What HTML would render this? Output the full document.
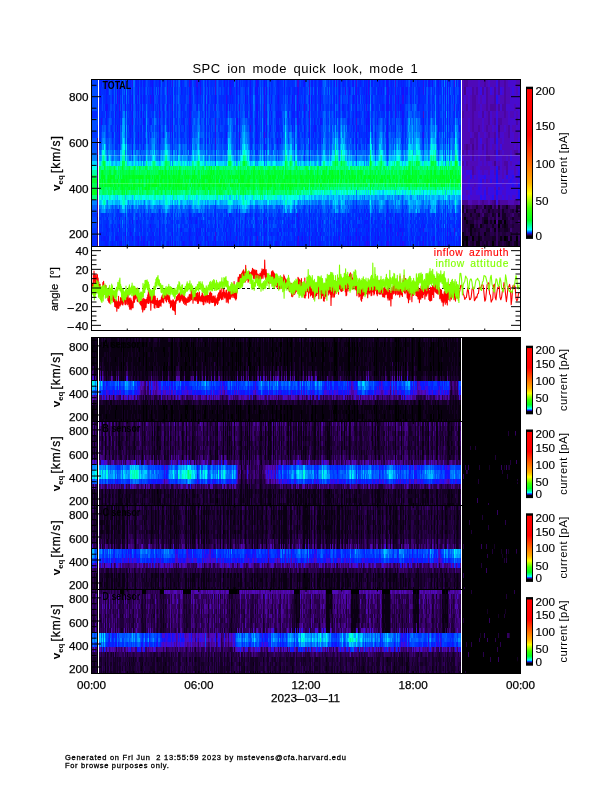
<!DOCTYPE html>
<html><head><meta charset="utf-8"><title>SPC ion mode quick look</title><style>html,body{margin:0;padding:0;background:#fff;overflow:hidden}svg{display:block}</style></head><body><svg width="612" height="792" viewBox="0 0 612 792"><defs>
<linearGradient id="cb" x1="0" y1="1" x2="0" y2="0">
<stop offset="0" stop-color="#000"/>
<stop offset="0.012" stop-color="#300070"/>
<stop offset="0.022" stop-color="#0020ff"/>
<stop offset="0.045" stop-color="#00ffff"/>
<stop offset="0.075" stop-color="#00ff90"/>
<stop offset="0.11" stop-color="#00ff20"/>
<stop offset="0.19" stop-color="#40ff00"/>
<stop offset="0.25" stop-color="#b0ff00"/>
<stop offset="0.29" stop-color="#ffff00"/>
<stop offset="0.364" stop-color="#ffb000"/>
<stop offset="0.453" stop-color="#ff8000"/>
<stop offset="0.60" stop-color="#ff3000"/>
<stop offset="0.69" stop-color="#ff0000"/>
<stop offset="1" stop-color="#ff0000"/>
</linearGradient>
</defs><rect width="612" height="792" fill="#fff"/><rect x="92" y="80" width="428" height="166" fill="#0030ff"/>
<g stroke-width="1" fill="none"><path stroke="#480ace" d="M423.5 111v7"/>
<path stroke="#3a0ce3" d="M189.5 80v7M215.5 80v15M215.5 118v14M215.5 138v6M215.5 232v4M257.5 236v5M264.5 104v7M264.5 132v6M297.5 80v7M298.5 80v7M298.5 236v5M309.5 80v15M309.5 111v7M356.5 80v7M356.5 118v7M395.5 80v7M454.5 80v7M454.5 228v4"/>
<path stroke="#280ef3" d="M101.5 118v7M117.5 95v9M119.5 104v7M125.5 236v5M132.5 80v7M132.5 118v7M141.5 236v5M150.5 95v9M159.5 111v7M167.5 87v8M172.5 80v7M172.5 104v7M172.5 125v7M189.5 95v9M189.5 118v7M190.5 111v7M196.5 80v7M197.5 80v7M200.5 87v8M215.5 104v7M215.5 132v6M215.5 144v6M215.5 236v5M226.5 95v9M230.5 87v8M236.5 236v5M239.5 104v7M239.5 132v6M250.5 125v7M256.5 80v7M264.5 87v17M264.5 111v7M266.5 118v7M297.5 95v9M297.5 118v7M297.5 213v4M297.5 241v5M298.5 87v8M298.5 241v5M304.5 104v7M309.5 104v7M309.5 118v14M309.5 236v10M336.5 80v7M339.5 95v9M339.5 236v5M345.5 87v8M356.5 87v8M356.5 125v7M356.5 228v4M356.5 236v5M366.5 104v7M366.5 241v5M368.5 80v15M368.5 241v5M387.5 87v8M387.5 220v4M387.5 241v5M388.5 241v5M395.5 87v31M397.5 232v4M402.5 95v9M402.5 232v4M403.5 95v9M403.5 241v5M423.5 80v15M423.5 132v6M423.5 228v4M423.5 241v5M447.5 232v4M454.5 104v7M454.5 232v4"/>
<path stroke="#1411fd" d="M100.5 232v4M106.5 104v14M107.5 80v7M107.5 104v7M115.5 111v7M116.5 236v5M117.5 87v8M117.5 125v7M119.5 87v17M119.5 111v7M119.5 125v19M119.5 217v3M119.5 224v8M121.5 241v5M125.5 80v7M125.5 104v7M125.5 217v3M125.5 232v4M130.5 104v7M130.5 232v4M132.5 95v23M132.5 220v4M132.5 236v5M138.5 87v8M138.5 132v6M138.5 236v10M141.5 111v7M143.5 118v7M143.5 241v5M147.5 241v5M150.5 224v4M152.5 80v15M153.5 95v16M153.5 241v5M159.5 80v15M159.5 104v7M159.5 125v7M159.5 138v6M159.5 228v8M167.5 80v7M167.5 104v7M172.5 95v9M172.5 111v14M172.5 132v6M172.5 232v4M172.5 241v5M183.5 241v5M189.5 104v14M189.5 125v19M189.5 217v3M189.5 236v5M190.5 80v31M190.5 118v7M196.5 220v4M196.5 232v4M197.5 87v8M197.5 236v5M200.5 80v7M200.5 228v4M205.5 95v23M205.5 228v13M207.5 236v5M208.5 241v5M214.5 236v5M215.5 95v9M215.5 220v4M215.5 241v5M224.5 80v7M224.5 241v5M226.5 104v14M226.5 132v6M226.5 232v9M227.5 241v5M229.5 213v4M230.5 80v7M230.5 232v4M236.5 80v15M236.5 118v7M236.5 224v8M237.5 118v7M239.5 80v7M239.5 138v6M245.5 95v9M245.5 217v3M245.5 228v4M245.5 241v5M250.5 80v15M250.5 104v7M250.5 236v10M255.5 87v8M255.5 118v7M256.5 104v7M256.5 125v7M256.5 232v4M256.5 241v5M257.5 80v15M257.5 104v14M263.5 220v4M264.5 80v7M264.5 118v14M264.5 138v12M264.5 220v4M264.5 236v10M266.5 87v8M266.5 111v7M266.5 125v13M266.5 220v4M276.5 241v5M277.5 138v6M278.5 95v9M280.5 138v6M284.5 80v7M288.5 224v4M292.5 95v9M294.5 104v7M297.5 87v8M297.5 104v14M297.5 236v5M298.5 217v3M298.5 228v4M299.5 104v7M302.5 236v5M304.5 80v7M304.5 111v7M304.5 125v7M309.5 95v9M309.5 132v18M309.5 220v12M311.5 95v9M315.5 125v7M315.5 241v5M320.5 95v16M320.5 118v7M320.5 232v4M334.5 80v7M339.5 80v15M339.5 104v7M342.5 224v8M347.5 236v5M348.5 224v8M348.5 241v5M349.5 87v8M350.5 236v5M353.5 80v7M353.5 95v9M356.5 95v23M356.5 132v18M356.5 217v3M356.5 232v4M359.5 217v3M359.5 236v10M366.5 87v17M366.5 118v14M366.5 213v4M367.5 236v10M368.5 111v14M368.5 228v4M369.5 95v9M375.5 236v5M378.5 236v5M382.5 224v4M386.5 80v7M386.5 104v7M386.5 224v4M386.5 241v5M387.5 80v7M387.5 95v16M387.5 118v26M387.5 209v4M387.5 228v4M387.5 236v5M388.5 87v24M388.5 220v4M390.5 224v8M395.5 213v7M398.5 95v9M398.5 224v4M400.5 104v7M400.5 228v4M400.5 241v5M401.5 236v5M402.5 87v8M402.5 111v14M402.5 241v5M403.5 87v8M403.5 111v7M423.5 118v7M423.5 236v5M428.5 80v7M429.5 80v7M432.5 80v7M433.5 236v5M434.5 236v5M438.5 80v7M438.5 125v7M438.5 224v4M438.5 241v5M445.5 87v17M445.5 111v7M445.5 241v5M447.5 80v15M447.5 224v8M447.5 236v10M450.5 232v4M459.5 80v7M459.5 236v5"/>
<path stroke="#0a1cff" d="M99.5 241v5M100.5 87v17M101.5 80v7M101.5 236v5M103.5 236v5M104.5 236v5M105.5 80v7M105.5 104v7M105.5 236v10M106.5 80v24M106.5 118v7M106.5 224v4M106.5 232v4M106.5 241v5M107.5 87v8M107.5 217v3M107.5 228v4M107.5 236v10M108.5 236v5M112.5 80v7M112.5 95v9M112.5 132v6M112.5 224v8M112.5 241v5M115.5 118v14M115.5 236v5M116.5 80v7M116.5 104v7M117.5 80v7M117.5 232v14M118.5 236v5M119.5 80v7M119.5 118v7M119.5 241v5M120.5 241v5M121.5 104v7M121.5 236v5M125.5 87v17M125.5 224v8M125.5 241v5M129.5 125v7M129.5 220v4M130.5 80v24M130.5 125v13M130.5 228v4M131.5 232v4M132.5 87v8M132.5 125v7M132.5 138v17M132.5 217v3M136.5 80v7M136.5 95v16M136.5 220v4M136.5 236v5M137.5 220v4M137.5 236v10M138.5 80v7M138.5 95v23M138.5 138v6M138.5 217v3M140.5 224v4M141.5 80v7M141.5 95v16M141.5 125v7M141.5 228v4M141.5 241v5M143.5 80v7M143.5 95v9M143.5 111v7M143.5 144v6M143.5 236v5M144.5 80v24M144.5 118v7M144.5 236v10M150.5 80v7M150.5 118v7M150.5 236v10M151.5 80v7M151.5 95v9M151.5 217v3M151.5 228v4M151.5 236v10M152.5 95v9M152.5 213v4M152.5 232v4M153.5 217v3M153.5 232v9M157.5 241v5M159.5 95v9M159.5 118v7M159.5 132v6M159.5 220v8M159.5 236v10M163.5 104v14M163.5 132v6M163.5 241v5M167.5 95v9M167.5 118v7M167.5 241v5M168.5 125v7M168.5 241v5M170.5 80v7M170.5 95v9M170.5 118v20M170.5 236v10M172.5 87v8M172.5 138v6M172.5 220v4M172.5 228v4M172.5 236v5M175.5 241v5M177.5 228v4M180.5 228v4M181.5 80v15M181.5 104v7M181.5 228v4M181.5 236v5M182.5 241v5M183.5 118v7M183.5 232v4M184.5 125v7M184.5 241v5M189.5 87v8M189.5 213v4M189.5 224v12M189.5 241v5M190.5 125v13M190.5 213v7M190.5 228v8M190.5 241v5M191.5 80v7M191.5 104v7M191.5 125v7M191.5 220v4M191.5 241v5M195.5 220v4M196.5 87v8M196.5 217v3M196.5 228v4M196.5 236v10M197.5 95v16M197.5 228v4M197.5 241v5M198.5 232v4M198.5 241v5M199.5 228v8M200.5 232v4M200.5 241v5M201.5 220v4M205.5 80v15M205.5 118v14M205.5 138v6M205.5 224v4M205.5 241v5M207.5 80v7M207.5 104v7M207.5 138v6M207.5 228v4M208.5 87v17M213.5 241v5M215.5 213v7M215.5 224v8M218.5 224v4M223.5 228v4M224.5 220v8M225.5 228v4M226.5 87v8M226.5 224v4M227.5 80v7M227.5 95v16M227.5 220v4M229.5 80v15M229.5 104v7M229.5 224v4M229.5 241v5M230.5 95v9M230.5 228v4M230.5 236v5M231.5 80v15M231.5 241v5M232.5 80v7M232.5 95v9M233.5 80v7M233.5 241v5M234.5 241v5M236.5 95v23M236.5 125v13M236.5 144v6M236.5 213v4M237.5 232v4M239.5 87v8M239.5 118v14M239.5 144v6M239.5 213v19M239.5 236v10M245.5 87v8M245.5 111v7M245.5 213v4M245.5 220v8M245.5 232v9M246.5 80v7M246.5 236v5M247.5 95v9M247.5 111v7M249.5 241v5M250.5 95v9M250.5 111v7M250.5 213v4M250.5 228v4M251.5 111v7M251.5 228v8M255.5 138v6M255.5 213v11M255.5 232v4M255.5 241v5M256.5 87v17M256.5 111v14M256.5 132v12M256.5 217v15M256.5 236v5M257.5 95v9M257.5 118v7M257.5 132v12M257.5 241v5M258.5 80v7M258.5 241v5M261.5 232v4M263.5 224v4M264.5 213v7M264.5 224v4M264.5 232v4M265.5 232v4M266.5 80v7M266.5 95v16M266.5 217v3M266.5 228v8M266.5 241v5M269.5 87v8M269.5 217v3M269.5 228v4M269.5 241v5M270.5 104v7M270.5 125v7M271.5 95v9M271.5 111v7M271.5 232v4M275.5 241v5M276.5 111v21M277.5 80v7M277.5 95v9M277.5 111v7M277.5 125v7M277.5 232v14M278.5 80v15M278.5 104v28M278.5 217v3M278.5 232v4M278.5 241v5M279.5 111v7M279.5 228v4M280.5 111v7M280.5 228v4M280.5 236v5M281.5 232v4M282.5 241v5M284.5 87v8M284.5 220v4M284.5 228v4M284.5 236v5M286.5 241v5M288.5 95v9M288.5 111v7M288.5 217v3M288.5 232v4M288.5 241v5M289.5 87v8M292.5 111v7M292.5 125v7M292.5 217v7M292.5 228v4M293.5 111v7M294.5 87v17M294.5 111v21M294.5 220v4M294.5 232v14M297.5 220v8M298.5 95v9M298.5 111v27M298.5 220v8M298.5 232v4M299.5 228v4M299.5 241v5M301.5 236v5M302.5 232v4M302.5 241v5M303.5 80v7M304.5 95v9M304.5 132v6M304.5 224v17M305.5 236v10M309.5 209v11M309.5 232v4M311.5 80v7M311.5 220v4M311.5 236v10M312.5 80v7M312.5 232v4M313.5 132v6M314.5 118v14M315.5 80v31M315.5 220v4M315.5 228v4M315.5 236v5M316.5 228v8M318.5 87v8M318.5 236v10M319.5 80v7M319.5 224v4M319.5 241v5M320.5 80v15M320.5 132v12M320.5 213v4M320.5 220v8M320.5 236v10M321.5 80v7M321.5 118v7M321.5 228v4M322.5 220v4M322.5 236v5M327.5 236v5M328.5 217v3M330.5 224v4M330.5 236v5M331.5 241v5M333.5 241v5M334.5 95v23M334.5 220v4M334.5 232v14M335.5 241v5M336.5 95v9M336.5 111v7M336.5 220v4M336.5 232v9M338.5 220v4M338.5 232v14M339.5 111v7M339.5 220v8M339.5 232v4M342.5 104v7M343.5 80v7M343.5 104v7M343.5 220v4M343.5 241v5M345.5 220v4M345.5 228v4M345.5 236v10M347.5 241v5M348.5 80v7M348.5 95v16M348.5 118v7M348.5 213v4M348.5 232v9M349.5 220v4M350.5 241v5M352.5 80v7M352.5 118v7M352.5 241v5M353.5 111v7M353.5 125v7M353.5 138v6M353.5 224v4M353.5 236v10M355.5 87v8M355.5 232v4M355.5 241v5M356.5 205v4M356.5 220v4M356.5 241v5M358.5 87v8M358.5 125v7M358.5 224v4M358.5 232v9M359.5 95v9M359.5 111v7M359.5 132v6M359.5 213v4M359.5 224v4M360.5 80v7M360.5 232v4M362.5 217v3M362.5 236v5M363.5 236v5M364.5 80v15M364.5 104v14M364.5 209v4M364.5 220v8M364.5 236v10M365.5 220v4M365.5 241v5M366.5 80v7M366.5 132v6M366.5 144v6M366.5 220v4M366.5 228v13M367.5 111v14M367.5 138v6M367.5 220v4M367.5 232v4M368.5 125v7M368.5 138v6M368.5 217v11M368.5 236v5M369.5 80v7M369.5 118v14M369.5 213v4M369.5 241v5M371.5 80v7M371.5 217v7M371.5 232v4M372.5 80v7M372.5 104v7M372.5 228v4M373.5 241v5M375.5 132v6M375.5 220v4M375.5 228v8M375.5 241v5M377.5 118v7M377.5 228v18M378.5 87v8M378.5 217v3M378.5 232v4M379.5 80v7M380.5 232v4M381.5 87v8M381.5 241v5M382.5 104v7M383.5 80v15M383.5 104v7M383.5 228v4M386.5 95v9M386.5 125v13M386.5 213v11M386.5 228v8M387.5 111v7M387.5 144v6M387.5 224v4M387.5 232v4M388.5 80v7M388.5 224v4M388.5 236v5M390.5 95v16M390.5 213v4M390.5 232v14M391.5 80v38M391.5 224v8M391.5 236v10M392.5 232v4M393.5 80v7M395.5 118v14M395.5 220v26M397.5 220v4M398.5 80v7M398.5 104v7M398.5 220v4M398.5 228v13M399.5 228v4M400.5 236v5M401.5 80v15M401.5 104v7M401.5 228v4M401.5 241v5M402.5 104v7M402.5 125v13M402.5 213v11M402.5 228v4M403.5 80v7M403.5 104v7M403.5 118v7M403.5 217v15M404.5 241v5M405.5 87v17M405.5 236v10M406.5 87v8M407.5 87v8M407.5 236v5M410.5 95v9M410.5 220v4M410.5 241v5M411.5 80v7M411.5 213v4M411.5 228v8M412.5 236v5M413.5 241v5M417.5 80v7M417.5 236v10M418.5 87v24M418.5 236v5M419.5 87v17M419.5 228v4M419.5 236v10M420.5 228v8M420.5 241v5M421.5 224v4M422.5 132v6M422.5 220v4M422.5 241v5M423.5 104v7M423.5 125v7M423.5 138v6M423.5 217v3M423.5 224v4M424.5 224v4M425.5 87v8M425.5 232v14M426.5 232v4M428.5 95v9M428.5 111v7M428.5 232v9M429.5 241v5M432.5 224v4M433.5 241v5M436.5 224v4M437.5 80v7M437.5 232v4M438.5 87v38M438.5 217v3M438.5 228v4M438.5 236v5M439.5 241v5M440.5 80v7M441.5 213v4M441.5 228v4M443.5 80v24M443.5 118v14M443.5 224v8M443.5 236v10M445.5 80v7M445.5 104v7M445.5 118v7M445.5 138v6M445.5 224v17M447.5 95v37M447.5 138v6M447.5 213v7M449.5 80v31M449.5 118v7M449.5 217v3M449.5 224v8M449.5 236v5M451.5 236v5M453.5 236v5M454.5 87v17M454.5 111v7M454.5 213v4M454.5 224v4M454.5 241v5M456.5 80v7M456.5 241v5M458.5 104v7M458.5 224v4M459.5 87v17M459.5 125v7M459.5 220v8M459.5 241v5M460.5 217v3"/>
<path stroke="#0329ff" d="M99.5 80v7M99.5 104v7M99.5 224v4M99.5 236v5M100.5 80v7M100.5 104v7M100.5 118v26M101.5 95v9M101.5 111v7M101.5 224v4M101.5 232v4M101.5 241v5M102.5 111v7M102.5 236v5M103.5 80v7M103.5 232v4M103.5 241v5M104.5 87v8M104.5 241v5M105.5 95v9M105.5 224v4M106.5 125v7M106.5 220v4M106.5 228v4M106.5 236v5M107.5 95v9M107.5 111v7M107.5 220v8M108.5 80v7M108.5 111v7M108.5 228v8M111.5 125v7M111.5 241v5M112.5 87v8M112.5 118v7M112.5 138v6M112.5 217v3M112.5 232v9M113.5 80v7M113.5 95v9M113.5 132v6M113.5 232v4M113.5 241v5M115.5 87v24M115.5 144v6M115.5 217v3M115.5 232v4M115.5 241v5M116.5 228v8M117.5 104v21M117.5 132v12M117.5 213v7M117.5 224v4M118.5 80v24M118.5 118v7M118.5 138v6M118.5 209v4M118.5 224v4M119.5 144v6M119.5 213v4M119.5 232v9M121.5 80v24M121.5 111v14M121.5 220v4M121.5 232v4M123.5 232v4M125.5 111v7M125.5 220v4M127.5 87v17M127.5 138v6M127.5 232v14M128.5 213v4M128.5 228v4M129.5 87v31M129.5 138v6M129.5 224v22M130.5 111v14M130.5 224v4M130.5 236v10M131.5 111v14M131.5 241v5M132.5 132v6M132.5 228v8M132.5 241v5M135.5 95v9M135.5 232v14M136.5 87v8M136.5 111v7M136.5 132v12M136.5 213v4M136.5 224v4M136.5 241v5M137.5 80v15M137.5 224v12M138.5 118v14M138.5 144v6M138.5 224v4M138.5 232v4M140.5 80v24M140.5 125v7M140.5 138v6M140.5 220v4M140.5 228v4M140.5 241v5M141.5 87v8M141.5 132v12M141.5 213v4M141.5 224v4M141.5 232v4M142.5 241v5M143.5 87v8M143.5 125v13M143.5 213v4M143.5 224v12M144.5 104v7M144.5 125v19M144.5 213v7M144.5 228v8M145.5 138v6M145.5 228v18M147.5 228v4M148.5 95v9M148.5 111v7M148.5 138v6M148.5 236v5M149.5 104v7M149.5 118v7M149.5 224v4M149.5 232v9M150.5 87v8M150.5 132v6M150.5 217v3M150.5 228v8M151.5 104v7M151.5 118v7M151.5 220v8M151.5 232v4M152.5 104v7M152.5 224v4M152.5 236v10M153.5 80v15M153.5 224v4M154.5 236v5M156.5 80v7M156.5 228v4M156.5 236v10M157.5 87v8M157.5 104v7M157.5 213v4M157.5 228v4M157.5 236v5M158.5 95v9M158.5 241v5M159.5 144v6M159.5 209v11M160.5 80v7M160.5 111v7M160.5 213v4M160.5 224v4M160.5 232v14M162.5 104v7M162.5 228v4M163.5 80v15M163.5 118v7M163.5 213v7M163.5 224v17M164.5 232v4M166.5 224v4M167.5 111v7M167.5 220v4M167.5 232v4M168.5 95v30M168.5 228v4M168.5 236v5M169.5 87v8M169.5 217v3M170.5 104v14M170.5 217v3M170.5 228v4M171.5 87v8M171.5 213v4M171.5 220v4M171.5 228v8M172.5 144v11M172.5 213v7M172.5 224v4M174.5 87v8M174.5 241v5M175.5 80v45M177.5 104v14M177.5 132v6M177.5 220v4M180.5 125v7M180.5 232v4M181.5 111v14M181.5 132v6M181.5 220v8M182.5 87v8M182.5 236v5M183.5 80v7M183.5 104v14M183.5 213v11M184.5 95v9M184.5 118v7M184.5 224v4M184.5 236v5M185.5 87v8M185.5 232v4M185.5 241v5M186.5 232v4M186.5 241v5M187.5 104v7M187.5 138v6M187.5 217v3M187.5 236v5M188.5 118v7M188.5 232v14M189.5 144v6M189.5 220v4M190.5 138v6M190.5 220v4M190.5 236v5M191.5 87v17M191.5 144v6M191.5 217v3M191.5 232v9M192.5 217v3M192.5 232v4M192.5 241v5M195.5 80v7M195.5 217v3M195.5 224v4M195.5 236v5M196.5 95v16M197.5 217v11M197.5 232v4M198.5 87v8M198.5 213v4M198.5 228v4M198.5 236v5M199.5 80v7M199.5 213v4M199.5 224v4M199.5 236v5M200.5 95v9M200.5 118v7M200.5 224v4M201.5 213v4M201.5 224v4M202.5 224v4M205.5 132v6M205.5 220v4M207.5 111v7M207.5 217v7M207.5 241v5M208.5 80v7M208.5 125v7M208.5 224v8M210.5 111v27M210.5 217v3M210.5 232v14M211.5 80v7M211.5 95v9M211.5 228v8M212.5 228v4M212.5 241v5M213.5 87v8M214.5 95v16M214.5 213v4M214.5 241v5M215.5 111v7M215.5 150v5M215.5 209v4M216.5 232v4M219.5 80v7M219.5 95v9M219.5 118v7M220.5 236v10M221.5 87v38M221.5 132v12M223.5 95v9M223.5 236v5M224.5 87v24M224.5 138v6M224.5 232v4M225.5 87v8M225.5 125v19M225.5 217v3M225.5 241v5M226.5 80v7M226.5 125v7M226.5 138v6M226.5 209v8M226.5 220v4M226.5 228v4M226.5 241v5M227.5 87v8M227.5 236v5M228.5 220v4M228.5 236v10M229.5 95v9M229.5 228v4M229.5 236v5M230.5 213v7M230.5 241v5M231.5 95v9M231.5 213v4M231.5 220v12M232.5 87v8M232.5 241v5M233.5 95v9M233.5 217v7M233.5 228v4M233.5 236v5M234.5 220v4M236.5 138v6M236.5 209v4M236.5 220v4M236.5 232v4M236.5 241v5M237.5 80v15M237.5 125v7M237.5 236v5M239.5 95v9M239.5 111v7M239.5 232v4M241.5 224v4M241.5 232v4M242.5 220v4M244.5 236v10M245.5 80v7M245.5 104v7M246.5 95v23M246.5 213v4M246.5 228v4M247.5 80v7M247.5 104v7M247.5 220v4M247.5 228v18M249.5 87v8M249.5 220v4M249.5 232v4M250.5 132v12M250.5 220v4M250.5 232v4M251.5 87v8M251.5 104v7M251.5 118v7M251.5 138v12M251.5 224v4M251.5 236v10M252.5 232v14M254.5 232v4M255.5 80v7M255.5 95v16M255.5 125v13M256.5 213v4M257.5 125v7M257.5 150v5M257.5 220v4M257.5 228v8M258.5 95v9M258.5 125v7M258.5 138v6M258.5 213v4M258.5 228v8M259.5 104v14M259.5 224v4M259.5 241v5M261.5 236v10M263.5 132v6M263.5 241v5M264.5 228v4M265.5 111v7M265.5 220v4M265.5 228v4M265.5 236v5M266.5 144v6M266.5 224v4M266.5 236v5M269.5 95v9M269.5 118v7M269.5 132v6M269.5 220v4M270.5 217v3M270.5 232v4M270.5 241v5M271.5 80v7M271.5 118v7M271.5 213v4M271.5 241v5M272.5 232v14M273.5 232v4M276.5 87v8M276.5 104v7M276.5 132v12M276.5 232v4M277.5 87v8M277.5 104v7M277.5 118v7M277.5 144v6M277.5 228v4M278.5 132v12M278.5 220v8M278.5 236v5M279.5 80v31M279.5 125v13M279.5 241v5M280.5 80v7M280.5 104v7M280.5 118v7M280.5 217v3M280.5 224v4M281.5 111v7M281.5 125v7M281.5 228v4M282.5 87v8M283.5 217v3M283.5 228v4M284.5 213v4M284.5 232v4M284.5 241v5M285.5 224v4M286.5 228v4M286.5 236v5M287.5 236v10M288.5 80v15M288.5 220v4M288.5 228v4M288.5 236v5M289.5 95v9M289.5 224v8M289.5 241v5M290.5 224v4M290.5 241v5M291.5 104v7M291.5 118v7M291.5 220v4M291.5 228v4M291.5 241v5M292.5 80v15M292.5 104v7M292.5 118v7M292.5 224v4M292.5 232v4M292.5 241v5M293.5 87v24M293.5 220v4M293.5 228v8M294.5 138v12M294.5 213v4M296.5 213v4M296.5 236v10M297.5 217v3M297.5 228v8M298.5 104v7M298.5 213v4M299.5 118v7M299.5 213v7M299.5 224v4M299.5 232v9M300.5 111v14M300.5 236v10M301.5 80v15M301.5 232v4M301.5 241v5M303.5 118v7M303.5 241v5M304.5 87v8M304.5 118v7M304.5 138v6M304.5 150v5M304.5 209v11M304.5 241v5M305.5 104v7M305.5 224v4M305.5 232v4M306.5 104v7M306.5 220v4M306.5 232v14M307.5 228v4M309.5 155v6M309.5 205v4M311.5 104v14M311.5 125v13M312.5 87v8M312.5 220v4M312.5 236v10M313.5 125v7M313.5 213v7M313.5 232v14M314.5 80v15M314.5 138v6M314.5 224v17M315.5 132v12M315.5 217v3M315.5 232v4M316.5 87v8M316.5 104v7M316.5 125v7M316.5 224v4M316.5 241v5M317.5 232v4M318.5 80v7M318.5 95v9M318.5 111v14M318.5 224v8M319.5 87v31M319.5 125v19M319.5 217v7M319.5 228v4M319.5 236v5M320.5 125v7M320.5 209v4M321.5 232v4M321.5 241v5M322.5 95v9M322.5 228v4M322.5 241v5M323.5 232v4M326.5 224v4M326.5 236v10M327.5 228v4M327.5 241v5M328.5 80v15M328.5 224v8M328.5 241v5M330.5 104v7M330.5 217v3M330.5 228v4M331.5 80v7M331.5 95v16M331.5 228v13M333.5 220v4M333.5 228v4M333.5 236v5M334.5 87v8M334.5 213v4M336.5 118v7M336.5 213v4M336.5 224v8M336.5 241v5M338.5 80v15M338.5 224v8M339.5 118v14M339.5 217v3M339.5 228v4M339.5 241v5M340.5 241v5M342.5 80v7M342.5 95v9M342.5 220v4M342.5 232v14M343.5 111v7M343.5 228v13M344.5 80v7M344.5 111v7M345.5 80v7M345.5 111v7M345.5 224v4M345.5 232v4M346.5 224v4M346.5 232v9M347.5 104v7M347.5 118v7M347.5 228v8M348.5 87v8M348.5 111v7M348.5 220v4M349.5 80v7M349.5 111v14M349.5 217v3M349.5 228v4M349.5 236v10M350.5 87v8M350.5 217v3M350.5 224v4M350.5 232v4M352.5 95v16M352.5 138v6M352.5 213v4M352.5 236v5M353.5 87v8M353.5 118v7M353.5 132v6M353.5 209v4M353.5 220v4M353.5 228v8M354.5 95v9M354.5 220v4M354.5 241v5M355.5 80v7M355.5 104v14M355.5 132v6M355.5 224v4M355.5 236v5M356.5 150v5M356.5 209v8M357.5 111v7M357.5 228v18M358.5 80v7M358.5 95v9M358.5 111v7M358.5 209v4M358.5 228v4M358.5 241v5M359.5 80v7M359.5 118v7M359.5 144v6M359.5 232v4M360.5 118v7M360.5 224v4M360.5 236v10M361.5 80v7M361.5 95v9M361.5 132v6M361.5 209v4M361.5 224v4M361.5 232v4M361.5 241v5M362.5 87v8M362.5 213v4M362.5 220v4M362.5 228v4M363.5 87v17M363.5 224v8M363.5 241v5M364.5 118v7M364.5 132v18M364.5 213v4M364.5 232v4M365.5 80v7M365.5 95v9M365.5 236v5M366.5 111v7M366.5 138v6M366.5 205v4M366.5 224v4M367.5 95v9M367.5 132v6M367.5 209v4M367.5 224v8M368.5 95v16M368.5 213v4M368.5 232v4M369.5 87v8M369.5 111v7M369.5 217v3M369.5 224v17M371.5 95v9M371.5 125v7M371.5 236v10M372.5 95v9M372.5 217v3M372.5 224v4M372.5 232v14M373.5 228v8M374.5 87v8M374.5 224v4M374.5 236v10M375.5 80v15M375.5 111v21M375.5 138v12M375.5 209v4M375.5 224v4M376.5 104v7M376.5 228v4M377.5 80v31M377.5 213v4M378.5 104v14M378.5 220v12M379.5 87v17M379.5 217v3M379.5 236v5M380.5 80v31M380.5 220v4M380.5 228v4M380.5 236v10M381.5 104v7M381.5 224v4M381.5 236v5M382.5 80v7M382.5 95v9M382.5 220v4M382.5 232v14M383.5 111v7M383.5 220v8M383.5 232v14M384.5 111v7M384.5 220v4M384.5 232v4M386.5 87v8M386.5 111v14M386.5 138v12M387.5 150v5M387.5 205v4M387.5 213v7M388.5 111v7M388.5 213v4M388.5 232v4M389.5 224v4M390.5 80v7M390.5 111v7M391.5 125v7M391.5 217v3M391.5 232v4M392.5 87v8M392.5 213v4M393.5 87v8M393.5 232v4M393.5 241v5M394.5 228v4M394.5 241v5M395.5 132v6M396.5 95v9M396.5 111v7M396.5 228v4M396.5 236v10M397.5 87v17M397.5 217v3M397.5 228v4M397.5 236v10M398.5 87v8M398.5 111v7M398.5 213v7M398.5 241v5M399.5 80v15M399.5 232v4M399.5 241v5M400.5 80v7M400.5 111v7M400.5 224v4M400.5 232v4M401.5 95v9M401.5 111v7M401.5 138v6M401.5 213v4M401.5 224v4M401.5 232v4M402.5 80v7M402.5 138v12M402.5 209v4M402.5 224v4M402.5 236v5M403.5 125v7M403.5 232v4M404.5 80v7M404.5 104v7M404.5 228v4M404.5 236v5M405.5 80v7M405.5 125v13M405.5 213v4M405.5 220v4M405.5 228v8M406.5 224v8M406.5 236v5M407.5 111v7M407.5 217v3M407.5 232v4M407.5 241v5M410.5 80v15M410.5 228v4M411.5 87v17M411.5 217v3M411.5 224v4M411.5 236v5M412.5 224v4M413.5 87v17M413.5 213v4M413.5 224v17M415.5 220v12M415.5 236v10M416.5 224v4M416.5 232v14M417.5 104v7M417.5 213v4M417.5 220v8M417.5 232v4M418.5 80v7M418.5 213v19M419.5 213v4M419.5 224v4M420.5 80v24M420.5 236v5M421.5 80v24M421.5 118v7M421.5 217v3M421.5 228v8M421.5 241v5M422.5 80v45M422.5 213v4M422.5 224v17M423.5 95v9M423.5 144v6M423.5 220v4M423.5 232v4M424.5 232v4M425.5 80v7M425.5 95v9M425.5 213v11M426.5 80v7M426.5 236v5M428.5 104v7M428.5 118v7M428.5 224v4M428.5 241v5M429.5 87v38M429.5 224v4M429.5 236v5M430.5 80v7M430.5 217v3M430.5 241v5M431.5 236v5M432.5 87v17M432.5 111v7M432.5 220v4M432.5 232v14M433.5 95v9M433.5 217v3M433.5 224v12M434.5 87v8M434.5 104v7M434.5 213v4M434.5 220v4M434.5 228v8M434.5 241v5M436.5 87v8M437.5 87v17M437.5 118v7M437.5 138v6M437.5 217v3M437.5 224v8M437.5 236v5M438.5 132v12M438.5 205v4M438.5 220v4M439.5 87v8M439.5 111v7M439.5 228v8M440.5 87v8M440.5 220v8M440.5 236v10M441.5 95v9M441.5 220v4M443.5 111v7M443.5 132v6M443.5 213v11M443.5 232v4M445.5 132v6M445.5 205v12M445.5 220v4M447.5 132v6M447.5 220v4M448.5 241v5M449.5 111v7M449.5 132v12M449.5 220v4M449.5 232v4M449.5 241v5M450.5 95v9M450.5 220v4M450.5 228v4M450.5 236v10M451.5 241v5M452.5 220v4M453.5 87v8M453.5 111v7M453.5 213v4M453.5 224v4M453.5 241v5M454.5 217v7M454.5 236v5M455.5 228v4M456.5 111v7M456.5 220v8M456.5 236v5M457.5 111v7M457.5 224v8M458.5 80v7M458.5 217v7M458.5 232v14M459.5 111v7M459.5 138v6M459.5 228v4M460.5 80v7M460.5 95v9M460.5 125v7M460.5 209v4M460.5 220v12M460.5 236v5"/>
<path stroke="#0041ff" d="M99.5 132v6M99.5 144v6M99.5 209v8M100.5 213v4M100.5 220v4M101.5 132v6M102.5 80v7M102.5 217v15M103.5 118v7M104.5 80v7M104.5 104v7M104.5 118v7M104.5 213v7M105.5 217v3M106.5 138v6M107.5 144v6M107.5 213v4M108.5 118v7M108.5 132v6M109.5 111v7M109.5 232v4M109.5 241v5M110.5 95v9M110.5 125v7M110.5 213v4M110.5 224v12M111.5 87v17M111.5 132v6M111.5 213v7M111.5 232v4M112.5 144v6M113.5 104v7M113.5 125v7M113.5 138v6M113.5 209v8M113.5 224v4M114.5 228v4M115.5 80v7M115.5 209v8M115.5 220v4M116.5 125v7M116.5 209v4M116.5 217v11M116.5 241v5M118.5 217v3M119.5 150v5M120.5 80v7M120.5 95v9M120.5 118v7M120.5 217v3M120.5 224v4M121.5 125v7M121.5 217v3M122.5 213v4M122.5 228v8M122.5 241v5M123.5 80v15M123.5 213v11M123.5 228v4M124.5 95v9M124.5 224v8M124.5 236v10M125.5 118v7M125.5 132v6M127.5 132v6M127.5 213v4M127.5 220v4M127.5 228v4M128.5 87v8M128.5 111v7M128.5 132v6M128.5 217v11M128.5 232v4M129.5 144v6M131.5 87v8M131.5 104v7M131.5 138v6M131.5 220v4M132.5 205v4M133.5 220v4M133.5 232v4M134.5 236v10M135.5 104v7M135.5 132v6M135.5 213v19M136.5 217v3M137.5 95v9M137.5 111v14M137.5 144v6M137.5 217v3M138.5 209v4M139.5 80v7M139.5 104v7M139.5 118v26M139.5 217v3M139.5 224v4M140.5 104v7M140.5 118v7M140.5 150v5M140.5 209v4M140.5 217v3M140.5 236v5M141.5 209v4M142.5 80v24M142.5 118v7M142.5 217v3M142.5 224v4M142.5 232v4M143.5 217v3M144.5 111v7M144.5 144v6M145.5 87v8M145.5 213v4M146.5 95v9M146.5 224v17M147.5 80v7M147.5 95v23M147.5 213v4M147.5 224v4M148.5 87v8M148.5 118v14M148.5 209v4M148.5 220v4M148.5 241v5M149.5 217v3M149.5 228v4M149.5 241v5M150.5 125v7M150.5 209v8M151.5 111v7M152.5 125v7M153.5 118v14M154.5 80v7M154.5 217v7M155.5 111v7M155.5 125v7M155.5 213v11M155.5 228v4M156.5 95v16M156.5 125v7M156.5 213v15M157.5 95v9M157.5 132v6M157.5 144v6M157.5 220v8M158.5 104v14M158.5 125v7M158.5 213v4M158.5 228v8M159.5 150v5M160.5 87v24M160.5 118v7M160.5 209v4M160.5 217v3M161.5 95v9M161.5 217v19M162.5 111v14M162.5 132v6M162.5 213v4M162.5 236v5M164.5 87v8M164.5 104v7M164.5 213v7M164.5 241v5M165.5 236v5M166.5 104v7M166.5 118v7M166.5 217v3M166.5 232v9M168.5 217v7M169.5 104v28M169.5 220v4M169.5 232v4M170.5 144v6M170.5 209v8M170.5 232v4M171.5 80v7M171.5 138v6M171.5 217v3M171.5 236v10M172.5 205v4M173.5 236v5M174.5 80v7M174.5 95v9M174.5 138v6M175.5 209v4M175.5 217v3M176.5 87v8M176.5 236v10M177.5 95v9M177.5 150v5M177.5 217v3M177.5 236v5M178.5 232v14M179.5 118v7M179.5 213v11M179.5 228v8M180.5 87v8M180.5 104v21M180.5 138v6M180.5 217v7M180.5 241v5M181.5 125v7M181.5 144v6M181.5 209v8M181.5 232v4M182.5 111v7M182.5 125v7M182.5 138v6M182.5 224v4M183.5 125v7M183.5 138v6M183.5 224v4M184.5 80v7M184.5 132v6M184.5 213v4M184.5 228v4M185.5 220v4M185.5 228v4M186.5 87v8M186.5 111v27M186.5 213v7M186.5 228v4M187.5 95v9M187.5 118v7M187.5 220v4M187.5 228v4M188.5 87v17M188.5 138v12M188.5 209v11M190.5 144v11M190.5 209v4M192.5 87v8M192.5 104v7M192.5 118v7M192.5 228v4M193.5 80v7M193.5 111v7M193.5 213v4M193.5 224v4M193.5 241v5M194.5 95v9M194.5 111v7M194.5 224v4M194.5 236v5M195.5 111v7M195.5 213v4M196.5 111v14M197.5 111v7M198.5 220v8M199.5 104v7M200.5 125v7M201.5 95v9M201.5 111v7M201.5 125v7M201.5 138v6M201.5 217v3M201.5 232v4M202.5 104v7M202.5 138v6M202.5 217v3M202.5 232v4M202.5 241v5M203.5 220v4M203.5 241v5M204.5 80v7M204.5 95v16M204.5 125v13M204.5 217v3M205.5 150v5M205.5 209v4M206.5 224v4M206.5 241v5M207.5 87v8M207.5 144v6M207.5 224v4M208.5 104v14M208.5 132v6M208.5 213v4M208.5 232v4M209.5 80v7M209.5 95v9M209.5 224v4M209.5 232v4M210.5 95v9M211.5 118v7M211.5 132v6M212.5 87v8M212.5 118v7M212.5 132v6M212.5 144v6M212.5 213v11M212.5 232v9M213.5 138v6M213.5 220v4M214.5 87v8M214.5 111v21M214.5 138v12M214.5 217v3M214.5 232v4M216.5 80v15M216.5 111v14M216.5 220v4M216.5 236v5M217.5 209v4M217.5 228v8M218.5 80v24M218.5 118v7M218.5 209v4M218.5 228v4M219.5 87v8M219.5 111v7M219.5 138v6M219.5 209v8M219.5 220v4M220.5 118v7M220.5 138v6M220.5 220v8M221.5 125v7M221.5 144v6M221.5 209v4M221.5 224v4M221.5 236v5M222.5 80v15M222.5 104v7M222.5 125v7M222.5 217v11M222.5 236v5M223.5 87v8M223.5 104v40M223.5 217v7M223.5 232v4M223.5 241v5M224.5 118v7M224.5 144v6M224.5 213v4M225.5 144v6M225.5 209v4M225.5 220v8M225.5 232v9M226.5 144v6M227.5 228v4M228.5 80v7M229.5 111v7M229.5 217v3M230.5 104v7M232.5 104v7M232.5 213v4M232.5 220v4M233.5 118v7M233.5 132v6M233.5 213v4M234.5 111v14M234.5 209v11M234.5 224v4M235.5 87v17M235.5 111v7M235.5 213v7M235.5 232v4M236.5 150v5M237.5 104v7M237.5 217v7M238.5 87v8M238.5 213v7M238.5 232v14M240.5 80v24M240.5 118v7M240.5 132v6M240.5 228v4M241.5 104v14M241.5 217v3M242.5 80v7M242.5 104v7M242.5 213v4M242.5 224v12M242.5 241v5M243.5 87v17M243.5 228v4M244.5 87v8M244.5 104v7M244.5 217v7M246.5 224v4M247.5 118v7M247.5 217v3M248.5 80v7M248.5 104v7M248.5 118v7M248.5 213v7M248.5 224v4M248.5 236v5M249.5 104v14M249.5 132v6M249.5 217v3M249.5 224v4M250.5 150v5M251.5 209v4M252.5 132v6M252.5 209v4M252.5 217v3M253.5 220v4M253.5 241v5M254.5 213v4M254.5 228v4M254.5 236v10M255.5 209v4M256.5 144v6M257.5 205v8M258.5 87v8M258.5 118v7M258.5 209v4M259.5 80v7M259.5 138v12M259.5 217v7M259.5 232v4M260.5 228v4M260.5 236v10M261.5 132v12M261.5 209v11M261.5 224v4M262.5 232v4M263.5 95v9M263.5 138v12M263.5 217v3M263.5 236v5M264.5 155v6M264.5 205v4M265.5 87v8M265.5 125v7M265.5 209v8M265.5 224v4M267.5 213v4M267.5 224v8M267.5 236v10M268.5 217v3M268.5 232v4M268.5 241v5M269.5 104v7M269.5 144v6M269.5 209v4M270.5 80v24M270.5 111v14M270.5 132v6M270.5 213v4M270.5 220v4M270.5 236v5M271.5 104v7M271.5 125v13M271.5 144v6M271.5 228v4M272.5 95v43M272.5 213v4M272.5 224v8M273.5 80v15M273.5 144v6M273.5 236v5M274.5 87v8M274.5 118v14M274.5 213v4M274.5 236v5M275.5 80v7M275.5 111v14M275.5 138v6M275.5 217v3M276.5 144v6M276.5 209v8M276.5 224v4M277.5 132v6M277.5 220v4M278.5 150v5M278.5 228v4M279.5 118v7M279.5 144v6M279.5 232v4M280.5 132v6M280.5 220v4M280.5 232v4M280.5 241v5M281.5 104v7M281.5 213v4M281.5 224v4M281.5 236v10M282.5 104v7M282.5 118v7M282.5 138v6M282.5 217v3M282.5 224v4M282.5 232v9M283.5 87v8M283.5 104v7M283.5 220v4M283.5 232v4M284.5 104v7M285.5 220v4M285.5 232v4M285.5 241v5M286.5 80v7M286.5 95v9M286.5 213v4M287.5 104v14M287.5 217v3M287.5 224v4M287.5 232v4M288.5 125v7M288.5 138v6M289.5 118v14M289.5 213v4M290.5 95v16M290.5 213v7M290.5 232v4M291.5 87v17M291.5 213v7M291.5 224v4M291.5 232v9M292.5 132v6M293.5 125v7M293.5 217v3M293.5 224v4M294.5 224v4M295.5 111v7M295.5 241v5M296.5 80v7M296.5 95v16M296.5 228v4M297.5 138v12M298.5 209v4M299.5 111v7M299.5 125v7M300.5 80v7M300.5 138v12M300.5 209v8M300.5 220v4M300.5 228v4M301.5 95v9M301.5 118v7M301.5 132v6M302.5 104v7M302.5 209v15M303.5 87v17M303.5 111v7M303.5 132v12M303.5 205v4M303.5 224v4M305.5 138v6M305.5 205v4M305.5 213v4M305.5 228v4M306.5 87v8M306.5 125v7M307.5 87v8M307.5 213v4M307.5 220v4M308.5 80v7M308.5 95v9M308.5 118v14M310.5 217v3M310.5 228v13M311.5 232v4M312.5 205v15M313.5 80v7M313.5 104v7M313.5 118v7M313.5 138v6M313.5 224v4M314.5 132v6M314.5 144v11M314.5 209v4M314.5 217v3M315.5 150v5M315.5 205v4M316.5 118v7M316.5 138v6M316.5 213v11M317.5 80v7M317.5 95v9M317.5 132v12M317.5 213v4M318.5 132v6M318.5 144v6M318.5 209v4M318.5 232v4M319.5 118v7M319.5 144v6M319.5 213v4M320.5 150v5M321.5 104v7M321.5 125v13M321.5 205v8M321.5 220v8M322.5 80v15M322.5 111v7M322.5 125v13M322.5 213v7M323.5 213v19M324.5 217v3M324.5 224v4M324.5 236v5M325.5 87v24M325.5 213v4M325.5 224v4M325.5 232v4M325.5 241v5M326.5 80v24M326.5 125v13M326.5 144v6M326.5 209v11M326.5 228v4M327.5 80v7M327.5 95v9M327.5 111v33M327.5 224v4M327.5 232v4M328.5 111v7M328.5 132v6M328.5 205v4M329.5 209v4M329.5 236v5M330.5 95v9M330.5 118v26M330.5 205v4M330.5 213v4M331.5 111v14M331.5 132v12M331.5 205v4M331.5 217v3M331.5 224v4M332.5 104v7M332.5 217v29M333.5 111v7M333.5 224v4M334.5 217v3M335.5 232v4M336.5 104v7M336.5 125v7M337.5 111v7M337.5 232v4M338.5 118v14M339.5 205v8M340.5 95v23M340.5 217v7M340.5 236v5M341.5 80v7M341.5 232v4M343.5 95v9M343.5 213v4M344.5 87v17M344.5 213v4M344.5 224v4M344.5 236v5M345.5 95v9M346.5 95v16M346.5 217v3M347.5 87v8M347.5 111v7M347.5 138v6M348.5 132v6M348.5 205v4M349.5 125v19M349.5 224v4M350.5 95v16M350.5 118v14M350.5 209v4M350.5 220v4M350.5 228v4M351.5 80v7M351.5 111v14M351.5 132v6M351.5 209v4M351.5 232v4M352.5 125v13M352.5 144v6M353.5 144v11M353.5 200v5M354.5 104v21M354.5 217v3M354.5 228v4M355.5 125v7M355.5 144v6M357.5 80v7M357.5 118v7M357.5 205v8M358.5 104v7M358.5 118v7M358.5 132v18M358.5 205v4M358.5 220v4M359.5 220v4M360.5 87v8M360.5 104v7M360.5 138v6M360.5 217v3M361.5 104v7M361.5 217v7M361.5 228v4M361.5 236v5M362.5 95v9M362.5 118v7M362.5 205v8M363.5 80v7M363.5 104v28M363.5 209v4M365.5 104v7M365.5 125v7M365.5 138v6M365.5 213v4M366.5 150v5M366.5 209v4M367.5 104v7M367.5 205v4M367.5 217v3M369.5 138v6M371.5 87v8M371.5 213v4M371.5 224v4M372.5 118v7M373.5 80v7M373.5 209v8M374.5 95v16M374.5 213v4M374.5 228v4M376.5 111v14M376.5 132v6M376.5 213v7M376.5 224v4M377.5 125v7M377.5 209v4M378.5 118v7M378.5 241v5M379.5 232v4M380.5 111v7M380.5 217v3M381.5 217v7M381.5 228v4M382.5 213v7M383.5 132v6M384.5 87v17M384.5 217v3M385.5 118v7M385.5 217v3M385.5 224v4M385.5 232v4M385.5 241v5M386.5 150v5M386.5 205v8M387.5 155v6M387.5 200v5M388.5 132v6M388.5 205v4M389.5 80v7M389.5 125v7M389.5 220v4M389.5 236v5M391.5 132v6M392.5 95v16M392.5 125v7M392.5 209v4M392.5 220v4M393.5 111v14M393.5 138v6M393.5 213v4M393.5 228v4M394.5 87v8M394.5 104v7M394.5 125v7M394.5 217v7M396.5 80v15M396.5 232v4M397.5 80v7M397.5 111v7M400.5 87v8M400.5 118v14M400.5 213v11M401.5 132v6M401.5 209v4M401.5 217v3M402.5 200v5M403.5 213v4M404.5 118v14M404.5 213v15M404.5 232v4M405.5 104v14M405.5 144v6M405.5 209v4M406.5 80v7M406.5 111v27M406.5 213v4M407.5 104v7M407.5 224v4M408.5 213v4M408.5 220v4M408.5 232v4M409.5 87v8M409.5 224v12M409.5 241v5M410.5 104v7M410.5 217v3M410.5 224v4M411.5 241v5M412.5 80v24M412.5 111v7M412.5 217v7M412.5 228v4M414.5 80v7M414.5 228v4M414.5 241v5M415.5 87v8M415.5 232v4M416.5 80v7M416.5 95v9M416.5 228v4M417.5 95v9M417.5 111v7M418.5 111v7M418.5 241v5M420.5 118v7M420.5 209v4M420.5 224v4M421.5 236v5M422.5 144v6M424.5 80v7M424.5 104v28M424.5 217v3M424.5 228v4M425.5 104v7M425.5 209v4M425.5 228v4M426.5 111v7M426.5 228v4M427.5 228v18M428.5 205v4M429.5 125v19M430.5 87v17M430.5 111v7M430.5 236v5M431.5 213v7M431.5 228v8M431.5 241v5M433.5 80v15M433.5 104v14M433.5 220v4M434.5 80v7M434.5 95v9M434.5 111v14M434.5 217v3M435.5 217v3M436.5 217v3M436.5 228v4M436.5 241v5M437.5 125v7M437.5 144v6M438.5 150v5M439.5 95v9M439.5 209v4M439.5 217v11M439.5 236v5M440.5 95v9M440.5 111v7M440.5 132v6M441.5 80v7M441.5 111v7M441.5 224v4M442.5 228v8M442.5 241v5M443.5 144v6M444.5 220v4M444.5 228v13M445.5 150v11M446.5 228v8M446.5 241v5M447.5 209v4M448.5 80v7M448.5 217v3M448.5 224v4M448.5 232v4M449.5 213v4M450.5 118v7M450.5 132v6M450.5 213v4M450.5 224v4M451.5 87v8M451.5 118v7M451.5 213v4M451.5 224v8M452.5 80v15M452.5 104v21M452.5 213v7M452.5 228v4M453.5 104v7M453.5 125v13M453.5 205v4M453.5 217v3M453.5 228v4M454.5 125v7M454.5 209v4M455.5 224v4M455.5 236v10M456.5 87v8M456.5 213v4M457.5 236v5M458.5 87v8M458.5 111v7M458.5 125v7M458.5 228v4M459.5 118v7M459.5 132v6M459.5 205v8M460.5 118v7M460.5 213v4M460.5 232v4"/>
<path stroke="#004eff" d="M100.5 144v6M101.5 138v6M102.5 95v16M103.5 125v7M105.5 111v7M106.5 144v6M106.5 209v4M107.5 138v6M108.5 125v7M108.5 138v6M108.5 217v3M109.5 132v6M109.5 213v15M109.5 236v5M110.5 80v15M110.5 104v14M110.5 132v6M110.5 217v3M110.5 236v5M111.5 104v7M111.5 118v7M111.5 138v6M111.5 209v4M111.5 220v4M112.5 205v8M113.5 144v6M113.5 217v3M114.5 80v7M114.5 104v7M114.5 118v14M114.5 217v7M114.5 232v9M115.5 205v4M116.5 87v17M117.5 150v5M118.5 144v6M118.5 228v4M119.5 155v6M119.5 205v8M120.5 104v7M120.5 220v4M122.5 217v3M122.5 236v5M123.5 104v7M124.5 104v7M124.5 217v7M125.5 138v6M126.5 104v7M126.5 236v10M127.5 144v6M127.5 209v4M127.5 217v3M128.5 95v9M128.5 125v7M128.5 209v4M128.5 241v5M130.5 144v6M131.5 144v6M131.5 209v4M132.5 155v6M133.5 104v7M133.5 118v7M133.5 132v12M133.5 209v8M134.5 220v8M134.5 232v4M135.5 111v7M135.5 144v11M137.5 209v4M138.5 155v6M139.5 87v17M139.5 111v7M139.5 213v4M139.5 232v4M140.5 144v6M141.5 155v6M141.5 205v4M142.5 111v7M142.5 132v18M142.5 213v4M142.5 220v4M142.5 228v4M143.5 205v8M144.5 155v6M145.5 132v6M145.5 144v6M146.5 80v7M146.5 213v11M147.5 118v7M147.5 132v6M147.5 220v4M147.5 232v4M148.5 144v6M149.5 132v18M149.5 213v4M150.5 138v12M151.5 132v6M152.5 118v7M153.5 132v6M154.5 87v24M154.5 232v4M154.5 241v5M155.5 95v9M155.5 132v6M155.5 144v6M156.5 118v7M158.5 87v8M158.5 118v7M158.5 132v18M158.5 209v4M158.5 220v8M159.5 155v6M160.5 144v6M161.5 87v8M161.5 104v21M161.5 132v6M161.5 213v4M161.5 241v5M162.5 125v7M162.5 209v4M162.5 217v7M163.5 138v6M164.5 125v13M164.5 220v4M165.5 80v7M165.5 95v9M165.5 232v4M165.5 241v5M166.5 80v15M166.5 111v7M166.5 125v7M166.5 228v4M167.5 132v6M168.5 132v12M169.5 138v6M169.5 213v4M171.5 132v6M171.5 144v6M171.5 209v4M173.5 220v4M173.5 232v4M173.5 241v5M174.5 118v7M174.5 144v6M175.5 125v7M175.5 138v6M175.5 220v4M176.5 80v7M176.5 95v23M176.5 125v19M176.5 217v3M176.5 224v8M177.5 144v6M177.5 209v4M178.5 104v7M178.5 125v19M178.5 217v3M178.5 228v4M179.5 87v17M181.5 150v5M182.5 150v5M185.5 80v7M185.5 104v7M185.5 118v26M185.5 213v7M186.5 80v7M186.5 95v16M186.5 138v6M186.5 209v4M186.5 220v4M187.5 150v5M187.5 209v8M188.5 224v4M189.5 205v4M190.5 205v4M191.5 150v5M191.5 209v4M192.5 80v7M192.5 111v7M192.5 132v6M192.5 213v4M193.5 104v7M194.5 104v7M194.5 125v13M194.5 228v4M195.5 104v7M195.5 118v14M196.5 125v7M197.5 209v4M198.5 217v3M200.5 132v6M200.5 144v6M201.5 118v7M201.5 228v4M202.5 118v14M203.5 111v7M203.5 213v4M203.5 228v4M203.5 236v5M204.5 87v8M204.5 111v7M204.5 138v12M205.5 205v4M206.5 80v15M206.5 104v7M206.5 213v11M206.5 228v4M207.5 205v4M208.5 118v7M208.5 144v11M208.5 209v4M208.5 220v4M209.5 87v8M209.5 104v14M209.5 125v7M209.5 213v4M209.5 220v4M210.5 144v6M210.5 209v4M211.5 125v7M211.5 138v6M211.5 150v5M211.5 209v4M212.5 209v4M213.5 104v7M213.5 118v14M213.5 224v4M214.5 205v4M214.5 220v4M216.5 132v6M216.5 209v11M216.5 228v4M217.5 104v7M217.5 118v7M217.5 132v12M217.5 217v7M217.5 236v5M218.5 104v14M218.5 132v6M218.5 232v4M219.5 144v6M220.5 87v8M220.5 125v7M220.5 144v6M220.5 209v4M221.5 150v5M222.5 138v6M222.5 209v4M222.5 228v4M223.5 144v6M223.5 209v4M224.5 150v5M225.5 150v5M225.5 213v4M226.5 150v5M227.5 118v7M227.5 132v6M227.5 144v6M228.5 87v8M230.5 111v7M232.5 118v7M232.5 132v12M233.5 138v6M233.5 209v4M234.5 132v18M234.5 228v4M235.5 80v7M235.5 104v7M235.5 125v7M235.5 138v6M235.5 228v4M236.5 155v6M237.5 205v8M238.5 80v7M238.5 104v7M238.5 118v7M238.5 132v12M238.5 220v8M240.5 104v14M240.5 125v7M240.5 213v4M240.5 224v4M240.5 232v4M241.5 87v17M241.5 118v14M241.5 213v4M242.5 87v17M242.5 111v7M242.5 217v3M243.5 213v15M243.5 236v5M244.5 95v9M244.5 213v4M245.5 118v7M247.5 125v7M248.5 95v9M248.5 241v5M249.5 138v6M250.5 205v4M251.5 220v4M252.5 144v11M252.5 220v4M253.5 80v7M253.5 236v5M254.5 80v15M254.5 111v14M254.5 132v6M254.5 217v3M254.5 224v4M255.5 205v4M256.5 155v6M256.5 205v4M258.5 111v7M258.5 144v6M258.5 217v3M259.5 209v4M260.5 80v7M260.5 111v21M260.5 213v7M260.5 224v4M261.5 144v6M262.5 80v7M262.5 213v7M262.5 224v8M262.5 241v5M266.5 205v4M266.5 213v4M267.5 87v8M267.5 125v7M267.5 220v4M267.5 232v4M268.5 220v4M270.5 138v6M270.5 209v4M270.5 224v4M271.5 150v5M271.5 209v4M272.5 150v5M272.5 209v4M273.5 95v16M273.5 138v6M273.5 220v4M273.5 241v5M274.5 80v7M274.5 95v16M274.5 209v4M274.5 217v11M275.5 87v8M275.5 125v7M275.5 213v4M275.5 224v4M276.5 150v11M276.5 205v4M277.5 205v4M278.5 155v6M279.5 205v4M280.5 144v6M280.5 209v4M281.5 132v12M281.5 209v4M282.5 111v7M282.5 205v4M282.5 213v4M282.5 228v4M283.5 80v7M283.5 95v9M283.5 213v4M284.5 111v7M285.5 80v15M285.5 217v3M286.5 104v7M287.5 95v9M287.5 213v4M288.5 132v6M290.5 111v14M293.5 132v6M294.5 205v4M295.5 213v4M295.5 232v4M297.5 205v8M298.5 150v5M298.5 205v4M300.5 132v6M301.5 138v6M301.5 224v4M302.5 118v14M302.5 138v12M303.5 125v7M305.5 209v4M306.5 80v7M306.5 95v9M306.5 111v14M306.5 132v12M306.5 209v4M307.5 80v7M307.5 104v21M307.5 132v12M307.5 232v4M308.5 209v11M308.5 224v4M310.5 80v7M310.5 104v7M310.5 220v8M311.5 150v5M311.5 205v4M313.5 144v6M313.5 205v8M316.5 205v4M317.5 111v7M317.5 125v7M317.5 205v4M317.5 220v8M318.5 150v5M319.5 150v5M319.5 205v8M320.5 205v4M321.5 138v6M321.5 236v5M322.5 209v4M323.5 87v17M323.5 236v5M324.5 95v16M324.5 213v4M325.5 217v7M326.5 138v6M326.5 205v4M327.5 144v6M327.5 205v4M327.5 217v3M328.5 125v7M328.5 138v12M329.5 80v7M329.5 95v16M329.5 213v4M329.5 224v12M329.5 241v5M330.5 144v6M330.5 209v4M331.5 220v4M332.5 80v15M332.5 118v7M332.5 213v4M333.5 118v14M333.5 213v4M333.5 232v4M334.5 125v13M334.5 209v4M335.5 95v9M335.5 213v4M335.5 228v4M337.5 80v24M337.5 213v7M337.5 228v4M338.5 132v6M339.5 138v12M341.5 87v8M341.5 104v7M341.5 213v15M342.5 118v7M343.5 118v7M345.5 118v14M345.5 209v4M346.5 80v15M346.5 111v14M346.5 213v4M346.5 220v4M347.5 95v9M347.5 132v6M347.5 144v6M347.5 209v4M348.5 138v6M349.5 209v4M350.5 111v7M350.5 144v6M350.5 205v4M351.5 87v17M351.5 138v6M351.5 205v4M351.5 213v4M351.5 220v8M351.5 241v5M352.5 87v8M352.5 150v5M352.5 205v4M352.5 228v4M354.5 80v7M354.5 132v6M354.5 205v4M354.5 213v4M355.5 205v4M357.5 95v16M357.5 132v6M357.5 217v7M359.5 205v8M360.5 205v8M361.5 118v7M361.5 138v6M361.5 205v4M362.5 111v7M362.5 144v6M363.5 144v6M363.5 205v4M365.5 205v4M366.5 155v6M367.5 144v6M368.5 144v11M368.5 200v9M369.5 209v4M370.5 224v8M370.5 236v5M372.5 138v12M372.5 205v4M373.5 95v9M373.5 111v7M373.5 217v7M374.5 111v14M374.5 132v6M374.5 205v4M374.5 217v3M376.5 87v8M376.5 125v7M376.5 138v12M376.5 209v4M377.5 132v12M377.5 205v4M378.5 125v13M378.5 209v4M379.5 104v7M379.5 118v7M382.5 118v14M383.5 138v6M383.5 209v4M384.5 118v14M384.5 213v4M385.5 80v7M385.5 95v16M385.5 132v6M385.5 228v4M386.5 200v5M388.5 150v5M389.5 95v9M389.5 209v4M389.5 217v3M390.5 125v7M391.5 138v6M392.5 118v7M392.5 132v6M392.5 217v3M393.5 132v6M393.5 144v6M393.5 205v8M394.5 80v7M394.5 95v9M394.5 111v14M394.5 132v6M394.5 213v4M395.5 138v12M395.5 209v4M396.5 209v4M397.5 118v7M398.5 118v14M399.5 111v14M401.5 125v7M402.5 150v5M403.5 144v6M403.5 205v4M404.5 132v12M404.5 205v4M405.5 205v4M406.5 104v7M406.5 209v4M407.5 118v7M407.5 138v6M407.5 209v4M408.5 80v24M408.5 217v3M408.5 224v8M408.5 236v5M409.5 95v9M409.5 217v7M410.5 118v7M412.5 213v4M413.5 104v21M414.5 213v7M414.5 224v4M414.5 236v5M415.5 111v7M415.5 213v4M416.5 104v14M416.5 213v4M416.5 220v4M419.5 111v7M419.5 217v3M420.5 132v6M421.5 125v13M421.5 209v4M422.5 205v8M423.5 150v5M423.5 209v4M424.5 87v8M424.5 132v6M425.5 132v6M426.5 87v24M426.5 118v14M426.5 209v8M426.5 224v4M427.5 80v7M427.5 104v7M427.5 209v8M427.5 220v4M428.5 144v6M429.5 209v4M430.5 213v4M431.5 95v16M433.5 118v7M435.5 220v4M435.5 241v5M436.5 205v8M437.5 209v4M438.5 200v5M439.5 138v12M439.5 205v4M440.5 138v6M440.5 209v11M441.5 132v6M442.5 80v7M442.5 125v7M442.5 217v11M442.5 236v5M443.5 150v5M443.5 205v4M444.5 87v8M444.5 111v7M444.5 209v4M444.5 241v5M445.5 144v6M445.5 200v5M446.5 217v3M446.5 224v4M447.5 144v6M448.5 104v7M448.5 132v6M449.5 150v5M449.5 200v5M449.5 209v4M450.5 217v3M451.5 80v7M451.5 95v23M451.5 125v7M451.5 217v3M453.5 95v9M453.5 209v4M454.5 138v6M455.5 87v17M455.5 217v3M455.5 232v4M456.5 95v9M457.5 80v15M458.5 138v6M458.5 205v8M459.5 150v11M460.5 205v4"/>
<path stroke="#005eff" d="M100.5 150v5M100.5 209v4M101.5 144v6M102.5 125v7M104.5 125v7M105.5 125v13M107.5 150v11M107.5 209v4M108.5 144v6M109.5 87v8M109.5 118v14M109.5 209v4M110.5 118v7M110.5 138v12M110.5 220v4M111.5 144v6M112.5 150v11M113.5 150v5M114.5 87v17M114.5 111v7M114.5 138v12M114.5 209v8M115.5 150v5M116.5 150v5M116.5 205v4M118.5 150v5M120.5 125v25M121.5 132v12M122.5 87v8M122.5 104v14M124.5 80v15M124.5 213v4M125.5 209v4M126.5 220v8M127.5 150v5M127.5 205v4M128.5 144v11M129.5 150v11M129.5 205v4M130.5 150v11M130.5 209v4M131.5 205v4M133.5 87v17M133.5 111v7M133.5 125v7M133.5 217v3M134.5 87v8M134.5 104v14M134.5 125v7M134.5 209v4M135.5 209v4M138.5 150v5M139.5 144v6M139.5 205v8M140.5 205v4M140.5 213v4M141.5 150v5M142.5 104v7M142.5 125v7M142.5 150v5M142.5 209v4M143.5 150v11M144.5 150v5M144.5 205v4M145.5 150v5M145.5 209v4M146.5 87v8M147.5 138v6M148.5 205v4M149.5 150v5M149.5 205v8M151.5 125v7M155.5 138v6M156.5 87v8M156.5 132v18M156.5 209v4M157.5 205v8M159.5 205v4M160.5 205v4M161.5 80v7M161.5 125v7M161.5 138v12M162.5 138v12M163.5 144v6M165.5 111v7M165.5 220v12M166.5 95v9M166.5 220v4M167.5 138v6M169.5 132v6M170.5 150v5M173.5 80v7M173.5 111v7M173.5 125v7M173.5 144v6M173.5 224v8M174.5 209v4M175.5 144v11M175.5 205v4M175.5 213v4M176.5 144v6M176.5 205v4M176.5 213v4M178.5 80v15M178.5 111v14M178.5 224v4M179.5 104v14M179.5 125v13M179.5 224v4M180.5 205v4M180.5 213v4M181.5 205v4M182.5 144v6M182.5 209v4M183.5 209v4M184.5 144v11M184.5 209v4M185.5 205v8M188.5 155v6M188.5 205v4M192.5 125v7M192.5 209v4M193.5 87v17M193.5 118v14M195.5 132v6M195.5 144v6M195.5 209v4M196.5 132v6M196.5 209v4M197.5 118v7M198.5 104v7M199.5 118v7M200.5 209v4M201.5 132v6M201.5 144v6M202.5 132v6M202.5 144v6M202.5 209v8M203.5 80v15M203.5 118v14M204.5 209v4M205.5 155v6M206.5 111v7M206.5 125v7M206.5 209v4M207.5 150v11M209.5 132v6M209.5 144v6M209.5 209v4M210.5 150v5M210.5 205v4M211.5 205v4M212.5 150v5M212.5 205v4M213.5 144v6M213.5 205v4M213.5 213v4M214.5 150v5M216.5 104v7M216.5 125v7M216.5 138v12M217.5 80v24M217.5 111v7M217.5 125v7M217.5 213v4M217.5 224v4M218.5 138v12M219.5 150v5M220.5 150v5M221.5 155v6M222.5 144v11M223.5 213v4M227.5 138v6M227.5 209v4M228.5 104v7M228.5 213v4M229.5 118v7M231.5 125v7M232.5 125v7M233.5 144v11M234.5 80v7M235.5 132v6M235.5 144v6M235.5 209v4M235.5 220v8M237.5 150v5M238.5 95v9M238.5 111v7M238.5 144v6M239.5 150v5M240.5 217v7M242.5 118v7M243.5 104v14M244.5 111v7M246.5 118v14M247.5 209v4M248.5 87v8M248.5 111v7M248.5 125v7M248.5 220v4M249.5 144v6M249.5 209v4M250.5 155v6M251.5 155v6M251.5 205v4M252.5 205v4M253.5 87v8M253.5 118v14M253.5 138v6M253.5 209v8M254.5 125v7M254.5 138v12M254.5 209v4M254.5 220v4M255.5 155v6M257.5 155v6M258.5 150v11M259.5 150v5M260.5 87v8M260.5 104v7M260.5 138v6M260.5 232v4M261.5 150v5M262.5 87v31M262.5 138v6M262.5 236v5M263.5 150v5M265.5 138v6M266.5 155v6M267.5 80v7M267.5 95v9M267.5 111v7M267.5 132v12M268.5 80v24M268.5 132v6M268.5 213v4M268.5 224v8M268.5 236v5M269.5 150v5M269.5 205v4M270.5 144v11M270.5 205v4M271.5 205v4M273.5 111v27M273.5 209v8M273.5 224v4M274.5 111v7M274.5 132v12M275.5 209v4M277.5 209v4M278.5 205v4M279.5 150v5M280.5 150v5M281.5 144v6M281.5 205v4M282.5 144v6M282.5 209v4M283.5 111v7M283.5 132v6M284.5 125v19M284.5 209v4M285.5 95v9M287.5 118v7M287.5 209v4M289.5 111v7M290.5 125v7M291.5 125v7M292.5 138v12M292.5 209v4M293.5 209v4M294.5 150v11M295.5 80v7M295.5 217v11M296.5 118v7M297.5 150v5M299.5 205v4M301.5 144v11M301.5 205v8M302.5 111v7M302.5 205v4M303.5 155v6M305.5 150v5M306.5 205v4M307.5 95v9M307.5 125v7M307.5 205v4M308.5 87v8M308.5 104v7M308.5 144v6M308.5 205v4M310.5 87v17M310.5 111v7M310.5 125v25M310.5 241v5M311.5 155v6M312.5 150v5M313.5 87v8M313.5 150v5M314.5 155v6M314.5 205v4M316.5 150v5M317.5 87v8M317.5 104v7M317.5 209v4M317.5 217v3M317.5 228v4M318.5 200v5M319.5 200v5M320.5 155v6M320.5 200v5M321.5 144v6M323.5 80v7M323.5 111v7M323.5 132v6M324.5 80v7M324.5 118v14M324.5 228v4M325.5 111v14M325.5 132v6M325.5 205v8M326.5 150v5M327.5 87v8M327.5 209v4M328.5 150v5M329.5 132v6M329.5 217v7M330.5 150v5M331.5 144v6M331.5 209v4M332.5 95v9M332.5 111v7M335.5 80v15M335.5 111v14M335.5 217v11M337.5 104v7M338.5 138v6M340.5 118v7M341.5 95v9M341.5 111v7M341.5 228v4M342.5 125v7M344.5 118v7M345.5 138v6M345.5 200v5M346.5 132v12M347.5 200v5M348.5 144v6M351.5 144v6M352.5 200v5M354.5 87v8M354.5 138v6M354.5 150v5M354.5 200v5M355.5 200v5M358.5 150v5M359.5 150v5M359.5 200v5M360.5 95v9M360.5 150v5M361.5 144v11M363.5 200v5M364.5 150v5M364.5 200v5M365.5 144v6M365.5 200v5M366.5 200v5M367.5 150v5M367.5 200v5M369.5 144v6M369.5 205v4M370.5 220v4M370.5 232v4M370.5 241v5M371.5 132v6M372.5 209v4M373.5 118v7M374.5 125v7M374.5 138v6M374.5 209v4M375.5 155v6M375.5 200v5M377.5 144v6M378.5 138v6M378.5 205v4M379.5 125v7M380.5 118v7M382.5 209v4M383.5 144v6M383.5 205v4M384.5 205v8M385.5 111v7M385.5 205v12M385.5 220v4M388.5 200v5M389.5 111v14M390.5 132v12M390.5 205v8M391.5 144v6M391.5 205v4M392.5 205v4M394.5 209v4M395.5 200v9M396.5 118v14M397.5 132v6M398.5 132v6M398.5 195v5M398.5 209v4M399.5 125v7M399.5 209v4M400.5 132v6M400.5 205v8M401.5 144v6M401.5 205v4M402.5 195v5M404.5 144v6M404.5 209v4M405.5 200v5M406.5 144v6M407.5 125v7M407.5 144v6M407.5 205v4M408.5 104v7M409.5 80v7M409.5 104v7M409.5 213v4M410.5 111v7M411.5 111v7M412.5 104v7M413.5 125v13M414.5 87v17M415.5 118v14M417.5 209v4M418.5 118v7M419.5 125v7M420.5 125v7M421.5 138v12M421.5 205v4M423.5 200v9M425.5 125v7M425.5 138v6M426.5 138v6M427.5 87v17M427.5 111v27M427.5 217v3M429.5 144v6M429.5 205v4M430.5 118v7M430.5 205v4M431.5 87v8M431.5 111v7M432.5 118v7M434.5 125v7M435.5 87v8M435.5 228v13M436.5 138v6M437.5 205v4M438.5 155v6M439.5 132v6M439.5 200v5M440.5 205v4M441.5 138v6M441.5 209v4M442.5 95v30M442.5 213v4M443.5 200v5M444.5 95v16M444.5 118v14M444.5 138v6M444.5 213v7M446.5 80v15M446.5 104v7M446.5 118v7M446.5 220v4M447.5 150v5M448.5 87v17M448.5 111v14M448.5 209v4M449.5 155v6M449.5 205v4M450.5 87v8M451.5 132v6M452.5 132v6M452.5 205v4M453.5 138v12M455.5 104v7M455.5 213v4M455.5 220v4M456.5 118v7M456.5 217v3M456.5 232v4M457.5 118v7M457.5 205v4M458.5 132v6M460.5 150v5"/>
<path stroke="#006eff" d="M99.5 205v4M102.5 132v6M103.5 132v6M105.5 138v6M107.5 205v4M108.5 209v4M109.5 138v6M110.5 209v4M111.5 205v4M113.5 155v6M113.5 205v4M114.5 132v6M117.5 155v6M117.5 205v4M118.5 155v6M120.5 209v4M122.5 80v7M122.5 95v9M122.5 224v4M125.5 150v5M125.5 205v4M126.5 80v7M126.5 95v9M126.5 217v3M126.5 228v8M131.5 150v5M133.5 80v7M133.5 144v6M133.5 205v4M134.5 80v7M134.5 95v9M134.5 118v7M134.5 132v6M134.5 213v7M134.5 228v4M136.5 205v8M138.5 205v4M139.5 150v5M142.5 205v4M144.5 200v5M145.5 155v6M145.5 205v4M146.5 104v7M146.5 209v4M148.5 150v5M151.5 138v12M151.5 209v4M152.5 132v6M153.5 209v4M154.5 111v7M154.5 125v7M154.5 205v8M155.5 118v7M155.5 150v5M155.5 205v4M157.5 150v11M158.5 150v5M158.5 205v4M160.5 150v5M161.5 205v4M163.5 209v4M164.5 138v6M164.5 209v4M165.5 87v8M165.5 104v7M165.5 118v7M165.5 213v7M166.5 213v4M168.5 209v4M169.5 209v4M170.5 205v4M171.5 150v5M171.5 205v4M172.5 155v6M173.5 87v24M173.5 118v7M173.5 132v12M173.5 209v11M176.5 209v4M177.5 155v6M177.5 205v4M178.5 95v9M178.5 144v6M178.5 209v8M179.5 80v7M179.5 138v6M179.5 209v4M180.5 144v11M180.5 209v4M182.5 205v4M183.5 144v6M185.5 144v6M186.5 144v11M187.5 205v4M189.5 155v6M190.5 155v6M191.5 205v4M193.5 132v6M194.5 118v7M194.5 138v6M195.5 138v6M196.5 144v6M197.5 125v13M198.5 111v7M199.5 111v7M199.5 138v6M201.5 205v4M203.5 95v16M203.5 132v12M206.5 95v9M206.5 118v7M206.5 132v12M206.5 205v4M208.5 205v4M209.5 138v6M209.5 150v5M210.5 155v6M212.5 155v6M213.5 209v4M214.5 155v6M215.5 161v5M215.5 200v5M216.5 205v4M217.5 144v11M217.5 205v4M220.5 155v6M220.5 205v4M221.5 205v4M222.5 205v4M224.5 205v4M225.5 205v4M226.5 155v6M226.5 205v4M227.5 205v4M228.5 111v7M228.5 125v7M229.5 125v7M231.5 118v7M231.5 132v12M231.5 209v4M232.5 144v6M232.5 209v4M233.5 205v4M234.5 150v5M235.5 118v7M237.5 155v6M238.5 125v7M239.5 205v4M240.5 138v12M241.5 132v18M243.5 118v7M244.5 118v7M245.5 125v7M246.5 209v4M247.5 132v12M248.5 132v12M251.5 150v5M253.5 104v14M253.5 132v6M253.5 217v3M253.5 224v4M254.5 95v16M258.5 205v4M259.5 205v4M260.5 95v9M260.5 132v6M260.5 209v4M262.5 132v6M262.5 220v4M263.5 205v8M264.5 161v5M265.5 205v4M267.5 104v7M267.5 118v7M267.5 144v6M267.5 209v4M267.5 217v3M268.5 104v7M268.5 125v7M268.5 209v4M269.5 155v6M272.5 205v4M274.5 150v5M275.5 144v11M275.5 205v4M277.5 150v5M279.5 155v6M280.5 205v4M281.5 150v5M282.5 220v4M283.5 118v7M283.5 138v6M285.5 104v7M286.5 118v7M287.5 125v13M288.5 209v4M289.5 138v6M289.5 209v4M293.5 138v12M293.5 205v4M295.5 95v16M295.5 118v7M295.5 209v4M296.5 138v6M296.5 205v4M298.5 155v6M298.5 200v5M299.5 150v11M300.5 150v11M300.5 205v4M303.5 144v6M304.5 200v5M305.5 155v6M306.5 144v6M306.5 155v6M307.5 144v6M307.5 209v4M309.5 200v5M310.5 118v7M310.5 205v8M312.5 155v6M312.5 200v5M315.5 155v6M315.5 200v5M316.5 155v6M316.5 200v5M319.5 155v6M320.5 161v5M321.5 150v5M322.5 144v6M322.5 205v4M323.5 118v14M323.5 205v8M324.5 87v8M324.5 111v7M324.5 209v4M324.5 220v4M325.5 80v7M325.5 125v7M325.5 138v6M325.5 200v5M326.5 200v5M327.5 150v5M327.5 200v5M328.5 200v5M329.5 87v8M329.5 111v14M329.5 138v6M329.5 205v4M330.5 200v5M331.5 150v5M331.5 200v5M332.5 132v6M332.5 205v8M333.5 209v4M334.5 138v6M335.5 104v7M336.5 132v6M337.5 125v7M338.5 205v8M340.5 125v7M340.5 138v6M340.5 205v8M342.5 132v6M343.5 125v13M345.5 132v6M346.5 144v6M346.5 205v8M347.5 205v4M348.5 150v5M348.5 209v4M349.5 144v6M349.5 205v4M350.5 138v6M350.5 150v5M350.5 200v5M351.5 104v7M354.5 144v6M355.5 155v6M356.5 161v5M356.5 195v5M357.5 144v11M357.5 200v5M358.5 200v5M361.5 200v5M362.5 150v5M362.5 200v5M363.5 150v11M364.5 155v6M364.5 195v5M365.5 150v5M367.5 155v6M369.5 150v5M370.5 80v15M370.5 111v7M370.5 217v3M371.5 138v6M373.5 125v19M374.5 144v6M374.5 200v5M376.5 205v4M377.5 150v5M377.5 200v5M378.5 144v6M379.5 132v6M380.5 125v7M380.5 209v4M381.5 118v14M381.5 209v4M382.5 132v12M384.5 132v18M385.5 87v8M385.5 125v7M385.5 138v6M385.5 200v5M386.5 155v6M388.5 155v6M389.5 132v12M389.5 205v4M391.5 150v5M391.5 200v5M392.5 138v12M392.5 200v5M394.5 138v6M396.5 132v6M397.5 125v7M397.5 209v4M398.5 138v6M398.5 205v4M399.5 132v6M400.5 144v6M401.5 150v5M401.5 200v5M402.5 155v6M403.5 155v6M405.5 150v5M406.5 138v6M406.5 200v5M407.5 132v6M408.5 111v7M408.5 205v8M409.5 111v7M410.5 125v7M411.5 209v4M413.5 138v6M413.5 205v8M414.5 104v14M414.5 209v4M415.5 104v7M415.5 205v4M417.5 118v14M418.5 125v7M419.5 118v7M420.5 138v12M420.5 205v4M422.5 200v5M423.5 155v6M424.5 138v6M424.5 209v4M425.5 205v4M426.5 132v6M426.5 144v6M428.5 150v5M429.5 200v5M430.5 125v13M432.5 125v7M435.5 80v7M435.5 213v4M435.5 224v4M436.5 125v13M437.5 200v5M440.5 144v6M441.5 144v6M441.5 205v4M442.5 87v8M442.5 138v6M442.5 205v4M443.5 155v6M444.5 144v6M444.5 205v4M446.5 95v9M446.5 132v6M446.5 205v12M448.5 125v7M450.5 138v12M450.5 205v4M451.5 209v4M452.5 138v17M452.5 200v5M454.5 205v4M455.5 80v7M455.5 111v7M457.5 132v6M457.5 209v4M458.5 144v6M459.5 200v5M460.5 200v5"/>
<path stroke="#0082ff" d="M99.5 150v5M100.5 205v4M101.5 205v8M102.5 138v6M104.5 132v6M105.5 209v4M106.5 150v5M106.5 205v4M107.5 200v5M109.5 144v6M110.5 150v5M110.5 205v4M111.5 150v11M114.5 205v4M115.5 155v6M116.5 155v6M120.5 205v4M121.5 205v8M122.5 220v4M123.5 111v7M124.5 111v7M125.5 144v6M126.5 87v8M126.5 111v14M126.5 213v4M128.5 200v9M134.5 138v12M135.5 205v4M136.5 150v5M137.5 150v11M140.5 155v6M142.5 155v6M143.5 161v5M146.5 111v7M146.5 138v6M147.5 144v6M147.5 209v4M148.5 155v6M150.5 155v6M150.5 205v4M152.5 138v6M152.5 209v4M153.5 138v6M154.5 118v7M154.5 132v6M155.5 209v4M156.5 155v6M156.5 205v4M158.5 155v6M161.5 209v4M162.5 150v5M162.5 205v4M164.5 144v6M167.5 209v4M168.5 144v6M169.5 144v6M170.5 155v6M172.5 161v5M173.5 205v4M174.5 205v4M175.5 155v6M178.5 150v5M181.5 155v6M183.5 150v5M185.5 150v5M186.5 205v4M187.5 155v6M192.5 138v6M193.5 138v12M193.5 209v4M194.5 144v6M194.5 209v4M195.5 205v4M196.5 138v6M197.5 138v6M198.5 118v14M198.5 209v4M199.5 125v13M199.5 144v6M200.5 150v5M201.5 150v5M201.5 209v4M202.5 150v5M202.5 205v4M203.5 144v11M203.5 209v4M203.5 217v3M204.5 150v5M204.5 205v4M206.5 144v6M208.5 155v6M211.5 155v6M213.5 150v11M217.5 155v6M218.5 150v11M218.5 205v4M219.5 155v6M219.5 205v4M222.5 155v6M223.5 150v5M223.5 205v4M224.5 155v6M229.5 132v6M230.5 118v7M231.5 144v6M232.5 150v5M234.5 155v6M234.5 205v4M235.5 205v4M236.5 205v4M238.5 209v4M239.5 155v6M240.5 209v4M241.5 150v5M241.5 209v4M243.5 125v7M245.5 132v12M246.5 132v6M248.5 144v6M248.5 209v4M249.5 205v4M252.5 155v6M253.5 95v9M253.5 144v11M260.5 144v6M261.5 155v6M261.5 205v4M262.5 118v14M262.5 144v6M262.5 209v4M263.5 155v6M265.5 155v6M268.5 111v14M268.5 138v6M268.5 205v4M271.5 155v6M272.5 155v6M274.5 144v6M275.5 155v6M280.5 155v6M281.5 155v6M282.5 150v11M283.5 125v7M283.5 144v6M284.5 144v6M284.5 205v4M286.5 125v7M287.5 138v6M288.5 144v6M288.5 205v4M289.5 132v6M289.5 144v6M291.5 132v6M294.5 200v5M295.5 125v7M296.5 125v13M297.5 155v6M300.5 200v5M302.5 150v5M303.5 150v5M306.5 150v5M306.5 200v5M307.5 200v5M308.5 138v6M308.5 150v11M311.5 200v5M313.5 155v6M313.5 200v5M314.5 200v5M317.5 144v6M321.5 155v6M321.5 200v5M322.5 150v5M324.5 132v12M324.5 205v4M325.5 144v11M327.5 155v6M328.5 155v6M329.5 125v7M329.5 144v6M330.5 155v6M332.5 125v7M332.5 138v6M333.5 132v6M333.5 144v6M334.5 144v6M334.5 205v4M336.5 205v4M337.5 118v7M337.5 205v4M338.5 144v6M338.5 200v5M339.5 150v11M339.5 200v5M340.5 132v6M341.5 118v7M341.5 209v4M342.5 205v4M343.5 205v8M344.5 209v4M345.5 205v4M346.5 125v7M346.5 200v5M347.5 150v11M348.5 195v10M349.5 200v5M351.5 150v5M351.5 200v5M352.5 155v6M353.5 155v6M353.5 195v5M354.5 155v6M355.5 150v5M356.5 190v5M358.5 155v6M359.5 155v6M360.5 200v5M362.5 155v6M362.5 195v5M364.5 161v5M368.5 155v6M370.5 95v9M370.5 118v7M370.5 213v4M371.5 200v5M371.5 209v4M372.5 200v5M373.5 205v4M374.5 150v5M375.5 195v5M376.5 150v5M376.5 200v5M378.5 200v5M379.5 205v4M382.5 144v6M382.5 195v5M382.5 205v4M383.5 195v5M384.5 150v5M387.5 161v5M387.5 195v5M389.5 144v6M389.5 195v10M390.5 144v6M390.5 200v5M392.5 195v5M393.5 150v5M394.5 205v4M395.5 150v5M395.5 195v5M396.5 138v6M397.5 205v4M398.5 144v6M399.5 205v4M400.5 138v6M400.5 200v5M401.5 155v6M401.5 195v5M403.5 150v5M403.5 195v10M405.5 155v6M407.5 200v5M408.5 132v6M409.5 125v7M410.5 132v12M410.5 195v5M410.5 209v4M411.5 118v26M411.5 195v5M412.5 118v7M412.5 209v4M414.5 118v14M414.5 205v4M415.5 132v6M417.5 132v6M417.5 195v5M418.5 132v6M419.5 132v6M419.5 195v5M419.5 205v4M421.5 150v5M421.5 200v5M422.5 150v11M423.5 195v5M424.5 144v6M424.5 205v4M425.5 144v6M426.5 200v9M427.5 138v6M427.5 205v4M428.5 155v6M428.5 200v5M432.5 209v4M433.5 125v13M434.5 132v6M435.5 95v16M437.5 150v11M439.5 150v5M440.5 200v5M441.5 200v5M442.5 132v6M442.5 209v4M444.5 80v7M444.5 132v6M444.5 224v4M446.5 125v7M446.5 138v6M447.5 200v5M448.5 138v6M449.5 195v5M450.5 209v4M451.5 138v6M451.5 200v9M453.5 150v5M453.5 200v5M454.5 144v11M456.5 125v7M456.5 205v8M457.5 125v7M457.5 138v6M458.5 150v5M458.5 200v5M460.5 155v6"/>
<path stroke="#0096ff" d="M100.5 155v6M101.5 150v5M102.5 209v4M103.5 138v12M103.5 209v4M104.5 138v6M105.5 205v4M108.5 150v11M108.5 205v4M109.5 150v5M118.5 205v4M121.5 144v6M122.5 118v7M122.5 209v4M124.5 118v7M124.5 132v6M125.5 155v6M126.5 132v6M127.5 155v6M128.5 155v6M130.5 205v4M131.5 155v6M132.5 200v5M133.5 150v5M134.5 150v5M135.5 155v6M136.5 155v6M139.5 155v6M141.5 161v5M146.5 118v20M146.5 144v6M147.5 150v5M147.5 205v4M149.5 155v6M149.5 200v5M150.5 150v5M151.5 150v11M151.5 205v4M152.5 144v6M153.5 144v11M153.5 205v4M154.5 138v6M156.5 150v5M159.5 200v5M160.5 155v6M162.5 155v6M163.5 150v5M163.5 205v4M164.5 205v4M165.5 125v13M166.5 138v6M167.5 144v6M169.5 205v4M171.5 155v6M172.5 200v5M174.5 150v5M176.5 150v11M177.5 200v5M178.5 205v4M180.5 155v6M181.5 200v5M183.5 155v6M184.5 155v6M184.5 205v4M185.5 155v6M187.5 200v5M188.5 150v5M189.5 200v5M191.5 155v6M194.5 150v5M194.5 205v4M195.5 150v5M199.5 209v4M200.5 205v4M203.5 205v4M204.5 155v6M205.5 200v5M206.5 155v6M207.5 200v5M209.5 205v4M220.5 200v5M223.5 155v6M225.5 155v6M228.5 118v7M228.5 132v6M228.5 205v8M230.5 125v7M231.5 205v4M232.5 205v4M235.5 150v11M236.5 161v5M241.5 205v4M242.5 125v19M242.5 209v4M246.5 138v6M248.5 205v4M249.5 150v11M250.5 200v5M253.5 155v6M253.5 205v4M254.5 150v11M254.5 205v4M255.5 161v5M255.5 200v5M256.5 200v5M257.5 161v5M257.5 200v5M259.5 155v6M260.5 205v4M262.5 205v4M265.5 150v5M266.5 161v5M266.5 200v5M267.5 205v4M268.5 144v6M268.5 155v6M270.5 155v6M273.5 155v6M273.5 205v4M274.5 205v4M276.5 200v5M277.5 155v6M280.5 200v5M283.5 205v8M284.5 150v5M286.5 111v7M286.5 132v12M288.5 150v5M289.5 205v4M290.5 132v12M291.5 138v6M292.5 150v5M292.5 205v4M293.5 150v5M295.5 132v12M299.5 200v5M301.5 155v6M302.5 155v6M302.5 200v5M304.5 161v5M305.5 200v5M307.5 150v11M309.5 161v5M310.5 150v11M315.5 161v5M317.5 150v5M317.5 200v5M318.5 155v6M319.5 161v5M323.5 138v12M323.5 200v5M324.5 144v6M326.5 155v6M327.5 195v5M328.5 195v5M332.5 200v5M333.5 138v6M333.5 195v5M333.5 205v4M336.5 138v12M336.5 209v4M337.5 132v6M339.5 195v5M340.5 200v5M342.5 195v5M342.5 209v4M343.5 138v6M344.5 125v7M344.5 205v4M345.5 144v6M350.5 155v6M357.5 155v6M360.5 155v6M360.5 195v5M361.5 155v6M365.5 155v6M366.5 161v5M368.5 161v5M368.5 195v5M369.5 195v10M370.5 104v7M370.5 125v7M371.5 195v5M371.5 205v4M372.5 150v5M373.5 144v6M373.5 200v5M376.5 195v5M377.5 155v6M378.5 150v5M379.5 138v6M379.5 195v5M379.5 209v4M380.5 132v12M380.5 195v5M380.5 205v4M381.5 132v6M381.5 195v5M381.5 205v4M383.5 150v5M383.5 200v5M384.5 200v5M385.5 144v6M388.5 195v5M389.5 150v5M390.5 150v5M392.5 150v5M393.5 200v5M394.5 195v5M396.5 195v5M396.5 205v4M397.5 138v6M397.5 195v10M399.5 138v6M399.5 195v5M404.5 200v5M406.5 150v11M408.5 118v7M408.5 138v6M410.5 205v4M411.5 205v4M413.5 144v11M413.5 200v5M414.5 132v12M415.5 138v6M415.5 200v5M415.5 209v4M416.5 118v14M417.5 205v4M418.5 205v8M419.5 138v6M419.5 209v4M421.5 195v5M425.5 200v5M426.5 195v5M427.5 144v6M429.5 150v5M429.5 195v5M430.5 138v6M430.5 209v4M431.5 118v14M432.5 132v6M433.5 209v4M434.5 205v4M435.5 111v7M436.5 144v11M436.5 200v5M438.5 195v5M439.5 195v5M442.5 144v6M443.5 195v5M444.5 200v5M445.5 161v5M446.5 111v7M446.5 144v6M448.5 195v14M450.5 150v5M450.5 200v5M451.5 144v6M452.5 155v6M453.5 155v6M454.5 195v5M455.5 118v7M458.5 155v6M459.5 195v5"/>
<path stroke="#00aaff" d="M99.5 155v6M101.5 155v6M102.5 144v6M103.5 205v4M104.5 209v4M105.5 144v11M106.5 155v6M106.5 200v5M109.5 205v4M112.5 161v5M112.5 200v5M114.5 150v11M115.5 200v5M116.5 161v5M116.5 200v5M117.5 200v5M119.5 200v5M122.5 125v7M123.5 118v20M123.5 209v4M124.5 125v7M124.5 209v4M126.5 125v7M126.5 138v6M126.5 209v4M130.5 200v5M132.5 161v5M133.5 155v6M134.5 205v4M136.5 200v5M137.5 205v4M138.5 161v5M138.5 200v5M140.5 200v5M141.5 200v5M143.5 200v5M144.5 161v5M146.5 205v4M147.5 155v6M148.5 200v5M152.5 205v4M154.5 144v6M155.5 155v6M159.5 161v5M161.5 150v5M165.5 209v4M166.5 132v6M168.5 150v5M168.5 205v4M169.5 150v5M170.5 161v5M173.5 150v5M174.5 155v6M175.5 200v5M179.5 144v11M179.5 205v4M180.5 200v5M183.5 205v4M186.5 155v6M187.5 161v5M189.5 161v5M190.5 200v5M191.5 200v5M192.5 144v6M192.5 205v4M194.5 155v6M195.5 155v6M196.5 150v5M196.5 205v4M197.5 144v6M197.5 205v4M198.5 138v6M199.5 205v4M200.5 155v6M201.5 155v6M202.5 155v6M202.5 200v5M205.5 161v5M206.5 150v5M208.5 200v5M213.5 200v5M216.5 150v11M216.5 200v5M221.5 200v5M222.5 200v5M226.5 161v5M226.5 200v5M227.5 150v11M229.5 205v8M230.5 132v12M230.5 209v4M231.5 150v5M233.5 155v6M233.5 200v5M234.5 200v5M236.5 200v5M237.5 200v5M238.5 150v11M238.5 205v4M240.5 150v5M240.5 205v4M243.5 132v6M243.5 209v4M244.5 125v7M244.5 209v4M245.5 209v4M246.5 144v6M247.5 205v4M250.5 161v5M256.5 161v5M260.5 150v5M262.5 150v5M263.5 200v5M264.5 200v5M265.5 200v5M267.5 150v11M269.5 200v5M271.5 161v5M271.5 200v5M273.5 150v5M274.5 155v6M276.5 161v5M277.5 200v5M284.5 155v6M285.5 111v14M286.5 205v4M287.5 144v6M287.5 205v4M291.5 209v4M292.5 155v6M293.5 155v6M295.5 205v4M296.5 209v4M297.5 200v5M298.5 161v5M300.5 161v5M303.5 200v5M304.5 195v5M308.5 200v5M310.5 200v5M311.5 195v5M314.5 161v5M314.5 195v5M315.5 195v5M317.5 155v6M319.5 195v5M321.5 195v5M322.5 200v5M324.5 200v5M329.5 150v5M329.5 200v5M331.5 195v5M332.5 144v6M334.5 150v5M334.5 200v5M335.5 125v13M337.5 209v4M338.5 195v5M340.5 144v6M341.5 125v7M344.5 132v12M345.5 155v6M345.5 195v5M346.5 195v5M347.5 195v5M348.5 155v6M349.5 150v5M349.5 195v5M351.5 195v5M352.5 161v5M353.5 161v5M354.5 195v5M359.5 195v5M363.5 195v5M366.5 195v5M367.5 195v5M372.5 195v5M373.5 150v5M374.5 195v5M376.5 155v6M377.5 195v5M379.5 200v5M380.5 200v5M381.5 144v6M382.5 200v5M384.5 195v5M385.5 150v11M390.5 195v5M391.5 155v6M391.5 195v5M394.5 144v6M394.5 200v5M395.5 155v6M396.5 144v6M398.5 200v5M399.5 144v6M400.5 195v5M404.5 150v5M404.5 195v5M405.5 195v5M407.5 150v11M407.5 195v5M408.5 125v7M409.5 118v7M409.5 132v6M409.5 205v8M410.5 200v5M411.5 200v5M412.5 125v13M412.5 200v9M414.5 144v6M414.5 200v5M415.5 144v6M416.5 132v6M416.5 205v4M418.5 200v5M419.5 200v5M420.5 195v10M422.5 195v5M424.5 150v5M424.5 200v5M425.5 150v11M425.5 195v5M426.5 150v5M427.5 150v5M427.5 200v5M429.5 155v6M430.5 200v5M431.5 132v6M431.5 205v8M432.5 195v5M432.5 205v4M433.5 138v6M433.5 195v5M433.5 205v4M434.5 138v6M434.5 209v4M435.5 118v7M436.5 155v6M438.5 161v5M439.5 155v6M440.5 150v5M441.5 150v5M442.5 200v5M444.5 150v11M446.5 200v5M447.5 155v6M448.5 144v6M452.5 195v5M453.5 195v5M454.5 155v6M454.5 200v5M456.5 132v6M456.5 195v5M457.5 144v6M457.5 200v5M458.5 195v5M459.5 161v5M460.5 161v5"/>
<path stroke="#00beff" d="M100.5 200v5M102.5 205v4M110.5 155v6M111.5 161v5M115.5 161v5M117.5 195v5M118.5 200v5M119.5 161v5M120.5 150v5M121.5 150v5M122.5 132v12M124.5 138v6M125.5 195v5M126.5 205v4M127.5 161v5M127.5 200v5M129.5 200v5M131.5 200v5M132.5 195v5M133.5 200v5M135.5 161v5M135.5 200v5M145.5 200v5M146.5 150v5M147.5 200v5M150.5 200v5M152.5 150v5M156.5 200v5M157.5 200v5M160.5 161v5M160.5 200v5M161.5 155v6M163.5 155v6M163.5 200v5M164.5 150v5M165.5 138v6M166.5 209v4M169.5 155v6M170.5 200v5M173.5 155v6M174.5 200v5M181.5 161v5M182.5 155v6M182.5 200v5M186.5 200v5M188.5 200v5M192.5 150v11M192.5 200v5M193.5 205v4M197.5 150v11M198.5 132v6M198.5 205v4M200.5 200v5M201.5 200v5M204.5 161v5M209.5 155v6M210.5 161v5M210.5 200v5M211.5 200v5M212.5 161v5M212.5 200v5M219.5 200v5M223.5 200v5M224.5 161v5M224.5 200v5M225.5 161v5M225.5 200v5M229.5 138v12M229.5 195v5M230.5 195v5M230.5 205v4M232.5 155v6M234.5 161v5M235.5 200v5M236.5 195v5M237.5 161v5M243.5 138v6M244.5 132v12M244.5 205v4M245.5 144v6M245.5 195v5M246.5 205v4M247.5 144v17M251.5 200v5M252.5 200v5M258.5 200v5M259.5 200v5M260.5 155v6M260.5 200v5M272.5 200v5M273.5 200v5M274.5 200v5M275.5 200v5M277.5 161v5M278.5 161v5M278.5 200v5M279.5 161v5M279.5 200v5M281.5 161v5M281.5 200v5M282.5 200v5M283.5 150v11M285.5 209v4M286.5 144v6M286.5 209v4M287.5 150v5M288.5 155v6M293.5 200v5M294.5 161v5M295.5 144v6M296.5 144v11M299.5 195v5M301.5 200v5M305.5 161v5M306.5 161v5M309.5 195v5M311.5 161v5M316.5 161v5M318.5 161v5M318.5 195v5M320.5 195v5M322.5 155v6M323.5 195v5M324.5 195v5M325.5 155v6M326.5 195v5M330.5 195v5M331.5 155v6M332.5 195v5M335.5 205v8M336.5 195v10M337.5 138v6M338.5 150v5M340.5 150v5M341.5 138v6M341.5 205v4M342.5 138v12M342.5 200v5M343.5 195v10M344.5 144v6M344.5 200v5M345.5 150v5M346.5 150v5M349.5 155v6M350.5 195v5M351.5 155v6M352.5 195v5M355.5 195v5M357.5 195v5M358.5 161v5M361.5 195v5M365.5 195v5M367.5 161v5M369.5 155v6M370.5 205v8M373.5 155v6M373.5 195v5M374.5 155v6M375.5 161v5M378.5 155v6M378.5 195v5M379.5 150v5M381.5 138v6M383.5 155v6M383.5 190v5M384.5 155v6M385.5 195v5M386.5 161v5M386.5 195v5M390.5 155v6M392.5 155v6M393.5 155v6M395.5 190v5M396.5 200v5M399.5 200v5M400.5 150v11M402.5 161v5M406.5 195v5M408.5 200v5M409.5 195v5M411.5 144v6M412.5 144v6M412.5 195v5M413.5 195v5M415.5 150v5M416.5 195v5M417.5 138v6M417.5 200v5M418.5 138v6M418.5 195v5M419.5 144v6M420.5 150v5M421.5 155v6M423.5 190v5M424.5 155v6M426.5 155v6M427.5 195v5M428.5 195v5M430.5 144v6M431.5 195v10M432.5 138v6M432.5 200v5M434.5 195v10M435.5 125v7M435.5 138v6M435.5 205v8M436.5 195v5M437.5 195v5M440.5 155v6M440.5 195v5M441.5 195v5M442.5 150v5M442.5 195v5M445.5 190v10M447.5 195v5M448.5 150v5M449.5 161v5M451.5 195v5M455.5 125v7M456.5 138v6M456.5 200v5M457.5 195v5M460.5 195v5"/>
<path stroke="#00d2ff" d="M99.5 200v5M100.5 161v5M101.5 200v5M102.5 195v5M108.5 200v5M109.5 200v5M110.5 200v5M111.5 200v5M113.5 161v5M113.5 200v5M114.5 200v5M115.5 195v5M117.5 161v5M118.5 161v5M120.5 155v6M121.5 155v6M124.5 205v4M126.5 150v5M128.5 161v5M131.5 161v5M133.5 161v5M134.5 155v6M136.5 161v5M137.5 200v5M139.5 161v5M139.5 200v5M140.5 161v5M142.5 200v5M145.5 161v5M148.5 161v5M150.5 161v5M151.5 200v5M152.5 155v6M155.5 200v5M157.5 161v5M158.5 161v5M158.5 200v5M161.5 200v5M162.5 200v5M163.5 195v5M164.5 155v6M164.5 200v5M165.5 144v6M165.5 205v4M166.5 144v6M166.5 205v4M167.5 205v4M168.5 155v6M171.5 200v5M172.5 195v5M176.5 200v5M179.5 155v6M183.5 200v5M184.5 161v5M184.5 200v5M185.5 200v5M188.5 195v5M190.5 161v5M191.5 161v5M193.5 150v5M194.5 200v5M195.5 200v5M196.5 155v6M196.5 195v10M198.5 144v6M199.5 150v5M203.5 200v5M204.5 200v5M206.5 200v5M207.5 161v5M208.5 161v5M209.5 200v5M211.5 161v5M213.5 161v5M214.5 161v5M214.5 200v5M217.5 200v5M218.5 161v5M219.5 161v5M220.5 161v5M221.5 161v5M222.5 161v5M224.5 195v5M226.5 195v5M227.5 200v5M228.5 138v6M230.5 144v6M238.5 200v5M239.5 195v10M240.5 155v6M240.5 200v5M242.5 144v6M242.5 205v4M243.5 144v6M243.5 205v4M248.5 150v5M251.5 161v5M252.5 161v5M252.5 195v5M258.5 161v5M261.5 200v5M262.5 155v6M262.5 200v5M264.5 195v5M265.5 161v5M268.5 150v5M270.5 161v5M270.5 200v5M272.5 161v5M280.5 161v5M280.5 195v5M284.5 195v10M285.5 125v7M287.5 200v5M289.5 150v5M290.5 144v6M290.5 205v8M291.5 144v6M291.5 205v4M292.5 200v5M295.5 150v5M297.5 161v5M301.5 161v5M302.5 195v5M303.5 161v5M303.5 195v5M308.5 161v5M312.5 161v5M312.5 195v5M316.5 195v5M317.5 195v5M321.5 161v5M323.5 150v11M324.5 150v5M325.5 195v5M327.5 161v5M328.5 161v5M329.5 155v6M329.5 195v5M330.5 161v5M330.5 190v5M332.5 150v5M333.5 150v5M333.5 200v5M334.5 195v5M335.5 195v5M336.5 190v5M337.5 144v6M337.5 195v10M338.5 155v6M340.5 195v5M341.5 132v6M341.5 195v5M344.5 195v5M346.5 155v6M348.5 161v5M355.5 161v5M358.5 195v5M361.5 161v5M366.5 190v5M368.5 190v5M370.5 132v6M370.5 195v5M379.5 144v6M379.5 190v5M380.5 144v6M381.5 200v5M382.5 190v5M388.5 161v5M389.5 155v6M393.5 195v5M394.5 150v11M396.5 150v5M397.5 144v6M398.5 150v5M399.5 150v5M402.5 190v5M404.5 155v6M405.5 161v5M405.5 190v5M408.5 144v6M408.5 195v5M409.5 138v6M409.5 200v5M410.5 144v6M410.5 190v5M412.5 138v6M414.5 150v5M414.5 195v5M415.5 195v5M416.5 138v6M416.5 200v5M416.5 209v4M418.5 144v6M420.5 155v6M422.5 161v5M427.5 155v6M430.5 195v5M433.5 200v5M434.5 144v6M435.5 132v6M435.5 195v10M441.5 155v6M443.5 161v5M446.5 150v11M450.5 155v6M450.5 195v5M451.5 150v5M453.5 190v5M455.5 132v6M455.5 205v8M457.5 150v5"/>
<path stroke="#00e8f8" d="M99.5 161v5M104.5 205v4M105.5 155v6M105.5 195v5M107.5 161v5M107.5 195v5M109.5 155v6M113.5 195v5M114.5 161v5M116.5 195v5M120.5 200v5M121.5 200v5M122.5 144v6M122.5 205v4M123.5 138v6M123.5 205v4M125.5 200v5M126.5 144v6M126.5 155v6M127.5 195v5M129.5 161v5M130.5 161v5M131.5 195v5M133.5 195v5M134.5 200v5M137.5 161v5M139.5 195v5M146.5 155v6M146.5 200v5M149.5 161v5M152.5 200v5M154.5 150v11M154.5 200v5M156.5 161v5M164.5 195v5M167.5 150v11M168.5 200v5M170.5 195v5M176.5 161v5M177.5 161v5M177.5 195v5M178.5 155v6M178.5 200v5M180.5 161v5M182.5 161v5M183.5 195v5M186.5 161v5M188.5 161v5M189.5 195v5M197.5 195v10M199.5 200v5M202.5 161v5M203.5 155v6M209.5 161v5M215.5 195v5M218.5 195v10M219.5 195v5M223.5 161v5M229.5 150v5M231.5 155v6M232.5 195v10M233.5 161v5M239.5 161v5M240.5 195v5M241.5 200v5M242.5 150v5M245.5 205v4M246.5 150v5M247.5 195v10M249.5 200v5M251.5 195v5M253.5 200v5M254.5 200v5M259.5 161v5M261.5 161v5M267.5 200v5M269.5 161v5M274.5 195v5M275.5 161v5M277.5 195v5M278.5 195v5M279.5 195v5M281.5 195v5M282.5 161v5M283.5 200v5M285.5 138v6M285.5 205v4M287.5 155v6M288.5 200v5M289.5 155v6M289.5 200v5M290.5 150v5M291.5 150v5M295.5 155v6M295.5 200v5M296.5 200v5M299.5 161v5M300.5 195v5M302.5 161v5M305.5 195v5M306.5 195v5M307.5 161v5M308.5 195v5M310.5 195v5M313.5 161v5M313.5 195v5M321.5 190v5M322.5 195v5M324.5 155v6M326.5 161v5M331.5 190v5M332.5 155v6M333.5 155v6M334.5 155v6M335.5 138v6M335.5 200v5M338.5 190v5M340.5 155v6M341.5 144v6M341.5 200v5M343.5 144v11M347.5 161v5M350.5 161v5M354.5 161v5M357.5 161v5M358.5 190v5M360.5 161v5M362.5 161v5M362.5 190v5M363.5 161v5M364.5 190v5M365.5 161v5M371.5 144v11M372.5 155v6M375.5 190v5M377.5 190v5M378.5 190v5M380.5 190v5M382.5 150v11M386.5 190v5M390.5 190v5M393.5 190v5M396.5 155v6M397.5 150v5M403.5 190v5M404.5 161v5M408.5 150v5M409.5 144v6M417.5 144v6M421.5 190v5M423.5 161v5M424.5 195v5M426.5 190v5M428.5 161v5M429.5 190v5M431.5 138v6M431.5 190v5M432.5 144v6M433.5 144v6M437.5 190v5M444.5 195v5M447.5 190v5M448.5 155v6M449.5 190v5M451.5 155v6M455.5 195v5M456.5 144v6M458.5 190v5"/>
<path stroke="#00fff0" d="M100.5 195v5M102.5 200v5M103.5 150v5M103.5 195v5M104.5 144v6M106.5 161v5M106.5 195v5M108.5 161v5M108.5 195v5M110.5 161v5M111.5 195v5M112.5 195v5M118.5 195v5M120.5 195v5M121.5 195v5M123.5 144v6M124.5 144v6M126.5 200v5M129.5 195v5M135.5 195v5M136.5 195v5M142.5 161v5M142.5 195v5M143.5 195v5M144.5 195v5M149.5 195v5M151.5 161v5M152.5 195v5M153.5 155v6M153.5 200v5M156.5 195v5M162.5 161v5M166.5 150v5M167.5 195v5M168.5 195v5M169.5 195v10M171.5 161v5M171.5 195v5M173.5 200v5M175.5 161v5M178.5 195v5M180.5 195v5M181.5 195v5M182.5 195v5M185.5 161v5M191.5 195v5M193.5 155v6M193.5 195v5M194.5 161v5M195.5 195v5M198.5 150v5M199.5 155v6M199.5 195v5M200.5 161v5M200.5 195v5M201.5 161v5M208.5 195v5M216.5 161v5M217.5 161v5M221.5 195v5M223.5 195v5M227.5 161v5M228.5 144v6M231.5 200v5M233.5 195v5M237.5 195v5M241.5 155v6M241.5 195v5M242.5 155v6M244.5 144v6M244.5 195v5M245.5 150v5M245.5 200v5M246.5 195v5M248.5 155v6M248.5 195v10M249.5 161v5M249.5 195v5M250.5 195v5M253.5 161v5M255.5 195v5M257.5 195v5M259.5 195v5M262.5 161v5M263.5 161v5M265.5 195v5M266.5 195v5M268.5 200v5M273.5 161v5M274.5 161v5M282.5 195v5M283.5 161v5M285.5 132v6M285.5 195v5M286.5 150v5M288.5 195v5M289.5 195v5M291.5 195v10M292.5 195v5M293.5 161v5M293.5 195v5M296.5 155v6M297.5 195v5M298.5 195v5M301.5 195v5M307.5 195v5M322.5 161v5M323.5 190v5M325.5 161v5M331.5 161v5M336.5 150v5M340.5 190v5M342.5 150v5M342.5 190v5M344.5 150v5M345.5 190v5M348.5 190v5M351.5 190v5M353.5 190v5M359.5 161v5M370.5 138v12M370.5 200v5M371.5 155v6M371.5 190v5M372.5 190v5M376.5 161v5M379.5 155v6M381.5 150v5M381.5 190v5M384.5 190v5M387.5 190v5M391.5 161v5M392.5 190v5M395.5 161v5M397.5 155v6M398.5 155v6M398.5 190v5M400.5 161v5M401.5 190v5M403.5 161v5M407.5 161v5M411.5 150v5M413.5 155v6M414.5 155v6M415.5 190v5M416.5 144v6M418.5 150v5M418.5 190v5M424.5 190v5M425.5 190v5M428.5 190v5M430.5 150v5M432.5 150v5M437.5 161v5M439.5 161v5M439.5 190v5M440.5 161v5M441.5 190v5M442.5 155v6M444.5 161v5M446.5 195v5M452.5 161v5M454.5 190v5M455.5 138v6M457.5 155v6M457.5 190v5M458.5 161v5M460.5 190v5"/>
<path stroke="#00ffd6" d="M99.5 195v5M102.5 150v5M104.5 150v5M104.5 195v5M105.5 200v5M119.5 195v5M121.5 161v5M122.5 150v5M122.5 200v5M123.5 150v5M123.5 195v5M125.5 161v5M128.5 195v5M130.5 195v5M134.5 161v5M137.5 195v5M138.5 195v5M145.5 195v5M147.5 161v5M147.5 195v5M150.5 195v5M151.5 195v5M153.5 195v5M157.5 195v5M158.5 195v5M161.5 161v5M161.5 195v5M162.5 195v5M163.5 161v5M165.5 150v5M165.5 200v5M167.5 200v5M174.5 161v5M175.5 195v5M179.5 195v10M183.5 161v5M184.5 195v5M186.5 195v5M193.5 200v5M195.5 161v5M202.5 195v5M203.5 161v5M205.5 195v5M207.5 195v5M210.5 195v5M211.5 195v5M212.5 195v5M214.5 195v5M227.5 195v5M228.5 150v5M228.5 195v10M229.5 200v5M230.5 150v5M230.5 200v5M232.5 161v5M235.5 195v5M242.5 200v5M243.5 150v5M244.5 200v5M246.5 155v6M254.5 161v5M258.5 195v5M260.5 161v5M261.5 195v5M263.5 195v5M267.5 161v5M268.5 161v5M269.5 195v5M272.5 195v5M273.5 195v5M284.5 161v5M285.5 144v6M286.5 195v5M288.5 161v5M290.5 195v10M294.5 195v5M295.5 195v5M296.5 195v5M309.5 190v5M310.5 161v5M315.5 190v5M316.5 190v5M317.5 161v5M318.5 190v5M328.5 190v5M329.5 161v5M332.5 190v5M339.5 190v5M342.5 155v6M349.5 161v9M349.5 190v5M351.5 161v5M355.5 190v5M360.5 190v5M361.5 190v5M363.5 190v5M369.5 190v5M374.5 161v5M376.5 190v5M377.5 161v5M380.5 150v5M384.5 161v5M385.5 161v5M385.5 190v5M388.5 190v5M389.5 190v5M390.5 161v5M391.5 190v5M393.5 161v5M396.5 190v5M399.5 155v6M400.5 190v5M401.5 161v5M404.5 190v5M406.5 161v5M406.5 190v5M407.5 190v5M408.5 155v6M409.5 155v6M409.5 190v5M410.5 150v11M411.5 155v6M411.5 190v5M413.5 190v5M415.5 155v6M416.5 150v5M416.5 190v5M417.5 150v5M417.5 190v5M419.5 150v11M421.5 161v5M422.5 190v5M427.5 161v5M429.5 161v5M431.5 144v11M432.5 190v5M434.5 150v5M434.5 190v5M435.5 144v6M436.5 190v5M438.5 190v5M440.5 190v5M443.5 187v3M448.5 190v5M450.5 190v5M452.5 190v5M453.5 161v5M455.5 144v6M455.5 200v5M456.5 150v5M456.5 190v5M459.5 190v5"/>
<path stroke="#00ffbc" d="M101.5 161v5M101.5 195v5M102.5 155v6M103.5 200v5M104.5 155v6M109.5 161v5M110.5 195v5M114.5 195v5M117.5 166v4M120.5 161v5M122.5 195v5M123.5 200v5M124.5 200v5M126.5 195v5M140.5 195v5M141.5 195v5M146.5 195v5M148.5 195v5M155.5 161v5M159.5 195v5M160.5 195v5M165.5 195v5M166.5 195v10M173.5 161v5M174.5 195v5M178.5 161v5M179.5 161v5M187.5 195v5M190.5 195v5M192.5 195v5M194.5 195v5M196.5 161v5M198.5 155v6M198.5 195v10M201.5 195v5M203.5 195v5M204.5 195v5M206.5 161v5M206.5 195v5M208.5 190v5M209.5 195v5M213.5 195v5M215.5 190v5M220.5 195v5M225.5 195v5M228.5 155v6M229.5 155v6M231.5 195v5M235.5 161v5M241.5 161v5M242.5 195v5M244.5 150v5M246.5 200v5M248.5 161v5M254.5 195v5M256.5 195v5M266.5 190v5M267.5 195v5M268.5 195v5M270.5 195v5M271.5 195v5M275.5 195v5M276.5 195v5M283.5 195v5M285.5 150v5M285.5 200v5M286.5 200v5M287.5 195v5M290.5 155v6M296.5 190v5M302.5 190v5M309.5 166v4M314.5 190v5M319.5 190v5M320.5 190v5M322.5 190v5M325.5 190v5M326.5 190v5M327.5 190v5M329.5 190v5M333.5 190v5M334.5 190v5M335.5 144v6M337.5 150v5M337.5 190v5M341.5 190v5M343.5 155v6M343.5 190v5M344.5 155v6M344.5 190v5M346.5 190v5M350.5 190v5M352.5 190v5M356.5 187v3M357.5 190v5M359.5 190v5M364.5 187v3M365.5 190v5M367.5 190v5M371.5 187v3M372.5 161v5M373.5 161v5M374.5 190v5M380.5 155v6M389.5 161v5M392.5 161v5M394.5 190v5M397.5 190v5M399.5 187v8M402.5 187v3M407.5 187v3M408.5 190v5M409.5 150v5M412.5 150v5M413.5 161v5M418.5 155v6M419.5 190v5M420.5 161v5M420.5 190v5M421.5 187v3M425.5 161v5M426.5 161v5M427.5 190v5M432.5 155v6M433.5 150v5M433.5 190v5M434.5 155v6M441.5 161v5M442.5 161v5M443.5 190v5M444.5 190v5M445.5 187v3M447.5 161v5M449.5 187v3M455.5 150v5"/>
<path stroke="#00ffa4" d="M104.5 200v5M109.5 195v5M112.5 190v5M122.5 155v6M123.5 155v6M124.5 150v11M124.5 195v5M126.5 161v5M136.5 166v4M138.5 190v5M148.5 166v4M152.5 161v5M153.5 190v5M154.5 195v5M155.5 195v5M164.5 161v5M165.5 155v6M176.5 195v5M183.5 190v5M184.5 190v5M189.5 190v5M193.5 161v5M205.5 166v4M215.5 166v4M216.5 195v5M222.5 195v5M230.5 155v6M231.5 190v5M234.5 195v5M236.5 166v4M237.5 190v5M238.5 161v5M243.5 195v10M245.5 155v6M246.5 166v4M247.5 161v5M250.5 190v5M253.5 195v5M257.5 190v5M284.5 166v4M285.5 155v6M291.5 155v6M292.5 161v9M293.5 166v4M301.5 190v5M304.5 187v8M305.5 190v5M307.5 190v5M309.5 187v3M312.5 190v5M313.5 190v5M317.5 190v5M328.5 187v3M335.5 190v5M336.5 155v6M336.5 166v4M338.5 161v5M338.5 187v3M339.5 161v5M344.5 187v3M346.5 161v5M348.5 166v4M349.5 187v3M352.5 187v3M354.5 190v5M359.5 166v4M366.5 187v3M367.5 187v3M369.5 161v5M373.5 190v5M378.5 161v5M382.5 161v9M382.5 187v3M383.5 161v5M384.5 187v3M387.5 166v4M390.5 166v4M391.5 187v3M395.5 183v4M397.5 187v3M402.5 166v4M403.5 187v3M412.5 155v6M412.5 190v5M415.5 161v5M416.5 155v6M417.5 187v3M418.5 187v3M424.5 161v5M430.5 155v6M430.5 190v5M435.5 150v5M435.5 190v5M436.5 161v5M437.5 187v3M439.5 166v4M442.5 190v5M446.5 161v5M447.5 166v4M447.5 187v3M451.5 190v5M454.5 161v5M454.5 187v3M455.5 190v5M456.5 155v6"/>
<path stroke="#00ff8e" d="M100.5 190v5M101.5 166v4M101.5 190v5M102.5 166v4M103.5 155v6M103.5 166v4M105.5 161v5M106.5 166v4M107.5 190v5M116.5 166v4M125.5 166v4M125.5 190v5M129.5 190v5M131.5 166v4M134.5 195v5M145.5 190v5M146.5 161v5M151.5 166v4M152.5 166v4M156.5 187v3M159.5 166v4M163.5 166v4M163.5 190v5M166.5 155v6M167.5 166v4M169.5 161v5M170.5 190v5M172.5 166v4M172.5 190v5M173.5 195v5M178.5 166v4M181.5 190v5M182.5 166v4M184.5 166v4M185.5 195v5M190.5 187v8M191.5 166v4M192.5 161v5M194.5 166v4M196.5 166v4M196.5 190v5M197.5 190v5M199.5 161v5M199.5 190v5M200.5 190v5M204.5 166v4M212.5 166v4M217.5 195v5M225.5 190v5M226.5 190v5M230.5 187v3M231.5 161v9M232.5 166v4M236.5 190v5M238.5 195v5M239.5 190v5M240.5 161v5M244.5 155v6M256.5 187v8M263.5 190v5M264.5 166v4M266.5 166v4M270.5 190v5M276.5 166v4M284.5 190v5M286.5 155v6M287.5 161v5M287.5 190v5M288.5 166v4M289.5 161v9M291.5 166v4M292.5 190v5M294.5 190v5M298.5 166v4M299.5 190v5M300.5 166v4M301.5 166v4M302.5 166v4M303.5 166v4M306.5 190v5M308.5 190v5M309.5 183v4M311.5 187v3M314.5 170v5M315.5 166v4M316.5 166v4M319.5 166v4M321.5 170v5M323.5 161v5M324.5 161v5M324.5 190v5M328.5 166v4M330.5 166v4M330.5 187v3M332.5 161v5M334.5 187v3M335.5 150v5M336.5 187v3M337.5 155v6M338.5 166v4M341.5 150v11M342.5 187v3M343.5 187v3M345.5 161v5M345.5 187v3M347.5 190v5M348.5 187v3M350.5 187v3M353.5 166v4M353.5 187v3M355.5 166v4M356.5 166v4M359.5 187v3M361.5 187v3M362.5 166v4M362.5 187v3M364.5 170v5M368.5 166v4M368.5 183v4M369.5 183v7M370.5 150v5M372.5 166v4M374.5 187v3M379.5 161v5M379.5 187v3M381.5 155v6M383.5 183v4M387.5 187v3M389.5 166v4M389.5 187v3M393.5 187v3M398.5 187v3M399.5 161v5M400.5 187v3M401.5 187v3M403.5 166v4M404.5 187v3M405.5 166v4M407.5 166v4M408.5 161v5M410.5 187v3M411.5 161v5M411.5 187v3M414.5 190v5M417.5 155v6M418.5 166v4M420.5 187v3M423.5 166v4M426.5 187v3M428.5 166v4M428.5 187v3M429.5 183v7M430.5 161v5M432.5 187v3M435.5 155v6M438.5 187v3M440.5 187v3M441.5 187v3M443.5 166v4M446.5 190v5M448.5 161v5M449.5 183v4M450.5 161v5M450.5 187v3M458.5 166v4M459.5 183v4M460.5 187v3"/>
<path stroke="#00ff78" d="M100.5 187v3M102.5 161v5M106.5 175v4M106.5 187v8M108.5 166v4M109.5 187v3M112.5 166v9M115.5 166v4M115.5 190v5M116.5 190v5M117.5 170v5M119.5 166v4M119.5 175v4M120.5 190v5M126.5 166v4M130.5 166v4M130.5 190v5M132.5 166v4M136.5 190v5M138.5 166v4M138.5 187v3M141.5 166v4M141.5 190v5M142.5 166v4M144.5 166v4M144.5 183v4M144.5 190v5M149.5 166v4M152.5 190v5M153.5 161v5M154.5 161v5M159.5 190v5M161.5 166v4M162.5 166v4M164.5 190v5M166.5 166v4M167.5 161v5M167.5 190v5M168.5 161v9M168.5 190v5M170.5 166v4M177.5 190v5M180.5 190v5M181.5 166v4M182.5 170v5M182.5 190v5M183.5 166v4M186.5 166v4M188.5 166v4M188.5 190v5M189.5 166v4M189.5 179v4M191.5 170v5M191.5 183v4M192.5 190v5M196.5 170v5M197.5 161v9M199.5 166v4M200.5 166v13M201.5 166v4M201.5 190v5M202.5 190v5M215.5 187v3M219.5 179v4M220.5 166v4M221.5 166v4M222.5 166v4M224.5 166v4M226.5 166v4M227.5 166v4M228.5 166v4M229.5 166v4M229.5 190v5M232.5 190v5M233.5 166v4M237.5 166v4M239.5 166v4M239.5 183v7M241.5 166v4M242.5 161v9M243.5 155v6M244.5 166v4M246.5 190v5M247.5 190v5M249.5 190v5M250.5 166v4M255.5 166v4M255.5 190v5M257.5 166v4M259.5 166v4M260.5 195v5M262.5 195v5M263.5 166v4M264.5 170v5M268.5 190v5M269.5 190v5M271.5 166v4M272.5 190v5M275.5 190v5M276.5 190v5M279.5 166v4M279.5 190v5M280.5 190v5M281.5 166v4M282.5 190v5M284.5 170v5M286.5 166v4M288.5 190v5M294.5 166v4M295.5 161v5M295.5 190v5M296.5 161v5M303.5 187v8M304.5 166v4M308.5 166v4M310.5 190v5M312.5 166v4M313.5 166v4M314.5 187v3M317.5 187v3M319.5 183v7M320.5 166v4M321.5 187v3M325.5 187v3M327.5 170v5M331.5 187v3M332.5 166v4M332.5 187v3M334.5 166v4M335.5 187v3M336.5 183v4M337.5 166v4M338.5 183v4M339.5 166v9M339.5 179v4M339.5 187v3M340.5 161v5M340.5 187v3M341.5 166v4M341.5 187v3M342.5 161v9M343.5 166v4M345.5 166v9M347.5 187v3M352.5 166v4M352.5 183v4M353.5 183v4M354.5 187v3M355.5 187v3M356.5 170v9M356.5 183v4M357.5 166v4M360.5 187v3M361.5 166v4M364.5 166v4M365.5 166v4M366.5 166v4M366.5 179v4M368.5 170v5M370.5 190v5M371.5 166v4M373.5 166v4M373.5 187v3M375.5 183v7M376.5 170v5M376.5 187v3M377.5 183v4M378.5 166v4M381.5 170v5M383.5 187v3M385.5 166v4M386.5 187v3M387.5 183v4M388.5 187v3M390.5 170v5M392.5 187v3M393.5 170v5M394.5 161v9M395.5 166v4M395.5 187v3M396.5 161v5M397.5 166v9M398.5 161v9M398.5 183v4M400.5 166v4M401.5 166v4M405.5 187v3M406.5 187v3M411.5 166v9M413.5 187v3M414.5 161v5M414.5 187v3M415.5 187v3M419.5 166v4M419.5 187v3M423.5 187v3M424.5 187v3M425.5 166v4M425.5 187v3M426.5 166v4M429.5 166v4M430.5 187v3M431.5 155v6M431.5 187v3M433.5 155v6M433.5 166v4M433.5 187v3M434.5 187v3M436.5 179v4M437.5 166v4M438.5 166v4M441.5 166v4M445.5 166v4M445.5 183v4M447.5 183v4M448.5 187v3M449.5 166v4M450.5 166v4M450.5 179v4M451.5 161v5M452.5 187v3M453.5 187v3M454.5 183v4M455.5 155v6M456.5 187v3M459.5 187v3M460.5 166v4"/>
<path stroke="#00ff64" d="M99.5 190v5M100.5 166v13M102.5 190v5M104.5 190v5M105.5 166v4M105.5 187v8M106.5 170v5M106.5 179v4M107.5 166v4M109.5 190v5M111.5 166v9M111.5 190v5M112.5 187v3M113.5 166v4M115.5 175v4M117.5 190v5M119.5 170v5M119.5 187v8M120.5 166v4M121.5 166v4M121.5 175v4M124.5 166v4M127.5 166v4M127.5 190v5M128.5 166v4M128.5 190v5M132.5 190v5M133.5 166v4M134.5 190v5M135.5 166v4M136.5 170v5M137.5 166v4M137.5 179v4M137.5 190v5M138.5 170v5M140.5 170v5M140.5 187v3M141.5 179v4M141.5 187v3M143.5 166v4M143.5 190v5M144.5 179v4M145.5 170v5M146.5 170v5M147.5 166v4M147.5 179v4M149.5 190v5M150.5 166v9M150.5 187v8M151.5 190v5M152.5 170v5M154.5 166v9M154.5 190v5M156.5 166v4M156.5 190v5M157.5 170v5M158.5 166v4M160.5 190v5M162.5 190v5M166.5 190v5M167.5 170v5M169.5 190v5M171.5 166v4M172.5 170v5M174.5 166v4M174.5 190v5M176.5 166v4M177.5 166v9M178.5 190v5M179.5 190v5M181.5 170v5M183.5 179v4M185.5 166v4M185.5 190v5M186.5 170v5M187.5 166v4M187.5 190v5M189.5 187v3M190.5 166v9M193.5 166v4M193.5 187v3M195.5 170v5M197.5 170v5M198.5 166v4M199.5 187v3M201.5 187v3M202.5 170v5M203.5 190v5M204.5 170v5M204.5 190v5M205.5 179v4M206.5 190v5M207.5 166v4M208.5 166v4M210.5 166v4M211.5 190v5M212.5 187v8M213.5 166v4M213.5 190v5M214.5 190v5M215.5 170v5M215.5 179v8M218.5 190v5M219.5 166v4M221.5 187v3M223.5 190v5M224.5 190v5M225.5 179v4M227.5 187v8M229.5 183v7M230.5 166v9M230.5 190v5M231.5 179v4M232.5 170v5M232.5 179v4M233.5 170v5M234.5 170v5M235.5 179v4M236.5 187v3M237.5 179v4M243.5 166v4M244.5 190v5M245.5 161v9M246.5 161v5M246.5 187v3M249.5 166v4M250.5 170v5M250.5 187v3M251.5 166v4M251.5 190v5M252.5 190v5M254.5 190v5M256.5 166v4M256.5 179v4M258.5 187v8M259.5 190v5M263.5 187v3M264.5 190v5M265.5 166v4M265.5 190v5M266.5 187v3M267.5 166v4M270.5 166v4M271.5 187v8M272.5 166v4M272.5 187v3M277.5 190v5M278.5 190v5M279.5 183v4M280.5 166v4M281.5 190v5M282.5 166v4M283.5 175v4M283.5 190v5M284.5 187v3M286.5 161v5M286.5 187v3M287.5 166v4M288.5 187v3M290.5 166v4M291.5 161v5M291.5 190v5M292.5 170v5M294.5 187v3M295.5 166v4M296.5 170v5M297.5 166v4M297.5 187v3M298.5 187v8M299.5 166v4M300.5 190v5M301.5 170v5M304.5 170v5M305.5 170v5M308.5 187v3M309.5 170v5M309.5 179v4M310.5 166v4M311.5 190v5M314.5 166v4M315.5 183v4M316.5 170v5M318.5 179v4M318.5 187v3M319.5 170v5M321.5 166v4M322.5 166v4M322.5 183v4M323.5 166v4M324.5 187v3M325.5 166v4M326.5 187v3M327.5 166v4M327.5 183v4M328.5 170v5M328.5 179v8M333.5 161v9M334.5 161v5M335.5 155v6M336.5 161v5M336.5 179v4M337.5 187v3M340.5 166v4M341.5 183v4M342.5 179v4M343.5 161v5M343.5 183v4M344.5 161v5M344.5 179v8M345.5 183v4M346.5 166v4M347.5 166v4M347.5 183v4M348.5 179v8M350.5 170v5M350.5 183v4M351.5 166v4M354.5 166v4M358.5 166v4M358.5 187v3M362.5 183v4M363.5 170v5M363.5 187v3M364.5 183v4M365.5 187v3M367.5 166v4M368.5 187v3M371.5 161v5M372.5 183v4M373.5 170v5M373.5 179v4M374.5 166v4M375.5 166v4M375.5 179v4M376.5 183v4M377.5 170v5M377.5 187v3M378.5 187v3M379.5 166v4M379.5 183v4M380.5 161v5M380.5 187v3M381.5 166v4M381.5 183v7M382.5 170v5M383.5 170v5M384.5 170v5M385.5 187v3M386.5 166v9M386.5 183v4M387.5 170v5M388.5 166v9M390.5 187v3M391.5 166v4M391.5 179v4M394.5 187v3M396.5 166v4M396.5 187v3M397.5 161v5M397.5 183v4M398.5 170v5M398.5 179v4M399.5 166v4M399.5 175v4M400.5 183v4M401.5 170v5M402.5 170v5M403.5 179v8M407.5 175v4M408.5 187v3M410.5 166v4M410.5 183v4M411.5 183v4M412.5 161v5M412.5 187v3M413.5 166v4M415.5 166v4M416.5 166v4M417.5 166v4M417.5 179v4M419.5 161v5M419.5 179v4M420.5 170v5M421.5 166v9M422.5 166v4M422.5 187v3M424.5 166v9M424.5 183v4M425.5 170v5M425.5 183v4M428.5 183v4M432.5 166v9M434.5 161v5M436.5 187v3M438.5 170v5M439.5 187v3M443.5 170v5M444.5 187v3M445.5 170v5M446.5 187v3M450.5 183v4M451.5 166v4M451.5 187v3M454.5 179v4M456.5 166v4M457.5 161v14M457.5 187v3M458.5 183v7M459.5 166v9M460.5 170v5"/>
<path stroke="#00ff50" d="M99.5 166v9M102.5 187v3M103.5 179v8M103.5 190v5M104.5 170v5M104.5 187v3M105.5 170v9M107.5 170v5M107.5 187v3M108.5 170v5M108.5 187v8M109.5 166v4M110.5 166v4M110.5 187v8M112.5 179v4M113.5 170v5M113.5 183v4M113.5 190v5M114.5 187v3M116.5 170v9M117.5 175v4M117.5 183v4M118.5 166v9M118.5 179v4M118.5 187v8M119.5 179v4M121.5 170v5M121.5 190v5M123.5 161v9M123.5 190v5M124.5 161v5M124.5 170v5M125.5 170v5M125.5 187v3M127.5 170v5M130.5 170v5M130.5 179v4M130.5 187v3M131.5 179v4M131.5 190v5M132.5 183v4M133.5 190v5M135.5 170v5M135.5 179v4M135.5 187v8M136.5 179v4M137.5 170v5M138.5 179v4M139.5 190v5M140.5 166v4M140.5 190v5M141.5 170v5M142.5 170v5M143.5 170v5M144.5 170v9M145.5 179v8M146.5 190v5M148.5 170v5M148.5 179v4M148.5 190v5M150.5 179v4M151.5 170v9M152.5 179v4M152.5 187v3M153.5 166v17M153.5 187v3M155.5 166v9M155.5 187v3M156.5 170v5M157.5 166v4M157.5 187v3M158.5 190v5M159.5 175v12M160.5 166v4M160.5 183v4M163.5 170v5M163.5 179v4M163.5 187v3M164.5 166v9M165.5 161v5M165.5 187v3M166.5 161v5M167.5 175v15M169.5 170v5M170.5 170v5M170.5 187v3M171.5 187v3M172.5 179v4M174.5 170v5M175.5 166v9M175.5 190v5M177.5 187v3M180.5 166v4M182.5 187v3M183.5 175v4M184.5 170v5M184.5 183v4M186.5 179v4M186.5 190v5M187.5 187v3M188.5 170v5M188.5 183v4M189.5 170v5M189.5 183v4M190.5 179v4M191.5 175v4M192.5 166v4M193.5 170v5M193.5 179v4M193.5 190v5M194.5 190v5M195.5 187v8M196.5 179v11M197.5 175v4M198.5 161v5M198.5 179v4M198.5 190v5M200.5 183v7M202.5 166v4M205.5 187v3M206.5 166v9M206.5 187v3M207.5 187v8M209.5 190v5M213.5 175v4M214.5 166v4M214.5 187v3M215.5 175v4M216.5 166v4M217.5 166v4M217.5 187v3M218.5 170v5M220.5 175v4M222.5 170v5M222.5 183v12M223.5 166v4M223.5 175v4M224.5 187v3M225.5 166v9M226.5 170v9M226.5 187v3M227.5 170v5M227.5 179v4M228.5 161v5M228.5 183v7M229.5 179v4M231.5 175v4M231.5 187v3M232.5 187v3M233.5 190v5M234.5 166v4M234.5 187v8M235.5 166v9M235.5 190v5M236.5 179v8M237.5 170v5M238.5 187v8M239.5 170v9M240.5 166v4M240.5 187v3M241.5 170v5M241.5 190v5M242.5 170v5M242.5 190v5M243.5 170v5M245.5 187v3M246.5 175v4M247.5 170v5M248.5 166v4M248.5 190v5M249.5 170v5M249.5 187v3M250.5 179v4M251.5 179v4M252.5 166v9M252.5 179v4M252.5 187v3M255.5 175v4M255.5 183v7M256.5 170v5M256.5 183v4M257.5 170v5M258.5 166v4M258.5 183v4M260.5 166v9M260.5 190v5M261.5 166v4M262.5 166v4M262.5 190v5M264.5 187v3M265.5 179v4M265.5 187v3M266.5 183v4M267.5 175v4M268.5 166v4M269.5 187v3M270.5 170v5M272.5 183v4M273.5 170v5M275.5 166v4M275.5 179v4M276.5 175v15M277.5 166v4M277.5 175v4M278.5 166v4M278.5 187v3M279.5 187v3M281.5 170v5M283.5 170v5M284.5 183v4M285.5 190v5M286.5 190v5M287.5 170v5M289.5 190v5M291.5 170v5M292.5 179v4M292.5 187v3M293.5 170v5M293.5 179v4M293.5 190v5M294.5 179v4M295.5 187v3M296.5 187v3M297.5 183v4M297.5 190v5M298.5 170v5M298.5 179v8M299.5 179v4M299.5 187v3M300.5 187v3M303.5 170v5M304.5 179v4M305.5 166v4M306.5 187v3M307.5 166v4M311.5 166v4M313.5 170v5M313.5 187v3M314.5 175v4M314.5 183v4M315.5 179v4M315.5 187v3M316.5 187v3M318.5 170v5M320.5 170v13M320.5 187v3M321.5 179v4M323.5 187v3M324.5 166v4M324.5 183v4M326.5 183v4M327.5 187v3M329.5 166v4M331.5 166v4M331.5 183v4M333.5 179v11M334.5 179v8M335.5 166v4M336.5 170v5M339.5 175v4M339.5 183v4M340.5 175v4M342.5 183v4M343.5 170v5M344.5 166v13M346.5 183v7M347.5 170v5M349.5 183v4M350.5 166v4M354.5 170v5M355.5 170v5M355.5 179v4M356.5 179v4M357.5 183v4M358.5 183v4M359.5 175v4M359.5 183v4M360.5 166v4M360.5 179v4M362.5 175v8M363.5 166v4M366.5 170v5M367.5 170v5M367.5 183v4M368.5 179v4M369.5 166v9M369.5 179v4M370.5 155v6M371.5 170v5M371.5 183v4M372.5 187v3M374.5 170v5M374.5 183v4M375.5 175v4M377.5 166v4M378.5 179v4M379.5 170v5M380.5 175v4M380.5 183v4M382.5 183v4M383.5 166v4M384.5 179v8M386.5 175v8M387.5 179v4M388.5 179v8M389.5 183v4M390.5 175v4M391.5 175v4M391.5 183v4M392.5 166v4M392.5 183v4M393.5 166v4M394.5 170v5M394.5 179v4M395.5 170v9M398.5 175v4M399.5 179v8M401.5 175v4M404.5 166v9M404.5 183v4M405.5 183v4M406.5 166v4M409.5 161v5M410.5 161v5M410.5 170v5M413.5 183v4M414.5 166v4M415.5 183v4M416.5 187v3M417.5 161v5M417.5 170v9M418.5 175v4M418.5 183v4M419.5 170v5M419.5 183v4M420.5 166v4M420.5 179v4M421.5 179v8M422.5 170v9M422.5 183v4M423.5 170v5M427.5 187v3M429.5 170v5M430.5 166v4M431.5 166v4M432.5 179v8M433.5 170v5M434.5 179v4M436.5 166v9M436.5 183v4M437.5 170v5M438.5 183v4M439.5 170v5M439.5 183v4M440.5 183v4M442.5 166v4M442.5 187v3M444.5 166v4M445.5 179v4M448.5 170v5M449.5 170v9M452.5 166v4M452.5 175v4M453.5 170v5M454.5 166v9M455.5 166v4M455.5 187v3M456.5 183v4M457.5 175v4M460.5 175v8"/>
<path stroke="#00ff3c" d="M99.5 175v8M99.5 187v3M100.5 183v4M101.5 179v11M103.5 161v5M103.5 170v5M103.5 187v3M104.5 161v5M105.5 179v4M106.5 183v4M107.5 175v4M111.5 179v4M111.5 187v3M114.5 190v5M115.5 179v4M116.5 179v11M117.5 187v3M119.5 183v4M120.5 170v5M120.5 179v11M122.5 161v5M122.5 170v5M123.5 170v5M123.5 183v4M125.5 179v4M126.5 170v5M126.5 187v3M127.5 187v3M128.5 170v5M128.5 183v4M129.5 166v4M129.5 179v8M130.5 183v4M131.5 170v5M132.5 170v5M132.5 187v3M134.5 170v5M136.5 183v7M137.5 183v7M139.5 166v9M140.5 179v8M142.5 190v5M143.5 179v11M144.5 187v3M145.5 166v4M145.5 175v4M146.5 166v4M147.5 183v12M149.5 170v5M150.5 175v4M150.5 183v4M151.5 179v4M151.5 187v3M154.5 187v3M155.5 175v4M155.5 190v5M157.5 179v8M157.5 190v5M158.5 170v5M158.5 187v3M159.5 187v3M160.5 175v4M161.5 170v5M161.5 187v3M162.5 179v4M163.5 183v4M166.5 187v3M168.5 179v4M169.5 166v4M170.5 175v4M171.5 175v4M171.5 183v4M172.5 183v4M173.5 166v4M173.5 190v5M174.5 179v11M175.5 187v3M176.5 179v4M176.5 190v5M177.5 175v4M179.5 166v4M180.5 175v4M180.5 187v3M181.5 175v4M182.5 183v4M183.5 170v5M183.5 183v4M184.5 179v4M184.5 187v3M187.5 170v5M187.5 179v4M188.5 187v3M189.5 175v4M190.5 175v4M191.5 187v8M192.5 170v5M192.5 187v3M193.5 183v4M195.5 166v4M195.5 179v8M197.5 183v7M198.5 175v4M198.5 187v3M199.5 170v9M200.5 179v4M201.5 170v5M203.5 166v9M205.5 170v5M205.5 183v4M205.5 190v5M206.5 179v4M207.5 170v5M207.5 179v4M208.5 183v4M209.5 170v5M210.5 183v12M211.5 175v4M211.5 183v7M212.5 170v5M212.5 179v4M214.5 170v5M216.5 170v5M216.5 187v8M217.5 175v4M217.5 190v5M218.5 166v4M218.5 187v3M219.5 175v4M219.5 187v3M220.5 190v5M221.5 170v5M221.5 190v5M222.5 179v4M223.5 170v5M224.5 170v9M225.5 183v4M226.5 179v8M227.5 175v4M227.5 183v4M228.5 190v5M229.5 161v5M229.5 170v5M230.5 161v5M231.5 170v5M233.5 179v4M233.5 187v3M234.5 183v4M235.5 187v3M236.5 170v5M237.5 187v3M238.5 166v4M240.5 190v5M241.5 183v7M243.5 183v4M244.5 179v4M244.5 187v3M245.5 170v13M245.5 190v5M246.5 170v5M246.5 179v4M247.5 166v4M248.5 170v5M250.5 183v4M251.5 175v4M251.5 183v7M252.5 175v4M252.5 183v4M253.5 166v4M255.5 170v5M255.5 179v4M257.5 179v11M258.5 175v8M259.5 187v3M260.5 187v3M261.5 175v4M261.5 190v5M262.5 170v5M263.5 170v9M264.5 175v8M265.5 170v5M266.5 170v5M266.5 179v4M267.5 179v4M267.5 190v5M269.5 166v9M270.5 187v3M271.5 170v13M272.5 170v5M272.5 179v4M273.5 166v4M273.5 187v3M274.5 187v8M276.5 170v5M277.5 170v5M277.5 183v7M278.5 170v5M278.5 179v8M279.5 175v4M280.5 170v5M280.5 179v11M281.5 179v4M281.5 187v3M283.5 166v4M284.5 175v4M286.5 170v5M286.5 179v8M288.5 170v5M288.5 179v4M290.5 161v5M290.5 190v5M291.5 179v4M292.5 175v4M293.5 183v7M294.5 170v5M295.5 170v5M296.5 175v4M297.5 170v5M297.5 179v4M298.5 175v4M299.5 170v9M300.5 170v5M300.5 183v4M301.5 183v7M302.5 170v5M303.5 175v4M303.5 183v4M304.5 175v4M305.5 179v4M306.5 166v9M306.5 183v4M307.5 170v5M307.5 183v4M310.5 187v3M311.5 175v8M312.5 170v5M312.5 187v3M314.5 179v4M315.5 170v9M316.5 175v4M316.5 183v4M317.5 166v4M317.5 183v4M318.5 166v4M318.5 183v4M319.5 175v4M322.5 170v5M322.5 187v3M323.5 175v4M323.5 183v4M325.5 170v5M325.5 183v4M326.5 175v8M329.5 183v7M330.5 175v4M330.5 183v4M332.5 183v4M333.5 170v5M334.5 170v9M335.5 170v5M336.5 175v4M337.5 161v5M337.5 183v4M340.5 170v5M340.5 183v4M342.5 175v4M343.5 179v4M346.5 175v4M347.5 175v8M348.5 175v4M349.5 170v5M350.5 175v4M351.5 183v7M352.5 179v4M353.5 170v5M353.5 179v4M355.5 183v4M357.5 170v5M357.5 187v3M359.5 170v5M359.5 179v4M360.5 175v4M360.5 183v4M361.5 179v8M362.5 170v5M363.5 175v4M363.5 183v4M365.5 170v5M365.5 183v4M366.5 175v4M367.5 175v8M370.5 166v4M371.5 175v4M372.5 170v9M376.5 166v4M377.5 175v8M378.5 175v4M378.5 183v4M379.5 175v4M380.5 166v9M381.5 161v5M383.5 175v8M384.5 166v4M385.5 175v4M389.5 170v5M390.5 183v4M391.5 170v5M392.5 170v9M393.5 179v8M395.5 179v4M396.5 170v5M397.5 175v4M399.5 170v5M400.5 170v9M401.5 179v8M402.5 179v8M403.5 175v4M405.5 170v5M407.5 179v8M408.5 166v4M408.5 183v4M409.5 183v7M411.5 175v4M412.5 179v8M413.5 170v5M413.5 179v4M414.5 170v5M417.5 183v4M418.5 161v5M420.5 183v4M422.5 179v4M423.5 175v8M426.5 170v9M427.5 170v5M428.5 170v9M429.5 175v8M432.5 161v5M432.5 175v4M433.5 161v5M434.5 166v4M435.5 161v9M435.5 187v3M437.5 183v4M440.5 166v4M443.5 179v8M444.5 170v5M445.5 175v4M446.5 166v4M446.5 183v4M447.5 170v9M448.5 166v4M452.5 183v4M453.5 166v4M453.5 179v8M454.5 175v4M455.5 179v4M456.5 170v5M457.5 183v4"/>
<path stroke="#00ff2c" d="M100.5 179v4M101.5 170v5M104.5 166v4M104.5 183v4M107.5 179v8M108.5 183v4M109.5 170v9M109.5 183v4M110.5 170v5M111.5 183v4M112.5 175v4M112.5 183v4M113.5 179v4M114.5 166v9M115.5 170v5M115.5 183v4M120.5 175v4M121.5 187v3M122.5 175v4M122.5 190v5M123.5 187v3M124.5 175v4M124.5 183v12M125.5 175v4M125.5 183v4M126.5 183v4M126.5 190v5M127.5 175v8M128.5 175v8M128.5 187v3M129.5 170v5M130.5 175v4M131.5 175v4M131.5 183v4M132.5 179v4M133.5 170v5M133.5 179v4M134.5 166v4M135.5 175v4M135.5 183v4M137.5 175v4M138.5 183v4M139.5 187v3M141.5 183v4M143.5 175v4M147.5 170v9M149.5 187v3M151.5 183v4M156.5 179v4M159.5 170v5M160.5 170v5M160.5 187v3M161.5 183v4M161.5 190v5M162.5 187v3M163.5 175v4M164.5 179v8M165.5 166v4M165.5 175v8M165.5 190v5M166.5 170v5M166.5 179v4M168.5 170v5M168.5 183v7M169.5 187v3M170.5 179v4M171.5 170v5M171.5 179v4M172.5 175v4M172.5 187v3M173.5 170v5M175.5 175v4M176.5 170v9M177.5 183v4M178.5 170v5M178.5 187v3M179.5 183v7M180.5 170v5M180.5 179v8M181.5 179v4M182.5 175v8M183.5 187v3M184.5 175v4M185.5 175v15M187.5 175v4M187.5 183v4M188.5 179v4M192.5 183v4M194.5 187v3M195.5 175v4M196.5 175v4M198.5 170v5M199.5 179v4M201.5 179v8M202.5 175v4M202.5 183v4M204.5 179v4M205.5 175v4M207.5 183v4M208.5 170v9M209.5 166v4M210.5 170v5M211.5 166v4M212.5 183v4M213.5 179v4M213.5 187v3M214.5 175v12M216.5 183v4M217.5 170v5M217.5 183v4M218.5 179v8M219.5 170v5M219.5 190v5M220.5 170v5M220.5 187v3M221.5 175v4M221.5 183v4M223.5 179v4M223.5 187v3M224.5 179v4M225.5 175v4M228.5 170v13M229.5 175v4M230.5 179v4M231.5 183v4M233.5 175v4M233.5 183v4M234.5 175v4M235.5 183v4M236.5 175v4M238.5 170v9M238.5 183v4M239.5 179v4M240.5 179v4M242.5 183v7M243.5 161v5M243.5 187v8M244.5 175v4M244.5 183v4M245.5 183v4M247.5 175v8M247.5 187v3M248.5 175v4M248.5 187v3M249.5 179v4M250.5 175v4M251.5 170v5M253.5 190v5M254.5 170v5M254.5 183v7M256.5 175v4M257.5 175v4M258.5 170v5M259.5 175v4M259.5 183v4M261.5 170v5M261.5 179v8M263.5 183v4M264.5 183v4M265.5 175v4M265.5 183v4M266.5 175v4M267.5 170v5M269.5 179v8M273.5 183v4M273.5 190v5M274.5 166v9M275.5 170v5M275.5 183v4M279.5 170v5M279.5 179v4M280.5 175v4M281.5 175v4M282.5 175v8M283.5 179v4M283.5 187v3M285.5 161v9M285.5 179v4M287.5 179v11M288.5 175v4M289.5 170v17M291.5 175v4M291.5 183v7M293.5 175v4M294.5 175v4M294.5 183v4M295.5 183v4M296.5 166v4M297.5 175v4M299.5 183v4M300.5 179v4M302.5 175v15M304.5 183v4M305.5 175v4M305.5 183v4M306.5 179v4M307.5 175v8M308.5 175v12M309.5 175v4M310.5 170v9M310.5 183v4M311.5 170v5M311.5 183v4M312.5 175v4M312.5 183v4M313.5 179v4M318.5 175v4M322.5 179v4M324.5 170v5M325.5 179v4M326.5 166v9M327.5 175v4M329.5 175v4M330.5 170v5M330.5 179v4M331.5 170v5M331.5 179v4M335.5 161v5M335.5 183v4M337.5 170v5M338.5 179v4M340.5 179v4M341.5 161v5M342.5 170v5M345.5 175v8M346.5 170v5M348.5 170v5M349.5 179v4M350.5 179v4M351.5 170v13M352.5 170v5M353.5 175v4M354.5 183v4M357.5 179v4M358.5 170v13M360.5 170v5M361.5 170v5M364.5 179v4M365.5 179v4M366.5 183v4M370.5 170v5M370.5 187v3M371.5 179v4M373.5 183v4M374.5 179v4M375.5 170v5M378.5 170v5M379.5 179v4M382.5 175v4M385.5 170v5M388.5 175v4M392.5 179v4M394.5 183v4M396.5 175v8M397.5 179v4M403.5 170v5M405.5 179v4M406.5 170v5M406.5 183v4M407.5 170v5M408.5 170v5M409.5 166v9M410.5 175v4M413.5 175v4M414.5 175v12M415.5 170v13M416.5 161v5M416.5 170v5M418.5 170v5M419.5 175v4M423.5 183v4M424.5 175v8M425.5 179v4M426.5 179v4M427.5 166v4M430.5 170v9M431.5 161v5M431.5 179v8M433.5 175v4M433.5 183v4M434.5 175v4M434.5 183v4M436.5 175v4M437.5 175v4M438.5 175v8M439.5 175v4M440.5 170v5M440.5 179v4M441.5 170v13M442.5 179v8M447.5 179v4M448.5 183v4M449.5 179v4M451.5 170v5M451.5 183v4M455.5 170v5M456.5 161v5M456.5 175v8M458.5 170v9M459.5 175v8M460.5 183v4"/>
<path stroke="#00ff1c" d="M99.5 183v4M101.5 175v4M102.5 170v17M103.5 175v4M104.5 175v8M105.5 183v4M108.5 175v8M109.5 179v4M110.5 175v12M111.5 175v4M113.5 175v4M113.5 187v3M114.5 175v12M115.5 187v3M117.5 179v4M118.5 175v4M118.5 183v4M121.5 179v8M122.5 166v4M122.5 179v11M123.5 175v8M124.5 179v4M126.5 175v8M127.5 183v4M129.5 175v4M129.5 187v3M131.5 187v3M132.5 175v4M133.5 175v4M133.5 183v7M134.5 175v15M136.5 175v4M138.5 175v4M139.5 175v12M140.5 175v4M141.5 175v4M142.5 175v15M145.5 187v3M146.5 175v15M148.5 175v4M148.5 183v7M149.5 175v12M152.5 175v4M152.5 183v4M153.5 183v4M154.5 175v12M155.5 179v8M156.5 175v4M156.5 183v4M157.5 175v4M158.5 175v12M160.5 179v4M161.5 175v8M162.5 170v9M162.5 183v4M164.5 175v4M164.5 187v3M165.5 170v5M165.5 183v4M166.5 175v4M166.5 183v4M168.5 175v4M169.5 175v12M170.5 183v4M171.5 190v5M173.5 175v15M174.5 175v4M175.5 179v8M176.5 183v7M177.5 179v4M178.5 175v12M179.5 170v13M181.5 183v7M185.5 170v5M186.5 175v4M186.5 183v7M188.5 175v4M190.5 183v4M191.5 179v4M192.5 175v8M193.5 175v4M194.5 170v17M197.5 179v4M198.5 183v4M199.5 183v4M201.5 175v4M202.5 179v4M202.5 187v3M203.5 175v15M204.5 175v4M204.5 183v7M206.5 175v4M206.5 183v4M207.5 175v4M208.5 179v4M208.5 187v3M209.5 175v15M210.5 175v8M211.5 170v5M211.5 179v4M212.5 175v4M213.5 170v5M213.5 183v4M216.5 175v8M217.5 179v4M218.5 175v4M219.5 183v4M220.5 179v8M221.5 179v4M222.5 175v4M223.5 183v4M224.5 183v4M225.5 187v3M230.5 175v4M230.5 183v4M232.5 175v4M232.5 183v4M234.5 179v4M235.5 175v4M237.5 175v4M237.5 183v4M238.5 179v4M240.5 170v9M240.5 183v4M241.5 175v8M242.5 175v8M243.5 175v8M244.5 161v5M244.5 170v5M246.5 183v4M247.5 183v4M248.5 179v8M249.5 175v4M249.5 183v4M253.5 170v20M254.5 166v4M254.5 175v8M259.5 170v5M259.5 179v4M260.5 175v12M261.5 187v3M262.5 175v15M263.5 179v4M267.5 183v7M268.5 170v20M269.5 175v4M270.5 175v12M271.5 183v4M272.5 175v4M273.5 175v8M274.5 175v12M275.5 175v4M275.5 187v3M277.5 179v4M278.5 175v4M281.5 183v4M282.5 170v5M282.5 183v7M283.5 183v4M284.5 179v4M285.5 170v9M285.5 183v7M286.5 175v4M287.5 175v4M288.5 183v4M289.5 187v3M290.5 170v20M292.5 183v4M295.5 175v8M296.5 179v8M300.5 175v4M301.5 175v8M303.5 179v4M305.5 187v3M306.5 175v4M307.5 187v3M308.5 170v5M310.5 179v4M312.5 179v4M313.5 175v4M313.5 183v4M316.5 179v4M317.5 170v13M319.5 179v4M320.5 183v4M321.5 175v4M321.5 183v4M322.5 175v4M323.5 170v5M323.5 179v4M324.5 175v8M325.5 175v4M327.5 179v4M328.5 175v4M329.5 170v5M329.5 179v4M331.5 175v4M332.5 170v13M333.5 175v4M335.5 175v8M337.5 175v8M338.5 170v9M341.5 170v13M343.5 175v4M346.5 179v4M349.5 175v4M352.5 175v4M354.5 175v8M355.5 175v4M357.5 175v4M361.5 175v4M363.5 179v4M364.5 175v4M365.5 175v4M368.5 175v4M369.5 175v4M370.5 175v12M372.5 179v4M373.5 175v4M374.5 175v4M376.5 175v8M380.5 179v4M381.5 175v8M382.5 179v4M384.5 175v4M385.5 179v8M387.5 175v4M389.5 175v8M390.5 179v4M393.5 175v4M394.5 175v4M396.5 183v4M400.5 179v4M402.5 175v4M404.5 175v8M405.5 175v4M406.5 175v8M408.5 175v8M409.5 175v8M410.5 179v4M411.5 179v4M412.5 166v13M416.5 175v12M418.5 179v4M420.5 175v4M421.5 175v4M425.5 175v4M426.5 183v4M427.5 175v12M428.5 179v4M430.5 179v8M431.5 170v9M433.5 179v4M434.5 170v5M435.5 170v17M437.5 179v4M439.5 179v4M440.5 175v4M441.5 183v4M442.5 170v9M443.5 175v4M444.5 175v12M446.5 170v13M448.5 175v8M450.5 170v9M451.5 175v8M452.5 170v5M452.5 179v4M453.5 175v4M455.5 175v4M455.5 183v4M457.5 179v4M458.5 179v4"/>
<path stroke="#0cff10" d="M370.5 161v5M455.5 161v5"/></g>
<g stroke-width="2" fill="none"><path stroke="#000000" d="M463 241v5M465 217v3M467 236v10M473 236v5M493 241v5M495 220v4M499 224v4M505 220v4M505 236v5M517 236v5"/>
<path stroke="#0a0012" d="M463 232v9M465 236v5M467 220v4M471 224v12M473 224v4M477 241v5M479 236v10M481 224v4M485 220v4M485 232v4M487 220v4M495 228v4M499 213v4M499 220v4M501 220v4M501 236v5M505 224v4M507 236v5M509 241v5M511 236v5M517 241v5"/>
<path stroke="#140024" d="M463 205v8M465 241v5M467 209v4M471 213v4M473 241v5M475 209v4M475 228v4M479 213v4M479 232v4M481 236v5M485 205v4M485 217v3M487 217v3M487 228v4M487 241v5M489 209v4M489 228v4M491 205v4M491 220v4M493 213v4M493 224v4M493 236v5M495 236v5M499 205v4M499 228v4M499 241v5M503 209v11M503 224v4M505 213v7M505 228v4M507 205v4M507 224v8M507 241v5M513 217v3M515 241v5M517 205v8"/>
<path stroke="#1e0037" d="M465 213v4M465 220v16M467 217v3M467 224v4M469 220v12M469 236v5M471 220v4M471 241v5M473 217v7M473 228v8M475 232v9M477 205v4M477 213v7M477 224v8M477 236v5M479 228v4M483 217v11M483 241v5M485 213v4M485 236v5M487 213v4M487 224v4M487 232v9M489 205v4M489 232v9M491 236v10M493 209v4M495 213v7M495 232v4M495 241v5M499 209v4M499 232v9M501 228v4M501 241v5M503 228v13M505 232v4M505 241v5M507 217v7M509 228v4M511 232v4M511 241v5M513 209v4M513 224v4M517 232v4M519 205v4M519 213v4"/>
<path stroke="#28004b" d="M463 213v19M467 205v4M467 213v4M467 228v8M469 209v11M469 232v4M469 241v5M471 209v4M471 217v3M471 236v5M473 209v8M475 213v7M475 224v4M475 241v5M477 220v4M477 232v4M479 217v3M481 228v8M481 241v5M483 209v4M483 228v13M485 224v8M485 241v5M487 205v8M489 213v4M489 220v8M489 241v5M491 209v4M491 217v3M491 224v4M491 232v4M493 220v4M493 228v8M495 205v8M495 224v4M497 209v4M499 217v3M501 224v4M501 232v4M503 205v4M503 220v4M503 241v5M505 205v8M507 209v8M507 232v4M509 213v4M509 220v8M509 232v4M511 209v4M511 217v3M511 224v4M513 220v4M513 228v18M515 213v28M517 213v19M519 217v3M519 224v8M519 241v5"/>
<path stroke="#32005f" d="M465 205v4M469 205v4M473 205v4M475 205v4M475 220v4M477 209v4M479 205v8M479 220v8M481 205v4M481 213v11M485 209v4M489 217v3M491 213v4M491 228v4M493 217v3M497 224v22M501 209v11M509 205v8M509 217v3M509 236v5M511 213v4M511 220v4M515 209v4M519 232v9"/>
<path stroke="#3c0275" d="M465 209v4M471 205v4M481 209v4M483 205v4M483 213v4M493 205v4M495 200v5M497 213v7M501 205v4M511 205v4M511 228v4M513 205v4M513 213v4M515 205v4M519 209v4M519 220v4"/>
<path stroke="#46048b" d="M463 200v5M465 87v8M465 200v5M467 144v6M467 200v5M473 144v6M483 200v5M493 200v5M495 161v5M497 205v4M497 220v4M499 125v7M499 200v5"/>
<path stroke="#4c06a1" d="M463 111v7M463 150v5M463 161v5M465 80v7M465 144v6M467 80v7M467 104v7M467 150v5M467 161v5M469 144v6M471 138v6M473 87v45M473 138v6M473 150v11M473 166v9M473 200v5M475 95v16M475 132v6M475 200v5M477 87v8M477 132v18M477 200v5M479 125v7M481 200v5M483 87v8M483 111v7M483 144v6M485 80v7M485 200v5M487 87v24M487 125v7M487 138v23M487 200v5M489 111v14M489 132v6M489 155v6M491 104v7M491 200v5M493 104v7M495 87v24M495 118v7M495 132v12M495 150v5M499 80v15M499 104v7M499 118v7M499 132v6M499 150v5M499 166v4M501 118v7M501 200v5M503 104v7M503 200v5M505 80v38M505 161v5M505 200v5M507 161v14M507 200v5M509 125v13M515 150v5M515 200v5M517 118v7M517 150v5M517 200v5"/>
<path stroke="#4f09b8" d="M463 80v31M463 118v32M465 104v40M465 150v11M465 166v4M467 95v9M467 111v33M467 155v6M467 166v4M467 190v5M469 80v7M469 111v7M469 132v12M469 155v15M469 200v5M471 80v7M471 95v37M471 144v11M471 161v9M471 200v5M473 80v7M473 132v6M473 161v5M473 175v4M473 187v3M475 80v15M475 111v21M475 138v17M475 161v14M475 183v4M477 80v7M477 95v37M477 150v16M479 104v7M479 118v7M479 200v5M481 80v7M481 95v9M481 118v20M481 155v6M481 166v4M483 80v7M483 104v7M483 132v12M483 150v25M483 179v4M485 104v7M485 118v14M485 138v6M485 166v4M487 80v7M487 111v14M487 132v6M487 161v9M487 179v4M487 187v8M489 87v24M489 125v7M489 138v17M489 166v9M489 200v5M491 80v7M491 95v9M491 125v13M491 150v11M493 80v7M493 95v9M493 111v14M493 132v6M493 144v22M495 80v7M495 111v7M495 125v7M495 144v6M495 155v6M495 166v9M495 187v3M495 195v5M499 111v7M499 138v12M499 161v5M499 170v5M499 187v3M501 80v7M501 95v9M501 111v7M501 125v7M501 138v6M501 150v5M503 80v7M503 95v9M503 111v21M503 144v6M503 155v24M505 118v7M505 132v29M505 166v4M507 80v24M507 111v44M509 87v17M509 138v23M509 200v5M511 111v7M511 144v6M511 161v5M511 200v5M513 111v7M513 125v7M513 144v11M513 200v5M515 104v7M515 125v19M515 166v9M517 80v15M517 111v7M517 132v18M519 80v7M519 200v5"/>
<path stroke="#480ace" d="M463 155v6M463 166v4M463 175v8M463 187v8M465 95v9M465 161v5M465 170v5M465 179v21M467 87v8M467 175v12M467 195v5M469 87v24M469 118v14M469 150v5M469 175v4M469 190v5M471 87v8M471 132v6M471 155v6M471 179v8M471 195v5M473 179v8M473 190v10M475 155v6M475 179v4M475 187v13M477 166v24M477 195v5M479 80v24M479 111v7M479 132v38M479 195v5M481 104v14M481 144v11M481 161v5M481 170v5M483 95v9M483 118v14M483 183v12M485 87v17M485 111v7M485 132v6M485 144v22M485 170v5M485 183v4M487 170v9M487 183v4M487 195v5M489 80v7M489 161v5M489 175v12M489 195v5M491 111v14M491 138v12M491 161v9M491 183v4M493 87v8M493 125v7M493 138v6M493 166v4M493 179v8M495 175v12M495 190v5M497 87v8M497 104v7M497 161v5M499 95v9M499 155v6M499 175v8M499 195v5M501 104v7M501 132v6M501 155v28M501 195v5M503 87v8M503 132v12M503 150v5M503 183v4M503 190v5M505 125v7M505 170v30M507 104v7M507 155v6M507 179v4M509 80v7M509 104v21M509 161v9M509 175v4M509 195v5M511 80v31M511 118v26M511 150v5M511 166v4M511 187v3M513 80v7M513 95v16M513 118v7M513 132v12M513 155v15M513 195v5M515 80v24M515 111v14M515 144v6M515 155v11M515 175v4M515 195v5M517 95v16M517 125v7M517 155v20M517 179v8M517 190v5M519 95v43M519 144v17"/>
<path stroke="#3a0ce3" d="M463 170v5M463 183v4M463 195v5M465 175v4M467 170v5M467 187v3M469 170v5M469 179v11M469 195v5M471 170v5M471 187v8M475 175v4M477 190v5M479 170v17M479 190v5M481 87v8M481 138v6M481 175v4M481 183v12M483 175v4M483 195v5M485 179v4M485 187v3M489 187v8M491 87v8M491 170v9M491 187v13M493 170v9M493 187v8M497 80v7M497 111v27M497 144v6M497 155v6M497 200v5M499 183v4M499 190v5M501 87v8M501 144v6M501 183v12M503 179v4M503 187v3M503 195v5M507 183v17M509 170v5M509 179v16M511 155v6M511 170v9M511 183v4M511 190v10M513 87v8M513 170v5M513 179v4M513 187v8M515 179v16M517 175v4M517 187v3M517 195v5M519 87v8M519 138v6M519 161v9M519 179v4"/>
<path stroke="#280ef3" d="M471 175v4M479 187v3M481 179v4M481 195v5M485 175v4M485 190v10M491 179v4M493 195v5M497 95v9M497 138v6M497 150v5M497 166v4M497 183v7M497 195v5M507 175v4M511 179v4M513 175v4M513 183v4M519 170v9M519 187v3"/>
<path stroke="#1411fd" d="M497 170v13M497 190v5M519 183v4M519 190v10"/></g>
<g stroke-width="5" fill="none"><path stroke="#0329ff" d="M94.5 111v7M94.5 236v10"/>
<path stroke="#0036ff" d="M94.5 132v6M94.5 213v4M94.5 228v8"/>
<path stroke="#0041ff" d="M94.5 80v7M94.5 217v3M94.5 224v4"/>
<path stroke="#004eff" d="M94.5 87v24M94.5 118v14M94.5 138v12M94.5 209v4M94.5 220v4"/>
<path stroke="#005eff" d="M94.5 150v5M94.5 205v4"/>
<path stroke="#0082ff" d="M94.5 155v6M94.5 200v5"/>
<path stroke="#00d2ff" d="M94.5 161v5"/>
<path stroke="#00fff0" d="M94.5 166v4"/>
<path stroke="#00ffa4" d="M94.5 170v5"/>
<path stroke="#00ff78" d="M94.5 195v5"/>
<path stroke="#00ff50" d="M94.5 175v4M94.5 183v4"/>
<path stroke="#00ff3c" d="M94.5 187v3"/>
<path stroke="#00ff2c" d="M94.5 179v4"/>
<path stroke="#00ff1c" d="M94.5 190v5"/></g>
<g stroke-width="1" fill="none"><path stroke="#32005f" d="M97.5 155v6M97.5 217v7"/>
<path stroke="#3c0275" d="M97.5 144v6M97.5 166v9M97.5 179v8M97.5 190v10M97.5 213v4M97.5 224v4M97.5 232v14"/>
<path stroke="#46048b" d="M97.5 138v6M97.5 150v5M97.5 161v5M97.5 175v4M97.5 187v3M97.5 200v9M97.5 228v4"/>
<path stroke="#4c06a1" d="M97.5 209v4"/>
<path stroke="#0329ff" d="M97.5 125v7"/>
<path stroke="#0036ff" d="M97.5 80v7M97.5 95v23M97.5 132v6"/>
<path stroke="#0041ff" d="M97.5 87v8M97.5 118v7"/></g>
<path d="M98 80h1v166h-1zM461 80h1v166h-1z" fill="#fff"/>
<path d="M99 155.5H520M99 183.5H520" stroke="#ffffff" stroke-opacity="0.22" stroke-width="1"/>
<rect x="92" y="338" width="428" height="83" fill="#000"/>
<g stroke-width="1" fill="none"><path stroke="#0a0012" d="M92.5 338v9M92.5 352v14M92.5 405v5M92.5 419v2M93.5 338v14M93.5 357v9M93.5 405v16M94.5 338v38M94.5 405v16M95.5 347v5M95.5 414v7M96.5 347v24M96.5 405v5M96.5 414v7M99.5 338v38M99.5 405v16M100.5 338v24M100.5 405v16M101.5 342v34M101.5 405v16M102.5 347v10M102.5 405v9M102.5 419v2M103.5 338v4M103.5 347v10M103.5 405v16M104.5 342v10M104.5 357v9M104.5 405v14M105.5 347v5M105.5 357v14M105.5 414v7M106.5 338v43M106.5 400v14M106.5 419v2M107.5 347v5M107.5 362v9M107.5 410v11M108.5 342v34M108.5 405v16M109.5 405v5M109.5 414v7M110.5 342v5M110.5 352v5M110.5 362v14M110.5 400v5M110.5 410v11M111.5 338v4M111.5 347v19M111.5 400v21M112.5 338v33M112.5 405v16M113.5 338v38M113.5 405v16M114.5 338v38M114.5 405v16M115.5 338v19M115.5 362v19M115.5 405v5M115.5 419v2M116.5 338v4M116.5 347v19M116.5 410v11M117.5 342v29M117.5 405v16M118.5 342v15M118.5 405v14M119.5 338v33M119.5 405v16M120.5 347v24M120.5 405v16M121.5 338v4M121.5 352v10M121.5 371v10M121.5 405v14M123.5 338v4M123.5 371v10M123.5 400v5M124.5 347v10M124.5 362v4M124.5 405v5M125.5 342v29M125.5 405v16M126.5 338v24M126.5 405v16M127.5 347v10M127.5 405v5M128.5 342v10M128.5 357v14M128.5 400v21M129.5 342v29M129.5 405v16M130.5 338v33M130.5 410v11M131.5 357v5M131.5 405v9M132.5 342v10M132.5 414v7M133.5 338v43M133.5 405v16M134.5 342v24M134.5 371v5M134.5 405v9M134.5 419v2M135.5 342v5M135.5 357v14M135.5 410v9M136.5 338v43M136.5 400v21M137.5 352v5M137.5 362v4M137.5 419v2M138.5 342v10M138.5 357v14M138.5 405v9M138.5 419v2M139.5 338v9M139.5 352v5M139.5 362v19M139.5 405v14M140.5 342v20M140.5 366v5M140.5 410v4M141.5 342v29M141.5 405v16M142.5 338v4M142.5 347v34M142.5 405v16M143.5 338v4M143.5 366v15M143.5 400v5M144.5 342v5M144.5 352v5M144.5 405v16M145.5 342v34M145.5 400v21M146.5 338v4M146.5 347v5M146.5 371v10M147.5 338v43M147.5 400v21M148.5 347v5M148.5 357v14M148.5 405v5M148.5 419v2M149.5 342v10M149.5 357v5M149.5 366v5M149.5 405v16M150.5 342v29M150.5 400v5M150.5 414v7M151.5 338v9M151.5 352v19M151.5 405v5M152.5 338v28M152.5 371v5M152.5 400v19M153.5 352v10M153.5 419v2M154.5 347v5M154.5 362v4M154.5 400v14M154.5 419v2M155.5 347v19M155.5 405v14M156.5 347v5M156.5 366v5M156.5 410v9M157.5 342v20M158.5 338v38M158.5 400v21M159.5 347v19M159.5 405v16M160.5 338v38M160.5 405v16M161.5 338v43M161.5 405v16M162.5 338v28M162.5 400v21M163.5 338v9M163.5 352v14M163.5 371v10M163.5 410v9M164.5 338v9M164.5 357v5M164.5 371v10M165.5 338v38M165.5 400v21M166.5 338v28M166.5 371v10M166.5 410v4M166.5 419v2M167.5 338v24M167.5 366v10M167.5 405v16M168.5 342v5M168.5 352v5M168.5 410v4M169.5 342v5M169.5 366v5M169.5 410v11M170.5 342v29M170.5 400v21M171.5 338v4M171.5 371v10M172.5 376v5M173.5 410v4M174.5 338v28M174.5 371v10M174.5 400v19M175.5 342v29M175.5 405v16M176.5 342v24M176.5 400v21M177.5 347v10M177.5 362v4M177.5 405v16M178.5 357v5M178.5 410v11M179.5 342v5M179.5 400v10M180.5 338v9M180.5 352v29M180.5 405v14M181.5 338v4M181.5 357v9M181.5 371v10M181.5 405v9M182.5 342v34M182.5 405v16M183.5 338v38M183.5 405v16M184.5 338v19M184.5 362v9M184.5 405v16M185.5 338v9M185.5 352v5M185.5 371v10M185.5 419v2M186.5 338v4M186.5 347v15M186.5 366v15M186.5 410v4M186.5 419v2M187.5 338v4M187.5 347v34M187.5 414v5M188.5 338v9M188.5 357v24M188.5 400v21M189.5 338v19M189.5 362v4M189.5 371v10M189.5 405v16M190.5 347v10M190.5 366v5M190.5 405v5M191.5 338v4M191.5 347v24M191.5 405v14M192.5 342v24M192.5 405v16M193.5 338v4M194.5 338v43M194.5 405v16M195.5 338v9M195.5 376v5M195.5 405v5M196.5 352v5M197.5 347v15M197.5 366v5M197.5 410v4M198.5 338v43M198.5 405v14M199.5 347v5M199.5 357v14M199.5 410v4M199.5 419v2M200.5 342v39M200.5 405v16M201.5 347v5M202.5 342v20M202.5 405v16M203.5 338v4M203.5 347v5M203.5 362v14M203.5 405v5M203.5 414v7M204.5 338v43M204.5 405v5M204.5 419v2M205.5 338v4M205.5 347v5M205.5 362v4M205.5 419v2M206.5 338v43M206.5 405v16M207.5 338v43M207.5 405v16M208.5 347v10M208.5 419v2M209.5 338v33M209.5 405v16M210.5 352v5M210.5 410v9M211.5 342v15M211.5 362v4M211.5 400v21M212.5 338v43M212.5 405v5M212.5 414v7M213.5 338v14M213.5 357v24M213.5 405v14M214.5 342v20M214.5 405v16M215.5 342v20M215.5 366v5M215.5 405v5M215.5 414v5M216.5 342v10M216.5 357v9M216.5 371v5M216.5 410v11M217.5 376v5M217.5 400v5M218.5 342v5M218.5 352v5M218.5 414v7M219.5 338v28M219.5 405v16M220.5 342v29M220.5 405v16M221.5 410v11M222.5 342v15M222.5 366v5M222.5 410v4M222.5 419v2M224.5 342v29M224.5 405v16M225.5 338v43M225.5 405v16M226.5 347v15M226.5 366v5M226.5 405v5M227.5 338v33M227.5 405v16M228.5 338v24M228.5 366v15M228.5 405v9M228.5 419v2M229.5 347v5M229.5 362v4M230.5 338v38M230.5 405v16M231.5 338v14M231.5 357v24M231.5 405v9M231.5 419v2M232.5 338v4M232.5 347v5M232.5 371v10M232.5 400v14M233.5 338v38M233.5 405v16M234.5 338v43M234.5 400v21M235.5 352v10M235.5 366v5M236.5 338v4M236.5 347v5M236.5 371v10M236.5 400v5M236.5 414v5M237.5 338v24M237.5 405v16M238.5 338v4M238.5 371v10M239.5 342v24M239.5 371v5M239.5 405v16M240.5 338v4M240.5 371v10M240.5 400v5M241.5 342v24M241.5 405v16M242.5 342v15M242.5 362v14M242.5 410v11M243.5 410v9M244.5 338v28M244.5 371v10M244.5 405v16M245.5 338v33M245.5 405v16M246.5 352v5M246.5 419v2M247.5 342v5M247.5 352v5M247.5 366v5M248.5 338v9M248.5 352v5M248.5 414v5M249.5 400v5M250.5 338v4M250.5 347v15M250.5 371v10M250.5 405v16M251.5 338v38M251.5 405v16M252.5 347v5M252.5 366v5M252.5 414v5M253.5 342v34M253.5 400v21M254.5 338v14M254.5 357v9M254.5 371v10M254.5 410v11M255.5 352v5M255.5 362v4M255.5 405v5M255.5 414v7M256.5 338v43M256.5 405v16M257.5 347v5M257.5 357v5M257.5 414v7M258.5 342v24M258.5 405v16M259.5 338v9M259.5 352v5M259.5 371v10M260.5 338v33M260.5 405v5M260.5 414v7M261.5 410v11M262.5 338v38M262.5 405v16M263.5 410v4M263.5 419v2M264.5 338v28M264.5 405v16M265.5 338v38M265.5 405v16M266.5 342v15M266.5 362v4M266.5 410v11M267.5 338v38M267.5 405v16M268.5 352v14M268.5 405v5M269.5 338v43M269.5 405v16M270.5 338v28M270.5 400v21M271.5 347v5M271.5 357v5M271.5 405v9M271.5 419v2M272.5 376v5M273.5 338v14M273.5 357v9M273.5 405v14M274.5 342v10M274.5 405v9M274.5 419v2M275.5 342v29M275.5 400v5M275.5 410v11M276.5 338v9M276.5 357v5M277.5 338v4M277.5 347v19M277.5 405v16M278.5 342v15M278.5 362v4M278.5 410v9M279.5 342v5M279.5 357v5M279.5 366v5M279.5 410v11M280.5 338v4M280.5 352v5M280.5 362v9M280.5 376v5M281.5 338v4M281.5 347v5M281.5 357v9M281.5 410v4M283.5 338v38M283.5 405v16M284.5 338v14M284.5 366v5M284.5 410v4M285.5 338v33M285.5 405v16M286.5 338v28M286.5 405v16M287.5 376v5M288.5 342v34M288.5 405v16M289.5 338v38M289.5 405v16M290.5 338v4M290.5 347v15M290.5 410v9M291.5 376v5M292.5 338v33M292.5 405v16M293.5 405v5M294.5 347v5M294.5 357v5M294.5 405v16M295.5 338v43M295.5 405v16M296.5 338v43M296.5 405v16M297.5 342v29M297.5 405v16M298.5 338v43M298.5 400v21M299.5 342v15M299.5 405v16M300.5 405v9M301.5 376v5M301.5 405v5M302.5 357v5M302.5 410v9M303.5 347v5M303.5 357v5M303.5 405v16M304.5 338v38M304.5 400v21M305.5 338v38M305.5 405v16M306.5 342v5M306.5 352v5M306.5 414v5M307.5 342v39M307.5 405v16M308.5 338v28M308.5 405v16M309.5 362v4M310.5 342v10M310.5 362v4M310.5 400v5M311.5 338v9M311.5 357v9M311.5 405v9M312.5 338v4M312.5 347v5M312.5 362v4M312.5 371v5M313.5 342v34M313.5 405v16M314.5 347v24M314.5 405v16M315.5 338v4M315.5 362v4M316.5 352v14M316.5 405v9M316.5 419v2M317.5 338v33M317.5 376v5M317.5 405v16M318.5 342v39M318.5 405v16M319.5 338v33M319.5 405v16M320.5 342v39M320.5 405v16M321.5 342v5M321.5 352v5M321.5 362v9M321.5 405v16M322.5 338v4M322.5 376v5M323.5 338v4M323.5 362v19M323.5 405v9M323.5 419v2M324.5 347v5M324.5 357v5M324.5 366v5M324.5 405v16M325.5 338v9M325.5 352v29M325.5 400v21M326.5 342v34M326.5 405v16M327.5 342v34M327.5 405v16M328.5 347v24M328.5 405v14M329.5 342v10M329.5 362v9M329.5 410v9M330.5 352v5M331.5 347v10M331.5 362v9M331.5 410v11M332.5 342v5M332.5 352v5M332.5 362v9M332.5 405v5M333.5 338v38M333.5 400v10M333.5 414v7M334.5 376v5M335.5 338v4M335.5 366v5M335.5 376v5M335.5 400v5M335.5 414v5M336.5 338v4M336.5 371v10M336.5 400v5M337.5 338v43M337.5 405v16M338.5 352v5M338.5 410v4M339.5 342v10M339.5 357v9M339.5 405v16M340.5 338v28M340.5 405v16M341.5 352v19M341.5 405v5M342.5 347v5M342.5 357v14M342.5 405v9M342.5 419v2M343.5 357v5M343.5 410v9M344.5 342v34M344.5 400v21M345.5 342v5M345.5 352v19M345.5 405v9M345.5 419v2M346.5 338v43M346.5 400v10M346.5 414v7M347.5 342v5M347.5 352v24M347.5 405v16M348.5 338v4M348.5 371v10M348.5 410v4M349.5 376v5M349.5 400v5M350.5 347v10M350.5 362v9M350.5 400v5M350.5 410v11M351.5 338v38M351.5 405v16M352.5 338v4M352.5 357v24M352.5 405v5M352.5 414v5M353.5 338v43M353.5 400v21M354.5 338v4M354.5 366v15M354.5 400v5M355.5 347v5M355.5 362v4M355.5 405v16M356.5 338v38M356.5 405v16M357.5 338v4M357.5 362v4M357.5 376v5M357.5 400v5M358.5 347v10M358.5 362v4M358.5 410v9M359.5 342v5M359.5 357v9M359.5 414v5M360.5 342v15M360.5 366v5M360.5 414v5M361.5 338v38M361.5 405v16M362.5 338v9M362.5 352v29M362.5 405v9M363.5 366v5M363.5 414v5M364.5 338v38M364.5 405v16M365.5 347v5M365.5 357v5M365.5 366v5M365.5 405v5M365.5 419v2M366.5 338v24M366.5 405v16M367.5 366v5M367.5 405v5M368.5 347v10M368.5 405v5M368.5 419v2M369.5 342v10M369.5 362v9M369.5 405v9M369.5 419v2M370.5 347v5M370.5 357v14M370.5 405v5M370.5 419v2M371.5 405v9M372.5 342v20M372.5 410v11M373.5 347v5M373.5 362v4M373.5 405v5M374.5 338v14M374.5 366v5M374.5 376v5M374.5 414v5M375.5 338v38M375.5 400v21M376.5 338v4M376.5 376v5M377.5 338v38M377.5 400v21M378.5 338v43M378.5 405v16M379.5 347v15M379.5 410v4M379.5 419v2M380.5 342v39M380.5 405v16M381.5 342v34M381.5 405v16M382.5 342v5M382.5 352v14M382.5 405v5M382.5 414v5M383.5 347v5M383.5 357v5M383.5 366v10M383.5 410v11M384.5 338v4M384.5 347v34M384.5 405v9M384.5 419v2M385.5 338v19M385.5 362v4M385.5 410v11M386.5 362v9M386.5 405v5M386.5 419v2M387.5 342v34M387.5 405v16M388.5 338v43M388.5 405v16M389.5 338v43M389.5 410v11M390.5 347v5M390.5 357v5M390.5 366v5M390.5 405v5M390.5 414v7M391.5 352v5M391.5 362v9M391.5 405v5M392.5 342v20M392.5 405v16M393.5 342v29M393.5 405v5M393.5 414v7M394.5 338v28M394.5 405v16M395.5 342v5M395.5 362v4M395.5 371v10M395.5 400v5M396.5 376v5M396.5 400v5M397.5 338v24M397.5 400v19M398.5 376v5M399.5 338v24M399.5 405v16M400.5 338v9M400.5 352v14M400.5 371v10M400.5 405v5M400.5 414v5M401.5 342v10M401.5 357v9M401.5 405v16M402.5 347v15M402.5 405v14M403.5 338v24M403.5 366v15M403.5 405v9M403.5 419v2M404.5 342v5M404.5 410v11M405.5 357v5M405.5 371v10M406.5 338v38M406.5 405v14M407.5 342v5M407.5 410v11M408.5 342v5M408.5 362v4M408.5 414v5M409.5 338v38M409.5 405v16M410.5 362v9M410.5 414v5M411.5 338v38M411.5 405v16M413.5 338v38M413.5 405v16M414.5 338v19M414.5 400v21M415.5 357v9M415.5 405v9M416.5 338v28M416.5 371v5M416.5 405v16M417.5 338v43M417.5 405v16M418.5 338v4M418.5 371v10M418.5 400v5M419.5 371v10M420.5 338v9M420.5 371v10M420.5 400v5M421.5 342v34M421.5 405v16M422.5 338v38M422.5 400v21M423.5 342v5M423.5 352v19M423.5 405v5M423.5 419v2M424.5 342v15M424.5 366v5M424.5 419v2M425.5 366v5M425.5 410v4M425.5 419v2M426.5 342v34M426.5 400v21M427.5 366v5M427.5 414v5M428.5 338v43M428.5 400v21M429.5 347v29M429.5 405v16M430.5 338v9M430.5 357v5M430.5 371v10M430.5 405v9M431.5 338v4M431.5 352v14M431.5 371v10M431.5 405v9M432.5 342v24M432.5 410v4M432.5 419v2M433.5 338v4M433.5 371v10M433.5 410v4M434.5 342v34M434.5 405v16M435.5 342v34M435.5 400v21M436.5 338v33M436.5 405v16M437.5 342v5M437.5 352v19M437.5 405v5M437.5 419v2M438.5 376v5M438.5 400v5M439.5 338v24M439.5 371v10M439.5 405v9M439.5 419v2M440.5 338v38M440.5 405v16M441.5 338v9M441.5 357v5M441.5 376v5M441.5 405v5M442.5 342v15M442.5 362v9M442.5 405v14M443.5 338v4M443.5 347v29M443.5 405v16M444.5 338v38M444.5 405v16M445.5 338v43M445.5 405v16M446.5 338v4M446.5 352v29M446.5 405v14M447.5 347v19M447.5 410v9M448.5 338v38M448.5 405v16M449.5 352v5M449.5 362v9M449.5 414v5M450.5 338v43M450.5 400v21M451.5 342v20M451.5 410v11M452.5 338v14M452.5 362v4M452.5 371v5M452.5 405v5M452.5 414v7M453.5 338v33M453.5 400v21M454.5 342v5M454.5 352v5M454.5 419v2M455.5 338v38M455.5 400v21M456.5 342v24M456.5 400v10M456.5 414v7M457.5 419v2M458.5 338v38M458.5 400v21M459.5 338v14M459.5 357v5M459.5 366v15M459.5 405v14M460.5 338v4M460.5 371v10M460.5 400v5"/>
<path stroke="#140024" d="M93.5 352v5M93.5 400v5M94.5 376v5M94.5 400v5M95.5 338v9M95.5 352v24M95.5 405v9M96.5 338v9M96.5 371v5M96.5 410v4M99.5 376v5M100.5 362v4M100.5 400v5M101.5 338v4M101.5 376v5M102.5 342v5M102.5 357v5M102.5 414v5M103.5 357v14M103.5 400v5M104.5 352v5M104.5 366v10M104.5 400v5M104.5 419v2M105.5 338v9M105.5 352v5M105.5 371v5M105.5 400v14M107.5 338v9M107.5 352v10M107.5 400v10M108.5 338v4M108.5 376v5M108.5 400v5M109.5 338v38M109.5 410v4M110.5 338v4M110.5 347v5M110.5 357v5M110.5 405v5M111.5 366v5M112.5 371v5M113.5 376v5M113.5 400v5M114.5 376v5M114.5 400v5M116.5 366v5M117.5 338v4M117.5 371v10M117.5 400v5M118.5 357v9M118.5 419v2M119.5 371v10M119.5 400v5M120.5 338v9M120.5 371v10M121.5 400v5M122.5 338v43M122.5 400v21M124.5 338v9M124.5 357v5M124.5 366v10M124.5 410v11M125.5 338v4M125.5 371v10M126.5 366v5M126.5 400v5M127.5 338v9M127.5 357v5M127.5 410v11M128.5 338v4M128.5 352v5M128.5 371v5M129.5 338v4M129.5 371v5M129.5 400v5M130.5 371v10M130.5 400v10M131.5 338v19M131.5 362v14M131.5 414v7M132.5 338v4M132.5 352v19M132.5 400v14M133.5 400v5M134.5 338v4M134.5 366v5M134.5 414v5M135.5 347v10M135.5 371v10M135.5 405v5M135.5 419v2M137.5 342v10M137.5 357v5M137.5 366v10M137.5 405v14M138.5 338v4M138.5 352v5M138.5 371v5M138.5 414v5M140.5 362v4M140.5 371v10M140.5 405v5M140.5 414v7M141.5 338v4M141.5 371v10M141.5 400v5M142.5 400v5M143.5 395v5M144.5 338v4M144.5 347v5M144.5 357v24M144.5 400v5M145.5 338v4M145.5 376v5M145.5 395v5M146.5 395v10M148.5 338v9M148.5 352v5M148.5 371v5M148.5 410v9M149.5 352v5M149.5 362v4M149.5 371v5M150.5 338v4M150.5 371v10M150.5 405v9M152.5 376v5M153.5 338v14M153.5 362v9M153.5 405v14M154.5 342v5M154.5 352v10M154.5 366v10M154.5 414v5M155.5 342v5M155.5 366v5M155.5 419v2M156.5 342v5M156.5 352v14M156.5 371v5M156.5 400v10M156.5 419v2M157.5 338v4M157.5 362v9M157.5 400v21M158.5 376v5M159.5 342v5M159.5 366v15M160.5 376v5M160.5 400v5M162.5 366v5M163.5 400v5M164.5 400v5M165.5 376v5M167.5 376v5M168.5 347v5M168.5 357v5M168.5 366v5M168.5 400v10M168.5 414v7M169.5 347v19M169.5 371v5M169.5 400v10M170.5 338v4M170.5 371v10M172.5 400v5M173.5 342v34M173.5 400v10M173.5 414v7M175.5 338v4M175.5 371v10M175.5 400v5M176.5 338v4M177.5 338v9M177.5 357v5M177.5 400v5M178.5 342v15M178.5 400v10M179.5 338v4M179.5 347v24M179.5 410v11M182.5 338v4M182.5 376v5M183.5 376v5M184.5 357v5M184.5 400v5M185.5 400v5M186.5 400v5M187.5 400v5M189.5 400v5M190.5 342v5M190.5 357v9M190.5 371v5M190.5 400v5M190.5 410v11M191.5 371v5M191.5 400v5M192.5 338v4M192.5 366v5M193.5 400v5M196.5 338v14M196.5 357v5M196.5 366v5M196.5 405v16M197.5 342v5M197.5 362v4M197.5 371v5M197.5 405v5M197.5 414v7M199.5 338v9M199.5 352v5M199.5 371v5M199.5 400v10M199.5 414v5M200.5 338v4M200.5 400v5M201.5 342v5M201.5 352v19M201.5 405v16M202.5 338v4M203.5 342v5M203.5 352v10M203.5 376v5M203.5 410v4M206.5 400v5M208.5 342v5M208.5 357v19M208.5 400v19M209.5 371v10M210.5 338v14M210.5 357v24M210.5 405v5M210.5 419v2M211.5 338v4M211.5 357v5M211.5 366v5M213.5 400v5M214.5 338v4M215.5 338v4M215.5 362v4M215.5 371v5M215.5 400v5M215.5 410v4M215.5 419v2M216.5 338v4M216.5 352v5M216.5 366v5M216.5 376v5M216.5 400v10M218.5 338v4M218.5 347v5M218.5 357v14M218.5 400v14M219.5 366v5M220.5 338v4M220.5 371v10M220.5 400v5M221.5 342v29M221.5 405v5M222.5 338v4M222.5 357v9M222.5 371v5M222.5 400v10M222.5 414v5M223.5 400v5M224.5 338v4M224.5 371v5M225.5 400v5M226.5 338v9M226.5 362v4M226.5 371v5M226.5 400v5M226.5 410v11M227.5 371v5M227.5 400v5M229.5 338v9M229.5 352v10M229.5 366v10M229.5 405v16M230.5 376v5M230.5 400v5M231.5 400v5M233.5 376v5M233.5 400v5M235.5 338v14M235.5 362v4M235.5 371v5M235.5 405v16M237.5 362v9M237.5 400v5M239.5 338v4M239.5 366v5M239.5 376v5M241.5 338v4M241.5 366v5M242.5 338v4M242.5 357v5M242.5 376v5M242.5 405v5M243.5 342v29M243.5 405v5M243.5 419v2M244.5 400v5M245.5 371v10M246.5 342v10M246.5 357v5M246.5 400v19M247.5 338v4M247.5 347v5M247.5 357v9M247.5 400v21M248.5 400v5M250.5 400v5M251.5 376v5M251.5 400v5M252.5 338v9M252.5 352v14M252.5 371v5M252.5 405v9M252.5 419v2M253.5 338v4M253.5 376v5M254.5 400v5M255.5 338v14M255.5 357v5M255.5 366v10M255.5 400v5M255.5 410v4M256.5 400v5M257.5 342v5M257.5 352v5M257.5 362v9M257.5 405v9M258.5 338v4M258.5 400v5M260.5 400v5M261.5 338v38M261.5 400v10M262.5 376v5M263.5 342v24M263.5 405v5M263.5 414v5M264.5 366v5M265.5 376v5M266.5 338v4M266.5 357v5M266.5 366v5M266.5 400v10M267.5 376v5M268.5 342v10M268.5 366v5M268.5 410v11M269.5 400v5M270.5 366v5M271.5 338v9M271.5 352v5M271.5 362v14M271.5 400v5M271.5 414v5M272.5 400v5M273.5 400v5M274.5 338v4M274.5 352v24M274.5 400v5M274.5 414v5M275.5 338v4M275.5 405v5M276.5 352v5M277.5 342v5M278.5 338v4M278.5 357v5M278.5 400v10M278.5 419v2M279.5 338v4M279.5 347v10M279.5 362v4M279.5 371v5M279.5 400v10M280.5 400v5M281.5 400v5M282.5 342v29M282.5 405v16M283.5 376v5M285.5 371v10M285.5 400v5M286.5 400v5M288.5 338v4M288.5 376v5M289.5 376v5M289.5 400v5M290.5 362v4M292.5 371v5M292.5 400v5M293.5 342v29M293.5 400v5M293.5 410v11M294.5 338v9M294.5 352v5M297.5 338v4M297.5 371v10M297.5 400v5M299.5 357v19M299.5 400v5M300.5 342v34M300.5 414v7M301.5 400v5M302.5 342v15M302.5 362v14M302.5 400v10M302.5 419v2M303.5 338v9M303.5 352v5M303.5 362v4M303.5 400v5M304.5 376v5M305.5 376v5M305.5 400v5M306.5 338v4M306.5 347v5M306.5 357v14M306.5 405v9M306.5 419v2M307.5 338v4M308.5 366v5M308.5 400v5M309.5 342v20M309.5 366v5M309.5 400v21M310.5 352v10M310.5 366v10M310.5 405v16M311.5 366v5M312.5 400v5M313.5 338v4M313.5 376v5M314.5 338v9M314.5 371v5M315.5 357v5M315.5 366v5M315.5 400v5M316.5 338v14M316.5 366v5M316.5 414v5M317.5 371v5M318.5 338v4M319.5 371v10M319.5 400v5M320.5 338v4M321.5 338v4M321.5 347v5M321.5 357v5M321.5 371v5M322.5 400v5M323.5 400v5M324.5 342v5M324.5 352v5M324.5 362v4M324.5 371v5M326.5 338v4M326.5 376v5M326.5 400v5M327.5 338v4M327.5 400v5M328.5 338v9M328.5 371v5M328.5 400v5M328.5 419v2M329.5 338v4M329.5 352v10M329.5 405v5M329.5 419v2M330.5 338v14M330.5 357v24M330.5 405v16M331.5 338v9M331.5 357v5M331.5 371v5M331.5 400v10M332.5 338v4M332.5 347v5M332.5 357v5M332.5 371v5M332.5 400v5M332.5 410v11M333.5 376v5M334.5 400v5M337.5 400v5M338.5 342v10M338.5 357v14M338.5 405v5M338.5 414v7M339.5 338v4M339.5 352v5M339.5 366v10M339.5 400v5M340.5 371v5M340.5 400v5M341.5 338v14M341.5 371v5M341.5 410v11M342.5 338v9M342.5 352v5M342.5 371v5M342.5 400v5M342.5 414v5M343.5 338v19M343.5 362v9M343.5 400v10M343.5 419v2M344.5 338v4M344.5 376v5M345.5 338v4M345.5 347v5M345.5 371v5M345.5 414v5M347.5 338v4M347.5 347v5M347.5 400v5M348.5 400v5M350.5 342v5M350.5 357v5M350.5 371v5M350.5 405v5M351.5 376v5M351.5 400v5M352.5 400v5M355.5 338v9M355.5 352v10M355.5 366v5M356.5 376v5M356.5 400v5M358.5 338v9M358.5 357v5M358.5 366v5M358.5 405v5M358.5 419v2M359.5 347v10M359.5 366v10M359.5 400v14M359.5 419v2M360.5 338v4M360.5 357v9M360.5 371v5M360.5 405v9M360.5 419v2M361.5 376v5M362.5 400v5M363.5 338v28M363.5 400v14M363.5 419v2M364.5 376v5M365.5 338v9M365.5 352v5M365.5 362v4M365.5 371v10M365.5 410v9M366.5 362v9M367.5 338v28M367.5 410v11M368.5 338v9M368.5 357v9M368.5 410v9M369.5 338v4M369.5 352v10M369.5 371v5M369.5 400v5M369.5 414v5M370.5 338v9M370.5 352v5M370.5 376v5M370.5 410v9M371.5 338v33M371.5 414v7M372.5 338v4M372.5 362v14M372.5 405v5M373.5 342v5M373.5 352v10M373.5 366v10M373.5 410v11M375.5 376v5M376.5 400v5M377.5 376v5M379.5 338v9M379.5 362v9M379.5 400v10M379.5 414v5M380.5 338v4M380.5 400v5M381.5 338v4M381.5 400v5M382.5 338v4M382.5 347v5M382.5 366v10M382.5 400v5M382.5 410v4M382.5 419v2M383.5 338v9M383.5 352v5M383.5 362v4M383.5 405v5M384.5 400v5M385.5 357v5M385.5 405v5M386.5 342v20M386.5 371v5M386.5 410v9M387.5 338v4M387.5 376v5M387.5 400v5M389.5 400v5M390.5 342v5M390.5 352v5M390.5 362v4M390.5 400v5M390.5 410v4M391.5 342v10M391.5 357v5M391.5 371v5M391.5 410v11M392.5 338v4M393.5 338v4M393.5 371v10M393.5 400v5M393.5 410v4M394.5 366v5M394.5 400v5M398.5 400v5M399.5 362v9M401.5 338v4M401.5 352v5M401.5 400v5M402.5 338v9M402.5 362v19M402.5 400v5M402.5 419v2M404.5 338v4M404.5 347v29M404.5 400v10M406.5 376v5M407.5 338v4M407.5 347v15M407.5 400v10M408.5 338v4M408.5 347v15M408.5 366v5M408.5 376v5M408.5 405v9M408.5 419v2M409.5 376v5M410.5 342v20M410.5 371v5M410.5 400v14M410.5 419v2M411.5 376v5M411.5 400v5M413.5 376v5M413.5 400v5M414.5 362v4M415.5 338v19M415.5 366v10M415.5 400v5M415.5 414v7M416.5 366v5M421.5 338v4M421.5 376v5M421.5 400v5M422.5 376v5M423.5 338v4M423.5 347v5M423.5 371v5M423.5 400v5M423.5 410v9M424.5 357v9M424.5 371v5M424.5 405v14M425.5 338v28M425.5 400v10M425.5 414v5M426.5 338v4M426.5 376v5M427.5 342v24M427.5 371v5M427.5 400v14M427.5 419v2M429.5 338v9M429.5 376v5M429.5 400v5M430.5 400v5M432.5 366v10M432.5 400v10M432.5 414v5M433.5 400v5M434.5 338v4M434.5 376v5M434.5 400v5M435.5 338v4M436.5 371v5M437.5 338v4M437.5 347v5M437.5 371v5M437.5 400v5M437.5 410v9M442.5 338v4M442.5 357v5M442.5 371v5M442.5 400v5M442.5 419v2M443.5 342v5M443.5 400v5M444.5 376v5M444.5 400v5M445.5 400v5M446.5 400v5M447.5 338v9M447.5 366v5M447.5 405v5M447.5 419v2M448.5 376v5M449.5 338v14M449.5 357v5M449.5 371v5M449.5 400v14M449.5 419v2M450.5 395v5M451.5 338v4M451.5 362v14M451.5 390v5M451.5 400v10M452.5 352v10M452.5 366v5M452.5 376v5M452.5 400v5M452.5 410v4M453.5 371v10M453.5 395v5M454.5 338v4M454.5 347v5M454.5 357v19M454.5 400v19M455.5 376v5M455.5 395v5M456.5 338v4M456.5 366v15M456.5 410v4M457.5 342v34M457.5 400v19M458.5 376v5M459.5 400v5"/>
<path stroke="#1e0037" d="M92.5 366v5M95.5 400v5M96.5 376v5M96.5 400v5M99.5 400v5M101.5 400v5M102.5 338v4M102.5 362v9M102.5 400v5M104.5 338v4M104.5 376v5M105.5 376v5M107.5 371v10M109.5 376v5M109.5 400v5M110.5 376v5M112.5 400v5M113.5 395v5M115.5 400v5M116.5 400v5M118.5 338v4M118.5 366v5M118.5 400v5M120.5 400v5M124.5 376v5M124.5 400v5M125.5 400v5M126.5 362v4M127.5 362v4M127.5 400v5M128.5 376v5M129.5 376v5M131.5 400v5M132.5 371v10M134.5 376v5M134.5 400v5M135.5 338v4M135.5 400v5M137.5 338v4M137.5 376v5M137.5 400v5M138.5 376v5M138.5 400v5M140.5 338v4M140.5 400v5M141.5 395v5M148.5 376v5M148.5 395v10M149.5 338v4M149.5 376v5M149.5 400v5M150.5 395v5M151.5 400v5M153.5 371v5M154.5 338v4M154.5 376v5M154.5 395v5M155.5 338v4M155.5 371v5M155.5 395v10M156.5 338v4M156.5 376v5M156.5 395v5M157.5 371v5M159.5 338v4M159.5 395v10M166.5 400v5M167.5 400v5M168.5 338v4M168.5 362v4M169.5 338v4M169.5 376v5M171.5 400v5M173.5 338v4M173.5 376v5M176.5 366v5M177.5 366v5M178.5 338v4M178.5 362v4M180.5 400v5M182.5 400v5M183.5 400v5M190.5 338v4M192.5 371v5M193.5 371v5M194.5 400v5M195.5 400v5M196.5 362v4M197.5 338v4M197.5 376v5M198.5 400v5M199.5 376v5M201.5 338v4M201.5 371v10M201.5 400v5M202.5 362v9M203.5 400v5M204.5 400v5M205.5 366v5M205.5 400v5M208.5 338v4M210.5 400v5M212.5 400v5M214.5 366v5M214.5 400v5M215.5 376v5M219.5 371v5M219.5 400v5M221.5 338v4M221.5 371v5M221.5 400v5M222.5 376v5M222.5 395v5M224.5 376v5M224.5 400v5M226.5 376v5M227.5 376v5M229.5 376v5M229.5 400v5M235.5 376v5M235.5 400v5M238.5 400v5M239.5 400v5M241.5 371v5M241.5 400v5M242.5 400v5M243.5 338v4M245.5 400v5M246.5 338v4M246.5 362v9M247.5 371v10M252.5 400v5M255.5 376v5M255.5 395v5M257.5 338v4M257.5 400v5M259.5 400v5M260.5 371v5M261.5 376v5M262.5 400v5M263.5 338v4M263.5 400v5M266.5 371v5M268.5 338v4M268.5 371v5M268.5 400v5M271.5 376v5M273.5 366v10M274.5 376v5M276.5 371v5M277.5 366v5M277.5 400v5M279.5 376v5M282.5 338v4M282.5 371v10M282.5 400v5M283.5 400v5M284.5 400v5M286.5 366v5M287.5 400v5M288.5 400v5M290.5 366v5M290.5 400v5M291.5 400v5M293.5 338v4M293.5 371v5M294.5 362v9M295.5 400v5M296.5 400v5M299.5 338v4M299.5 376v5M300.5 338v4M300.5 376v5M300.5 400v5M302.5 338v4M303.5 366v5M306.5 371v5M306.5 400v5M307.5 400v5M309.5 338v4M310.5 338v4M310.5 376v5M311.5 400v5M314.5 376v5M314.5 400v5M318.5 400v5M320.5 400v5M321.5 376v5M321.5 400v5M323.5 395v5M324.5 338v4M324.5 376v5M324.5 400v5M328.5 376v5M329.5 371v10M329.5 400v5M330.5 400v5M331.5 376v5M338.5 338v4M338.5 371v5M338.5 400v5M339.5 376v5M340.5 366v5M341.5 376v5M341.5 400v5M342.5 376v5M343.5 371v10M345.5 376v5M345.5 400v5M347.5 376v5M350.5 338v4M350.5 376v5M355.5 400v5M358.5 371v10M359.5 338v4M359.5 376v5M363.5 371v10M364.5 400v5M365.5 400v5M367.5 371v10M367.5 400v5M368.5 366v5M369.5 376v5M370.5 371v5M370.5 400v5M371.5 371v10M371.5 400v5M373.5 338v4M373.5 376v5M374.5 400v5M378.5 400v5M379.5 371v10M381.5 376v5M382.5 376v5M383.5 376v5M383.5 400v5M385.5 366v5M385.5 400v5M386.5 338v4M390.5 338v4M390.5 371v10M391.5 338v4M391.5 400v5M392.5 366v5M392.5 400v5M397.5 362v9M399.5 400v5M400.5 400v5M401.5 366v5M403.5 400v5M404.5 376v5M406.5 400v5M408.5 371v5M408.5 400v5M410.5 338v4M410.5 376v5M412.5 400v5M414.5 357v5M414.5 371v5M415.5 376v5M416.5 376v5M416.5 400v5M417.5 400v5M418.5 395v5M420.5 395v5M421.5 395v5M423.5 376v5M424.5 338v4M424.5 376v5M424.5 395v10M425.5 371v5M427.5 338v4M427.5 376v5M432.5 338v4M436.5 400v5M437.5 376v5M439.5 400v5M440.5 400v5M441.5 400v5M442.5 376v5M443.5 376v5M449.5 376v5M450.5 390v5M451.5 376v5M451.5 386v4M451.5 395v5M452.5 395v5M454.5 376v5M456.5 395v5M457.5 338v4M457.5 376v5"/>
<path stroke="#28004b" d="M100.5 366v5M103.5 371v5M109.5 395v5M111.5 371v5M116.5 371v5M120.5 395v5M127.5 366v5M131.5 376v5M139.5 400v5M140.5 395v5M145.5 390v5M147.5 395v5M149.5 395v5M151.5 371v5M153.5 376v5M153.5 400v5M155.5 376v5M157.5 376v5M160.5 395v5M161.5 400v5M162.5 371v5M167.5 395v5M171.5 395v5M174.5 395v5M176.5 371v5M178.5 366v5M181.5 400v5M182.5 395v5M184.5 371v5M187.5 395v5M190.5 376v5M192.5 400v5M196.5 400v5M197.5 400v5M202.5 400v5M205.5 371v5M207.5 400v5M208.5 376v5M209.5 400v5M211.5 371v5M214.5 362v4M226.5 395v5M243.5 371v5M248.5 366v10M253.5 395v5M258.5 366v10M263.5 366v5M264.5 371v5M264.5 400v5M265.5 400v5M268.5 376v5M275.5 371v5M276.5 400v5M277.5 371v5M278.5 366v5M278.5 395v5M281.5 366v5M284.5 371v5M293.5 376v5M294.5 400v5M298.5 395v5M302.5 376v5M306.5 395v5M308.5 371v5M309.5 371v5M313.5 395v10M316.5 371v5M316.5 400v5M317.5 400v5M338.5 376v5M347.5 395v5M355.5 371v10M360.5 376v5M366.5 400v5M368.5 400v5M372.5 376v5M372.5 400v5M373.5 400v5M377.5 395v5M378.5 395v5M382.5 395v5M386.5 400v5M388.5 400v5M389.5 395v5M391.5 376v5M392.5 371v5M394.5 371v5M399.5 371v5M399.5 395v5M400.5 395v5M405.5 400v5M407.5 362v9M409.5 400v5M414.5 366v5M416.5 395v5M417.5 395v5M419.5 395v5M423.5 395v5M425.5 376v5M425.5 395v5M430.5 395v5M431.5 400v5M432.5 376v5M433.5 395v5M434.5 395v5M440.5 376v5M442.5 395v5M447.5 371v5M447.5 400v5M448.5 400v5M451.5 381v5M454.5 395v5M455.5 390v5M457.5 390v10M458.5 395v5"/>
<path stroke="#32005f" d="M93.5 366v10M118.5 371v5M119.5 395v5M123.5 395v5M134.5 395v5M137.5 395v5M139.5 395v5M142.5 395v5M144.5 386v9M145.5 381v9M147.5 386v9M148.5 386v9M152.5 395v5M157.5 395v5M162.5 395v5M164.5 395v5M168.5 371v5M177.5 371v5M178.5 371v5M179.5 371v5M186.5 395v5M190.5 395v5M192.5 395v5M200.5 395v5M202.5 371v5M206.5 395v5M214.5 371v5M218.5 371v5M220.5 395v5M221.5 376v5M223.5 395v5M227.5 395v5M233.5 395v5M235.5 395v5M237.5 371v5M237.5 395v5M243.5 400v5M252.5 376v5M254.5 395v5M257.5 371v5M263.5 371v5M265.5 395v5M267.5 400v5M281.5 371v5M294.5 371v5M302.5 395v5M310.5 395v5M311.5 371v5M312.5 395v5M317.5 395v5M320.5 395v5M321.5 395v5M325.5 395v5M326.5 395v5M327.5 395v5M330.5 395v5M331.5 395v5M332.5 376v5M333.5 395v5M336.5 395v5M337.5 395v5M345.5 395v5M349.5 395v5M350.5 395v5M352.5 395v5M358.5 400v5M360.5 395v10M361.5 400v5M366.5 371v5M373.5 395v5M385.5 371v5M386.5 376v5M387.5 395v5M392.5 362v4M394.5 395v5M396.5 395v5M401.5 371v5M422.5 395v5M427.5 395v5M431.5 395v5M435.5 376v5M436.5 376v5M439.5 395v5M447.5 395v5M450.5 381v5M452.5 390v5M454.5 381v14M455.5 381v9M456.5 390v5M457.5 381v9M460.5 395v5"/>
<path stroke="#3c0275" d="M92.5 371v5M92.5 400v5M99.5 395v5M100.5 395v5M101.5 395v5M103.5 376v5M106.5 395v5M118.5 395v5M126.5 371v5M127.5 371v5M128.5 395v5M141.5 390v5M143.5 390v5M144.5 381v5M144.5 395v5M148.5 381v5M150.5 390v5M151.5 395v5M153.5 395v5M158.5 395v5M162.5 376v5M163.5 395v5M165.5 395v5M172.5 395v5M177.5 395v5M181.5 395v5M183.5 395v5M184.5 395v5M188.5 395v5M189.5 395v5M191.5 395v5M192.5 376v5M195.5 395v5M196.5 371v5M198.5 395v5M199.5 395v5M209.5 395v5M213.5 395v5M221.5 395v5M224.5 395v5M225.5 395v5M228.5 400v5M236.5 395v5M246.5 371v5M250.5 395v5M251.5 395v5M256.5 395v5M266.5 395v5M268.5 395v5M269.5 395v5M270.5 371v5M276.5 376v5M276.5 395v5M278.5 371v5M280.5 395v5M281.5 395v5M286.5 371v5M288.5 395v5M290.5 371v5M290.5 395v5M292.5 376v5M297.5 395v5M303.5 371v5M304.5 395v5M307.5 395v5M315.5 371v5M316.5 395v5M329.5 395v5M339.5 395v5M340.5 376v5M342.5 395v5M368.5 395v5M374.5 395v5M376.5 395v5M380.5 395v5M384.5 395v5M386.5 395v5M388.5 395v5M390.5 390v10M393.5 395v5M395.5 395v5M397.5 371v5M398.5 395v5M402.5 395v5M404.5 395v5M429.5 395v5M432.5 395v5M438.5 395v5M444.5 395v5M449.5 395v5M450.5 386v4M452.5 386v4M453.5 390v5M456.5 386v4"/>
<path stroke="#46048b" d="M94.5 395v5M95.5 376v5M96.5 395v5M100.5 371v5M102.5 371v5M103.5 395v5M111.5 395v5M112.5 376v5M114.5 395v5M116.5 376v5M116.5 395v5M117.5 395v5M138.5 395v5M142.5 390v5M143.5 386v4M151.5 376v5M153.5 390v5M155.5 390v5M156.5 381v14M168.5 376v5M168.5 395v5M169.5 395v5M170.5 395v5M175.5 395v5M184.5 376v5M191.5 376v5M205.5 395v5M211.5 395v5M215.5 395v5M218.5 376v5M224.5 390v5M231.5 395v5M234.5 395v5M238.5 395v5M241.5 395v5M246.5 376v5M247.5 395v5M248.5 395v5M257.5 376v5M260.5 395v5M264.5 395v5M272.5 395v5M274.5 395v5M279.5 395v5M282.5 395v5M295.5 395v5M303.5 376v5M306.5 376v5M312.5 376v5M322.5 395v5M324.5 395v5M327.5 376v5M328.5 395v5M338.5 395v5M340.5 395v5M341.5 395v5M348.5 395v5M353.5 395v5M356.5 395v5M357.5 395v5M358.5 395v5M362.5 395v5M365.5 395v5M368.5 371v5M369.5 395v5M371.5 395v5M379.5 395v5M381.5 395v5M383.5 395v5M385.5 376v5M385.5 395v5M391.5 395v5M407.5 371v5M412.5 395v5M413.5 395v5M414.5 376v5M414.5 395v5M418.5 390v5M435.5 395v5M436.5 395v5M443.5 395v5M446.5 395v5M447.5 376v5M452.5 381v5M453.5 381v9M456.5 381v5"/>
<path stroke="#4c06a1" d="M95.5 395v5M104.5 395v5M112.5 395v5M131.5 395v5M135.5 395v5M140.5 386v9M141.5 381v5M142.5 386v4M146.5 390v5M147.5 381v5M150.5 381v5M154.5 381v5M166.5 395v5M173.5 395v5M177.5 376v5M178.5 376v5M178.5 395v5M179.5 376v5M180.5 395v5M193.5 376v5M197.5 395v5M202.5 376v5M202.5 395v5M204.5 395v5M211.5 376v5M217.5 395v5M219.5 376v5M219.5 395v5M228.5 395v5M230.5 395v5M241.5 376v5M242.5 395v5M243.5 376v5M243.5 395v5M248.5 376v5M255.5 390v5M257.5 395v5M258.5 395v5M262.5 395v5M264.5 376v5M266.5 376v5M270.5 376v5M271.5 395v5M275.5 376v5M275.5 395v5M281.5 376v5M284.5 376v5M287.5 395v5M289.5 395v5M296.5 395v5M299.5 395v5M303.5 395v5M305.5 395v5M309.5 376v5M334.5 395v5M335.5 395v5M346.5 395v5M351.5 386v14M352.5 390v5M353.5 390v5M363.5 395v5M366.5 395v5M367.5 395v5M381.5 390v5M382.5 390v5M390.5 386v4M392.5 395v5M393.5 390v5M394.5 376v5M397.5 395v5M399.5 376v5M410.5 395v5M415.5 395v5M417.5 381v14M419.5 390v5M421.5 390v5M425.5 390v5M426.5 395v5M428.5 395v5M445.5 395v5M449.5 390v5"/>
<path stroke="#4f09b8" d="M92.5 376v5M92.5 395v5M93.5 395v5M107.5 395v5M108.5 395v5M110.5 395v5M111.5 376v5M118.5 376v5M122.5 395v5M124.5 395v5M125.5 395v5M126.5 395v5M130.5 395v5M133.5 395v5M141.5 386v4M143.5 381v5M150.5 386v4M154.5 386v9M157.5 386v9M160.5 390v5M163.5 390v5M165.5 390v5M171.5 390v5M176.5 376v5M185.5 395v5M187.5 390v5M193.5 395v5M194.5 395v5M203.5 395v5M205.5 376v5M208.5 395v5M210.5 395v5M214.5 376v5M214.5 395v5M220.5 390v5M222.5 390v5M223.5 390v5M232.5 395v5M237.5 376v5M239.5 395v5M240.5 395v5M244.5 395v5M246.5 395v5M258.5 376v5M261.5 395v5M270.5 395v5M273.5 376v5M273.5 395v5M277.5 395v5M278.5 376v5M284.5 395v5M285.5 395v5M286.5 376v5M286.5 395v5M290.5 376v5M292.5 395v5M293.5 395v5M294.5 376v5M300.5 395v5M301.5 395v5M308.5 376v5M309.5 395v5M314.5 395v5M316.5 376v5M332.5 395v5M351.5 381v5M352.5 386v4M354.5 395v5M361.5 395v5M364.5 395v5M366.5 376v5M370.5 395v5M392.5 376v5M395.5 390v5M396.5 390v5M397.5 376v5M407.5 395v5M418.5 381v5M420.5 390v5M422.5 390v5M424.5 390v5M437.5 395v5M438.5 390v5M440.5 395v5M441.5 395v5M448.5 395v5M458.5 390v5"/>
<path stroke="#480ace" d="M102.5 376v5M106.5 390v5M126.5 376v5M129.5 395v5M140.5 381v5M142.5 381v5M146.5 386v4M149.5 390v5M152.5 390v5M153.5 381v9M157.5 381v5M158.5 390v5M159.5 390v5M164.5 390v5M169.5 390v5M172.5 390v5M196.5 395v5M201.5 395v5M216.5 395v5M218.5 395v5M222.5 386v4M226.5 390v5M234.5 390v5M236.5 390v5M245.5 395v5M253.5 390v5M254.5 390v5M255.5 386v4M259.5 395v5M263.5 376v5M263.5 395v5M267.5 395v5M277.5 376v5M291.5 395v5M294.5 395v5M301.5 390v5M311.5 376v5M315.5 376v5M315.5 395v5M324.5 390v5M325.5 390v5M334.5 390v5M337.5 390v5M344.5 395v5M350.5 390v5M352.5 381v5M355.5 390v5M356.5 390v5M368.5 376v5M372.5 395v5M375.5 395v5M379.5 386v4M380.5 390v5M381.5 381v9M383.5 390v5M388.5 390v5M389.5 390v5M390.5 381v5M393.5 386v4M401.5 376v5M406.5 395v5M409.5 395v5M411.5 395v5M413.5 390v5M418.5 386v4M419.5 381v9M420.5 386v4M423.5 390v5M427.5 390v5M432.5 390v5M439.5 390v5M444.5 390v5M459.5 395v5"/>
<path stroke="#3a0ce3" d="M93.5 376v5M100.5 376v5M102.5 395v5M107.5 390v5M113.5 390v5M119.5 390v5M120.5 390v5M121.5 395v5M127.5 376v5M132.5 395v5M136.5 395v5M139.5 390v5M152.5 381v5M155.5 381v9M158.5 386v4M160.5 386v4M161.5 395v5M163.5 386v4M167.5 390v5M169.5 386v4M174.5 390v5M175.5 390v5M176.5 395v5M179.5 395v5M182.5 390v5M184.5 390v5M185.5 386v9M186.5 390v5M188.5 390v5M191.5 390v5M196.5 376v5M207.5 395v5M211.5 390v5M212.5 395v5M213.5 390v5M219.5 390v5M220.5 386v4M222.5 381v5M223.5 386v4M226.5 386v4M229.5 395v5M238.5 390v5M252.5 395v5M255.5 381v5M260.5 376v5M283.5 395v5M291.5 390v5M306.5 390v5M308.5 395v5M311.5 395v5M319.5 395v5M326.5 390v5M328.5 390v5M331.5 390v5M335.5 390v5M343.5 395v5M347.5 381v5M347.5 390v5M349.5 390v5M353.5 386v4M354.5 390v5M355.5 395v5M356.5 386v4M359.5 395v5M374.5 390v5M376.5 390v5M377.5 386v9M379.5 390v5M382.5 386v4M391.5 390v5M395.5 386v4M399.5 390v5M400.5 390v5M401.5 395v5M403.5 395v5M407.5 376v5M408.5 395v5M413.5 381v9M415.5 386v9M416.5 390v5M425.5 386v4M426.5 386v9M427.5 386v4M439.5 386v4M442.5 390v5M446.5 390v5"/>
<path stroke="#280ef3" d="M106.5 386v4M108.5 390v5M115.5 395v5M117.5 390v5M127.5 395v5M135.5 390v5M137.5 390v5M138.5 386v9M139.5 386v4M146.5 381v5M152.5 386v4M158.5 381v5M160.5 381v5M162.5 390v5M165.5 386v4M166.5 390v5M168.5 390v5M171.5 386v4M179.5 390v5M183.5 390v5M186.5 386v4M189.5 390v5M190.5 390v5M195.5 390v5M206.5 390v5M214.5 390v5M218.5 390v5M220.5 381v5M225.5 390v5M239.5 390v5M249.5 395v5M256.5 390v5M257.5 390v5M269.5 390v5M279.5 390v5M280.5 390v5M299.5 390v5M301.5 381v5M303.5 390v5M310.5 390v5M312.5 390v5M313.5 390v5M325.5 381v9M327.5 390v5M330.5 390v5M333.5 390v5M336.5 390v5M337.5 386v4M342.5 390v5M345.5 390v5M347.5 386v4M350.5 386v4M353.5 381v5M378.5 390v5M379.5 381v5M380.5 386v4M382.5 381v5M384.5 390v5M386.5 390v5M387.5 390v5M389.5 386v4M393.5 381v5M395.5 381v5M404.5 390v5M411.5 390v5M414.5 390v5M425.5 381v5M427.5 381v5M428.5 390v5M430.5 390v5M431.5 390v5M436.5 390v5M437.5 390v5M441.5 390v5M442.5 386v4M449.5 381v9"/>
<path stroke="#1411fd" d="M103.5 386v9M104.5 390v5M105.5 395v5M106.5 381v5M109.5 390v5M112.5 390v5M114.5 390v5M123.5 390v5M137.5 381v5M149.5 386v4M151.5 390v5M159.5 386v4M161.5 390v5M165.5 381v5M167.5 386v4M170.5 390v5M171.5 381v5M172.5 381v9M174.5 386v4M175.5 386v4M177.5 390v5M178.5 390v5M181.5 386v9M182.5 386v4M183.5 386v4M187.5 386v4M191.5 386v4M194.5 390v5M197.5 390v5M198.5 390v5M199.5 390v5M200.5 390v5M210.5 390v5M216.5 390v5M217.5 390v5M221.5 390v5M223.5 381v5M224.5 381v9M227.5 390v5M228.5 390v5M230.5 390v5M232.5 390v5M234.5 386v4M235.5 390v5M236.5 381v9M238.5 386v4M241.5 390v5M243.5 390v5M244.5 390v5M248.5 390v5M250.5 390v5M251.5 390v5M252.5 390v5M253.5 386v4M257.5 386v4M265.5 390v5M267.5 390v5M272.5 390v5M276.5 390v5M278.5 390v5M281.5 390v5M287.5 390v5M292.5 390v5M293.5 390v5M295.5 390v5M297.5 390v5M298.5 381v5M298.5 390v5M301.5 386v4M304.5 390v5M318.5 395v5M323.5 390v5M324.5 386v4M326.5 386v4M329.5 390v5M330.5 381v9M331.5 386v4M334.5 386v4M338.5 390v5M339.5 390v5M340.5 390v5M341.5 390v5M344.5 390v5M349.5 381v9M356.5 381v5M369.5 390v5M375.5 390v5M380.5 381v5M383.5 386v4M385.5 390v5M394.5 390v5M396.5 381v9M401.5 390v5M410.5 390v5M411.5 386v4M412.5 390v5M420.5 381v5M421.5 386v4M423.5 381v9M424.5 386v4M429.5 390v5M433.5 390v5M435.5 390v5M438.5 381v9M439.5 381v5M444.5 381v5M445.5 390v5M447.5 390v5M448.5 390v5M458.5 381v5M460.5 390v5"/>
<path stroke="#0a1cff" d="M103.5 381v5M105.5 390v5M107.5 381v5M110.5 390v5M111.5 390v5M113.5 386v4M116.5 390v5M117.5 386v4M118.5 390v5M119.5 381v9M124.5 390v5M129.5 390v5M130.5 390v5M131.5 390v5M134.5 390v5M135.5 386v4M136.5 390v5M137.5 386v4M139.5 381v5M149.5 381v5M159.5 381v5M163.5 381v5M166.5 386v4M167.5 381v5M169.5 381v5M173.5 390v5M174.5 381v5M182.5 381v5M183.5 381v5M185.5 381v5M186.5 381v5M187.5 381v5M188.5 381v9M189.5 386v4M192.5 390v5M193.5 390v5M196.5 390v5M201.5 390v5M204.5 390v5M213.5 386v4M215.5 390v5M219.5 386v4M225.5 386v4M226.5 381v5M229.5 390v5M230.5 386v4M233.5 390v5M240.5 390v5M242.5 390v5M247.5 390v5M248.5 386v4M251.5 386v4M253.5 381v5M254.5 386v4M256.5 386v4M258.5 390v5M259.5 390v5M260.5 390v5M263.5 390v5M264.5 390v5M266.5 390v5M270.5 390v5M271.5 390v5M279.5 386v4M283.5 390v5M284.5 390v5M285.5 390v5M290.5 390v5M294.5 390v5M298.5 386v4M303.5 386v4M304.5 386v4M311.5 390v5M314.5 390v5M317.5 390v5M326.5 381v5M328.5 381v5M331.5 381v5M332.5 390v5M334.5 381v5M335.5 381v9M336.5 381v9M337.5 381v5M342.5 386v4M343.5 390v5M346.5 390v5M348.5 390v5M350.5 381v5M354.5 386v4M357.5 390v5M368.5 390v5M370.5 390v5M371.5 390v5M372.5 390v5M375.5 386v4M376.5 386v4M378.5 381v9M385.5 386v4M386.5 386v4M387.5 386v4M388.5 381v9M389.5 381v5M391.5 386v4M397.5 390v5M398.5 390v5M399.5 386v4M400.5 386v4M402.5 390v5M403.5 390v5M405.5 395v5M411.5 381v5M415.5 381v5M416.5 381v9M421.5 381v5M422.5 381v9M426.5 381v5M428.5 386v4M429.5 386v4M431.5 386v4M432.5 381v9M434.5 390v5M437.5 381v5M440.5 386v4M442.5 381v5M443.5 390v5M458.5 386v4"/>
<path stroke="#0329ff" d="M100.5 390v5M102.5 390v5M107.5 386v4M108.5 386v4M109.5 386v4M112.5 386v4M114.5 386v4M115.5 390v5M120.5 386v4M121.5 390v5M122.5 390v5M123.5 386v4M128.5 390v5M138.5 381v5M151.5 386v4M164.5 381v9M168.5 386v4M176.5 390v5M178.5 386v4M179.5 386v4M180.5 390v5M181.5 381v5M184.5 386v4M190.5 386v4M195.5 386v4M197.5 381v9M202.5 390v5M203.5 390v5M207.5 390v5M209.5 390v5M211.5 381v9M213.5 381v5M214.5 386v4M216.5 386v4M217.5 386v4M218.5 386v4M221.5 386v4M230.5 381v5M232.5 386v4M237.5 390v5M238.5 381v5M245.5 390v5M246.5 390v5M250.5 386v4M254.5 381v5M256.5 381v5M265.5 386v4M269.5 381v9M280.5 386v4M282.5 390v5M286.5 390v5M287.5 386v4M288.5 390v5M309.5 390v5M310.5 381v5M313.5 386v4M318.5 390v5M322.5 386v9M323.5 386v4M324.5 381v5M328.5 386v4M338.5 386v4M339.5 386v4M340.5 381v9M341.5 381v5M342.5 381v5M345.5 386v4M348.5 386v4M354.5 381v5M355.5 381v9M357.5 386v4M360.5 390v5M365.5 390v5M370.5 386v4M374.5 386v4M376.5 381v5M377.5 381v5M383.5 381v5M384.5 381v9M387.5 381v5M391.5 381v5M404.5 386v4M412.5 386v4M424.5 381v5M430.5 381v9M431.5 381v5M434.5 386v4M435.5 386v4M436.5 386v4M437.5 386v4M440.5 390v5M441.5 386v4M444.5 386v4M446.5 381v9M459.5 390v5M460.5 386v4"/>
<path stroke="#0036ff" d="M95.5 390v5M104.5 381v9M105.5 386v4M108.5 381v5M109.5 381v5M110.5 386v4M111.5 386v4M113.5 381v5M117.5 381v5M132.5 390v5M134.5 386v4M151.5 381v5M162.5 386v4M170.5 381v9M175.5 381v5M179.5 381v5M189.5 381v5M192.5 386v4M193.5 386v4M200.5 381v9M206.5 386v4M208.5 390v5M210.5 386v4M212.5 386v9M216.5 381v5M217.5 381v5M219.5 381v5M221.5 381v5M225.5 381v5M227.5 386v4M231.5 390v5M233.5 386v4M234.5 381v5M235.5 386v4M239.5 381v5M240.5 386v4M242.5 386v4M247.5 386v4M248.5 381v5M249.5 390v5M252.5 386v4M257.5 381v5M262.5 390v5M264.5 386v4M266.5 386v4M267.5 386v4M271.5 386v4M272.5 386v4M274.5 390v5M275.5 390v5M279.5 381v5M280.5 381v5M283.5 386v4M284.5 386v4M291.5 381v9M294.5 386v4M296.5 390v5M299.5 386v4M300.5 390v5M302.5 390v5M303.5 381v5M304.5 381v5M306.5 381v9M308.5 390v5M310.5 386v4M312.5 381v9M313.5 381v5M314.5 386v4M317.5 386v4M322.5 381v5M327.5 386v4M332.5 386v4M341.5 386v4M344.5 386v4M345.5 381v5M346.5 386v4M357.5 381v5M358.5 390v5M359.5 390v5M361.5 390v5M367.5 390v5M369.5 386v4M373.5 390v5M374.5 381v5M375.5 381v5M385.5 381v5M386.5 381v5M392.5 390v5M394.5 386v4M398.5 386v4M399.5 381v5M400.5 381v5M401.5 386v4M407.5 390v5M414.5 386v4M428.5 381v5M429.5 381v5M433.5 381v9M440.5 381v5M441.5 381v5M445.5 386v4M447.5 386v4M448.5 386v4"/>
<path stroke="#0041ff" d="M101.5 390v5M111.5 381v5M112.5 381v5M114.5 381v5M116.5 386v4M120.5 381v5M121.5 386v4M122.5 386v4M123.5 381v5M126.5 390v5M130.5 381v9M133.5 390v5M134.5 381v5M135.5 381v5M136.5 386v4M161.5 386v4M166.5 381v5M168.5 381v5M173.5 386v4M177.5 386v4M184.5 381v5M190.5 381v5M191.5 381v5M194.5 381v9M195.5 381v5M198.5 381v5M199.5 386v4M202.5 386v4M206.5 381v5M215.5 386v4M218.5 381v5M227.5 381v5M232.5 381v5M233.5 381v5M239.5 386v4M240.5 381v5M241.5 386v4M243.5 381v9M244.5 381v5M245.5 386v4M250.5 381v5M251.5 381v5M258.5 386v4M263.5 386v4M265.5 381v5M268.5 390v5M273.5 390v5M277.5 390v5M278.5 381v9M281.5 386v4M287.5 381v5M289.5 390v5M290.5 386v4M292.5 381v5M295.5 386v4M297.5 381v9M299.5 381v5M305.5 390v5M307.5 390v5M315.5 390v5M316.5 390v5M317.5 381v5M320.5 390v5M321.5 390v5M323.5 381v5M329.5 381v9M333.5 386v4M338.5 381v5M339.5 381v5M343.5 381v9M348.5 381v5M369.5 381v5M371.5 386v4M372.5 381v9M402.5 386v4M404.5 381v5M405.5 390v5M406.5 390v5M408.5 390v5M410.5 381v9M414.5 381v5M434.5 381v5M435.5 381v5M436.5 381v5M443.5 386v4M445.5 381v5"/>
<path stroke="#004eff" d="M94.5 390v5M95.5 386v4M99.5 390v5M100.5 386v4M105.5 381v5M110.5 381v5M124.5 386v4M125.5 390v5M127.5 390v5M129.5 386v4M132.5 386v4M136.5 381v5M161.5 381v5M162.5 381v5M173.5 381v5M177.5 381v5M180.5 386v4M192.5 381v5M193.5 381v5M196.5 386v4M198.5 386v4M201.5 386v4M203.5 386v4M205.5 390v5M209.5 381v9M210.5 381v5M215.5 381v5M235.5 381v5M237.5 381v9M241.5 381v5M242.5 381v5M244.5 386v4M249.5 386v4M252.5 381v5M258.5 381v5M262.5 386v4M264.5 381v5M266.5 381v5M272.5 381v5M276.5 381v9M284.5 381v5M285.5 386v4M286.5 386v4M288.5 386v4M292.5 386v4M293.5 386v4M294.5 381v5M302.5 386v4M305.5 386v4M307.5 386v4M311.5 386v4M314.5 381v5M319.5 390v5M327.5 381v5M332.5 381v5M333.5 381v5M344.5 381v5M346.5 381v5M361.5 386v4M366.5 390v5M370.5 381v5M371.5 381v5M392.5 386v4M394.5 381v5M397.5 386v4M398.5 381v5M401.5 381v5M403.5 381v9M409.5 390v5M412.5 381v5M443.5 381v5M447.5 381v5M448.5 381v5M459.5 386v4M460.5 381v5"/>
<path stroke="#005eff" d="M93.5 390v5M96.5 390v5M115.5 386v4M121.5 381v5M122.5 381v5M124.5 381v5M128.5 386v4M129.5 381v5M131.5 381v9M176.5 381v9M178.5 381v5M199.5 381v5M204.5 386v4M207.5 386v4M208.5 386v4M212.5 381v5M214.5 381v5M228.5 386v4M229.5 381v9M231.5 386v4M246.5 386v4M247.5 381v5M259.5 381v9M260.5 386v4M262.5 381v5M267.5 381v5M270.5 386v4M271.5 381v5M274.5 381v9M275.5 386v4M282.5 386v4M283.5 381v5M288.5 381v5M290.5 381v5M293.5 381v5M295.5 381v5M296.5 386v4M309.5 386v4M311.5 381v5M318.5 386v4M320.5 386v4M364.5 390v5M368.5 386v4M373.5 386v4M392.5 381v5M397.5 381v5M407.5 386v4M459.5 381v5"/>
<path stroke="#006eff" d="M100.5 381v5M102.5 386v4M115.5 381v5M116.5 381v5M118.5 386v4M128.5 381v5M132.5 381v5M133.5 386v4M196.5 381v5M201.5 381v5M203.5 381v5M228.5 381v5M245.5 381v5M249.5 381v5M260.5 381v5M261.5 390v5M263.5 381v5M270.5 381v5M273.5 381v5M281.5 381v5M282.5 381v5M285.5 381v5M286.5 381v5M289.5 386v4M296.5 381v5M300.5 386v4M305.5 381v5M308.5 381v9M316.5 386v4M318.5 381v5M320.5 381v5M321.5 386v4M358.5 386v4M360.5 386v4M361.5 381v5M362.5 390v5M363.5 390v5M365.5 381v5M366.5 386v4M367.5 386v4M368.5 381v5M373.5 381v5M402.5 381v5M405.5 386v4M406.5 386v4"/>
<path stroke="#0082ff" d="M92.5 390v5M95.5 381v5M101.5 386v4M102.5 381v5M126.5 386v4M180.5 381v5M202.5 381v5M205.5 386v4M207.5 381v5M208.5 381v5M231.5 381v5M246.5 381v5M261.5 386v4M268.5 386v4M273.5 386v4M277.5 386v4M300.5 381v5M307.5 381v5M309.5 381v5M315.5 386v4M319.5 386v4M359.5 386v4M360.5 381v5M363.5 386v4M365.5 386v4M367.5 381v5M405.5 381v5M407.5 381v5"/>
<path stroke="#0096ff" d="M118.5 381v5M125.5 386v4M126.5 381v5M127.5 386v4M204.5 381v5M268.5 381v5M275.5 381v5M289.5 381v5M302.5 381v5M316.5 381v5M321.5 381v5M362.5 386v4M366.5 381v5M408.5 386v4M409.5 386v4"/>
<path stroke="#00aaff" d="M96.5 386v4M99.5 386v4M127.5 381v5M319.5 381v5M359.5 381v5M406.5 381v5"/>
<path stroke="#00beff" d="M93.5 386v4M94.5 386v4M125.5 381v5M133.5 381v5M261.5 381v5M277.5 381v5M315.5 381v5M358.5 381v5M364.5 381v9M408.5 381v5M409.5 381v5"/>
<path stroke="#00d2ff" d="M92.5 386v4M94.5 381v5M99.5 381v5M101.5 381v5M205.5 381v5M362.5 381v5"/>
<path stroke="#00e8f8" d="M93.5 381v5M96.5 381v5M363.5 381v5"/>
<path stroke="#00ffd6" d="M92.5 381v5"/></g>
<path d="M98 338h1v83h-1zM461 338h1v83h-1z" fill="#fff"/>
<rect x="92" y="422" width="428" height="83" fill="#000"/>
<g stroke-width="1" fill="none"><path stroke="#0a0012" d="M92.5 450v5M92.5 489v16M94.5 441v5M94.5 450v5M94.5 489v16M102.5 422v9M102.5 436v5M102.5 489v16M105.5 426v34M105.5 489v16M109.5 436v5M109.5 450v5M109.5 489v16M112.5 494v4M112.5 503v2M116.5 503v2M118.5 441v5M118.5 489v16M119.5 422v28M119.5 489v16M120.5 446v4M120.5 489v5M120.5 498v7M121.5 498v7M122.5 494v4M122.5 503v2M126.5 436v5M126.5 489v16M127.5 498v7M129.5 494v9M134.5 426v34M134.5 489v16M135.5 503v2M142.5 450v10M142.5 498v7M144.5 436v5M144.5 489v9M144.5 503v2M149.5 489v5M152.5 431v10M152.5 489v14M154.5 426v15M154.5 446v14M154.5 489v16M157.5 426v24M157.5 494v11M158.5 426v5M158.5 436v5M158.5 489v16M159.5 446v4M159.5 498v5M160.5 446v4M160.5 489v16M164.5 436v10M164.5 455v5M164.5 489v16M168.5 494v4M170.5 436v5M170.5 446v4M170.5 489v16M175.5 426v5M175.5 489v16M178.5 489v5M182.5 431v19M182.5 455v5M182.5 489v16M186.5 426v29M186.5 489v5M186.5 498v7M189.5 489v5M189.5 498v7M192.5 436v24M192.5 489v16M193.5 489v9M193.5 503v2M194.5 494v4M197.5 494v4M203.5 489v16M210.5 450v5M210.5 489v14M215.5 450v10M215.5 489v16M216.5 489v5M216.5 498v5M217.5 422v14M217.5 441v19M217.5 489v9M217.5 503v2M223.5 422v38M223.5 489v16M225.5 431v5M225.5 489v16M227.5 426v34M227.5 489v16M229.5 426v5M229.5 436v10M229.5 450v5M229.5 489v16M231.5 446v9M231.5 489v16M234.5 426v20M234.5 450v5M234.5 489v16M240.5 441v5M240.5 450v10M240.5 489v16M241.5 426v34M241.5 465v40M243.5 494v9M245.5 431v5M245.5 446v4M245.5 484v14M245.5 503v2M247.5 431v29M247.5 484v21M249.5 422v43M249.5 484v21M251.5 489v16M255.5 489v5M260.5 426v5M260.5 436v5M260.5 446v9M260.5 484v21M261.5 431v10M261.5 460v5M261.5 489v16M265.5 426v34M265.5 489v16M268.5 422v38M268.5 489v16M269.5 436v5M269.5 450v5M269.5 489v16M270.5 422v38M270.5 489v14M271.5 494v4M273.5 426v29M273.5 489v16M275.5 494v4M279.5 489v16M281.5 441v5M281.5 489v9M281.5 503v2M283.5 503v2M287.5 431v5M287.5 441v5M287.5 450v5M287.5 489v16M288.5 422v38M288.5 489v16M290.5 422v38M290.5 489v16M291.5 494v4M293.5 494v4M293.5 503v2M295.5 489v16M296.5 489v16M298.5 422v24M298.5 489v14M299.5 494v4M300.5 494v11M301.5 426v34M301.5 489v16M303.5 431v10M303.5 446v9M303.5 489v16M305.5 436v5M305.5 446v14M305.5 489v16M306.5 489v5M306.5 498v7M308.5 489v9M308.5 503v2M309.5 489v16M311.5 494v4M312.5 494v4M313.5 489v5M313.5 498v7M314.5 422v38M314.5 489v16M315.5 422v33M315.5 489v16M318.5 441v5M318.5 489v16M320.5 436v5M320.5 446v4M320.5 489v16M325.5 441v5M325.5 489v16M326.5 494v4M327.5 426v34M327.5 489v16M328.5 431v19M328.5 489v16M329.5 422v38M329.5 494v11M330.5 498v5M331.5 450v5M331.5 489v9M331.5 503v2M333.5 494v9M337.5 498v5M341.5 431v5M341.5 446v9M341.5 489v16M342.5 494v4M344.5 422v28M344.5 489v16M346.5 489v5M346.5 498v7M349.5 422v38M349.5 489v16M350.5 498v5M354.5 494v11M355.5 498v5M356.5 489v16M359.5 489v5M359.5 503v2M360.5 498v7M361.5 450v5M361.5 503v2M372.5 422v24M372.5 489v16M375.5 426v5M375.5 436v24M375.5 489v16M377.5 426v15M377.5 489v16M378.5 426v5M378.5 436v14M378.5 489v16M379.5 455v5M379.5 489v14M380.5 498v5M383.5 489v14M386.5 503v2M388.5 489v16M395.5 426v34M395.5 489v16M398.5 489v9M401.5 422v4M401.5 431v19M401.5 455v5M401.5 489v16M403.5 498v5M408.5 489v5M408.5 498v5M409.5 489v5M409.5 498v7M410.5 498v7M411.5 489v5M411.5 498v7M415.5 450v5M415.5 489v16M418.5 450v5M418.5 494v11M420.5 503v2M422.5 426v10M422.5 441v19M422.5 489v16M423.5 441v5M423.5 450v5M423.5 489v5M423.5 498v7M425.5 489v5M425.5 498v7M426.5 489v9M427.5 489v14M428.5 426v29M428.5 489v16M432.5 498v5M436.5 422v38M436.5 489v16M437.5 426v29M437.5 489v16M447.5 441v5M447.5 494v4M447.5 503v2M448.5 422v33M448.5 489v16M449.5 431v5M449.5 446v4M449.5 455v5M449.5 489v16M450.5 503v2M451.5 426v10M451.5 441v5M451.5 450v5M451.5 489v16M452.5 494v4M452.5 503v2M453.5 503v2M458.5 426v29M458.5 489v16M459.5 426v15M459.5 446v14M459.5 489v16"/>
<path stroke="#140024" d="M92.5 422v28M92.5 455v5M94.5 426v15M94.5 446v4M94.5 455v5M95.5 494v4M96.5 436v5M96.5 450v5M96.5 494v4M96.5 503v2M99.5 489v16M101.5 489v16M102.5 431v5M102.5 441v9M105.5 422v4M106.5 494v4M106.5 503v2M108.5 494v9M109.5 431v5M109.5 441v9M109.5 455v5M110.5 494v4M112.5 422v28M112.5 455v5M112.5 489v5M112.5 498v5M113.5 422v9M113.5 441v19M113.5 489v16M115.5 494v4M115.5 503v2M116.5 422v9M116.5 436v10M116.5 450v5M116.5 489v14M117.5 503v2M118.5 426v15M118.5 446v9M119.5 450v5M120.5 426v5M120.5 441v5M120.5 450v10M120.5 494v4M121.5 436v10M121.5 455v5M121.5 489v9M122.5 436v5M122.5 446v4M122.5 489v5M122.5 498v5M123.5 489v5M124.5 498v5M125.5 494v4M125.5 503v2M126.5 426v10M126.5 441v19M127.5 426v5M127.5 436v5M127.5 489v9M128.5 446v4M128.5 489v14M129.5 431v29M129.5 489v5M129.5 503v2M130.5 489v9M130.5 503v2M131.5 489v5M132.5 450v5M132.5 489v14M133.5 441v9M133.5 489v16M134.5 422v4M135.5 446v4M135.5 489v14M136.5 489v5M136.5 498v7M137.5 498v5M138.5 489v14M140.5 489v5M140.5 498v5M141.5 489v5M141.5 503v2M142.5 422v28M142.5 489v9M143.5 494v4M144.5 422v14M144.5 441v5M144.5 498v5M145.5 489v9M147.5 489v9M148.5 503v2M149.5 450v5M149.5 494v11M150.5 498v5M151.5 489v16M152.5 426v5M152.5 441v19M152.5 503v2M153.5 489v16M154.5 422v4M154.5 441v5M155.5 489v16M156.5 436v10M156.5 450v10M156.5 489v16M157.5 422v4M157.5 450v5M158.5 431v5M158.5 441v19M159.5 426v5M159.5 436v10M159.5 450v5M159.5 489v9M159.5 503v2M160.5 422v24M161.5 489v5M163.5 498v5M164.5 422v14M164.5 446v9M165.5 431v5M165.5 450v10M165.5 489v16M166.5 494v4M166.5 503v2M167.5 441v5M167.5 450v10M167.5 489v16M168.5 431v10M168.5 450v10M168.5 489v5M168.5 498v7M170.5 426v10M170.5 441v5M170.5 450v10M171.5 489v16M172.5 489v9M173.5 489v14M175.5 422v4M175.5 431v24M177.5 494v11M178.5 436v10M178.5 494v11M179.5 494v4M180.5 503v2M181.5 494v11M182.5 422v9M182.5 450v5M183.5 422v4M183.5 431v19M183.5 489v16M184.5 494v4M186.5 422v4M186.5 455v5M187.5 494v9M188.5 498v7M189.5 441v19M189.5 494v4M190.5 503v2M192.5 422v14M193.5 431v29M193.5 498v5M194.5 426v5M194.5 436v5M194.5 446v14M194.5 489v5M194.5 498v7M195.5 446v4M195.5 489v9M195.5 503v2M197.5 441v14M197.5 489v5M197.5 498v7M198.5 494v4M199.5 498v7M201.5 489v5M203.5 422v14M203.5 441v19M204.5 489v14M206.5 489v14M207.5 422v24M207.5 489v16M209.5 489v5M210.5 422v9M210.5 436v14M210.5 455v5M210.5 503v2M211.5 455v5M211.5 494v9M212.5 489v5M212.5 498v5M213.5 431v5M213.5 441v5M213.5 489v5M213.5 498v5M215.5 422v28M216.5 426v10M216.5 441v19M216.5 494v4M216.5 503v2M217.5 436v5M219.5 489v5M219.5 498v7M221.5 489v16M222.5 450v5M222.5 489v5M222.5 498v7M225.5 422v9M225.5 436v5M227.5 422v4M228.5 498v7M229.5 422v4M229.5 431v5M229.5 446v4M229.5 455v5M230.5 436v5M230.5 489v16M231.5 422v24M231.5 455v5M234.5 422v4M234.5 446v4M234.5 455v5M235.5 494v4M238.5 489v5M238.5 498v7M239.5 441v5M239.5 450v5M239.5 494v11M240.5 422v19M240.5 446v4M240.5 484v5M241.5 422v4M241.5 460v5M242.5 498v5M243.5 455v5M243.5 489v5M243.5 503v2M244.5 498v5M245.5 422v9M245.5 436v10M245.5 450v20M245.5 479v5M245.5 498v5M246.5 450v5M246.5 484v21M247.5 422v9M248.5 489v16M250.5 489v9M251.5 436v24M251.5 479v10M252.5 489v9M254.5 498v5M255.5 441v5M255.5 450v10M255.5 479v5M255.5 494v11M256.5 489v5M256.5 503v2M258.5 489v5M258.5 498v5M259.5 441v14M259.5 489v14M260.5 422v4M260.5 431v5M260.5 441v5M260.5 455v10M260.5 479v5M261.5 422v9M261.5 441v19M261.5 470v4M261.5 479v10M262.5 489v5M262.5 498v7M263.5 494v11M264.5 489v9M264.5 503v2M265.5 422v4M267.5 494v4M267.5 503v2M269.5 422v14M269.5 441v9M269.5 455v10M270.5 460v5M270.5 484v5M271.5 431v5M271.5 441v14M271.5 489v5M271.5 498v7M273.5 422v4M273.5 455v5M274.5 494v4M275.5 436v14M275.5 455v5M275.5 484v10M275.5 498v7M277.5 494v11M278.5 489v5M278.5 503v2M279.5 422v28M280.5 503v2M281.5 426v15M281.5 446v14M281.5 498v5M283.5 436v5M283.5 489v14M284.5 503v2M285.5 503v2M286.5 494v11M287.5 422v9M287.5 446v4M289.5 498v5M291.5 431v5M291.5 441v9M291.5 489v5M291.5 498v7M292.5 498v5M293.5 426v24M293.5 489v5M293.5 498v5M295.5 426v29M296.5 422v33M297.5 489v5M298.5 446v4M299.5 431v19M299.5 489v5M299.5 498v7M300.5 426v10M300.5 446v4M300.5 489v5M301.5 422v4M302.5 498v5M303.5 422v9M303.5 441v5M303.5 455v5M304.5 446v9M304.5 489v16M305.5 422v14M305.5 441v5M306.5 426v15M306.5 446v9M306.5 494v4M307.5 494v4M308.5 436v5M308.5 446v9M308.5 498v5M309.5 422v4M309.5 431v15M310.5 489v5M310.5 503v2M311.5 489v5M311.5 498v7M312.5 426v5M312.5 441v5M312.5 450v10M312.5 489v5M312.5 498v7M313.5 426v34M313.5 494v4M315.5 455v5M316.5 494v4M316.5 503v2M317.5 431v5M317.5 450v5M317.5 489v16M318.5 426v15M318.5 446v14M319.5 503v2M320.5 422v14M320.5 441v5M320.5 450v10M323.5 446v4M323.5 489v14M324.5 489v9M325.5 426v15M325.5 446v9M326.5 426v5M326.5 441v14M326.5 489v5M326.5 498v7M327.5 422v4M328.5 426v5M328.5 450v10M330.5 436v10M330.5 450v10M330.5 489v9M330.5 503v2M331.5 426v24M331.5 498v5M332.5 494v4M333.5 489v5M333.5 503v2M335.5 489v5M335.5 498v7M336.5 489v5M336.5 503v2M337.5 426v10M337.5 446v4M337.5 489v9M337.5 503v2M338.5 494v4M339.5 503v2M341.5 422v9M341.5 436v10M341.5 455v5M342.5 441v9M342.5 489v5M342.5 498v7M346.5 422v9M346.5 436v5M346.5 446v9M346.5 494v4M347.5 498v5M348.5 489v5M348.5 498v7M350.5 422v33M350.5 489v9M350.5 503v2M351.5 503v2M352.5 489v14M353.5 498v5M354.5 426v5M354.5 450v5M354.5 489v5M355.5 426v10M355.5 441v5M355.5 489v9M355.5 503v2M356.5 422v38M358.5 489v5M358.5 498v5M359.5 431v5M359.5 446v9M359.5 494v9M360.5 426v20M360.5 489v9M361.5 431v19M361.5 455v5M361.5 489v14M363.5 494v9M364.5 422v4M364.5 450v10M364.5 489v16M365.5 494v11M366.5 450v10M366.5 489v16M367.5 446v4M367.5 489v16M368.5 489v14M371.5 436v5M371.5 489v9M372.5 446v4M373.5 503v2M374.5 431v5M374.5 446v9M374.5 489v9M374.5 503v2M375.5 422v4M375.5 431v5M376.5 489v5M376.5 498v5M377.5 422v4M377.5 441v9M378.5 422v4M378.5 431v5M378.5 450v10M379.5 422v33M379.5 503v2M380.5 489v9M380.5 503v2M381.5 446v4M381.5 489v9M381.5 503v2M382.5 489v16M383.5 431v10M383.5 446v14M383.5 503v2M384.5 431v5M384.5 441v5M384.5 489v5M384.5 503v2M386.5 446v4M386.5 489v5M386.5 498v5M388.5 422v33M390.5 494v4M390.5 503v2M391.5 498v5M392.5 503v2M393.5 441v9M393.5 489v16M394.5 489v16M395.5 422v4M398.5 431v10M398.5 446v4M398.5 498v7M399.5 489v14M401.5 426v5M401.5 450v5M403.5 431v5M403.5 450v5M403.5 489v9M403.5 503v2M408.5 436v19M408.5 494v4M408.5 503v2M409.5 426v10M409.5 441v19M409.5 494v4M410.5 426v10M410.5 446v4M410.5 489v9M411.5 431v5M411.5 441v5M411.5 450v5M411.5 494v4M412.5 489v16M413.5 436v5M413.5 489v9M413.5 503v2M414.5 446v4M414.5 489v16M415.5 426v24M415.5 455v5M416.5 494v4M416.5 503v2M417.5 436v10M417.5 489v9M417.5 503v2M418.5 422v4M418.5 431v19M418.5 455v5M418.5 489v5M420.5 426v5M420.5 446v4M420.5 455v5M420.5 489v14M421.5 489v14M422.5 422v4M422.5 436v5M423.5 422v19M423.5 446v4M423.5 455v5M423.5 494v4M424.5 489v5M424.5 498v5M425.5 422v4M425.5 431v15M425.5 494v4M426.5 426v15M426.5 450v5M426.5 498v7M427.5 422v4M427.5 431v5M427.5 441v14M427.5 503v2M428.5 422v4M428.5 455v5M430.5 489v5M430.5 498v7M431.5 436v5M431.5 446v4M431.5 489v14M432.5 422v14M432.5 441v19M432.5 489v9M432.5 503v2M434.5 503v2M437.5 422v4M437.5 455v5M439.5 494v4M440.5 426v5M440.5 436v10M440.5 489v16M442.5 431v5M442.5 450v5M442.5 489v16M443.5 436v10M443.5 489v16M444.5 489v5M444.5 503v2M445.5 436v5M445.5 489v9M445.5 503v2M446.5 489v5M447.5 426v5M447.5 436v5M447.5 446v14M447.5 489v5M447.5 498v5M448.5 455v5M449.5 422v9M449.5 436v10M449.5 450v5M450.5 431v10M450.5 455v5M450.5 489v14M451.5 422v4M451.5 436v5M451.5 446v4M452.5 426v5M452.5 441v5M452.5 450v5M452.5 489v5M452.5 498v5M453.5 426v5M453.5 446v14M453.5 489v14M454.5 446v9M454.5 489v16M455.5 498v5M456.5 489v5M456.5 503v2M457.5 503v2M458.5 422v4M458.5 455v5M459.5 422v4M459.5 441v5M489.5 465v5M504.5 465v5M508.5 465v5"/>
<path stroke="#1e0037" d="M93.5 489v5M94.5 422v4M95.5 436v5M95.5 489v5M95.5 498v7M96.5 422v4M96.5 446v4M96.5 489v5M96.5 498v5M99.5 436v5M99.5 455v5M100.5 489v16M101.5 426v29M102.5 450v5M103.5 494v4M103.5 503v2M104.5 494v4M104.5 503v2M106.5 426v5M106.5 436v19M106.5 489v5M106.5 498v5M107.5 446v4M107.5 489v5M107.5 498v5M108.5 431v5M108.5 446v4M108.5 489v5M108.5 503v2M109.5 422v9M110.5 436v10M110.5 489v5M110.5 498v7M111.5 489v5M112.5 450v5M113.5 431v10M115.5 426v5M115.5 446v14M115.5 489v5M115.5 498v5M116.5 431v5M116.5 446v4M116.5 455v5M117.5 489v14M118.5 422v4M119.5 455v5M120.5 422v4M120.5 431v10M121.5 426v10M121.5 446v9M122.5 422v14M122.5 441v5M123.5 436v5M123.5 450v5M123.5 494v11M124.5 494v4M124.5 503v2M125.5 441v5M125.5 455v5M125.5 489v5M125.5 498v5M126.5 422v4M127.5 422v4M127.5 431v5M127.5 441v9M128.5 422v4M128.5 431v10M128.5 450v10M128.5 503v2M129.5 422v9M130.5 431v5M130.5 446v9M130.5 498v5M131.5 446v4M131.5 494v11M132.5 441v9M132.5 503v2M133.5 426v5M133.5 436v5M133.5 450v5M135.5 426v15M136.5 441v5M136.5 450v5M136.5 494v4M137.5 441v5M137.5 489v9M138.5 426v5M138.5 436v10M138.5 450v5M138.5 503v2M139.5 450v5M139.5 489v5M140.5 494v4M140.5 503v2M141.5 450v15M141.5 494v9M142.5 460v5M143.5 431v5M143.5 441v5M143.5 455v5M143.5 489v5M143.5 498v7M144.5 446v4M145.5 431v29M145.5 484v5M145.5 498v7M146.5 494v4M146.5 503v2M147.5 498v7M148.5 441v5M148.5 489v14M149.5 431v19M150.5 484v14M150.5 503v2M151.5 422v4M151.5 436v10M151.5 450v10M152.5 422v4M153.5 446v9M154.5 460v5M155.5 431v5M155.5 450v10M156.5 426v10M156.5 446v4M158.5 422v4M159.5 431v5M159.5 455v10M160.5 450v5M161.5 494v4M161.5 503v2M162.5 489v5M162.5 498v7M163.5 489v5M165.5 426v5M165.5 436v14M166.5 441v5M166.5 455v5M166.5 489v5M166.5 498v5M167.5 426v15M167.5 446v4M168.5 426v5M168.5 441v9M169.5 494v4M169.5 503v2M170.5 422v4M171.5 426v5M171.5 436v5M171.5 484v5M172.5 446v9M172.5 484v5M172.5 498v7M173.5 436v5M173.5 446v9M173.5 503v2M174.5 498v7M175.5 455v5M176.5 498v5M177.5 489v5M178.5 422v14M178.5 446v4M179.5 446v4M179.5 489v5M179.5 498v5M180.5 489v14M181.5 431v5M181.5 489v5M183.5 426v5M183.5 450v10M184.5 441v5M184.5 489v5M184.5 498v7M185.5 446v4M185.5 489v5M185.5 498v7M187.5 489v5M187.5 503v2M188.5 441v5M188.5 450v5M188.5 494v4M189.5 422v19M190.5 489v14M191.5 489v16M193.5 422v9M194.5 422v4M194.5 431v5M194.5 441v5M194.5 460v5M195.5 426v20M195.5 498v5M196.5 450v5M196.5 494v11M197.5 422v19M197.5 455v5M198.5 446v9M198.5 489v5M198.5 498v5M199.5 446v4M199.5 455v5M199.5 489v9M200.5 489v5M200.5 498v7M202.5 494v4M202.5 503v2M203.5 436v5M204.5 436v10M204.5 450v5M204.5 503v2M205.5 446v4M205.5 489v16M206.5 431v5M206.5 441v5M206.5 503v2M208.5 503v2M209.5 450v5M209.5 494v11M210.5 431v5M210.5 460v5M211.5 422v4M211.5 436v10M211.5 450v5M211.5 489v5M211.5 503v2M212.5 426v5M212.5 441v19M212.5 494v4M212.5 503v2M213.5 436v5M213.5 455v5M213.5 494v4M213.5 503v2M214.5 494v11M216.5 422v4M216.5 436v5M218.5 489v5M218.5 498v7M219.5 446v4M219.5 494v4M220.5 450v5M220.5 489v16M221.5 431v5M221.5 441v5M222.5 446v4M222.5 494v4M224.5 489v16M225.5 441v14M226.5 450v5M226.5 489v5M226.5 503v2M228.5 422v4M228.5 436v24M228.5 489v9M230.5 426v5M230.5 441v14M233.5 489v16M235.5 446v4M235.5 489v5M235.5 503v2M236.5 489v9M237.5 494v4M237.5 503v2M238.5 441v5M238.5 450v5M238.5 494v4M239.5 422v19M239.5 446v4M239.5 455v5M239.5 484v10M240.5 460v5M242.5 431v10M242.5 446v4M242.5 470v4M242.5 479v19M242.5 503v2M243.5 431v5M243.5 441v14M243.5 460v5M243.5 484v5M244.5 436v5M244.5 446v4M244.5 489v9M244.5 503v2M245.5 474v5M246.5 426v15M246.5 446v4M246.5 455v5M246.5 479v5M248.5 436v14M249.5 465v5M249.5 479v5M250.5 441v5M251.5 422v14M251.5 460v10M252.5 441v9M252.5 484v5M252.5 498v7M253.5 446v14M253.5 484v10M253.5 498v7M254.5 431v5M254.5 484v14M254.5 503v2M255.5 431v10M255.5 446v4M255.5 465v9M255.5 484v5M256.5 446v9M256.5 494v9M257.5 446v4M257.5 489v9M257.5 503v2M258.5 436v5M258.5 450v5M258.5 494v4M258.5 503v2M259.5 431v10M259.5 455v5M259.5 465v24M259.5 503v2M260.5 474v5M261.5 465v5M261.5 474v5M262.5 436v5M262.5 446v4M262.5 484v5M262.5 494v4M263.5 422v4M263.5 431v15M263.5 450v5M263.5 489v5M264.5 446v4M264.5 455v5M264.5 479v5M264.5 498v5M265.5 460v5M265.5 484v5M266.5 431v10M266.5 484v14M266.5 503v2M267.5 431v5M267.5 446v14M267.5 489v5M267.5 498v5M268.5 484v5M269.5 484v5M271.5 422v9M271.5 436v5M272.5 484v10M272.5 498v7M273.5 460v5M274.5 450v5M274.5 484v10M274.5 498v7M275.5 422v14M275.5 450v5M276.5 489v5M277.5 431v5M277.5 446v14M277.5 489v5M278.5 441v5M278.5 450v5M278.5 494v9M279.5 450v5M280.5 489v5M281.5 422v4M281.5 460v5M282.5 489v9M282.5 503v2M283.5 426v10M283.5 441v14M283.5 484v5M284.5 446v4M284.5 489v5M285.5 455v5M285.5 489v9M286.5 431v5M286.5 441v14M286.5 484v10M287.5 436v5M289.5 489v9M289.5 503v2M290.5 484v5M291.5 426v5M291.5 436v5M291.5 450v10M292.5 450v5M292.5 489v9M293.5 422v4M293.5 450v5M294.5 426v5M294.5 441v9M294.5 489v16M295.5 422v4M295.5 455v5M295.5 484v5M297.5 498v7M298.5 450v5M299.5 422v9M299.5 450v5M300.5 422v4M300.5 436v10M302.5 450v10M302.5 489v9M302.5 503v2M304.5 426v5M304.5 436v10M304.5 455v5M306.5 441v5M306.5 455v5M307.5 436v5M307.5 446v4M307.5 484v10M307.5 498v7M308.5 431v5M308.5 441v5M309.5 426v5M310.5 436v5M310.5 455v5M310.5 494v9M311.5 431v24M312.5 422v4M312.5 431v10M312.5 446v4M313.5 422v4M316.5 441v5M316.5 450v5M316.5 484v10M316.5 498v5M317.5 422v4M317.5 436v14M317.5 455v5M318.5 422v4M318.5 484v5M319.5 489v5M319.5 498v5M321.5 446v9M321.5 489v16M323.5 426v20M323.5 450v5M323.5 503v2M324.5 431v5M324.5 446v9M324.5 498v7M325.5 422v4M325.5 455v5M326.5 422v4M326.5 431v10M326.5 455v5M328.5 422v4M329.5 460v5M330.5 422v4M330.5 446v4M330.5 460v5M331.5 422v4M331.5 455v5M332.5 441v5M332.5 489v5M332.5 498v7M333.5 426v39M334.5 441v5M334.5 498v7M335.5 436v5M335.5 450v10M335.5 494v4M336.5 494v9M337.5 436v10M337.5 450v5M338.5 446v4M338.5 489v5M338.5 503v2M339.5 426v5M339.5 441v14M339.5 489v14M340.5 494v9M341.5 460v5M341.5 484v5M342.5 431v5M342.5 450v5M345.5 426v5M345.5 446v4M345.5 489v16M346.5 431v5M346.5 441v5M346.5 455v5M347.5 446v4M347.5 489v9M348.5 436v19M348.5 494v4M350.5 455v5M351.5 441v5M351.5 489v5M351.5 498v5M352.5 450v5M352.5 503v2M353.5 446v4M353.5 494v4M354.5 422v4M354.5 431v19M354.5 455v5M355.5 422v4M355.5 436v5M355.5 446v9M357.5 431v5M357.5 450v5M357.5 489v16M358.5 441v9M358.5 484v5M358.5 494v4M358.5 503v2M359.5 422v9M359.5 436v10M359.5 455v5M360.5 422v4M360.5 446v14M361.5 426v5M362.5 441v5M362.5 450v5M362.5 489v16M363.5 431v5M363.5 450v5M363.5 489v5M363.5 503v2M364.5 426v24M365.5 431v10M365.5 455v5M365.5 489v5M366.5 422v28M367.5 431v5M367.5 441v5M367.5 455v5M367.5 484v5M368.5 426v5M368.5 436v10M368.5 450v5M368.5 503v2M369.5 446v4M369.5 489v16M370.5 489v5M370.5 503v2M371.5 450v10M371.5 498v7M373.5 441v9M373.5 489v14M374.5 426v5M374.5 498v5M376.5 446v9M376.5 494v4M376.5 503v2M377.5 450v5M379.5 484v5M380.5 422v4M380.5 441v14M380.5 484v5M381.5 426v15M381.5 450v5M381.5 484v5M381.5 498v5M382.5 426v10M382.5 441v14M382.5 484v5M383.5 422v9M383.5 441v5M384.5 455v10M384.5 494v9M385.5 489v9M385.5 503v2M386.5 431v15M386.5 450v10M386.5 494v4M387.5 494v4M389.5 446v4M389.5 489v16M390.5 426v5M390.5 441v14M390.5 489v5M390.5 498v5M391.5 489v9M391.5 503v2M392.5 431v5M392.5 441v5M392.5 494v9M393.5 431v10M393.5 450v5M394.5 431v5M394.5 441v9M396.5 489v9M396.5 503v2M397.5 446v4M397.5 489v16M398.5 441v5M398.5 450v10M399.5 431v5M399.5 503v2M400.5 494v4M400.5 503v2M401.5 484v5M402.5 489v5M402.5 498v7M403.5 422v4M403.5 436v14M403.5 455v10M404.5 489v14M406.5 494v4M407.5 446v4M407.5 489v9M408.5 422v14M408.5 455v5M409.5 422v4M409.5 436v5M410.5 422v4M410.5 436v10M411.5 426v5M411.5 436v5M411.5 446v4M411.5 455v10M411.5 484v5M412.5 431v10M412.5 446v9M412.5 460v5M412.5 484v5M413.5 446v4M413.5 498v5M414.5 436v10M414.5 450v5M414.5 484v5M415.5 422v4M416.5 484v10M417.5 426v10M417.5 450v5M417.5 498v5M418.5 426v5M419.5 489v5M419.5 498v7M420.5 431v15M420.5 450v5M421.5 441v9M421.5 503v2M424.5 494v4M424.5 503v2M425.5 426v5M425.5 446v4M425.5 484v5M426.5 441v9M426.5 455v5M427.5 426v5M427.5 436v5M427.5 455v5M430.5 441v5M430.5 494v4M431.5 422v4M431.5 431v5M431.5 441v5M431.5 450v5M431.5 503v2M432.5 436v5M433.5 489v5M433.5 498v7M434.5 436v5M434.5 446v4M434.5 489v14M435.5 489v9M438.5 489v5M438.5 498v7M439.5 431v5M439.5 446v4M439.5 489v5M439.5 498v7M440.5 422v4M440.5 431v5M440.5 446v14M441.5 431v10M441.5 484v21M442.5 422v9M442.5 436v14M442.5 455v5M443.5 422v9M444.5 494v9M445.5 431v5M445.5 441v5M445.5 450v10M445.5 498v5M446.5 436v19M446.5 494v11M447.5 422v4M447.5 431v5M447.5 460v5M447.5 484v5M448.5 460v5M450.5 422v9M450.5 441v14M451.5 455v5M452.5 422v4M452.5 431v10M452.5 446v4M452.5 455v5M453.5 422v4M453.5 431v15M454.5 441v5M454.5 455v5M455.5 489v5M455.5 503v2M456.5 422v9M456.5 450v5M456.5 494v9M457.5 431v5M457.5 441v5M457.5 489v14M459.5 484v5M460.5 489v5M467.5 470v4M470.5 446v4M475.5 446v4M478.5 479v5M479.5 465v5M495.5 455v5M502.5 470v4M507.5 474v5M508.5 431v5M509.5 465v5M510.5 460v5M517.5 479v5"/>
<path stroke="#28004b" d="M93.5 436v5M93.5 446v9M93.5 484v5M93.5 494v11M95.5 422v4M95.5 446v4M95.5 455v5M96.5 426v10M96.5 441v5M96.5 455v5M99.5 426v10M99.5 441v14M100.5 436v5M100.5 446v4M103.5 436v10M103.5 489v5M103.5 498v5M104.5 441v5M104.5 489v5M104.5 498v5M105.5 484v5M106.5 422v4M107.5 494v4M107.5 503v2M108.5 426v5M108.5 436v10M108.5 450v5M110.5 446v4M111.5 431v5M111.5 446v9M111.5 494v11M114.5 436v5M114.5 450v5M114.5 489v16M115.5 422v4M115.5 431v15M117.5 426v5M117.5 436v10M118.5 455v5M121.5 422v4M121.5 484v5M123.5 422v14M123.5 441v9M124.5 436v10M124.5 455v5M124.5 489v5M125.5 446v9M125.5 460v5M126.5 484v5M127.5 450v5M128.5 426v5M128.5 441v5M129.5 484v5M130.5 422v9M130.5 436v10M130.5 455v5M131.5 431v15M131.5 450v10M132.5 426v5M132.5 436v5M132.5 455v5M133.5 422v4M133.5 431v5M133.5 455v5M135.5 422v4M135.5 441v5M135.5 450v5M136.5 422v19M136.5 446v4M136.5 455v10M137.5 426v5M137.5 436v5M137.5 450v5M137.5 503v2M138.5 422v4M138.5 431v5M138.5 446v4M138.5 455v5M139.5 494v11M140.5 426v10M140.5 446v9M141.5 422v28M143.5 436v5M143.5 446v9M144.5 450v5M145.5 422v9M146.5 426v5M146.5 441v5M146.5 450v5M146.5 489v5M146.5 498v5M147.5 431v24M148.5 426v10M148.5 446v9M149.5 422v9M149.5 455v5M150.5 426v29M151.5 426v10M151.5 446v4M152.5 484v5M153.5 436v10M155.5 422v9M155.5 436v14M156.5 422v4M156.5 460v5M156.5 484v5M157.5 484v5M158.5 484v5M159.5 422v4M159.5 484v5M160.5 455v5M161.5 426v10M161.5 441v5M161.5 455v5M161.5 498v5M162.5 446v4M162.5 494v4M163.5 450v5M163.5 484v5M163.5 494v4M163.5 503v2M164.5 484v5M165.5 422v4M166.5 426v10M166.5 446v9M166.5 460v5M166.5 484v5M167.5 422v4M167.5 460v5M167.5 484v5M168.5 422v4M168.5 460v5M169.5 489v5M169.5 498v5M171.5 422v4M171.5 431v5M171.5 441v14M173.5 426v10M173.5 441v5M173.5 455v5M174.5 441v5M174.5 489v9M176.5 441v5M176.5 489v9M176.5 503v2M177.5 422v9M177.5 441v14M177.5 484v5M179.5 436v10M179.5 503v2M180.5 426v5M181.5 426v5M181.5 436v5M181.5 446v4M181.5 455v5M184.5 431v5M184.5 446v9M185.5 436v10M185.5 450v5M185.5 494v4M187.5 431v5M188.5 431v5M188.5 489v5M190.5 426v5M190.5 436v10M190.5 450v5M191.5 441v19M195.5 422v4M195.5 450v10M195.5 484v5M196.5 426v5M196.5 436v10M196.5 455v10M196.5 489v5M197.5 484v5M198.5 436v10M198.5 503v2M199.5 426v5M199.5 436v10M199.5 450v5M200.5 426v5M200.5 436v10M200.5 450v5M200.5 494v4M201.5 431v5M201.5 441v14M201.5 484v5M201.5 494v11M202.5 450v5M202.5 489v5M202.5 498v5M204.5 426v10M204.5 455v5M205.5 431v10M205.5 450v5M206.5 426v5M206.5 436v5M206.5 446v14M207.5 446v9M208.5 441v5M208.5 484v10M208.5 498v5M209.5 422v28M209.5 455v5M209.5 484v5M211.5 431v5M211.5 446v4M212.5 422v4M212.5 431v10M213.5 426v5M213.5 446v9M213.5 484v5M214.5 426v10M214.5 450v10M214.5 489v5M215.5 484v5M216.5 484v5M218.5 446v4M218.5 494v4M219.5 450v5M220.5 426v5M220.5 441v9M220.5 455v5M221.5 426v5M221.5 436v5M221.5 446v9M221.5 484v5M222.5 431v15M223.5 460v5M224.5 436v10M224.5 450v5M224.5 484v5M226.5 426v24M226.5 494v9M227.5 484v5M228.5 426v5M228.5 484v5M230.5 431v5M230.5 455v10M231.5 484v5M232.5 441v14M232.5 489v16M233.5 446v4M233.5 455v5M234.5 460v5M235.5 441v5M235.5 455v5M235.5 498v5M236.5 431v5M236.5 450v5M236.5 498v7M237.5 441v5M237.5 455v5M237.5 484v10M237.5 498v5M238.5 426v15M238.5 446v4M238.5 484v5M239.5 460v5M240.5 479v5M242.5 426v5M242.5 441v5M242.5 450v5M242.5 474v5M243.5 426v5M243.5 436v5M243.5 474v10M244.5 450v5M244.5 465v5M244.5 479v10M245.5 470v4M246.5 441v5M246.5 460v5M247.5 460v5M248.5 484v5M249.5 470v9M250.5 450v10M250.5 498v7M251.5 470v9M252.5 422v4M252.5 450v5M252.5 460v10M252.5 474v5M253.5 460v5M253.5 494v4M254.5 441v5M254.5 450v5M254.5 479v5M255.5 426v5M255.5 460v5M255.5 474v5M256.5 426v5M256.5 436v10M256.5 455v5M256.5 479v10M257.5 436v5M257.5 479v5M257.5 498v5M258.5 441v9M258.5 479v5M260.5 465v9M262.5 441v5M262.5 450v5M262.5 465v5M262.5 479v5M263.5 446v4M263.5 474v15M264.5 436v10M264.5 484v5M266.5 426v5M266.5 441v5M266.5 455v10M266.5 498v5M267.5 460v5M267.5 484v5M271.5 455v10M271.5 484v5M272.5 494v4M273.5 484v5M274.5 426v5M274.5 436v10M275.5 460v5M276.5 436v14M276.5 484v5M276.5 494v11M277.5 422v4M277.5 441v5M277.5 460v5M277.5 484v5M278.5 426v5M278.5 436v5M278.5 455v5M278.5 484v5M279.5 484v5M280.5 431v10M280.5 494v9M282.5 436v10M282.5 450v10M282.5 498v5M283.5 422v4M283.5 455v5M284.5 436v5M284.5 455v5M284.5 494v9M285.5 446v4M285.5 498v5M286.5 426v5M286.5 436v5M286.5 455v10M287.5 455v5M288.5 460v5M289.5 422v4M289.5 431v5M289.5 441v14M290.5 460v5M291.5 422v4M291.5 460v5M292.5 446v4M292.5 455v5M292.5 503v2M293.5 484v5M294.5 422v4M294.5 431v10M296.5 455v5M297.5 436v5M297.5 446v9M297.5 494v4M299.5 455v5M299.5 484v5M300.5 450v5M300.5 484v5M301.5 484v5M302.5 436v5M304.5 422v4M304.5 431v5M305.5 484v5M306.5 422v4M307.5 422v4M307.5 441v5M307.5 450v10M308.5 426v5M308.5 455v5M309.5 446v4M310.5 441v5M311.5 426v5M311.5 455v5M314.5 460v5M314.5 484v5M315.5 484v5M316.5 436v5M316.5 446v4M316.5 455v5M317.5 426v5M319.5 441v14M319.5 494v4M320.5 460v5M321.5 436v5M322.5 436v5M322.5 446v4M322.5 489v14M323.5 422v4M323.5 455v5M324.5 426v5M324.5 436v10M329.5 484v5M330.5 426v10M331.5 460v5M332.5 436v5M332.5 446v9M333.5 422v4M334.5 426v10M334.5 446v9M334.5 484v14M335.5 431v5M335.5 441v9M336.5 431v5M336.5 446v9M337.5 422v4M337.5 455v10M337.5 484v5M338.5 422v4M338.5 441v5M338.5 450v10M338.5 484v5M338.5 498v5M339.5 436v5M339.5 455v5M339.5 484v5M340.5 441v5M340.5 489v5M340.5 503v2M342.5 426v5M342.5 436v5M342.5 455v5M343.5 431v19M343.5 484v21M344.5 450v5M345.5 436v10M345.5 450v5M345.5 460v5M347.5 436v5M347.5 450v5M347.5 484v5M347.5 503v2M348.5 455v5M348.5 484v5M351.5 436v5M351.5 446v4M351.5 494v4M352.5 441v9M353.5 441v5M353.5 489v5M353.5 503v2M357.5 426v5M357.5 436v14M358.5 431v5M358.5 450v15M359.5 484v5M361.5 422v4M362.5 422v9M362.5 436v5M362.5 446v4M362.5 455v5M363.5 426v5M363.5 441v9M364.5 460v5M365.5 426v5M365.5 441v14M367.5 426v5M367.5 436v5M367.5 450v5M368.5 422v4M368.5 431v5M368.5 446v4M369.5 426v10M369.5 441v5M369.5 450v5M370.5 450v5M370.5 484v5M370.5 494v9M371.5 422v14M371.5 441v9M371.5 460v5M372.5 450v5M372.5 484v5M373.5 431v10M373.5 450v15M374.5 436v10M374.5 455v5M375.5 484v5M376.5 422v4M376.5 436v10M376.5 455v5M378.5 484v5M380.5 426v15M380.5 455v5M381.5 422v4M381.5 441v5M381.5 455v10M382.5 422v4M382.5 436v5M383.5 460v5M384.5 436v5M384.5 446v9M385.5 446v4M385.5 498v5M386.5 422v9M387.5 436v5M387.5 489v5M387.5 498v7M388.5 455v5M389.5 426v5M389.5 441v5M389.5 450v5M390.5 431v5M390.5 455v5M391.5 441v19M391.5 484v5M392.5 426v5M392.5 446v4M392.5 455v5M392.5 489v5M393.5 426v5M394.5 436v5M394.5 450v5M395.5 460v5M396.5 446v9M396.5 484v5M396.5 498v5M397.5 436v10M397.5 455v5M397.5 484v5M398.5 422v9M399.5 422v4M399.5 441v9M399.5 455v5M399.5 484v5M400.5 431v5M400.5 441v5M400.5 455v5M400.5 489v5M402.5 431v5M402.5 441v5M402.5 450v5M402.5 494v4M403.5 426v5M403.5 484v5M404.5 431v5M404.5 446v4M404.5 503v2M405.5 446v4M405.5 489v16M406.5 436v5M406.5 489v5M406.5 498v7M407.5 498v7M408.5 460v5M409.5 484v5M410.5 450v10M411.5 422v4M412.5 422v9M412.5 441v5M413.5 426v10M413.5 441v5M414.5 422v14M414.5 455v10M416.5 436v10M416.5 455v5M416.5 498v5M417.5 422v4M417.5 446v4M417.5 455v5M418.5 460v5M418.5 484v5M419.5 446v4M419.5 494v4M420.5 422v4M420.5 460v5M421.5 426v15M421.5 455v5M422.5 460v5M424.5 431v5M424.5 441v5M424.5 450v5M424.5 484v5M425.5 450v5M426.5 422v4M427.5 484v5M429.5 489v16M430.5 431v10M430.5 446v14M431.5 426v5M431.5 484v5M433.5 446v4M433.5 494v4M434.5 422v14M434.5 441v5M434.5 450v5M434.5 484v5M435.5 441v19M435.5 484v5M435.5 498v7M436.5 484v5M437.5 460v5M438.5 436v10M438.5 494v4M439.5 422v9M439.5 436v10M439.5 450v5M440.5 484v5M441.5 441v14M443.5 431v5M443.5 446v9M444.5 426v10M444.5 455v5M445.5 422v9M445.5 446v4M445.5 484v5M446.5 431v5M446.5 455v5M448.5 484v5M450.5 484v5M454.5 422v4M454.5 431v10M455.5 426v5M455.5 436v5M455.5 446v4M455.5 484v5M455.5 494v4M456.5 431v19M456.5 455v10M456.5 484v5M457.5 450v5M457.5 460v5M457.5 484v5M459.5 460v5M460.5 446v9M460.5 494v11M465.5 465v5M466.5 470v4M488.5 503v2"/>
<path stroke="#32005f" d="M93.5 441v5M95.5 441v5M95.5 450v5M95.5 484v5M96.5 484v5M99.5 422v4M99.5 484v5M100.5 460v5M101.5 422v4M103.5 446v4M104.5 422v4M104.5 431v5M104.5 455v5M106.5 431v5M106.5 455v5M106.5 484v5M107.5 450v10M108.5 422v4M108.5 455v10M110.5 426v5M110.5 450v15M111.5 426v5M111.5 484v5M114.5 455v5M114.5 484v5M115.5 460v5M117.5 422v4M117.5 446v9M119.5 484v5M121.5 460v5M122.5 450v10M122.5 484v5M123.5 455v10M123.5 484v5M124.5 431v5M124.5 446v9M125.5 426v15M128.5 484v5M131.5 422v9M132.5 431v5M137.5 431v5M137.5 446v4M137.5 484v5M138.5 460v5M138.5 484v5M139.5 441v5M140.5 436v5M140.5 455v5M141.5 484v5M143.5 422v9M143.5 460v5M146.5 436v5M146.5 455v5M147.5 426v5M147.5 460v5M148.5 422v4M148.5 436v5M148.5 455v5M150.5 422v4M151.5 484v5M155.5 460v5M155.5 484v5M157.5 455v5M161.5 422v4M161.5 436v5M161.5 446v9M161.5 460v5M161.5 484v5M162.5 426v5M162.5 436v10M162.5 450v15M162.5 484v5M163.5 426v5M163.5 441v9M164.5 460v5M165.5 460v5M166.5 422v4M166.5 436v5M168.5 484v5M169.5 441v5M169.5 450v5M172.5 422v24M172.5 455v5M173.5 422v4M173.5 484v5M174.5 431v10M174.5 446v4M176.5 426v10M176.5 446v9M176.5 484v5M177.5 431v10M177.5 455v10M178.5 450v5M179.5 426v5M179.5 450v10M179.5 484v5M180.5 441v19M181.5 422v4M181.5 441v5M181.5 450v5M184.5 436v5M185.5 422v4M187.5 426v5M187.5 441v14M188.5 422v9M188.5 436v5M188.5 446v4M188.5 455v5M188.5 484v5M189.5 484v5M190.5 422v4M190.5 431v5M190.5 446v4M190.5 455v10M191.5 426v15M191.5 484v5M196.5 422v4M196.5 446v4M198.5 422v14M198.5 484v5M199.5 431v5M199.5 460v5M199.5 484v5M200.5 431v5M201.5 436v5M202.5 441v5M203.5 484v5M204.5 446v4M204.5 484v5M205.5 426v5M205.5 441v5M205.5 455v5M206.5 422v4M208.5 422v14M208.5 460v5M208.5 494v4M209.5 460v5M211.5 426v5M213.5 422v4M214.5 422v4M214.5 436v14M214.5 484v5M215.5 460v5M217.5 484v5M218.5 455v5M219.5 431v15M219.5 484v5M220.5 484v5M221.5 422v4M222.5 426v5M222.5 455v5M224.5 426v10M224.5 446v4M226.5 455v5M228.5 431v5M228.5 460v5M229.5 460v5M230.5 422v4M231.5 460v5M232.5 455v5M233.5 426v10M233.5 450v5M233.5 460v5M233.5 484v5M235.5 426v10M235.5 450v5M236.5 441v9M236.5 455v5M236.5 484v5M237.5 426v15M237.5 450v5M238.5 455v5M238.5 470v14M239.5 470v4M239.5 479v5M242.5 455v5M243.5 422v4M243.5 465v9M244.5 426v10M244.5 441v5M244.5 474v5M246.5 422v4M246.5 465v14M248.5 422v14M248.5 450v10M248.5 474v10M250.5 422v19M250.5 446v4M250.5 470v4M250.5 479v10M252.5 426v15M252.5 455v5M252.5 470v4M252.5 479v5M253.5 441v5M253.5 465v5M253.5 479v5M254.5 426v5M254.5 436v5M254.5 446v4M254.5 465v5M255.5 422v4M256.5 422v4M256.5 431v5M256.5 460v10M256.5 474v5M257.5 431v5M257.5 441v5M257.5 450v5M257.5 465v9M257.5 484v5M258.5 426v10M258.5 484v5M259.5 422v9M259.5 460v5M262.5 422v14M262.5 455v10M262.5 474v5M263.5 426v5M263.5 455v10M263.5 470v4M264.5 431v5M264.5 450v5M264.5 460v5M264.5 474v5M265.5 479v5M266.5 446v9M267.5 422v4M267.5 436v10M268.5 460v5M270.5 479v5M274.5 431v5M274.5 446v4M274.5 455v5M277.5 426v5M277.5 436v5M278.5 431v5M278.5 446v4M279.5 455v5M280.5 426v5M280.5 446v14M281.5 484v5M282.5 426v10M282.5 446v4M284.5 422v4M284.5 431v5M284.5 441v5M284.5 450v5M284.5 484v5M285.5 426v5M285.5 441v5M285.5 450v5M285.5 484v5M286.5 422v4M287.5 484v5M288.5 484v5M289.5 436v5M289.5 455v5M289.5 484v5M292.5 426v5M292.5 441v5M292.5 460v5M293.5 455v5M294.5 450v10M294.5 484v5M295.5 460v5M297.5 431v5M297.5 441v5M302.5 431v5M302.5 441v9M303.5 460v5M305.5 460v5M307.5 426v10M307.5 460v5M308.5 422v4M309.5 450v5M309.5 484v5M310.5 426v10M310.5 446v9M310.5 484v5M311.5 422v4M311.5 460v5M312.5 484v5M313.5 484v5M316.5 422v9M317.5 460v5M318.5 460v5M319.5 422v19M319.5 455v5M320.5 484v5M321.5 441v5M322.5 450v5M322.5 503v2M324.5 455v5M324.5 484v5M326.5 484v5M330.5 484v5M332.5 426v10M332.5 455v5M334.5 422v4M335.5 422v9M335.5 484v5M336.5 436v10M336.5 460v5M336.5 484v5M338.5 426v15M339.5 422v4M339.5 431v5M339.5 460v5M340.5 446v9M340.5 484v5M342.5 422v4M342.5 460v5M343.5 450v5M344.5 455v5M345.5 422v4M345.5 431v5M345.5 455v5M347.5 441v5M347.5 455v5M348.5 426v10M350.5 460v5M351.5 450v5M352.5 431v10M352.5 455v5M353.5 426v10M353.5 450v5M355.5 455v5M357.5 422v4M357.5 455v5M357.5 484v5M358.5 426v5M358.5 436v5M359.5 460v5M360.5 484v5M361.5 460v5M362.5 431v5M362.5 484v5M363.5 422v4M363.5 436v5M363.5 455v5M364.5 484v5M365.5 422v4M368.5 455v5M369.5 436v5M369.5 455v5M370.5 426v24M372.5 455v5M373.5 426v5M374.5 422v4M375.5 460v5M376.5 431v5M376.5 484v5M377.5 455v5M383.5 484v5M384.5 426v5M384.5 484v5M385.5 426v5M385.5 441v5M385.5 450v5M387.5 426v5M387.5 446v14M389.5 431v10M389.5 455v5M390.5 422v4M390.5 436v5M391.5 422v19M392.5 436v5M392.5 450v5M393.5 422v4M393.5 455v5M394.5 422v9M395.5 484v5M396.5 436v10M397.5 431v5M397.5 450v5M398.5 460v5M398.5 484v5M399.5 426v5M399.5 436v5M399.5 450v5M400.5 422v4M400.5 484v5M400.5 498v5M402.5 426v5M402.5 436v5M402.5 446v4M402.5 484v5M404.5 450v5M405.5 441v5M405.5 484v5M406.5 431v5M406.5 446v9M406.5 460v5M407.5 436v10M407.5 450v5M409.5 460v5M410.5 484v5M412.5 455v5M413.5 422v4M413.5 450v10M415.5 460v5M415.5 484v5M416.5 426v5M416.5 446v9M416.5 460v5M417.5 484v5M419.5 422v4M419.5 441v5M419.5 450v10M419.5 484v5M421.5 450v5M421.5 484v5M423.5 460v5M424.5 426v5M424.5 436v5M424.5 446v4M426.5 460v5M426.5 484v5M427.5 460v5M428.5 460v5M429.5 431v5M429.5 450v5M430.5 426v5M431.5 455v5M433.5 426v5M433.5 436v10M433.5 484v5M434.5 455v5M435.5 431v10M438.5 431v5M438.5 450v5M439.5 455v5M439.5 484v5M441.5 426v5M441.5 455v10M442.5 460v5M442.5 484v5M443.5 455v5M443.5 484v5M444.5 441v5M444.5 450v5M444.5 460v5M445.5 460v5M446.5 426v5M446.5 460v5M446.5 484v5M449.5 484v5M452.5 484v5M453.5 460v5M454.5 426v5M455.5 450v5M457.5 436v5M457.5 446v4M457.5 455v5M460.5 426v5M460.5 441v5M460.5 455v5M463.5 474v5M468.5 465v5M477.5 498v5M501.5 465v5M506.5 465v5M515.5 431v5M516.5 460v5"/>
<path stroke="#3c0275" d="M92.5 484v5M95.5 426v10M100.5 426v10M100.5 441v5M100.5 450v5M100.5 484v5M102.5 455v5M102.5 484v5M103.5 426v5M103.5 450v10M104.5 436v5M104.5 446v9M104.5 484v5M107.5 426v20M108.5 484v5M109.5 460v5M109.5 484v5M110.5 422v4M110.5 431v5M111.5 441v5M111.5 455v5M112.5 484v5M114.5 426v10M114.5 441v9M114.5 460v5M116.5 460v5M116.5 484v5M117.5 431v5M117.5 455v5M117.5 484v5M119.5 460v5M124.5 422v9M125.5 422v4M127.5 455v5M127.5 484v5M130.5 460v5M132.5 422v4M135.5 455v5M136.5 484v5M137.5 422v4M137.5 455v5M139.5 426v5M139.5 446v4M139.5 455v5M140.5 422v4M140.5 441v5M142.5 484v5M146.5 431v5M146.5 446v4M147.5 455v5M147.5 484v5M148.5 460v5M150.5 455v5M152.5 460v5M153.5 422v14M162.5 431v5M163.5 422v4M163.5 431v10M163.5 455v10M165.5 484v5M169.5 426v5M169.5 436v5M169.5 446v4M169.5 455v10M169.5 484v5M174.5 426v5M174.5 450v5M175.5 484v5M176.5 422v4M176.5 436v5M179.5 431v5M180.5 422v4M180.5 431v10M181.5 460v5M183.5 460v5M183.5 484v5M184.5 426v5M184.5 455v5M184.5 484v5M185.5 426v10M185.5 455v5M185.5 484v5M187.5 436v5M191.5 422v4M196.5 431v5M197.5 460v5M198.5 455v5M199.5 422v4M200.5 446v4M200.5 455v10M201.5 455v5M202.5 426v15M202.5 446v4M202.5 484v5M204.5 422v4M205.5 422v4M205.5 460v5M206.5 484v5M208.5 446v14M211.5 460v5M216.5 460v5M217.5 460v5M218.5 431v15M218.5 450v5M218.5 484v5M219.5 426v5M219.5 455v10M220.5 422v4M220.5 431v10M220.5 460v5M222.5 422v4M226.5 422v4M227.5 460v5M232.5 426v15M233.5 436v10M235.5 436v5M236.5 422v9M236.5 436v5M236.5 460v5M237.5 446v4M238.5 422v4M238.5 460v10M239.5 465v5M240.5 465v5M240.5 474v5M242.5 422v4M242.5 460v10M244.5 422v4M244.5 455v10M244.5 470v4M247.5 479v5M248.5 460v10M250.5 460v10M250.5 474v5M253.5 426v15M253.5 470v9M254.5 455v10M256.5 470v4M257.5 474v5M258.5 455v5M258.5 470v9M262.5 470v4M263.5 465v5M264.5 426v5M264.5 465v9M267.5 426v5M269.5 479v5M272.5 431v5M272.5 441v14M272.5 460v5M274.5 422v4M274.5 460v5M275.5 479v5M276.5 431v5M276.5 450v10M278.5 422v4M278.5 460v5M280.5 441v5M282.5 460v5M284.5 426v5M285.5 431v10M289.5 426v5M292.5 422v4M292.5 431v10M297.5 426v5M297.5 455v5M297.5 484v5M300.5 455v5M302.5 426v5M302.5 460v5M304.5 460v5M306.5 484v5M310.5 422v4M310.5 460v5M312.5 460v5M313.5 460v5M316.5 431v5M316.5 460v5M321.5 431v5M321.5 455v5M321.5 484v5M322.5 431v5M322.5 441v5M322.5 484v5M324.5 422v4M325.5 484v5M327.5 484v5M331.5 484v5M332.5 484v5M333.5 484v5M334.5 436v5M334.5 455v5M336.5 426v5M336.5 455v5M338.5 460v5M342.5 484v5M343.5 460v5M345.5 484v5M346.5 484v5M347.5 422v4M347.5 431v5M349.5 484v5M351.5 426v10M351.5 455v5M351.5 484v5M352.5 422v9M353.5 436v5M353.5 455v5M354.5 484v5M356.5 460v5M357.5 460v5M358.5 422v4M361.5 484v5M365.5 484v5M366.5 484v5M367.5 422v4M369.5 422v4M369.5 460v5M370.5 455v5M373.5 422v4M373.5 484v5M376.5 426v5M376.5 460v5M378.5 460v5M379.5 460v5M382.5 455v10M384.5 422v4M385.5 422v4M385.5 431v10M385.5 455v5M385.5 484v5M386.5 460v5M387.5 431v5M387.5 441v5M387.5 460v5M387.5 484v5M388.5 484v5M390.5 460v5M390.5 484v5M394.5 484v5M396.5 431v5M396.5 460v5M397.5 422v9M399.5 460v5M400.5 436v5M400.5 446v9M402.5 455v5M404.5 422v9M404.5 436v10M404.5 455v5M405.5 436v5M405.5 450v15M406.5 441v5M406.5 455v5M407.5 422v4M407.5 431v5M410.5 460v5M416.5 431v5M417.5 460v5M419.5 426v10M419.5 460v5M421.5 460v5M422.5 484v5M424.5 455v5M429.5 441v9M429.5 455v5M430.5 422v4M430.5 460v5M430.5 484v5M433.5 450v5M434.5 460v5M435.5 422v4M438.5 426v5M438.5 446v4M438.5 460v5M440.5 460v5M444.5 436v5M444.5 446v4M444.5 484v5M446.5 422v4M449.5 460v5M452.5 460v5M454.5 460v5M454.5 484v5M455.5 422v4M455.5 431v5M455.5 441v5M455.5 455v5M457.5 426v5M458.5 460v5M458.5 484v5M460.5 431v10M460.5 460v5"/>
<path stroke="#46048b" d="M93.5 426v10M93.5 455v5M94.5 460v5M100.5 455v5M101.5 455v5M103.5 431v5M103.5 484v5M104.5 426v5M107.5 460v5M111.5 436v5M114.5 422v4M117.5 460v5M118.5 484v5M120.5 460v5M120.5 484v5M124.5 460v5M131.5 484v5M134.5 484v5M139.5 431v10M140.5 484v5M143.5 484v5M146.5 460v5M147.5 422v4M149.5 460v5M151.5 460v5M153.5 455v5M153.5 484v5M154.5 484v5M157.5 460v5M158.5 460v5M160.5 484v5M162.5 422v4M164.5 479v5M169.5 431v5M170.5 460v5M170.5 484v5M172.5 460v5M174.5 455v5M174.5 484v5M176.5 455v10M178.5 484v5M179.5 422v4M180.5 460v5M180.5 484v5M184.5 422v4M186.5 460v5M188.5 460v5M192.5 484v5M193.5 484v5M194.5 484v5M196.5 484v5M198.5 460v5M200.5 484v5M201.5 422v9M202.5 422v4M202.5 455v5M205.5 484v5M206.5 460v5M207.5 455v5M208.5 436v5M214.5 460v5M218.5 426v5M219.5 422v4M222.5 460v5M224.5 422v4M224.5 455v5M225.5 455v5M226.5 484v5M229.5 484v5M230.5 484v5M232.5 422v4M232.5 460v5M235.5 460v5M237.5 422v4M237.5 460v5M239.5 474v5M248.5 470v4M253.5 422v4M254.5 470v9M257.5 426v5M257.5 455v10M258.5 422v4M258.5 460v10M264.5 422v4M265.5 465v5M265.5 474v5M266.5 479v5M272.5 426v5M272.5 436v5M272.5 455v5M272.5 465v5M272.5 479v5M275.5 465v5M276.5 426v5M280.5 422v4M280.5 484v5M282.5 422v4M282.5 484v5M284.5 460v5M285.5 460v5M287.5 460v5M289.5 460v5M291.5 484v5M302.5 422v4M311.5 484v5M315.5 460v5M317.5 484v5M319.5 460v5M321.5 422v9M322.5 426v5M322.5 455v5M323.5 460v5M323.5 484v5M332.5 460v5M335.5 460v5M340.5 426v15M340.5 455v5M343.5 422v9M343.5 455v5M347.5 426v5M347.5 460v5M348.5 422v4M351.5 422v4M351.5 460v5M352.5 484v5M353.5 422v4M353.5 484v5M355.5 484v5M356.5 484v5M360.5 460v5M362.5 460v5M365.5 460v5M370.5 422v4M370.5 460v5M371.5 484v5M374.5 484v5M377.5 484v5M380.5 460v5M385.5 460v5M386.5 484v5M389.5 422v4M392.5 422v4M392.5 460v5M394.5 455v5M396.5 426v5M396.5 455v5M397.5 460v5M401.5 460v5M402.5 422v4M402.5 460v5M405.5 422v14M406.5 426v5M406.5 484v5M407.5 426v5M407.5 455v10M408.5 484v5M413.5 484v5M416.5 422v4M419.5 436v5M420.5 484v5M421.5 422v4M423.5 484v5M424.5 422v4M425.5 455v5M428.5 484v5M429.5 436v5M432.5 460v5M432.5 484v5M433.5 422v4M433.5 431v5M433.5 455v5M435.5 426v5M437.5 484v5M438.5 422v4M438.5 455v5M439.5 460v5M441.5 422v4M444.5 422v4M450.5 460v5M451.5 484v5M453.5 484v5M457.5 422v4M460.5 422v4M460.5 484v5"/>
<path stroke="#4c06a1" d="M92.5 460v5M93.5 422v4M96.5 460v5M99.5 460v5M107.5 422v4M110.5 484v5M111.5 422v4M111.5 460v5M112.5 460v5M113.5 484v5M115.5 484v5M118.5 460v5M125.5 484v5M126.5 460v5M129.5 460v5M132.5 460v5M135.5 484v5M137.5 460v5M139.5 422v4M139.5 460v5M139.5 484v5M144.5 455v5M145.5 460v5M146.5 422v4M148.5 484v5M149.5 484v5M160.5 460v5M169.5 422v4M171.5 455v5M174.5 460v5M175.5 460v5M178.5 455v5M182.5 484v5M187.5 422v4M187.5 455v5M191.5 460v5M195.5 460v5M201.5 460v5M207.5 484v5M213.5 460v5M218.5 422v4M223.5 484v5M233.5 422v4M234.5 484v5M235.5 422v4M237.5 479v5M240.5 470v4M254.5 422v4M257.5 422v4M266.5 422v4M267.5 465v9M267.5 479v5M270.5 465v5M273.5 479v5M274.5 465v5M275.5 470v9M276.5 460v5M277.5 465v5M277.5 479v5M280.5 460v5M285.5 422v4M292.5 484v5M297.5 422v4M298.5 455v5M301.5 460v5M302.5 484v5M306.5 460v5M308.5 484v5M309.5 455v5M321.5 460v5M327.5 460v5M328.5 460v5M328.5 484v5M332.5 422v4M334.5 460v5M336.5 422v4M340.5 422v4M340.5 460v5M344.5 460v5M344.5 484v5M346.5 460v5M348.5 460v5M353.5 460v5M354.5 460v5M366.5 460v5M367.5 460v5M368.5 484v5M372.5 460v5M374.5 460v5M387.5 422v4M389.5 460v5M389.5 484v5M393.5 484v5M396.5 422v4M400.5 426v5M400.5 460v5M404.5 460v5M404.5 484v5M406.5 422v4M429.5 422v9M433.5 460v5M435.5 460v5M436.5 460v5M438.5 484v5M448.5 479v5M451.5 460v5M455.5 460v5"/>
<path stroke="#4f09b8" d="M94.5 484v5M100.5 422v4M101.5 484v5M103.5 422v4M104.5 460v5M128.5 460v5M131.5 460v5M132.5 484v5M133.5 484v5M144.5 484v5M146.5 484v5M153.5 460v5M164.5 465v5M166.5 479v5M173.5 460v5M174.5 422v4M181.5 484v5M186.5 484v5M192.5 460v5M193.5 460v5M200.5 422v4M202.5 460v5M204.5 460v5M210.5 484v5M211.5 484v5M212.5 484v5M221.5 455v5M225.5 484v5M232.5 484v5M235.5 484v5M247.5 465v5M265.5 470v4M266.5 465v5M267.5 474v5M269.5 465v5M269.5 474v5M271.5 465v5M271.5 479v5M272.5 422v4M272.5 470v4M273.5 465v5M274.5 479v5M276.5 422v4M279.5 460v5M283.5 460v5M293.5 460v5M294.5 460v5M296.5 460v5M296.5 484v5M298.5 484v5M303.5 484v5M304.5 484v5M308.5 460v5M319.5 484v5M322.5 422v4M349.5 460v5M355.5 460v5M363.5 460v5M363.5 484v5M369.5 484v5M377.5 460v5M388.5 460v5M392.5 484v5M393.5 460v5M409.5 479v5M413.5 460v5M414.5 479v5M416.5 479v5M429.5 460v5M443.5 460v5M447.5 479v5"/>
<path stroke="#480ace" d="M105.5 460v5M106.5 460v5M107.5 484v5M113.5 460v5M122.5 460v5M127.5 460v5M133.5 460v5M134.5 460v5M150.5 460v5M165.5 479v5M167.5 479v5M184.5 460v5M185.5 460v5M187.5 484v5M203.5 460v5M207.5 460v5M222.5 484v5M237.5 465v5M268.5 465v5M268.5 479v5M269.5 470v4M270.5 470v9M272.5 474v5M273.5 470v9M276.5 479v5M277.5 470v4M278.5 479v5M280.5 479v5M281.5 479v5M299.5 460v5M300.5 460v5M325.5 460v5M326.5 460v5M352.5 460v5M368.5 460v5M379.5 479v5M391.5 460v5M394.5 460v5M400.5 479v5M407.5 484v5M410.5 479v5M414.5 465v5M415.5 479v5M424.5 460v5M429.5 484v5M431.5 460v5M446.5 479v5M448.5 465v5M449.5 479v5"/>
<path stroke="#3a0ce3" d="M93.5 460v5M95.5 460v5M102.5 460v5M130.5 484v5M140.5 460v5M163.5 479v5M166.5 465v5M167.5 465v5M179.5 460v5M182.5 460v5M197.5 479v5M212.5 460v5M218.5 460v5M226.5 460v5M237.5 470v9M247.5 474v5M266.5 470v9M284.5 479v5M286.5 479v5M297.5 460v5M309.5 460v5M314.5 479v5M324.5 460v5M330.5 479v5M333.5 479v5M337.5 479v5M338.5 479v5M350.5 484v5M356.5 479v5M372.5 479v5M376.5 479v5M382.5 479v5M398.5 479v5M406.5 479v5M409.5 465v5M415.5 465v5M416.5 465v5M419.5 479v5M425.5 460v5M440.5 479v5M444.5 479v5M445.5 465v5M445.5 479v5M447.5 465v5M455.5 479v5"/>
<path stroke="#280ef3" d="M101.5 460v5M103.5 460v5M115.5 479v5M124.5 484v5M144.5 460v5M162.5 479v5M164.5 470v9M166.5 470v4M168.5 479v5M171.5 460v5M178.5 460v5M189.5 460v5M213.5 479v5M224.5 460v5M225.5 460v5M229.5 479v5M236.5 479v5M247.5 470v4M268.5 474v5M271.5 474v5M274.5 470v4M276.5 465v5M277.5 474v5M281.5 465v5M283.5 479v5M284.5 465v5M285.5 479v5M288.5 479v5M294.5 479v5M295.5 479v5M315.5 479v5M317.5 479v5M318.5 479v5M322.5 460v5M331.5 479v5M332.5 479v5M334.5 479v5M335.5 479v5M342.5 479v5M345.5 479v5M358.5 479v5M375.5 479v5M379.5 465v5M380.5 479v5M383.5 479v5M385.5 479v5M396.5 479v5M400.5 465v5M402.5 479v5M412.5 479v5M414.5 470v4M417.5 479v5M418.5 479v5M421.5 479v5M422.5 479v5M435.5 479v5M439.5 479v5M441.5 465v5M441.5 479v5M442.5 479v5M447.5 474v5M449.5 465v5M456.5 479v5"/>
<path stroke="#1411fd" d="M117.5 479v5M135.5 460v5M153.5 479v5M155.5 479v5M157.5 479v5M158.5 479v5M159.5 479v5M160.5 479v5M161.5 479v5M166.5 474v5M190.5 484v5M197.5 465v5M198.5 479v5M208.5 479v5M209.5 479v5M215.5 479v5M220.5 479v5M221.5 460v5M227.5 479v5M268.5 470v4M271.5 470v4M274.5 474v5M278.5 465v5M279.5 479v5M281.5 474v5M287.5 479v5M290.5 479v5M298.5 460v5M311.5 479v5M337.5 465v9M340.5 479v5M341.5 479v5M344.5 479v5M348.5 479v5M359.5 479v5M360.5 479v5M364.5 479v5M366.5 479v5M373.5 479v5M378.5 479v5M379.5 474v5M382.5 465v5M399.5 479v5M403.5 479v5M410.5 465v5M411.5 479v5M412.5 465v5M414.5 474v5M416.5 474v5M419.5 465v5M420.5 479v5M436.5 479v5M437.5 479v5M443.5 479v5M444.5 465v5M445.5 470v9M446.5 465v9M447.5 470v4M448.5 470v9M453.5 479v5"/>
<path stroke="#0a1cff" d="M129.5 479v5M148.5 479v5M149.5 479v5M151.5 479v5M152.5 479v5M154.5 479v5M162.5 465v5M163.5 465v5M167.5 470v4M176.5 479v5M187.5 460v5M197.5 474v5M212.5 479v5M214.5 479v5M219.5 479v5M228.5 479v5M230.5 479v5M236.5 465v5M279.5 465v5M280.5 465v5M281.5 470v4M282.5 479v5M285.5 465v5M286.5 465v5M288.5 465v5M289.5 479v5M308.5 479v5M310.5 479v5M314.5 465v5M316.5 479v5M317.5 465v5M330.5 465v5M336.5 479v5M339.5 479v5M343.5 479v5M351.5 479v5M358.5 465v5M360.5 465v5M362.5 479v5M367.5 479v5M374.5 479v5M377.5 479v5M381.5 479v5M386.5 479v5M393.5 479v5M395.5 479v5M396.5 465v5M397.5 479v5M398.5 465v5M401.5 479v5M402.5 465v5M404.5 479v5M405.5 479v5M406.5 465v5M408.5 479v5M409.5 470v9M410.5 470v4M413.5 479v5M415.5 470v9M416.5 470v4M418.5 465v5M421.5 465v5M423.5 479v5M433.5 479v5M434.5 479v5M438.5 479v5M440.5 465v5M446.5 474v5M449.5 470v9M450.5 479v5M457.5 479v5M458.5 479v5M459.5 479v5"/>
<path stroke="#0329ff" d="M105.5 479v5M108.5 479v5M110.5 479v5M112.5 479v5M116.5 479v5M117.5 465v5M118.5 479v5M119.5 465v5M119.5 479v5M120.5 479v5M127.5 479v5M128.5 479v5M141.5 479v5M150.5 479v5M156.5 479v5M158.5 465v5M161.5 465v5M165.5 465v5M167.5 474v5M169.5 479v5M175.5 479v5M195.5 479v5M196.5 479v5M199.5 479v5M201.5 479v5M202.5 479v5M207.5 479v5M208.5 465v5M209.5 465v5M210.5 479v5M217.5 479v5M226.5 479v5M231.5 479v5M233.5 479v5M234.5 479v5M235.5 479v5M276.5 470v4M284.5 474v5M285.5 474v5M295.5 465v5M305.5 479v5M307.5 479v5M309.5 479v5M313.5 479v5M315.5 465v5M317.5 470v9M321.5 479v5M327.5 479v5M328.5 479v5M332.5 465v5M335.5 465v5M336.5 465v5M337.5 474v5M339.5 465v5M342.5 465v5M344.5 465v5M345.5 465v5M347.5 479v5M355.5 479v5M356.5 465v9M359.5 465v5M361.5 479v5M362.5 465v5M363.5 479v5M364.5 465v5M368.5 479v5M369.5 479v5M370.5 479v5M371.5 479v5M372.5 465v5M373.5 465v5M376.5 465v5M379.5 470v4M380.5 465v5M381.5 465v5M382.5 470v4M383.5 465v5M385.5 465v5M387.5 479v5M400.5 470v4M407.5 479v5M417.5 465v5M421.5 470v4M422.5 465v5M424.5 479v5M425.5 479v5M426.5 479v5M432.5 479v5M437.5 465v5M438.5 465v5M441.5 470v4M443.5 465v5M451.5 479v5M454.5 479v5M460.5 479v5"/>
<path stroke="#0036ff" d="M100.5 479v5M102.5 479v5M109.5 479v5M111.5 479v5M118.5 465v5M122.5 479v5M126.5 479v5M147.5 479v5M148.5 465v5M155.5 465v5M156.5 465v5M159.5 465v5M163.5 474v5M165.5 474v5M168.5 465v5M171.5 479v5M173.5 479v5M176.5 465v5M177.5 479v5M197.5 470v4M198.5 465v5M204.5 479v5M213.5 465v5M216.5 479v5M217.5 465v5M220.5 465v5M222.5 479v5M227.5 465v5M236.5 470v9M278.5 470v9M280.5 470v4M283.5 465v5M284.5 470v4M285.5 470v4M286.5 470v9M288.5 470v9M292.5 479v5M293.5 479v5M294.5 465v5M296.5 479v5M302.5 479v5M306.5 479v5M307.5 465v5M311.5 465v5M314.5 470v4M316.5 465v5M318.5 465v5M319.5 479v5M329.5 479v5M331.5 465v5M333.5 465v14M334.5 465v5M338.5 465v5M341.5 465v5M354.5 479v5M356.5 474v5M357.5 479v5M358.5 474v5M365.5 479v5M367.5 465v5M375.5 465v5M382.5 474v5M384.5 479v5M388.5 479v5M394.5 479v5M395.5 465v5M398.5 474v5M400.5 474v5M401.5 465v5M403.5 465v5M404.5 465v5M405.5 465v5M406.5 474v5M410.5 474v5M411.5 465v5M412.5 474v5M418.5 470v4M419.5 474v5M423.5 465v5M427.5 479v5M428.5 479v5M430.5 479v5M434.5 465v5M435.5 465v5M436.5 465v5M439.5 465v5M440.5 474v5M442.5 465v5M452.5 479v5M456.5 465v5M457.5 465v5M458.5 465v5M459.5 465v5"/>
<path stroke="#0041ff" d="M92.5 479v5M113.5 479v5M114.5 479v5M115.5 465v5M116.5 465v5M122.5 465v5M123.5 479v5M125.5 479v5M139.5 479v5M140.5 479v5M143.5 479v5M144.5 479v5M146.5 479v5M149.5 465v5M151.5 465v5M153.5 465v5M157.5 465v5M158.5 474v5M160.5 465v5M162.5 470v9M163.5 470v4M165.5 470v4M170.5 479v5M172.5 479v5M174.5 479v5M175.5 465v5M177.5 465v5M180.5 479v5M186.5 479v5M194.5 479v5M199.5 465v5M201.5 465v5M202.5 465v5M208.5 470v4M211.5 479v5M215.5 465v5M219.5 465v5M225.5 479v5M226.5 465v5M229.5 465v5M230.5 465v5M232.5 479v5M233.5 465v5M276.5 474v5M283.5 474v5M287.5 465v5M289.5 465v5M290.5 465v5M291.5 479v5M293.5 465v5M295.5 474v5M297.5 479v5M299.5 479v5M301.5 479v5M308.5 465v5M309.5 465v5M314.5 474v5M315.5 474v5M320.5 479v5M323.5 479v5M329.5 465v5M330.5 470v9M332.5 470v4M334.5 474v5M336.5 470v4M338.5 470v9M340.5 465v5M342.5 474v5M343.5 465v5M345.5 470v4M346.5 479v5M347.5 465v5M349.5 479v5M353.5 479v5M358.5 470v4M366.5 465v5M372.5 474v5M377.5 465v5M378.5 465v5M380.5 470v9M383.5 470v9M386.5 465v5M391.5 479v5M393.5 465v5M396.5 474v5M398.5 470v4M399.5 465v5M402.5 474v5M406.5 470v4M408.5 465v5M411.5 474v5M412.5 470v4M413.5 465v5M417.5 470v9M418.5 474v5M419.5 470v4M420.5 465v5M421.5 474v5M440.5 470v4M441.5 474v5M442.5 474v5M444.5 470v9M450.5 465v5M455.5 465v5"/>
<path stroke="#004eff" d="M94.5 479v5M99.5 479v5M110.5 465v5M117.5 470v9M120.5 465v5M121.5 479v5M124.5 479v5M127.5 465v5M128.5 465v5M131.5 479v5M142.5 479v5M145.5 479v5M150.5 465v5M152.5 465v5M153.5 470v4M154.5 465v5M156.5 470v4M159.5 470v4M160.5 470v9M161.5 470v9M168.5 470v4M169.5 465v5M171.5 465v5M179.5 479v5M193.5 479v5M196.5 465v5M198.5 474v5M203.5 479v5M208.5 474v5M209.5 474v5M210.5 465v5M214.5 465v5M217.5 470v4M221.5 479v5M223.5 479v5M228.5 465v5M230.5 470v4M231.5 465v5M279.5 474v5M280.5 474v5M283.5 470v4M294.5 474v5M295.5 470v4M300.5 479v5M310.5 465v5M312.5 479v5M315.5 470v4M316.5 470v4M320.5 465v5M324.5 479v5M326.5 479v5M327.5 465v5M331.5 470v9M332.5 474v5M334.5 470v4M335.5 470v9M336.5 474v5M339.5 470v9M344.5 470v4M348.5 465v5M350.5 479v5M352.5 479v5M355.5 465v5M359.5 470v9M360.5 470v9M364.5 474v5M365.5 465v5M371.5 465v5M372.5 470v4M373.5 470v4M374.5 465v5M375.5 470v4M384.5 465v5M385.5 470v4M390.5 479v5M392.5 479v5M396.5 470v4M397.5 465v5M399.5 474v5M402.5 470v4M403.5 470v9M407.5 465v5M408.5 474v5M411.5 470v4M423.5 474v5M424.5 465v5M426.5 465v5M429.5 479v5M430.5 465v5M431.5 479v5M432.5 465v5M435.5 470v9M437.5 470v9M439.5 474v5M442.5 470v4M443.5 470v4M451.5 465v5M452.5 465v5M453.5 465v5M455.5 470v4M456.5 470v9M460.5 465v5"/>
<path stroke="#005eff" d="M93.5 479v5M96.5 479v5M101.5 479v5M103.5 479v5M104.5 479v5M105.5 465v5M106.5 479v5M108.5 465v5M111.5 465v5M112.5 465v5M113.5 465v5M114.5 465v5M115.5 474v5M118.5 470v4M119.5 470v9M126.5 465v5M132.5 479v5M135.5 479v5M141.5 465v5M147.5 465v5M148.5 470v9M152.5 470v4M156.5 474v5M159.5 474v5M168.5 474v5M177.5 470v9M178.5 479v5M181.5 479v5M182.5 479v5M183.5 479v5M191.5 479v5M192.5 479v5M198.5 470v4M200.5 479v5M205.5 479v5M207.5 465v5M209.5 470v4M213.5 470v4M218.5 479v5M220.5 474v5M224.5 479v5M227.5 470v4M229.5 470v9M279.5 470v4M282.5 465v5M287.5 474v5M289.5 474v5M290.5 474v5M291.5 465v5M294.5 470v4M298.5 479v5M299.5 465v5M301.5 465v5M302.5 465v5M304.5 479v5M305.5 465v5M306.5 465v5M311.5 470v4M312.5 465v5M313.5 465v5M319.5 465v5M321.5 465v5M328.5 465v5M340.5 474v5M341.5 474v5M342.5 470v4M343.5 470v9M344.5 474v5M345.5 474v5M347.5 470v4M348.5 474v5M351.5 465v5M357.5 465v5M362.5 474v5M363.5 465v5M364.5 470v4M366.5 474v5M368.5 465v5M373.5 474v5M375.5 474v5M376.5 470v9M377.5 470v9M381.5 470v9M385.5 474v5M386.5 474v5M387.5 465v5M388.5 465v5M389.5 479v5M394.5 465v5M397.5 470v4M399.5 470v4M401.5 470v9M408.5 470v4M420.5 470v4M422.5 470v4M423.5 470v4M427.5 465v5M433.5 465v5M434.5 470v4M436.5 470v4M438.5 470v4M439.5 470v4M443.5 474v5M454.5 465v5M455.5 474v5M457.5 474v5M458.5 470v9M460.5 470v9"/>
<path stroke="#006eff" d="M92.5 465v5M95.5 479v5M107.5 479v5M109.5 465v5M110.5 470v4M115.5 470v4M118.5 474v5M120.5 470v4M121.5 465v5M122.5 470v9M125.5 465v5M129.5 465v5M130.5 479v5M137.5 479v5M138.5 479v5M139.5 465v5M142.5 465v5M145.5 465v5M146.5 465v5M149.5 470v9M151.5 470v9M153.5 474v5M155.5 470v4M157.5 470v9M158.5 470v4M170.5 465v5M172.5 465v5M174.5 465v5M175.5 474v5M176.5 470v9M184.5 479v5M185.5 479v5M194.5 465v5M201.5 470v4M206.5 479v5M210.5 474v5M212.5 465v5M213.5 474v5M215.5 470v9M216.5 465v5M217.5 474v5M219.5 470v9M220.5 470v4M222.5 465v5M225.5 465v5M226.5 474v5M227.5 474v5M228.5 474v5M230.5 474v5M231.5 470v9M233.5 470v9M235.5 465v5M282.5 474v5M287.5 470v4M290.5 470v4M291.5 470v4M292.5 465v5M296.5 465v5M300.5 465v5M303.5 479v5M308.5 470v9M309.5 474v5M310.5 474v5M316.5 474v5M318.5 470v9M322.5 479v5M323.5 465v5M325.5 479v5M327.5 470v4M329.5 470v4M340.5 470v4M341.5 470v4M346.5 465v5M347.5 474v5M348.5 470v4M349.5 465v5M353.5 465v5M354.5 465v5M361.5 465v5M362.5 470v4M367.5 470v4M369.5 465v5M374.5 470v9M378.5 470v9M384.5 474v5M386.5 470v4M395.5 470v4M404.5 474v5M405.5 470v9M407.5 470v9M413.5 470v4M420.5 474v5M422.5 474v5M424.5 470v9M425.5 465v5M426.5 470v9M428.5 465v5M431.5 465v5M434.5 474v5M438.5 474v5M450.5 470v9M451.5 474v5M453.5 470v9M457.5 470v4M459.5 470v4"/>
<path stroke="#0082ff" d="M94.5 465v5M100.5 465v5M103.5 465v5M108.5 470v4M112.5 470v4M116.5 470v4M120.5 474v5M124.5 465v5M126.5 470v4M128.5 474v5M133.5 479v5M134.5 479v5M136.5 479v5M140.5 465v5M141.5 470v4M144.5 465v5M147.5 470v9M152.5 474v5M154.5 474v5M155.5 474v5M186.5 465v5M187.5 479v5M199.5 470v9M204.5 465v5M207.5 474v5M210.5 470v4M211.5 465v5M212.5 470v4M214.5 470v4M216.5 470v4M226.5 470v4M228.5 470v4M232.5 465v5M234.5 465v5M235.5 474v5M282.5 470v4M289.5 470v4M297.5 465v5M309.5 470v4M311.5 474v5M312.5 474v5M320.5 474v5M326.5 465v5M346.5 474v5M351.5 474v5M355.5 470v9M357.5 470v4M361.5 470v4M365.5 470v4M366.5 470v4M367.5 474v5M368.5 474v5M370.5 465v5M371.5 470v9M384.5 470v4M387.5 474v5M389.5 465v5M391.5 465v5M392.5 465v5M393.5 470v9M395.5 474v5M404.5 470v4M413.5 474v5M425.5 474v5M429.5 465v5M430.5 470v4M433.5 474v5M436.5 474v5M451.5 470v4M452.5 470v9M459.5 474v5"/>
<path stroke="#0096ff" d="M93.5 465v5M95.5 465v5M101.5 465v5M102.5 465v9M104.5 465v5M108.5 474v5M109.5 474v5M110.5 474v5M111.5 470v9M112.5 474v5M123.5 465v5M128.5 470v4M129.5 470v9M143.5 465v5M150.5 474v5M169.5 470v4M170.5 474v5M171.5 470v4M172.5 474v5M173.5 465v5M174.5 470v4M175.5 470v4M178.5 465v5M180.5 465v5M181.5 465v5M183.5 465v5M189.5 479v5M190.5 479v5M191.5 465v5M192.5 465v5M195.5 465v5M195.5 474v5M196.5 470v9M201.5 474v5M203.5 465v5M205.5 465v5M214.5 474v5M218.5 465v5M221.5 465v5M223.5 465v5M235.5 470v4M291.5 474v5M293.5 470v9M296.5 474v5M298.5 465v5M302.5 470v9M305.5 474v5M306.5 470v4M307.5 470v9M310.5 470v4M319.5 474v5M320.5 470v4M321.5 470v9M323.5 470v4M324.5 465v5M325.5 465v5M327.5 474v5M328.5 470v9M329.5 474v5M346.5 470v4M350.5 465v5M351.5 470v4M354.5 470v9M361.5 474v5M388.5 474v5M390.5 465v5M394.5 474v5M397.5 474v5M427.5 474v5M428.5 470v4M432.5 470v4M433.5 470v4M454.5 470v4"/>
<path stroke="#00aaff" d="M96.5 465v5M99.5 465v5M100.5 470v4M102.5 474v5M105.5 470v9M107.5 465v5M109.5 470v4M114.5 470v4M116.5 474v5M125.5 470v9M126.5 474v5M127.5 470v9M131.5 465v5M135.5 465v5M139.5 470v9M141.5 474v5M142.5 470v9M145.5 474v5M146.5 474v5M150.5 470v4M154.5 470v4M169.5 474v5M170.5 470v4M171.5 474v5M174.5 474v5M179.5 465v5M180.5 470v4M193.5 465v5M200.5 465v5M202.5 470v9M204.5 474v5M206.5 465v5M207.5 470v4M211.5 470v4M212.5 474v5M222.5 470v9M224.5 465v5M225.5 474v5M292.5 470v4M305.5 470v4M306.5 474v5M312.5 470v4M313.5 470v9M319.5 470v4M323.5 474v5M352.5 465v5M357.5 474v5M363.5 474v5M365.5 474v5M369.5 470v4M370.5 474v5M388.5 470v4M394.5 470v4M427.5 470v4M428.5 474v5M430.5 474v5M454.5 474v5"/>
<path stroke="#00beff" d="M92.5 470v4M94.5 474v5M100.5 474v5M106.5 465v5M113.5 470v9M114.5 474v5M121.5 470v9M124.5 470v4M133.5 465v5M136.5 465v5M137.5 465v5M138.5 465v5M143.5 470v4M144.5 474v5M172.5 470v4M180.5 474v5M182.5 465v5M184.5 465v5M188.5 479v5M195.5 470v4M204.5 470v4M216.5 474v5M225.5 470v4M232.5 470v4M234.5 470v9M292.5 474v5M296.5 470v4M299.5 470v9M300.5 470v4M301.5 470v9M303.5 465v5M304.5 465v5M322.5 465v5M326.5 474v5M349.5 470v9M363.5 470v4M368.5 470v4M369.5 474v5M387.5 470v4M391.5 470v4M392.5 474v5M425.5 470v4M429.5 470v9M431.5 470v9M432.5 474v5"/>
<path stroke="#00d2ff" d="M93.5 470v4M94.5 470v4M104.5 474v5M123.5 474v5M130.5 465v5M132.5 465v5M140.5 470v4M143.5 474v5M144.5 470v4M145.5 470v4M146.5 470v4M181.5 470v9M185.5 465v5M187.5 465v5M189.5 465v5M192.5 470v9M194.5 470v4M211.5 474v5M221.5 470v4M297.5 474v5M300.5 474v5M325.5 474v5M326.5 470v4M352.5 470v4M353.5 470v9M370.5 470v4M390.5 470v4M391.5 474v5M392.5 470v4"/>
<path stroke="#00e8f8" d="M92.5 474v5M93.5 474v5M99.5 470v9M101.5 474v5M103.5 470v9M104.5 470v4M123.5 470v4M124.5 474v5M131.5 474v5M134.5 465v5M140.5 474v5M179.5 470v9M186.5 470v4M190.5 465v5M191.5 474v5M193.5 474v5M200.5 474v5M203.5 474v5M221.5 474v5M223.5 470v9M232.5 474v5M297.5 470v4M298.5 474v5M324.5 470v9M325.5 470v4M350.5 470v4M389.5 470v4M390.5 474v5"/>
<path stroke="#00fff0" d="M95.5 470v4M96.5 474v5M106.5 474v5M131.5 470v4M138.5 470v9M173.5 470v9M178.5 470v4M182.5 470v4M184.5 470v9M186.5 474v5M188.5 465v5M193.5 470v4M194.5 474v5M200.5 470v4M205.5 470v9M206.5 470v9M218.5 474v5M298.5 470v4M304.5 474v5M322.5 470v4M350.5 474v5M352.5 474v5M389.5 474v5"/>
<path stroke="#00ffd6" d="M95.5 474v5M96.5 470v4M101.5 470v4M106.5 470v4M107.5 470v9M130.5 474v5M133.5 470v4M135.5 470v9M183.5 470v9M185.5 470v4M191.5 470v4M203.5 470v4M218.5 470v4M224.5 470v9M303.5 470v4M304.5 470v4M322.5 474v5"/>
<path stroke="#00ffbc" d="M130.5 470v4M132.5 470v9M133.5 474v5M137.5 470v9M178.5 474v5M182.5 474v5M185.5 474v5M189.5 470v4M190.5 470v4M303.5 474v5"/>
<path stroke="#00ffa4" d="M134.5 470v9M136.5 470v9M187.5 470v9M189.5 474v5"/>
<path stroke="#00ff78" d="M188.5 474v5M190.5 474v5"/>
<path stroke="#00ff64" d="M188.5 470v4"/></g>
<path d="M98 422h1v83h-1zM461 422h1v83h-1z" fill="#fff"/>
<rect x="92" y="506" width="428" height="83" fill="#000"/>
<g stroke-width="1" fill="none"><path stroke="#0a0012" d="M96.5 506v9M96.5 520v5M96.5 539v5M96.5 573v16M100.5 520v5M100.5 530v4M100.5 582v5M101.5 510v5M101.5 520v14M101.5 582v5M102.5 520v5M102.5 530v4M102.5 578v4M104.5 515v10M104.5 582v5M106.5 510v5M106.5 520v14M106.5 573v16M107.5 506v28M107.5 539v5M107.5 573v16M108.5 510v5M108.5 525v14M108.5 573v5M111.5 506v38M111.5 573v16M112.5 506v14M112.5 525v9M112.5 573v16M114.5 506v43M114.5 573v16M116.5 506v4M116.5 515v15M116.5 573v9M116.5 587v2M118.5 506v9M118.5 520v14M118.5 573v5M118.5 582v5M119.5 510v15M119.5 530v4M119.5 573v14M122.5 506v38M122.5 573v16M123.5 506v33M123.5 573v16M124.5 510v5M124.5 520v19M124.5 573v14M127.5 506v43M127.5 573v16M134.5 520v5M135.5 506v43M135.5 573v16M144.5 520v5M146.5 510v10M146.5 530v4M146.5 573v9M151.5 506v38M151.5 573v16M152.5 525v9M152.5 573v5M153.5 587v2M155.5 510v20M155.5 573v16M156.5 573v5M158.5 506v38M158.5 573v16M162.5 506v33M162.5 573v16M163.5 510v5M163.5 520v10M163.5 573v5M163.5 587v2M166.5 510v5M166.5 578v9M168.5 515v5M168.5 587v2M170.5 506v43M170.5 573v16M171.5 520v5M174.5 506v24M174.5 534v5M174.5 582v5M175.5 530v4M176.5 510v29M176.5 587v2M178.5 515v5M178.5 530v4M178.5 573v14M185.5 510v5M185.5 530v4M185.5 573v16M186.5 506v33M186.5 544v5M186.5 573v16M188.5 510v15M188.5 578v11M190.5 510v34M190.5 573v16M192.5 506v38M192.5 573v16M193.5 510v5M193.5 534v5M193.5 573v9M194.5 506v38M194.5 573v14M195.5 515v5M198.5 506v38M198.5 573v16M201.5 506v24M201.5 534v10M201.5 573v16M203.5 510v5M203.5 520v14M203.5 539v5M203.5 573v16M204.5 506v43M204.5 573v16M206.5 506v38M206.5 573v16M208.5 510v10M208.5 530v4M208.5 573v9M214.5 573v5M217.5 510v5M217.5 534v5M220.5 506v43M220.5 573v16M223.5 506v24M223.5 534v15M223.5 578v11M224.5 530v4M227.5 510v15M227.5 530v9M227.5 573v5M227.5 587v2M228.5 510v5M228.5 573v5M228.5 587v2M230.5 506v43M230.5 573v16M231.5 510v5M231.5 573v5M233.5 520v5M233.5 587v2M234.5 510v15M234.5 530v4M234.5 573v16M235.5 530v9M235.5 573v5M235.5 587v2M237.5 573v5M238.5 510v5M238.5 520v5M238.5 530v4M238.5 573v5M238.5 582v5M240.5 510v24M240.5 573v16M241.5 510v20M241.5 573v14M245.5 506v38M245.5 573v16M249.5 510v10M249.5 587v2M251.5 578v4M252.5 506v43M252.5 573v14M254.5 506v19M254.5 573v16M255.5 587v2M257.5 506v43M257.5 573v16M260.5 520v5M260.5 578v4M261.5 515v5M261.5 578v4M262.5 506v43M262.5 573v16M266.5 506v28M266.5 539v10M266.5 573v16M271.5 506v19M271.5 573v16M273.5 506v14M273.5 525v5M273.5 534v5M273.5 573v16M274.5 515v5M274.5 525v9M274.5 573v9M278.5 510v5M278.5 587v2M279.5 510v34M279.5 573v16M281.5 506v43M281.5 573v16M283.5 506v43M283.5 573v16M284.5 506v33M284.5 573v16M285.5 506v33M285.5 573v16M286.5 506v33M286.5 573v16M290.5 506v43M290.5 573v16M291.5 510v15M291.5 530v9M291.5 573v16M297.5 506v9M297.5 520v19M297.5 573v16M299.5 506v14M299.5 525v5M299.5 573v16M303.5 506v43M303.5 573v16M304.5 506v43M304.5 578v11M305.5 506v19M305.5 530v4M305.5 573v16M306.5 510v24M306.5 573v16M307.5 506v38M307.5 573v16M308.5 515v5M308.5 578v4M309.5 506v38M309.5 573v16M311.5 520v10M311.5 573v5M311.5 582v5M314.5 506v43M314.5 573v16M317.5 515v19M317.5 573v16M318.5 510v10M318.5 525v5M318.5 578v9M319.5 506v28M319.5 573v16M320.5 506v14M320.5 525v19M320.5 573v9M320.5 587v2M322.5 510v5M322.5 578v9M323.5 520v10M323.5 573v5M325.5 506v28M325.5 573v14M326.5 510v24M326.5 539v5M326.5 573v16M327.5 510v10M327.5 525v14M327.5 573v5M328.5 525v9M328.5 573v5M329.5 510v29M329.5 573v16M330.5 525v5M330.5 587v2M331.5 506v43M331.5 573v16M332.5 510v5M332.5 520v5M332.5 573v5M334.5 510v29M334.5 573v16M337.5 506v43M337.5 573v16M338.5 506v9M338.5 520v19M338.5 573v16M339.5 506v38M339.5 573v16M341.5 530v4M342.5 506v43M342.5 573v16M343.5 582v5M345.5 506v33M345.5 573v16M346.5 573v5M347.5 515v5M347.5 525v5M347.5 534v10M347.5 573v16M348.5 510v5M348.5 578v9M350.5 510v5M350.5 530v4M350.5 573v5M350.5 582v5M352.5 573v5M356.5 520v5M356.5 530v4M356.5 573v9M356.5 587v2M357.5 506v33M357.5 573v16M359.5 515v10M359.5 573v14M361.5 515v10M361.5 530v9M361.5 573v16M367.5 510v20M367.5 573v16M368.5 525v9M373.5 510v29M373.5 573v9M373.5 587v2M375.5 525v5M375.5 534v5M375.5 573v9M375.5 587v2M378.5 510v5M378.5 530v4M378.5 573v5M379.5 510v5M379.5 520v5M379.5 534v5M379.5 573v5M379.5 582v7M380.5 525v9M382.5 510v10M382.5 525v9M382.5 573v9M382.5 587v2M386.5 506v43M386.5 568v21M389.5 506v9M389.5 525v5M389.5 573v16M390.5 506v38M390.5 573v16M393.5 506v43M393.5 573v16M394.5 573v9M395.5 510v15M395.5 534v5M395.5 573v5M396.5 506v33M396.5 573v16M397.5 520v5M400.5 506v28M400.5 544v5M400.5 573v16M401.5 525v5M403.5 510v5M403.5 520v10M403.5 539v5M403.5 573v14M405.5 515v10M405.5 578v9M408.5 515v5M408.5 582v7M409.5 525v5M409.5 578v4M416.5 573v5M418.5 510v5M418.5 520v5M418.5 530v4M418.5 573v16M431.5 510v10M431.5 525v5M431.5 573v14M434.5 515v19M434.5 578v11M437.5 506v43M437.5 573v14M442.5 506v33M442.5 573v16M445.5 506v19M445.5 530v4M445.5 573v16M446.5 506v4M446.5 515v10M446.5 530v4M446.5 582v5M447.5 582v5M454.5 515v5M454.5 534v5M454.5 573v5M454.5 582v7M456.5 525v5M456.5 587v2M457.5 506v33M457.5 573v16M458.5 515v5"/>
<path stroke="#140024" d="M92.5 515v5M94.5 506v33M94.5 573v16M96.5 515v5M96.5 525v14M100.5 506v14M100.5 525v5M100.5 534v5M100.5 544v5M100.5 573v9M100.5 587v2M101.5 506v4M101.5 515v5M101.5 534v5M101.5 573v9M101.5 587v2M102.5 506v14M102.5 525v5M102.5 544v5M102.5 573v5M102.5 582v7M103.5 520v5M103.5 530v4M104.5 510v5M104.5 525v19M104.5 573v9M104.5 587v2M105.5 515v5M105.5 525v5M105.5 573v5M105.5 582v7M106.5 506v4M106.5 515v5M106.5 534v10M106.5 568v5M107.5 568v5M108.5 506v4M108.5 515v10M108.5 539v5M108.5 568v5M108.5 578v11M109.5 506v9M109.5 520v14M109.5 573v16M110.5 510v10M110.5 573v5M111.5 544v5M111.5 568v5M112.5 520v5M112.5 534v10M114.5 568v5M115.5 525v14M115.5 578v11M116.5 510v5M116.5 530v14M116.5 568v5M116.5 582v5M117.5 510v5M117.5 520v5M117.5 530v9M117.5 578v9M118.5 515v5M118.5 534v15M118.5 578v4M118.5 587v2M119.5 506v4M119.5 525v5M119.5 534v15M119.5 587v2M120.5 510v24M120.5 539v5M120.5 568v21M121.5 587v2M122.5 544v5M123.5 539v10M124.5 506v4M124.5 515v5M124.5 539v10M124.5 587v2M126.5 510v5M126.5 520v5M126.5 568v10M126.5 582v7M129.5 515v10M129.5 568v5M132.5 520v14M132.5 573v5M132.5 582v5M134.5 506v14M134.5 525v19M134.5 568v21M136.5 515v5M136.5 525v5M139.5 530v4M141.5 573v5M142.5 506v28M142.5 573v16M143.5 515v5M143.5 578v4M144.5 506v14M144.5 525v14M144.5 573v16M145.5 506v4M145.5 515v15M145.5 582v5M146.5 506v4M146.5 520v10M146.5 534v5M146.5 568v5M146.5 582v7M147.5 530v4M147.5 582v7M148.5 510v5M148.5 582v5M149.5 530v4M149.5 578v4M150.5 530v4M150.5 582v5M152.5 510v15M152.5 534v5M152.5 578v11M153.5 510v29M153.5 573v14M154.5 530v4M154.5 573v9M155.5 506v4M155.5 530v4M155.5 568v5M156.5 510v29M156.5 578v9M157.5 530v4M157.5 573v5M157.5 582v7M158.5 544v5M158.5 568v5M160.5 573v9M161.5 520v10M161.5 573v5M162.5 539v10M163.5 506v4M163.5 515v5M163.5 530v19M163.5 578v9M164.5 515v5M166.5 506v4M166.5 515v29M166.5 573v5M166.5 587v2M167.5 520v5M167.5 573v5M168.5 506v9M168.5 520v24M168.5 573v14M169.5 520v5M169.5 530v4M169.5 573v5M171.5 506v14M171.5 525v19M171.5 573v16M172.5 515v10M172.5 530v9M172.5 573v9M173.5 510v5M173.5 578v11M174.5 530v4M174.5 539v10M174.5 568v14M174.5 587v2M175.5 506v24M175.5 573v16M176.5 506v4M176.5 539v10M176.5 568v19M177.5 506v9M177.5 525v14M177.5 573v9M178.5 506v9M178.5 520v10M178.5 534v15M178.5 587v2M179.5 510v10M179.5 525v5M179.5 573v5M179.5 582v7M180.5 515v5M180.5 530v4M180.5 578v4M184.5 525v5M184.5 573v5M185.5 506v4M185.5 515v15M185.5 534v15M186.5 539v5M188.5 506v4M188.5 525v24M188.5 573v5M189.5 520v5M190.5 506v4M190.5 544v5M191.5 506v4M191.5 515v15M191.5 578v4M192.5 544v5M193.5 506v4M193.5 515v19M193.5 539v10M193.5 582v7M194.5 544v5M194.5 587v2M195.5 506v9M195.5 520v19M195.5 568v21M196.5 573v5M197.5 573v5M198.5 544v5M199.5 573v5M199.5 587v2M202.5 520v10M202.5 568v14M203.5 506v4M203.5 515v5M203.5 534v5M203.5 544v5M203.5 568v5M204.5 568v5M205.5 510v5M205.5 587v2M206.5 568v5M207.5 506v9M207.5 520v19M207.5 578v4M208.5 506v4M208.5 520v10M208.5 534v10M208.5 582v7M209.5 506v9M209.5 539v5M209.5 568v21M210.5 510v5M210.5 578v4M211.5 506v4M211.5 520v5M211.5 530v4M211.5 573v9M211.5 587v2M212.5 510v5M212.5 587v2M213.5 510v29M213.5 573v14M214.5 506v33M214.5 544v5M214.5 578v11M215.5 520v5M215.5 578v4M215.5 587v2M217.5 506v4M217.5 515v19M217.5 539v5M217.5 573v16M218.5 510v5M218.5 520v14M218.5 573v14M219.5 515v5M219.5 525v14M219.5 573v9M220.5 568v5M224.5 506v24M224.5 534v5M224.5 568v21M225.5 520v5M225.5 530v9M225.5 573v14M226.5 510v5M227.5 506v4M227.5 525v5M227.5 539v10M227.5 578v9M228.5 506v4M228.5 515v29M228.5 568v5M228.5 578v9M231.5 515v24M231.5 578v11M232.5 510v5M232.5 525v9M232.5 578v11M233.5 506v14M233.5 525v14M233.5 573v14M234.5 506v4M234.5 525v5M235.5 506v24M235.5 539v5M235.5 578v9M236.5 578v11M237.5 515v10M237.5 530v9M237.5 578v11M238.5 506v4M238.5 515v5M238.5 525v5M238.5 534v5M238.5 578v4M238.5 587v2M239.5 530v4M239.5 582v5M240.5 506v4M240.5 534v10M241.5 506v4M241.5 530v9M241.5 587v2M244.5 515v10M244.5 534v5M244.5 578v4M245.5 544v5M245.5 568v5M246.5 510v10M246.5 525v5M246.5 534v5M246.5 573v16M247.5 582v5M248.5 506v4M248.5 515v5M248.5 525v14M248.5 582v7M249.5 506v4M249.5 520v24M249.5 573v14M250.5 506v9M250.5 520v5M250.5 530v9M250.5 573v9M250.5 587v2M251.5 506v33M251.5 573v5M251.5 582v7M254.5 525v24M255.5 510v15M255.5 530v9M255.5 573v14M256.5 530v4M256.5 573v5M256.5 582v5M257.5 568v5M258.5 506v14M258.5 525v14M258.5 573v9M258.5 587v2M259.5 510v10M259.5 530v4M259.5 573v16M260.5 510v10M260.5 525v14M260.5 573v5M260.5 582v5M261.5 506v9M261.5 520v24M261.5 573v5M261.5 582v7M262.5 568v5M263.5 525v9M264.5 573v5M265.5 515v10M265.5 530v9M265.5 573v14M266.5 534v5M267.5 520v5M267.5 530v4M267.5 573v5M267.5 582v5M270.5 582v7M271.5 530v4M271.5 568v5M272.5 510v5M272.5 534v5M272.5 578v9M273.5 520v5M273.5 530v4M273.5 568v5M274.5 506v9M274.5 520v5M274.5 534v15M274.5 568v5M274.5 582v7M275.5 510v5M275.5 525v9M275.5 578v9M276.5 506v33M276.5 568v21M277.5 520v5M278.5 515v29M278.5 573v14M279.5 506v4M279.5 544v5M279.5 568v5M280.5 510v10M280.5 578v4M282.5 510v5M282.5 525v9M282.5 573v9M283.5 568v5M284.5 539v5M285.5 539v10M285.5 568v5M286.5 539v10M287.5 530v9M287.5 578v11M288.5 520v5M288.5 534v10M288.5 568v5M288.5 578v9M290.5 568v5M291.5 506v4M291.5 525v5M291.5 539v5M294.5 506v4M294.5 525v14M294.5 573v9M296.5 525v9M297.5 515v5M298.5 573v9M299.5 520v5M299.5 568v5M300.5 510v5M300.5 573v9M302.5 515v15M302.5 573v16M304.5 568v5M305.5 525v5M305.5 534v5M306.5 506v4M306.5 534v15M307.5 544v5M307.5 568v5M308.5 506v9M308.5 520v10M308.5 573v5M308.5 582v7M311.5 510v10M311.5 530v14M311.5 578v4M311.5 587v2M317.5 506v9M317.5 534v15M318.5 506v4M318.5 520v5M318.5 530v19M318.5 573v5M318.5 587v2M319.5 534v15M320.5 520v5M320.5 568v5M320.5 582v5M321.5 515v10M321.5 573v5M322.5 506v4M322.5 515v24M322.5 568v10M322.5 587v2M323.5 506v14M323.5 530v19M323.5 578v11M324.5 515v5M324.5 525v5M325.5 534v5M325.5 568v5M325.5 587v2M326.5 506v4M326.5 534v5M326.5 544v5M327.5 506v4M327.5 520v5M327.5 539v10M327.5 578v11M328.5 506v19M328.5 534v10M328.5 578v11M329.5 506v4M329.5 539v10M329.5 568v5M330.5 510v15M330.5 530v4M330.5 573v14M332.5 506v4M332.5 515v5M332.5 525v14M332.5 578v11M333.5 510v10M333.5 568v5M333.5 578v4M333.5 587v2M334.5 506v4M334.5 539v10M335.5 515v5M335.5 573v9M336.5 525v9M336.5 573v5M336.5 582v7M338.5 515v5M338.5 539v10M339.5 544v5M341.5 506v24M341.5 534v10M341.5 573v16M343.5 510v20M343.5 568v14M343.5 587v2M344.5 530v4M344.5 573v5M345.5 539v10M345.5 568v5M346.5 510v24M346.5 539v5M346.5 568v5M346.5 578v11M347.5 506v9M347.5 520v5M347.5 530v4M348.5 506v4M348.5 515v10M348.5 530v4M348.5 573v5M348.5 587v2M349.5 510v20M349.5 573v14M350.5 506v4M350.5 515v15M350.5 578v4M350.5 587v2M352.5 510v29M352.5 578v11M353.5 520v19M353.5 573v5M353.5 582v7M354.5 510v5M355.5 515v5M355.5 530v4M355.5 573v16M356.5 506v14M356.5 525v5M356.5 534v5M356.5 582v5M357.5 539v10M359.5 506v9M359.5 525v19M359.5 587v2M360.5 573v9M361.5 506v9M361.5 525v5M361.5 539v5M362.5 520v5M362.5 573v5M363.5 515v24M363.5 568v14M365.5 578v4M366.5 573v5M367.5 506v4M367.5 530v19M368.5 510v15M368.5 534v5M368.5 573v16M369.5 515v24M369.5 582v7M370.5 506v19M370.5 530v4M370.5 568v21M373.5 506v4M373.5 539v10M373.5 582v5M374.5 520v5M375.5 506v19M375.5 530v4M375.5 539v5M375.5 582v5M377.5 506v19M377.5 573v16M378.5 506v4M378.5 515v15M378.5 534v5M378.5 544v5M378.5 568v5M378.5 578v11M379.5 506v4M379.5 515v5M379.5 525v9M379.5 539v5M379.5 578v4M380.5 506v19M380.5 539v5M380.5 573v16M381.5 573v5M381.5 582v5M382.5 506v4M382.5 520v5M382.5 534v10M382.5 568v5M382.5 582v5M383.5 578v4M385.5 573v5M387.5 506v14M387.5 525v14M387.5 573v16M388.5 578v4M389.5 520v5M389.5 530v4M389.5 568v5M390.5 544v5M390.5 568v5M391.5 506v4M391.5 520v5M391.5 573v9M391.5 587v2M392.5 515v5M392.5 525v9M392.5 573v9M394.5 506v38M394.5 582v7M395.5 506v4M395.5 525v9M395.5 539v5M395.5 568v5M395.5 578v11M396.5 539v10M397.5 510v10M397.5 525v14M397.5 568v21M398.5 582v7M400.5 534v10M401.5 506v19M401.5 530v14M401.5 573v16M402.5 506v4M402.5 520v14M402.5 573v5M402.5 587v2M403.5 506v4M403.5 515v5M403.5 530v9M403.5 587v2M405.5 506v9M405.5 525v5M405.5 573v5M405.5 587v2M406.5 578v9M408.5 506v9M408.5 520v10M408.5 534v5M408.5 573v9M409.5 506v19M409.5 530v9M409.5 573v5M409.5 582v7M410.5 506v38M410.5 573v16M413.5 578v4M414.5 510v5M414.5 520v5M414.5 534v5M414.5 578v11M415.5 510v5M415.5 520v5M415.5 530v4M415.5 573v16M416.5 506v4M416.5 515v15M416.5 534v10M416.5 578v11M417.5 506v33M417.5 544v5M417.5 568v21M418.5 506v4M418.5 515v5M418.5 525v5M418.5 534v10M418.5 568v5M420.5 510v5M420.5 525v5M420.5 573v16M421.5 506v33M421.5 573v16M424.5 510v20M424.5 573v14M426.5 520v10M428.5 510v5M428.5 525v9M428.5 573v5M429.5 510v10M430.5 573v5M430.5 582v7M431.5 506v4M431.5 520v5M431.5 530v19M431.5 587v2M432.5 573v5M434.5 506v9M434.5 534v15M434.5 568v10M435.5 573v5M436.5 515v5M436.5 573v5M436.5 582v5M439.5 515v5M439.5 578v4M440.5 530v4M440.5 568v10M440.5 582v5M441.5 510v10M441.5 525v14M441.5 568v21M444.5 573v5M445.5 525v5M445.5 534v15M446.5 510v5M446.5 525v5M446.5 534v5M446.5 568v14M446.5 587v2M447.5 506v33M447.5 573v9M447.5 587v2M448.5 578v4M449.5 515v5M449.5 530v4M449.5 578v4M449.5 587v2M450.5 510v10M450.5 573v5M450.5 582v5M454.5 506v9M454.5 520v14M454.5 539v5M454.5 578v4M455.5 578v4M456.5 506v19M456.5 530v19M456.5 573v14M457.5 539v10M458.5 510v5M458.5 520v19M458.5 573v16M459.5 510v5M459.5 582v5M460.5 506v4M460.5 515v15M460.5 573v9M460.5 587v2M494.5 544v5M501.5 549v5M502.5 554v4M506.5 554v4M508.5 549v5"/>
<path stroke="#1e0037" d="M92.5 525v5M92.5 578v11M93.5 520v5M93.5 530v9M93.5 587v2M94.5 539v5M95.5 510v5M95.5 520v14M95.5 578v11M96.5 544v5M99.5 506v9M99.5 587v2M100.5 539v5M101.5 568v5M102.5 534v10M102.5 568v5M103.5 506v9M103.5 534v5M103.5 568v10M103.5 587v2M104.5 506v4M104.5 544v5M105.5 510v5M105.5 520v5M105.5 530v4M105.5 578v4M107.5 534v5M108.5 544v5M109.5 515v5M109.5 534v5M110.5 506v4M110.5 530v4M110.5 539v5M110.5 568v5M110.5 578v11M112.5 544v5M113.5 525v5M113.5 578v4M115.5 506v19M115.5 568v10M116.5 544v5M117.5 506v4M117.5 515v5M117.5 525v5M117.5 539v10M117.5 573v5M117.5 587v2M119.5 568v5M120.5 506v4M120.5 534v5M121.5 506v4M121.5 515v5M121.5 525v5M121.5 534v5M121.5 573v14M122.5 568v5M123.5 568v5M124.5 568v5M125.5 578v4M126.5 515v5M126.5 525v14M126.5 578v4M127.5 568v5M128.5 573v5M128.5 582v5M129.5 506v4M129.5 525v9M129.5 573v16M130.5 525v9M130.5 573v9M130.5 587v2M131.5 510v5M131.5 520v14M131.5 578v4M132.5 506v14M132.5 578v4M132.5 587v2M133.5 506v14M133.5 525v14M133.5 578v9M134.5 544v5M135.5 568v5M136.5 510v5M136.5 520v5M136.5 530v9M136.5 573v9M136.5 587v2M137.5 525v5M137.5 573v14M138.5 525v5M138.5 573v5M139.5 506v9M139.5 520v10M139.5 568v21M140.5 510v5M140.5 520v5M140.5 530v9M140.5 582v7M141.5 510v5M141.5 520v5M141.5 530v4M141.5 578v4M142.5 534v10M142.5 568v5M143.5 530v4M143.5 582v7M144.5 539v5M145.5 510v5M145.5 534v10M145.5 573v9M145.5 587v2M146.5 539v10M147.5 506v14M147.5 525v5M147.5 534v15M147.5 568v14M148.5 515v10M148.5 530v4M148.5 568v14M148.5 587v2M149.5 506v24M149.5 568v10M149.5 582v7M150.5 506v24M150.5 534v10M150.5 573v9M150.5 587v2M151.5 568v5M152.5 506v4M152.5 539v5M152.5 568v5M153.5 506v4M153.5 539v5M153.5 568v5M154.5 510v15M154.5 582v7M155.5 534v5M156.5 539v10M156.5 568v5M156.5 587v2M157.5 506v24M157.5 534v5M157.5 578v4M159.5 510v15M159.5 587v2M160.5 506v4M160.5 515v10M160.5 530v9M160.5 582v7M161.5 510v10M161.5 530v4M161.5 539v5M161.5 578v11M162.5 568v5M164.5 520v10M164.5 534v5M165.5 525v14M165.5 578v4M165.5 587v2M166.5 544v5M166.5 568v5M167.5 506v14M167.5 525v14M167.5 578v11M168.5 544v5M169.5 506v14M169.5 525v5M169.5 539v10M169.5 568v5M169.5 578v11M171.5 568v5M172.5 506v9M172.5 525v5M172.5 568v5M172.5 582v7M173.5 506v4M173.5 520v19M173.5 573v5M175.5 534v15M175.5 568v5M177.5 515v10M177.5 539v5M177.5 568v5M177.5 582v7M178.5 568v5M179.5 520v5M179.5 530v9M179.5 568v5M179.5 578v4M180.5 510v5M180.5 520v10M180.5 539v5M180.5 568v10M180.5 582v7M181.5 515v15M181.5 568v14M182.5 506v4M182.5 525v5M182.5 578v11M183.5 510v5M183.5 530v4M183.5 573v16M184.5 520v5M184.5 530v9M184.5 568v5M184.5 578v11M185.5 568v5M186.5 568v5M187.5 530v4M187.5 578v4M188.5 568v5M189.5 510v10M189.5 530v4M189.5 573v9M189.5 587v2M190.5 568v5M191.5 510v5M191.5 530v9M191.5 573v5M191.5 582v7M192.5 568v5M195.5 539v10M196.5 515v19M196.5 578v4M197.5 510v29M197.5 578v11M198.5 568v5M199.5 525v5M199.5 534v5M199.5 578v9M200.5 515v5M200.5 530v4M200.5 578v9M201.5 544v5M202.5 510v10M202.5 530v14M202.5 582v7M204.5 563v5M205.5 525v9M205.5 568v19M206.5 544v5M207.5 515v5M207.5 539v10M207.5 568v10M207.5 582v7M208.5 544v5M208.5 568v5M209.5 515v24M210.5 515v29M210.5 573v5M210.5 582v7M211.5 510v10M211.5 525v5M211.5 534v10M211.5 568v5M211.5 582v5M212.5 506v4M212.5 515v5M212.5 525v9M212.5 573v14M213.5 568v5M213.5 587v2M214.5 539v5M215.5 525v5M215.5 534v5M215.5 568v5M216.5 506v24M216.5 534v5M216.5 573v14M217.5 544v5M217.5 568v5M218.5 506v4M218.5 515v5M218.5 534v5M218.5 587v2M219.5 510v5M219.5 520v5M219.5 568v5M219.5 582v7M221.5 510v5M221.5 520v5M221.5 573v5M222.5 534v5M222.5 582v5M224.5 539v5M225.5 506v14M225.5 525v5M225.5 568v5M225.5 587v2M226.5 515v5M226.5 530v4M226.5 573v16M228.5 544v5M229.5 506v4M229.5 573v14M231.5 506v4M231.5 539v10M231.5 568v5M232.5 506v4M232.5 515v10M232.5 534v5M232.5 573v5M234.5 534v5M234.5 568v5M235.5 544v5M236.5 506v19M236.5 530v4M236.5 568v10M237.5 506v9M237.5 525v5M237.5 539v5M237.5 568v5M238.5 539v10M239.5 506v14M239.5 525v5M239.5 573v9M239.5 587v2M240.5 568v5M241.5 568v5M242.5 525v5M242.5 582v7M243.5 510v5M243.5 520v5M243.5 587v2M244.5 510v5M244.5 525v9M244.5 568v10M244.5 582v7M246.5 506v4M246.5 520v5M246.5 530v4M246.5 544v5M246.5 568v5M247.5 510v5M247.5 525v5M247.5 573v9M248.5 510v5M248.5 520v5M248.5 568v14M250.5 515v5M250.5 525v5M250.5 568v5M250.5 582v5M251.5 539v10M251.5 568v5M253.5 520v5M253.5 534v5M253.5 573v5M254.5 568v5M255.5 506v4M255.5 525v5M255.5 539v10M255.5 568v5M256.5 506v24M256.5 534v15M256.5 568v5M256.5 578v4M256.5 587v2M258.5 520v5M258.5 539v5M258.5 568v5M258.5 582v5M259.5 506v4M259.5 520v10M259.5 534v5M259.5 568v5M260.5 506v4M260.5 587v2M261.5 568v5M263.5 506v9M263.5 520v5M263.5 534v5M263.5 573v14M264.5 510v5M264.5 520v5M264.5 530v4M264.5 539v5M264.5 568v5M264.5 578v11M265.5 506v9M265.5 525v5M265.5 539v5M265.5 568v5M265.5 587v2M266.5 568v5M267.5 506v4M267.5 515v5M267.5 525v5M267.5 534v5M267.5 578v4M267.5 587v2M268.5 510v5M268.5 520v10M268.5 568v14M268.5 587v2M269.5 573v14M270.5 515v15M270.5 534v5M270.5 568v14M271.5 525v5M271.5 534v5M272.5 515v19M272.5 573v5M272.5 587v2M275.5 506v4M275.5 515v10M275.5 534v5M275.5 544v5M275.5 568v10M275.5 587v2M277.5 525v14M277.5 568v21M278.5 506v4M278.5 544v5M278.5 568v5M280.5 525v14M280.5 568v10M280.5 582v7M282.5 515v10M282.5 534v10M282.5 568v5M282.5 582v7M286.5 568v5M287.5 510v20M287.5 568v10M288.5 506v14M288.5 525v9M288.5 573v5M288.5 587v2M289.5 515v5M289.5 530v4M289.5 573v16M291.5 544v5M292.5 510v5M292.5 530v4M292.5 573v5M293.5 520v14M293.5 573v16M294.5 510v15M294.5 539v10M294.5 582v7M295.5 515v5M295.5 525v5M295.5 573v14M296.5 506v9M296.5 534v5M296.5 568v21M298.5 506v14M298.5 525v9M298.5 587v2M299.5 530v4M300.5 506v4M300.5 515v19M300.5 568v5M300.5 582v7M301.5 520v5M301.5 530v4M301.5 573v9M301.5 587v2M302.5 506v9M302.5 530v9M302.5 544v5M306.5 568v5M308.5 530v9M310.5 515v5M310.5 530v9M310.5 573v16M311.5 506v4M311.5 544v5M312.5 515v15M312.5 578v4M312.5 587v2M313.5 578v9M315.5 506v9M315.5 520v5M315.5 530v9M315.5 573v16M316.5 525v5M317.5 568v5M319.5 568v5M320.5 544v5M321.5 510v5M321.5 525v9M321.5 578v11M322.5 539v5M324.5 573v5M324.5 582v7M325.5 539v5M326.5 568v5M327.5 568v5M328.5 544v5M328.5 568v5M330.5 506v4M330.5 534v10M333.5 506v4M333.5 520v19M333.5 573v5M333.5 582v5M334.5 568v5M335.5 510v5M335.5 520v5M335.5 530v9M335.5 582v7M336.5 506v19M336.5 534v5M336.5 568v5M336.5 578v4M337.5 563v10M338.5 568v5M339.5 568v5M340.5 506v4M340.5 515v5M340.5 530v9M340.5 573v9M343.5 506v4M343.5 530v9M344.5 506v9M344.5 520v10M344.5 539v5M344.5 578v9M346.5 506v4M346.5 534v5M347.5 544v5M348.5 534v5M349.5 506v4M349.5 530v14M349.5 568v5M349.5 587v2M350.5 534v5M350.5 568v5M351.5 510v10M351.5 534v5M351.5 573v9M352.5 506v4M352.5 539v5M352.5 568v5M353.5 506v14M353.5 539v10M353.5 568v5M353.5 578v4M354.5 506v4M354.5 515v29M354.5 573v16M355.5 506v9M355.5 520v10M355.5 534v5M356.5 539v5M356.5 568v5M358.5 515v5M358.5 582v7M360.5 510v29M360.5 568v5M360.5 582v7M361.5 544v5M362.5 506v9M362.5 525v14M362.5 578v11M363.5 506v9M363.5 539v10M363.5 582v7M364.5 568v5M364.5 578v4M364.5 587v2M365.5 515v10M365.5 530v4M365.5 568v5M366.5 515v5M366.5 525v14M366.5 582v7M368.5 506v4M368.5 539v10M368.5 568v5M369.5 510v5M369.5 568v14M370.5 525v5M370.5 534v5M371.5 510v15M371.5 573v9M372.5 510v5M372.5 520v5M372.5 530v4M372.5 578v4M374.5 525v9M374.5 568v5M374.5 578v9M375.5 544v5M375.5 568v5M376.5 525v9M376.5 573v9M377.5 525v14M377.5 568v5M378.5 539v5M379.5 544v5M379.5 568v5M380.5 534v5M380.5 544v5M381.5 510v5M381.5 520v5M381.5 578v4M381.5 587v2M382.5 544v5M383.5 510v24M383.5 573v5M383.5 582v7M384.5 525v5M384.5 573v5M385.5 506v9M385.5 530v9M385.5 568v5M385.5 578v11M387.5 520v5M387.5 539v5M387.5 568v5M388.5 515v5M388.5 525v5M388.5 534v5M388.5 573v5M389.5 515v5M391.5 510v10M391.5 525v14M391.5 568v5M391.5 582v5M392.5 510v5M392.5 520v5M392.5 534v5M392.5 568v5M392.5 582v7M394.5 544v5M395.5 544v5M397.5 506v4M397.5 539v10M398.5 510v5M398.5 520v10M398.5 534v5M398.5 578v4M399.5 520v14M399.5 573v14M402.5 510v10M402.5 534v5M402.5 578v9M403.5 544v5M404.5 520v5M404.5 573v14M405.5 530v9M406.5 515v5M406.5 530v9M406.5 587v2M407.5 510v5M407.5 520v10M407.5 573v9M408.5 530v4M408.5 568v5M409.5 539v10M409.5 568v5M410.5 544v5M411.5 510v10M411.5 568v10M411.5 587v2M412.5 515v5M412.5 573v5M413.5 515v5M413.5 525v14M413.5 573v5M414.5 515v5M414.5 525v9M414.5 544v5M414.5 568v10M415.5 515v5M415.5 525v5M415.5 534v5M416.5 510v5M416.5 530v4M416.5 568v5M417.5 539v5M418.5 544v5M419.5 510v5M419.5 520v10M419.5 573v14M420.5 515v10M420.5 530v19M420.5 568v5M421.5 539v5M422.5 515v5M422.5 530v9M422.5 573v16M423.5 506v4M423.5 515v5M423.5 525v5M423.5 568v21M424.5 506v4M424.5 530v14M425.5 515v5M425.5 525v5M425.5 534v5M425.5 573v9M426.5 510v10M426.5 530v19M426.5 573v16M427.5 520v5M427.5 573v5M428.5 515v10M428.5 578v11M429.5 520v19M429.5 568v10M429.5 582v7M430.5 506v9M430.5 520v5M430.5 530v4M430.5 578v4M431.5 568v5M432.5 506v9M432.5 525v5M432.5 578v4M432.5 587v2M433.5 520v19M433.5 573v5M435.5 510v15M435.5 530v4M435.5 568v5M435.5 578v4M435.5 587v2M436.5 525v5M436.5 534v10M436.5 578v4M436.5 587v2M437.5 568v5M438.5 510v5M438.5 520v5M438.5 534v5M438.5 578v11M439.5 510v5M439.5 525v14M439.5 563v5M439.5 573v5M439.5 582v5M440.5 506v24M440.5 534v5M440.5 544v5M440.5 578v4M440.5 587v2M441.5 506v4M441.5 520v5M441.5 539v10M442.5 539v5M443.5 510v10M443.5 525v5M444.5 506v14M444.5 525v9M444.5 568v5M444.5 582v5M446.5 539v10M448.5 506v28M448.5 573v5M448.5 582v7M449.5 506v9M449.5 520v10M449.5 534v10M449.5 568v10M449.5 582v5M450.5 506v4M450.5 520v19M450.5 578v4M450.5 587v2M451.5 510v5M451.5 525v9M451.5 573v5M451.5 582v7M452.5 506v19M452.5 530v4M452.5 573v16M453.5 510v10M453.5 525v5M453.5 573v14M454.5 544v5M454.5 568v5M455.5 510v24M455.5 573v5M455.5 582v5M458.5 506v4M458.5 539v10M459.5 515v24M459.5 573v9M459.5 587v2M460.5 510v5M460.5 530v9M460.5 568v5M460.5 582v5M463.5 544v5M469.5 520v5M471.5 530v4M481.5 563v5M482.5 515v5M488.5 525v5M492.5 549v5M504.5 558v5"/>
<path stroke="#28004b" d="M92.5 510v5M92.5 520v5M92.5 530v4M92.5 539v5M92.5 573v5M93.5 515v5M93.5 525v5M93.5 539v5M93.5 573v14M94.5 544v5M94.5 568v5M95.5 506v4M95.5 515v5M95.5 568v10M99.5 515v10M99.5 539v5M99.5 568v19M100.5 568v5M103.5 515v5M103.5 525v5M103.5 539v10M103.5 578v9M105.5 506v4M105.5 534v5M105.5 568v5M109.5 539v5M109.5 568v5M110.5 520v10M110.5 534v5M112.5 568v5M113.5 510v5M113.5 520v5M113.5 534v10M113.5 573v5M113.5 582v7M114.5 563v5M115.5 539v5M118.5 568v5M120.5 544v5M121.5 510v5M121.5 520v5M121.5 530v4M121.5 568v5M125.5 506v28M125.5 568v10M125.5 582v7M126.5 506v4M126.5 539v10M128.5 510v10M128.5 578v4M128.5 587v2M129.5 510v5M129.5 539v5M130.5 506v4M130.5 520v5M130.5 534v5M130.5 582v5M131.5 506v4M131.5 515v5M131.5 573v5M131.5 582v7M132.5 534v5M132.5 568v5M133.5 520v5M133.5 573v5M133.5 587v2M136.5 506v4M136.5 539v10M136.5 582v5M137.5 510v5M137.5 520v5M137.5 530v4M137.5 587v2M138.5 510v15M138.5 530v9M138.5 544v5M138.5 568v5M138.5 578v11M139.5 515v5M139.5 534v5M140.5 515v5M140.5 525v5M140.5 573v9M141.5 506v4M141.5 515v5M141.5 539v5M141.5 582v5M143.5 510v5M143.5 520v10M143.5 534v5M143.5 568v10M144.5 544v5M145.5 530v4M145.5 544v5M145.5 568v5M147.5 520v5M148.5 506v4M148.5 525v5M148.5 534v10M149.5 534v5M150.5 568v5M152.5 544v5M153.5 544v5M154.5 525v5M154.5 534v5M154.5 568v5M156.5 506v4M157.5 539v5M157.5 568v5M159.5 525v5M159.5 534v5M159.5 573v9M160.5 510v5M160.5 525v5M160.5 568v5M161.5 506v4M161.5 534v5M161.5 544v5M164.5 506v9M164.5 530v4M164.5 539v5M164.5 568v21M165.5 510v10M165.5 539v5M165.5 568v10M165.5 582v5M167.5 539v5M169.5 534v5M170.5 568v5M171.5 544v5M172.5 539v10M173.5 515v5M173.5 568v5M176.5 563v5M177.5 544v5M178.5 563v5M179.5 506v4M179.5 539v5M180.5 506v4M180.5 534v5M180.5 544v5M181.5 510v5M181.5 530v9M181.5 582v5M182.5 510v5M182.5 520v5M182.5 530v4M182.5 568v10M183.5 515v5M183.5 525v5M183.5 568v5M184.5 506v14M187.5 510v20M187.5 534v10M187.5 573v5M187.5 582v7M189.5 506v4M189.5 525v5M189.5 534v5M189.5 568v5M189.5 582v5M191.5 539v10M191.5 568v5M193.5 563v10M194.5 568v5M196.5 563v5M196.5 582v7M197.5 506v4M197.5 568v5M199.5 506v4M199.5 515v10M199.5 530v4M199.5 539v10M199.5 568v5M200.5 510v5M200.5 520v10M200.5 573v5M200.5 587v2M201.5 568v5M202.5 506v4M205.5 506v4M205.5 515v10M205.5 534v5M209.5 544v5M210.5 506v4M210.5 544v5M210.5 563v10M212.5 520v5M212.5 534v10M212.5 568v5M213.5 506v4M213.5 539v10M213.5 563v5M214.5 563v10M215.5 506v14M215.5 530v4M215.5 544v5M215.5 573v5M215.5 582v5M216.5 530v4M216.5 568v5M216.5 587v2M218.5 539v5M218.5 568v5M219.5 506v4M219.5 539v5M221.5 506v4M221.5 515v5M221.5 525v14M221.5 568v5M221.5 578v11M222.5 506v9M222.5 525v5M222.5 573v5M222.5 587v2M223.5 568v5M224.5 544v5M225.5 539v5M226.5 506v4M226.5 520v10M226.5 534v10M227.5 568v5M229.5 510v10M229.5 525v5M229.5 568v5M229.5 587v2M232.5 539v10M232.5 568v5M233.5 568v5M235.5 568v5M236.5 525v5M236.5 534v15M237.5 563v5M238.5 568v5M239.5 520v5M239.5 534v5M239.5 568v5M241.5 539v5M242.5 510v5M242.5 520v5M242.5 530v14M242.5 578v4M243.5 515v5M243.5 525v14M243.5 568v19M244.5 506v4M244.5 539v5M246.5 539v5M246.5 563v5M247.5 515v10M247.5 530v9M247.5 587v2M248.5 539v5M249.5 544v5M249.5 568v5M250.5 539v10M252.5 568v5M253.5 506v4M253.5 515v5M253.5 530v4M253.5 578v9M254.5 563v5M258.5 544v5M259.5 539v10M260.5 539v5M260.5 568v5M263.5 515v5M263.5 539v5M263.5 568v5M263.5 587v2M264.5 515v5M264.5 525v5M264.5 534v5M267.5 510v5M267.5 563v10M268.5 515v5M268.5 530v4M268.5 539v5M268.5 582v5M269.5 506v33M269.5 568v5M269.5 587v2M270.5 506v9M270.5 530v4M272.5 506v4M272.5 539v10M275.5 539v5M275.5 563v5M276.5 539v10M277.5 510v10M277.5 544v5M280.5 520v5M281.5 568v5M282.5 506v4M284.5 568v5M287.5 506v4M287.5 539v10M289.5 506v9M289.5 520v5M289.5 534v5M291.5 568v5M292.5 515v10M292.5 534v10M292.5 568v5M292.5 578v11M293.5 506v14M293.5 534v5M293.5 544v5M294.5 568v5M295.5 506v4M295.5 520v5M295.5 530v4M295.5 539v5M295.5 568v5M295.5 587v2M296.5 515v10M296.5 539v5M297.5 539v5M298.5 520v5M298.5 582v5M299.5 534v5M300.5 534v10M301.5 506v14M301.5 525v5M301.5 539v5M301.5 582v5M302.5 539v5M303.5 568v5M305.5 568v5M308.5 568v5M309.5 544v5M310.5 510v5M310.5 520v10M310.5 539v10M310.5 568v5M311.5 568v5M312.5 510v5M312.5 568v10M313.5 515v5M313.5 525v9M313.5 568v10M314.5 563v10M315.5 515v5M315.5 525v5M315.5 568v5M316.5 506v4M316.5 515v5M316.5 530v4M316.5 573v16M318.5 568v5M321.5 506v4M321.5 534v5M321.5 568v5M322.5 544v5M323.5 568v5M324.5 506v9M324.5 520v5M324.5 530v9M324.5 578v4M325.5 563v5M332.5 539v5M332.5 568v5M333.5 539v10M335.5 506v4M335.5 525v5M336.5 539v10M340.5 510v5M340.5 520v10M340.5 568v5M340.5 582v7M341.5 544v5M342.5 568v5M344.5 515v5M344.5 534v5M344.5 544v5M344.5 568v5M344.5 587v2M348.5 525v5M348.5 568v5M349.5 544v5M351.5 506v4M351.5 520v5M351.5 530v4M351.5 568v5M351.5 582v7M354.5 568v5M355.5 539v5M355.5 568v5M357.5 568v5M358.5 506v4M358.5 520v5M358.5 530v4M358.5 573v9M359.5 544v5M359.5 568v5M360.5 539v10M362.5 515v5M362.5 539v5M362.5 568v5M364.5 506v14M364.5 525v5M364.5 573v5M364.5 582v5M365.5 506v4M365.5 525v5M365.5 534v5M365.5 573v5M365.5 582v7M366.5 506v9M366.5 520v5M366.5 539v5M366.5 568v5M366.5 578v4M369.5 506v4M369.5 539v10M370.5 539v5M371.5 525v14M371.5 568v5M372.5 506v4M372.5 525v5M372.5 534v5M372.5 568v10M372.5 582v7M374.5 506v14M374.5 534v5M374.5 573v5M374.5 587v2M376.5 506v4M376.5 534v5M376.5 582v7M380.5 568v5M381.5 506v4M381.5 515v5M381.5 525v14M381.5 568v5M383.5 506v4M383.5 534v10M383.5 568v5M384.5 506v9M384.5 530v4M384.5 578v11M385.5 515v15M387.5 544v5M388.5 506v9M388.5 520v5M388.5 568v5M388.5 582v7M392.5 506v4M392.5 539v5M393.5 568v5M394.5 563v10M397.5 563v5M398.5 515v5M398.5 530v4M398.5 544v5M398.5 568v10M399.5 506v9M399.5 534v5M399.5 587v2M402.5 539v5M404.5 510v5M404.5 525v5M404.5 534v5M404.5 568v5M404.5 587v2M406.5 506v9M406.5 520v10M406.5 539v5M406.5 573v5M407.5 506v4M407.5 515v5M407.5 530v9M407.5 582v7M408.5 539v5M410.5 568v5M411.5 520v19M411.5 578v9M412.5 506v9M412.5 520v19M412.5 578v9M413.5 506v9M413.5 520v5M413.5 582v7M414.5 506v4M414.5 539v5M415.5 506v4M415.5 539v5M415.5 568v5M416.5 544v5M417.5 563v5M419.5 506v4M419.5 530v4M419.5 539v5M419.5 568v5M419.5 587v2M420.5 506v4M420.5 563v5M421.5 568v5M422.5 510v5M422.5 520v10M422.5 539v5M423.5 510v5M423.5 520v5M423.5 530v9M423.5 544v5M424.5 587v2M425.5 510v5M425.5 520v5M425.5 530v4M425.5 568v5M425.5 582v7M426.5 506v4M427.5 515v5M427.5 525v14M427.5 568v5M427.5 578v4M428.5 506v4M428.5 534v5M428.5 563v10M429.5 506v4M429.5 539v5M429.5 578v4M430.5 515v5M430.5 525v5M430.5 534v5M430.5 544v5M430.5 568v5M432.5 515v10M432.5 530v9M432.5 582v5M433.5 510v10M433.5 578v11M435.5 506v4M435.5 525v5M435.5 534v5M435.5 582v5M436.5 506v9M436.5 520v5M436.5 530v4M436.5 568v5M438.5 515v5M438.5 525v9M438.5 568v10M439.5 506v4M439.5 520v5M439.5 587v2M440.5 539v5M442.5 568v5M443.5 520v5M443.5 530v9M443.5 568v19M444.5 520v5M444.5 534v15M444.5 578v4M444.5 587v2M445.5 568v5M448.5 534v5M450.5 539v10M450.5 568v5M451.5 515v10M451.5 534v5M451.5 568v5M451.5 578v4M452.5 525v5M452.5 534v10M453.5 520v5M453.5 534v10M453.5 568v5M453.5 587v2M455.5 506v4M455.5 534v10M455.5 587v2M456.5 568v5M459.5 506v4M459.5 539v5M460.5 539v5M463.5 573v5M464.5 587v2M486.5 544v5M487.5 554v4M505.5 520v5M506.5 558v5M516.5 549v5"/>
<path stroke="#32005f" d="M92.5 506v4M92.5 534v5M92.5 568v5M93.5 510v5M93.5 544v5M93.5 568v5M95.5 534v15M96.5 568v5M99.5 525v14M101.5 539v5M104.5 563v10M105.5 539v5M109.5 544v5M111.5 563v5M113.5 515v5M113.5 530v4M113.5 568v5M115.5 544v5M117.5 568v5M121.5 539v5M125.5 534v10M128.5 506v4M128.5 520v24M128.5 563v5M129.5 534v5M130.5 510v10M130.5 539v5M131.5 534v5M131.5 568v5M132.5 539v5M133.5 539v5M133.5 568v5M136.5 568v5M137.5 506v4M137.5 515v5M137.5 534v5M137.5 544v5M137.5 568v5M138.5 506v4M138.5 539v5M139.5 539v5M140.5 506v4M140.5 539v10M140.5 568v5M141.5 525v5M141.5 534v5M141.5 587v2M143.5 506v4M143.5 539v10M144.5 563v10M154.5 506v4M154.5 539v5M155.5 539v5M157.5 544v5M158.5 563v5M159.5 506v4M159.5 530v4M159.5 544v5M159.5 568v5M159.5 582v5M160.5 539v5M161.5 568v5M163.5 568v5M165.5 506v4M165.5 520v5M165.5 544v5M167.5 544v5M168.5 568v5M173.5 539v5M181.5 506v4M181.5 544v5M181.5 587v2M182.5 515v5M182.5 534v10M183.5 506v4M183.5 520v5M183.5 534v10M184.5 539v5M187.5 563v10M188.5 563v5M189.5 539v5M189.5 563v5M191.5 563v5M192.5 563v5M194.5 563v5M195.5 563v5M196.5 506v9M196.5 534v5M196.5 568v5M197.5 539v5M199.5 510v5M200.5 534v5M200.5 544v5M200.5 568v5M202.5 544v5M205.5 539v10M209.5 563v5M211.5 544v5M215.5 539v5M217.5 563v5M218.5 544v5M219.5 544v5M222.5 515v10M222.5 530v4M222.5 539v10M222.5 568v5M222.5 578v4M225.5 544v5M226.5 568v5M229.5 520v5M229.5 530v19M230.5 568v5M232.5 563v5M233.5 539v5M233.5 563v5M234.5 539v5M237.5 544v5M239.5 539v5M242.5 515v5M242.5 568v10M243.5 506v4M244.5 563v5M247.5 506v4M247.5 539v10M247.5 563v10M248.5 544v5M253.5 510v5M253.5 525v5M253.5 539v5M253.5 587v2M255.5 563v5M257.5 563v5M258.5 563v5M261.5 544v5M262.5 563v5M264.5 506v4M264.5 544v5M264.5 563v5M265.5 544v5M267.5 539v10M268.5 506v4M268.5 534v5M268.5 563v5M269.5 539v10M271.5 539v5M272.5 568v5M274.5 563v5M277.5 506v4M277.5 539v5M280.5 506v4M280.5 539v5M282.5 563v5M287.5 563v5M288.5 544v5M289.5 525v5M292.5 525v5M293.5 539v5M295.5 510v5M295.5 534v5M295.5 544v5M298.5 534v15M300.5 544v5M301.5 534v5M301.5 568v5M302.5 568v5M305.5 539v5M309.5 563v10M310.5 506v4M310.5 563v5M312.5 506v4M312.5 530v14M312.5 582v5M313.5 510v5M313.5 520v5M313.5 534v5M313.5 587v2M315.5 539v5M316.5 510v5M316.5 520v5M316.5 534v10M316.5 563v10M321.5 539v5M324.5 539v10M326.5 563v5M330.5 568v5M331.5 568v5M334.5 563v5M335.5 539v5M335.5 568v5M336.5 563v5M341.5 568v5M343.5 539v5M348.5 563v5M350.5 539v5M351.5 525v5M352.5 544v5M355.5 544v5M358.5 510v5M358.5 525v5M358.5 534v5M358.5 568v5M360.5 506v4M361.5 563v10M362.5 544v5M363.5 563v5M364.5 520v5M364.5 530v19M365.5 510v5M366.5 544v5M367.5 568v5M369.5 563v5M371.5 506v4M371.5 539v5M371.5 582v7M372.5 515v5M372.5 539v5M373.5 568v5M374.5 539v10M376.5 510v15M376.5 568v5M377.5 539v5M380.5 563v5M381.5 539v5M383.5 544v5M384.5 515v10M384.5 534v5M388.5 530v4M388.5 539v5M389.5 534v10M390.5 563v5M393.5 563v5M396.5 568v5M398.5 506v4M398.5 539v5M399.5 515v5M399.5 544v5M400.5 568v5M401.5 568v5M402.5 544v5M402.5 563v10M404.5 506v4M404.5 515v5M404.5 530v4M404.5 539v5M405.5 568v5M406.5 568v5M407.5 568v5M408.5 563v5M411.5 506v4M412.5 568v5M412.5 587v2M413.5 539v5M413.5 563v10M414.5 563v5M419.5 515v5M419.5 534v5M419.5 563v5M421.5 563v5M422.5 506v4M422.5 544v5M422.5 568v5M423.5 539v5M424.5 563v10M425.5 506v4M425.5 539v5M426.5 568v5M427.5 510v5M427.5 582v7M428.5 539v5M429.5 544v5M430.5 539v5M433.5 506v4M433.5 563v10M435.5 539v5M438.5 506v4M439.5 544v5M439.5 568v5M442.5 544v5M443.5 539v5M443.5 587v2M447.5 568v5M448.5 539v5M449.5 544v5M451.5 506v4M451.5 539v10M452.5 544v5M452.5 568v5M453.5 506v4M453.5 530v4M457.5 568v5M458.5 568v5M459.5 544v5M459.5 568v5M460.5 544v5M481.5 544v5M486.5 568v5M497.5 510v5M506.5 549v5"/>
<path stroke="#3c0275" d="M93.5 506v4M106.5 544v5M107.5 544v5M113.5 506v4M115.5 563v5M120.5 563v5M122.5 563v5M123.5 563v5M125.5 563v5M126.5 563v5M127.5 563v5M128.5 568v5M129.5 563v5M130.5 544v5M130.5 568v5M131.5 539v5M132.5 544v5M133.5 544v5M134.5 563v5M135.5 563v5M136.5 563v5M139.5 544v5M139.5 563v5M141.5 568v5M143.5 563v5M146.5 563v5M147.5 563v5M149.5 539v5M150.5 544v5M151.5 544v5M152.5 563v5M154.5 544v5M155.5 544v5M159.5 539v5M164.5 563v5M167.5 568v5M173.5 563v5M179.5 544v5M181.5 539v5M181.5 563v5M187.5 506v4M187.5 544v5M189.5 544v5M200.5 506v4M202.5 563v5M205.5 563v5M206.5 563v5M212.5 544v5M216.5 539v5M218.5 563v5M221.5 539v5M224.5 563v5M239.5 544v5M240.5 544v5M242.5 506v4M253.5 568v5M256.5 563v5M263.5 544v5M268.5 544v5M270.5 539v5M273.5 539v5M277.5 563v5M278.5 563v5M279.5 563v5M280.5 563v5M283.5 563v5M284.5 544v5M289.5 539v5M289.5 563v10M292.5 506v4M293.5 563v10M294.5 563v5M296.5 544v5M296.5 563v5M297.5 568v5M298.5 563v10M299.5 563v5M300.5 563v5M301.5 544v5M302.5 563v5M312.5 563v5M313.5 506v4M313.5 539v5M313.5 563v5M316.5 544v5M317.5 563v5M318.5 563v5M322.5 563v5M323.5 563v5M324.5 568v5M325.5 544v5M328.5 563v5M329.5 563v5M330.5 563v5M339.5 563v5M340.5 539v5M341.5 563v5M343.5 563v5M345.5 563v5M347.5 568v5M348.5 539v5M351.5 539v10M351.5 563v5M354.5 544v5M358.5 539v5M359.5 563v5M364.5 563v5M365.5 539v10M372.5 563v5M376.5 539v5M376.5 563v5M377.5 563v5M378.5 563v5M379.5 563v5M384.5 539v5M387.5 563v5M389.5 563v5M391.5 539v5M392.5 544v5M395.5 563v5M399.5 539v5M399.5 563v10M403.5 568v5M405.5 539v5M407.5 539v5M407.5 563v5M411.5 539v10M412.5 539v10M412.5 563v5M421.5 544v5M423.5 563v5M424.5 544v5M425.5 544v5M425.5 563v5M426.5 563v5M427.5 506v4M427.5 563v5M428.5 544v5M429.5 563v5M432.5 568v5M433.5 539v5M435.5 544v5M436.5 544v5M436.5 563v5M438.5 539v10M439.5 539v5M443.5 506v4M444.5 563v5M445.5 563v5M447.5 539v5M447.5 563v5M448.5 544v5M448.5 568v5M455.5 544v5"/>
<path stroke="#46048b" d="M100.5 563v5M110.5 544v5M113.5 544v5M121.5 544v5M124.5 563v5M125.5 544v5M129.5 544v5M130.5 563v5M131.5 544v5M131.5 563v5M132.5 563v5M137.5 539v5M149.5 563v5M150.5 563v5M155.5 563v5M156.5 563v5M159.5 563v5M164.5 544v5M169.5 563v5M174.5 563v5M175.5 563v5M183.5 544v5M184.5 544v5M190.5 563v5M196.5 539v10M197.5 544v5M200.5 539v5M208.5 563v5M212.5 563v5M215.5 563v5M216.5 544v5M219.5 563v5M221.5 544v5M226.5 544v5M233.5 544v5M234.5 544v5M238.5 563v5M239.5 563v5M242.5 544v5M243.5 539v5M243.5 563v5M244.5 544v5M245.5 563v5M248.5 563v5M253.5 544v5M253.5 563v5M259.5 563v5M265.5 563v5M266.5 563v5M268.5 558v5M269.5 563v5M282.5 544v5M285.5 563v5M286.5 563v5M288.5 563v5M289.5 544v5M291.5 563v5M297.5 544v5M299.5 539v5M306.5 563v5M307.5 563v5M308.5 539v5M308.5 563v5M311.5 563v5M312.5 544v5M315.5 544v5M315.5 563v5M332.5 563v5M340.5 544v5M342.5 563v5M343.5 544v5M346.5 544v5M346.5 563v5M347.5 563v5M348.5 544v5M358.5 563v5M368.5 563v5M370.5 563v5M372.5 544v5M373.5 563v5M381.5 544v5M384.5 568v5M385.5 539v5M386.5 563v5M388.5 544v5M396.5 563v5M398.5 563v5M404.5 544v5M404.5 563v5M406.5 544v5M407.5 544v5M413.5 544v5M415.5 544v5M415.5 563v5M419.5 544v5M427.5 539v10M432.5 539v5M433.5 544v5M434.5 563v5M435.5 563v5M440.5 563v5M441.5 563v5M446.5 563v5M449.5 563v5M453.5 544v5M455.5 568v5M460.5 563v5"/>
<path stroke="#4c06a1" d="M95.5 563v5M99.5 544v5M99.5 563v5M101.5 544v5M102.5 563v5M105.5 544v5M119.5 563v5M128.5 544v5M133.5 563v5M140.5 563v5M141.5 544v5M141.5 563v5M145.5 563v5M148.5 544v5M153.5 563v5M160.5 544v5M167.5 563v5M177.5 563v5M182.5 544v5M182.5 563v5M185.5 563v5M186.5 563v5M199.5 563v5M203.5 563v5M207.5 563v5M216.5 563v5M222.5 563v5M225.5 563v5M226.5 563v5M230.5 563v5M231.5 563v5M235.5 563v5M243.5 544v5M251.5 563v5M252.5 563v5M260.5 544v5M270.5 563v5M273.5 544v5M276.5 563v5M277.5 558v5M280.5 544v5M292.5 544v5M292.5 563v5M303.5 563v5M305.5 563v5M313.5 544v5M320.5 563v5M321.5 544v5M327.5 563v5M330.5 544v5M333.5 563v5M335.5 544v5M338.5 563v5M344.5 563v5M352.5 563v5M356.5 544v5M358.5 544v5M360.5 563v5M370.5 544v5M376.5 544v5M377.5 544v5M381.5 563v5M384.5 563v5M385.5 563v5M389.5 544v5M391.5 563v5M392.5 563v5M401.5 544v5M405.5 544v5M410.5 563v5M418.5 563v5M432.5 563v5M438.5 563v5M439.5 558v5M443.5 544v5M448.5 563v5M450.5 563v5M453.5 563v5M456.5 563v5"/>
<path stroke="#4f09b8" d="M103.5 563v5M106.5 563v5M113.5 563v5M118.5 563v5M128.5 558v5M137.5 563v5M138.5 563v5M142.5 544v5M157.5 563v5M160.5 563v5M163.5 563v5M165.5 563v5M168.5 563v5M171.5 563v5M176.5 558v5M180.5 563v5M183.5 563v5M187.5 558v5M197.5 563v5M200.5 563v5M202.5 558v5M210.5 549v5M210.5 558v5M211.5 563v5M215.5 558v5M220.5 563v5M223.5 563v5M228.5 563v5M241.5 544v5M261.5 563v5M263.5 563v5M268.5 549v5M270.5 544v5M271.5 544v5M273.5 563v5M291.5 558v5M314.5 558v5M332.5 544v5M340.5 563v5M350.5 544v5M354.5 563v5M366.5 563v5M371.5 544v5M371.5 563v5M384.5 544v5M388.5 563v5M391.5 544v5M405.5 563v5M408.5 544v5M416.5 563v5M422.5 563v5M430.5 563v5M432.5 544v5M438.5 558v5M439.5 554v4M452.5 563v5"/>
<path stroke="#480ace" d="M92.5 544v5M94.5 563v5M105.5 563v5M107.5 563v5M109.5 563v5M112.5 563v5M142.5 563v5M149.5 544v5M162.5 563v5M166.5 563v5M172.5 563v5M173.5 544v5M175.5 558v5M177.5 558v5M179.5 563v5M184.5 563v5M186.5 558v5M187.5 549v9M188.5 558v5M195.5 558v5M204.5 558v5M207.5 558v5M209.5 549v14M210.5 554v4M212.5 558v5M213.5 558v5M218.5 558v5M227.5 563v5M234.5 563v5M236.5 563v5M242.5 563v5M248.5 558v5M249.5 563v5M250.5 563v5M253.5 558v5M255.5 558v5M268.5 554v4M271.5 563v5M272.5 563v5M275.5 558v5M278.5 558v5M279.5 558v5M281.5 563v5M284.5 563v5M285.5 558v5M290.5 563v5M299.5 544v5M301.5 563v5M305.5 544v5M308.5 544v5M315.5 558v5M321.5 563v5M324.5 563v5M331.5 563v5M333.5 558v5M338.5 558v5M349.5 563v5M350.5 563v5M353.5 563v5M355.5 563v5M365.5 563v5M375.5 563v5M383.5 563v5M403.5 563v5M412.5 558v5M428.5 558v5M431.5 563v5M438.5 549v5M439.5 549v5M440.5 558v5M442.5 563v5M443.5 563v5M447.5 544v5"/>
<path stroke="#3a0ce3" d="M93.5 563v5M96.5 563v5M108.5 563v5M114.5 558v5M121.5 563v5M122.5 558v5M123.5 558v5M130.5 558v5M131.5 558v5M133.5 558v5M134.5 558v5M135.5 558v5M148.5 563v5M151.5 563v5M152.5 558v5M156.5 558v5M160.5 558v5M161.5 563v5M170.5 563v5M175.5 549v9M176.5 554v4M177.5 554v4M186.5 549v5M189.5 558v5M193.5 558v5M194.5 558v5M196.5 558v5M198.5 563v5M201.5 563v5M204.5 549v5M206.5 558v5M208.5 554v9M214.5 558v5M220.5 558v5M221.5 563v5M223.5 558v5M237.5 558v5M240.5 563v5M245.5 558v5M246.5 554v4M252.5 558v5M256.5 558v5M260.5 563v5M265.5 558v5M276.5 558v5M285.5 554v4M288.5 558v5M290.5 558v5M291.5 554v4M293.5 558v5M294.5 558v5M295.5 563v5M297.5 563v5M307.5 558v5M309.5 558v5M314.5 554v4M316.5 549v5M316.5 558v5M319.5 563v5M326.5 558v5M327.5 558v5M328.5 558v5M329.5 558v5M335.5 563v5M337.5 558v5M339.5 558v5M344.5 558v5M345.5 558v5M349.5 558v5M356.5 563v5M362.5 558v10M363.5 558v5M367.5 563v5M374.5 563v5M382.5 563v5M385.5 544v5M401.5 563v5M409.5 563v5M417.5 558v5M434.5 558v5M437.5 563v5M438.5 554v4M441.5 558v5M457.5 563v5"/>
<path stroke="#280ef3" d="M101.5 563v5M102.5 558v5M103.5 558v5M113.5 558v5M116.5 563v5M117.5 563v5M125.5 558v5M126.5 554v9M127.5 558v5M128.5 554v4M130.5 554v4M136.5 558v5M139.5 558v5M157.5 558v5M158.5 558v5M177.5 549v5M178.5 558v5M179.5 558v5M181.5 558v5M182.5 558v5M185.5 558v5M186.5 554v4M188.5 554v4M189.5 554v4M190.5 558v5M191.5 558v5M193.5 554v4M202.5 549v9M204.5 554v4M205.5 558v5M206.5 554v4M207.5 554v4M211.5 558v5M212.5 549v5M215.5 554v4M219.5 558v5M222.5 558v5M229.5 563v5M232.5 558v5M233.5 558v5M234.5 558v5M241.5 563v5M244.5 558v5M246.5 558v5M247.5 558v5M249.5 558v5M253.5 554v4M255.5 549v9M262.5 558v5M267.5 558v5M269.5 558v5M272.5 558v5M274.5 558v5M278.5 549v9M285.5 549v5M291.5 549v5M296.5 558v5M304.5 563v5M310.5 558v5M312.5 558v5M313.5 558v5M314.5 549v5M315.5 554v4M316.5 554v4M319.5 558v5M323.5 558v5M326.5 554v4M340.5 558v5M347.5 558v5M351.5 558v5M357.5 563v5M364.5 558v5M366.5 558v5M367.5 558v5M373.5 558v5M379.5 558v5M393.5 558v5M397.5 558v5M406.5 563v5M409.5 558v5M411.5 563v5M413.5 558v5M428.5 554v4M435.5 558v5M436.5 558v5M440.5 554v4M455.5 563v5"/>
<path stroke="#1411fd" d="M107.5 558v5M110.5 563v5M111.5 558v5M115.5 558v5M120.5 558v5M122.5 554v4M124.5 558v5M128.5 549v5M129.5 558v5M130.5 549v5M134.5 554v4M135.5 549v9M138.5 558v5M151.5 558v5M153.5 558v5M156.5 554v4M162.5 558v5M172.5 558v5M174.5 558v5M176.5 549v5M180.5 558v5M183.5 558v5M184.5 558v5M188.5 549v5M191.5 549v9M193.5 549v5M203.5 558v5M205.5 554v4M206.5 549v5M207.5 549v5M212.5 554v4M213.5 554v4M217.5 558v5M220.5 554v4M225.5 558v5M230.5 558v5M235.5 558v5M238.5 558v5M239.5 558v5M241.5 558v5M245.5 554v4M247.5 549v9M248.5 554v4M250.5 558v5M251.5 558v5M252.5 554v4M253.5 549v5M254.5 558v5M257.5 558v5M258.5 558v5M261.5 558v5M264.5 558v5M267.5 554v4M269.5 554v4M270.5 558v5M277.5 549v9M279.5 549v9M280.5 558v5M282.5 558v5M284.5 558v5M295.5 558v5M301.5 558v5M307.5 554v4M311.5 558v5M312.5 549v5M313.5 554v4M315.5 549v5M324.5 558v5M325.5 558v5M326.5 549v5M329.5 549v9M330.5 558v5M336.5 558v5M337.5 554v4M339.5 554v4M343.5 558v5M345.5 554v4M346.5 558v5M353.5 558v5M361.5 558v5M368.5 558v5M370.5 558v5M371.5 558v5M372.5 558v5M374.5 558v5M376.5 558v5M380.5 558v5M397.5 554v4M398.5 558v5M400.5 563v5M407.5 558v5M411.5 558v5M412.5 549v9M414.5 558v5M417.5 549v5M421.5 558v5M422.5 554v9M429.5 558v5M436.5 554v4M440.5 549v5M442.5 558v5M445.5 558v5M448.5 558v5M449.5 558v5M451.5 563v5"/>
<path stroke="#0a1cff" d="M92.5 563v5M95.5 558v5M100.5 558v5M103.5 549v5M106.5 558v5M109.5 558v5M112.5 558v5M113.5 554v4M114.5 549v9M116.5 558v5M118.5 558v5M122.5 549v5M126.5 549v5M131.5 549v9M132.5 558v5M137.5 558v5M139.5 554v4M144.5 558v5M147.5 558v5M150.5 558v5M154.5 563v5M159.5 558v5M163.5 558v5M169.5 558v5M170.5 558v5M173.5 558v5M179.5 554v4M182.5 549v9M189.5 549v5M190.5 549v9M194.5 554v4M195.5 549v9M198.5 558v5M199.5 558v5M200.5 558v5M211.5 549v9M213.5 549v5M214.5 554v4M215.5 549v5M223.5 554v4M224.5 558v5M227.5 558v5M228.5 549v5M228.5 558v5M230.5 554v4M232.5 549v5M234.5 554v4M236.5 558v5M242.5 558v5M246.5 549v5M248.5 549v5M249.5 549v9M250.5 554v4M252.5 549v5M254.5 549v9M259.5 558v5M260.5 558v5M261.5 549v5M262.5 554v4M263.5 558v5M265.5 549v9M266.5 558v5M267.5 549v5M271.5 558v5M273.5 558v5M275.5 554v4M282.5 549v5M286.5 558v5M288.5 549v9M293.5 549v5M302.5 558v5M303.5 558v5M307.5 549v5M309.5 549v5M310.5 554v4M312.5 554v4M317.5 558v5M318.5 558v5M320.5 558v5M324.5 554v4M327.5 554v4M328.5 554v4M333.5 549v9M334.5 558v5M335.5 558v5M337.5 549v5M338.5 549v9M339.5 549v5M340.5 554v4M342.5 558v5M345.5 549v5M347.5 554v4M348.5 558v5M352.5 558v5M358.5 558v5M364.5 549v9M365.5 558v5M369.5 558v5M373.5 549v5M377.5 558v5M378.5 558v5M379.5 554v4M390.5 558v5M391.5 558v5M392.5 558v5M395.5 558v5M404.5 558v5M405.5 558v5M406.5 558v5M409.5 554v4M410.5 558v5M415.5 558v5M416.5 558v5M417.5 554v4M418.5 558v5M419.5 558v5M420.5 558v5M424.5 558v5M425.5 558v5M434.5 549v9M437.5 558v5M443.5 558v5M458.5 563v5M459.5 563v5"/>
<path stroke="#0329ff" d="M96.5 558v5M103.5 554v4M105.5 558v5M113.5 549v5M117.5 558v5M118.5 554v4M119.5 558v5M121.5 558v5M125.5 554v4M129.5 549v5M134.5 549v5M136.5 554v4M137.5 554v4M142.5 558v5M146.5 558v5M148.5 558v5M151.5 549v5M153.5 554v4M154.5 558v5M155.5 558v5M156.5 549v5M160.5 549v9M161.5 558v5M162.5 554v4M167.5 558v5M171.5 558v5M180.5 554v4M181.5 554v4M185.5 554v4M192.5 558v5M194.5 549v5M196.5 554v4M197.5 554v9M199.5 554v4M201.5 558v5M203.5 549v9M205.5 549v5M208.5 549v5M214.5 549v5M218.5 554v4M219.5 549v9M220.5 549v5M221.5 558v5M223.5 549v5M225.5 554v4M226.5 549v5M226.5 558v5M228.5 554v4M229.5 558v5M230.5 549v5M233.5 554v4M237.5 549v9M238.5 554v4M239.5 554v4M240.5 558v5M244.5 554v4M245.5 549v5M250.5 549v5M251.5 554v4M263.5 554v4M264.5 554v4M266.5 554v4M269.5 549v5M270.5 554v4M276.5 549v5M282.5 554v4M284.5 554v4M289.5 558v5M292.5 549v14M293.5 554v4M294.5 554v4M295.5 554v4M297.5 558v5M300.5 558v5M301.5 554v4M306.5 558v5M309.5 554v4M311.5 554v4M318.5 554v4M319.5 554v4M321.5 558v5M322.5 558v5M323.5 554v4M325.5 549v9M327.5 549v5M336.5 549v9M343.5 549v5M344.5 549v9M347.5 549v5M348.5 554v4M349.5 554v4M351.5 549v9M352.5 549v5M354.5 558v5M356.5 558v5M360.5 558v5M363.5 549v5M366.5 549v5M367.5 554v4M373.5 554v4M375.5 558v5M379.5 549v5M380.5 554v4M382.5 558v5M389.5 558v5M393.5 549v9M394.5 558v5M396.5 558v5M397.5 549v5M398.5 549v5M402.5 558v5M407.5 549v5M408.5 558v5M420.5 554v4M423.5 558v5M426.5 558v5M427.5 558v5M428.5 549v5M433.5 558v5M435.5 549v5M436.5 549v5M441.5 554v4M450.5 558v5"/>
<path stroke="#0036ff" d="M94.5 558v5M95.5 554v4M102.5 554v4M104.5 558v5M106.5 554v4M107.5 549v9M108.5 558v5M109.5 554v4M121.5 554v4M123.5 554v4M124.5 549v5M125.5 549v5M127.5 554v4M129.5 554v4M136.5 549v5M138.5 554v4M139.5 549v5M143.5 558v5M147.5 554v4M149.5 558v5M150.5 554v4M151.5 554v4M152.5 549v9M153.5 549v5M155.5 549v5M157.5 554v4M158.5 549v9M165.5 558v5M168.5 558v5M172.5 554v4M174.5 549v5M178.5 549v9M179.5 549v5M180.5 549v5M183.5 549v9M184.5 554v4M196.5 549v5M197.5 549v5M200.5 549v5M216.5 558v5M218.5 549v5M221.5 549v9M222.5 549v9M231.5 558v5M232.5 554v4M233.5 549v5M234.5 549v5M235.5 554v4M236.5 554v4M241.5 554v4M243.5 558v5M244.5 549v5M256.5 554v4M258.5 549v9M259.5 554v4M261.5 554v4M262.5 549v5M264.5 549v5M270.5 549v5M273.5 549v5M274.5 549v9M275.5 549v5M276.5 554v4M283.5 558v5M287.5 558v5M290.5 554v4M294.5 549v5M301.5 549v5M304.5 558v5M310.5 549v5M313.5 549v5M318.5 549v5M324.5 549v5M328.5 549v5M331.5 558v5M332.5 558v5M340.5 549v5M341.5 558v5M342.5 554v4M346.5 549v5M348.5 549v5M349.5 549v5M350.5 558v5M352.5 554v4M353.5 549v9M355.5 558v5M359.5 558v5M362.5 549v9M363.5 554v4M366.5 554v4M368.5 549v9M369.5 549v9M370.5 554v4M371.5 554v4M372.5 549v5M374.5 554v4M376.5 554v4M377.5 554v4M381.5 558v5M383.5 558v5M386.5 558v5M387.5 558v5M392.5 554v4M398.5 554v4M407.5 554v4M409.5 549v5M410.5 554v4M413.5 549v9M414.5 554v4M416.5 554v4M419.5 554v4M422.5 549v5M425.5 554v4M429.5 549v5M431.5 554v9M435.5 554v4M442.5 554v4M448.5 554v4M451.5 558v5M453.5 558v5M460.5 558v5"/>
<path stroke="#0041ff" d="M99.5 558v5M101.5 558v5M105.5 549v9M111.5 549v9M112.5 554v4M116.5 554v4M119.5 549v5M120.5 554v4M121.5 549v5M123.5 549v5M124.5 554v4M127.5 549v5M133.5 549v9M137.5 549v5M138.5 549v5M140.5 558v5M145.5 554v9M155.5 554v4M159.5 549v9M164.5 558v5M166.5 558v5M171.5 554v4M173.5 549v5M174.5 554v4M181.5 549v5M185.5 549v5M198.5 549v9M199.5 549v5M200.5 554v4M201.5 554v4M217.5 549v9M224.5 554v4M225.5 549v5M226.5 554v4M236.5 549v5M238.5 549v5M239.5 549v5M240.5 549v5M241.5 549v5M242.5 554v4M251.5 549v5M256.5 549v5M257.5 549v5M260.5 554v4M263.5 549v5M266.5 549v5M271.5 554v4M272.5 549v9M273.5 554v4M281.5 558v5M286.5 554v4M287.5 554v4M289.5 554v4M290.5 549v5M296.5 549v5M298.5 558v5M299.5 558v5M303.5 554v4M305.5 558v5M308.5 558v5M317.5 549v9M319.5 549v5M320.5 549v5M323.5 549v5M330.5 549v9M334.5 549v9M342.5 549v5M343.5 554v4M346.5 554v4M357.5 558v5M358.5 554v4M360.5 549v5M361.5 549v9M365.5 554v4M367.5 549v5M372.5 554v4M376.5 549v5M377.5 549v5M378.5 554v4M380.5 549v5M399.5 558v5M401.5 558v5M404.5 554v4M405.5 554v4M406.5 554v4M411.5 554v4M415.5 554v4M416.5 549v5M419.5 549v5M420.5 549v5M421.5 554v4M427.5 554v4M429.5 554v4M432.5 558v5M433.5 554v4M441.5 549v5M443.5 554v4M445.5 554v4M446.5 558v5M447.5 558v5M448.5 549v5M452.5 558v5M454.5 563v5M457.5 558v5"/>
<path stroke="#004eff" d="M92.5 558v5M93.5 558v5M95.5 549v5M100.5 554v4M102.5 549v5M106.5 549v5M109.5 549v5M110.5 558v5M115.5 549v9M116.5 549v5M118.5 549v5M119.5 554v4M120.5 549v5M132.5 554v4M141.5 558v5M142.5 554v4M143.5 554v4M144.5 554v4M146.5 554v4M150.5 549v5M157.5 549v5M161.5 549v9M162.5 549v5M163.5 549v9M169.5 549v5M170.5 549v9M173.5 554v4M184.5 549v5M192.5 554v4M201.5 549v5M224.5 549v5M227.5 554v4M229.5 554v4M231.5 554v4M235.5 549v5M240.5 554v4M242.5 549v5M243.5 554v4M257.5 554v4M260.5 549v5M271.5 549v5M283.5 554v4M286.5 549v5M295.5 549v5M296.5 554v4M302.5 554v4M303.5 549v5M306.5 554v4M311.5 549v5M320.5 554v4M322.5 549v5M332.5 554v4M335.5 554v4M354.5 549v9M356.5 554v4M358.5 549v5M359.5 554v4M360.5 554v4M370.5 549v5M374.5 549v5M385.5 558v5M388.5 558v5M389.5 554v4M390.5 554v4M392.5 549v5M400.5 558v5M403.5 558v5M404.5 549v5M405.5 549v5M408.5 549v9M410.5 549v5M414.5 549v5M418.5 554v4M421.5 549v5M423.5 549v5M424.5 549v9M425.5 549v5M430.5 558v5M437.5 549v9M442.5 549v5M443.5 549v5M444.5 558v5M449.5 549v9M451.5 554v4M455.5 558v5M458.5 558v5M459.5 558v5"/>
<path stroke="#005eff" d="M96.5 549v5M99.5 554v4M101.5 554v4M104.5 554v4M112.5 549v5M117.5 549v9M144.5 549v5M147.5 549v5M148.5 549v5M154.5 554v4M165.5 554v4M167.5 554v4M169.5 554v4M171.5 549v5M172.5 549v5M192.5 549v5M216.5 554v4M227.5 549v5M229.5 549v5M243.5 549v5M259.5 549v5M280.5 549v9M284.5 549v5M287.5 549v5M289.5 549v5M297.5 549v9M298.5 554v4M300.5 549v9M302.5 549v5M304.5 549v9M305.5 554v4M322.5 554v4M331.5 549v9M332.5 549v5M335.5 549v5M341.5 549v9M356.5 549v5M359.5 549v5M365.5 549v5M371.5 549v5M375.5 549v9M378.5 549v5M381.5 554v4M382.5 549v9M383.5 554v4M384.5 558v5M387.5 554v4M389.5 549v5M391.5 549v9M394.5 549v5M395.5 549v5M396.5 549v9M400.5 554v4M402.5 554v4M406.5 549v5M411.5 549v5M415.5 549v5M418.5 549v5M426.5 549v9M445.5 549v5M450.5 554v4M451.5 549v5M453.5 554v4M456.5 558v5"/>
<path stroke="#006eff" d="M94.5 549v9M100.5 549v5M104.5 549v5M108.5 554v4M110.5 554v4M132.5 549v5M140.5 554v4M141.5 554v4M142.5 549v5M143.5 549v5M145.5 549v5M148.5 554v4M149.5 549v9M164.5 554v4M165.5 549v5M166.5 554v4M167.5 549v5M168.5 554v4M299.5 554v4M306.5 549v5M321.5 549v9M350.5 549v5M355.5 554v4M357.5 549v9M381.5 549v5M386.5 554v4M390.5 549v5M394.5 554v4M395.5 554v4M399.5 554v4M401.5 554v4M423.5 554v4M427.5 549v5M431.5 549v5M432.5 549v5M433.5 549v5M460.5 554v4"/>
<path stroke="#0082ff" d="M96.5 554v4M99.5 549v5M140.5 549v5M154.5 549v5M166.5 549v5M216.5 549v5M281.5 549v9M283.5 549v5M298.5 549v5M305.5 549v5M308.5 554v4M350.5 554v4M387.5 549v5M388.5 549v5M401.5 549v5M402.5 549v5M403.5 549v5M432.5 554v4M446.5 554v4M450.5 549v5M452.5 549v9M453.5 549v5M454.5 558v5M460.5 549v5"/>
<path stroke="#0096ff" d="M93.5 554v4M101.5 549v5M108.5 549v5M110.5 549v5M141.5 549v5M146.5 549v5M164.5 549v5M168.5 549v5M231.5 549v5M299.5 549v5M308.5 549v5M383.5 549v5M385.5 554v4M388.5 554v4M400.5 549v5M430.5 554v4M446.5 549v5M447.5 549v9M457.5 554v4M459.5 554v4"/>
<path stroke="#00aaff" d="M92.5 549v9M355.5 549v5M386.5 549v5M399.5 549v5M403.5 554v4M444.5 554v4M456.5 554v4M457.5 549v5M458.5 549v9"/>
<path stroke="#00beff" d="M93.5 549v5M385.5 549v5M430.5 549v5M444.5 549v5M455.5 549v9M459.5 549v5"/>
<path stroke="#00d2ff" d="M384.5 549v9M456.5 549v5"/>
<path stroke="#00e8f8" d="M454.5 554v4"/>
<path stroke="#00fff0" d="M454.5 549v5"/></g>
<path d="M98 506h1v83h-1zM461 506h1v83h-1z" fill="#fff"/>
<rect x="92" y="590" width="428" height="83" fill="#000"/>
<g stroke-width="1" fill="none"><path stroke="#0a0012" d="M94.5 662v4M105.5 662v11M129.5 662v4M133.5 657v5M133.5 671v2M141.5 666v5M142.5 614v4M142.5 662v4M153.5 671v2M154.5 671v2M157.5 657v5M163.5 609v9M163.5 623v5M163.5 666v7M165.5 662v4M186.5 657v5M195.5 657v5M195.5 671v2M208.5 657v5M208.5 666v5M231.5 609v5M231.5 618v5M231.5 628v5M231.5 657v9M237.5 590v4M239.5 662v4M244.5 666v7M250.5 671v2M253.5 662v4M253.5 671v2M255.5 671v2M257.5 671v2M263.5 657v5M280.5 666v5M292.5 666v7M294.5 628v5M295.5 599v5M296.5 594v39M297.5 618v5M298.5 618v5M299.5 590v28M326.5 594v39M326.5 657v5M326.5 666v5M327.5 594v39M328.5 594v39M329.5 604v5M329.5 618v15M330.5 599v10M331.5 594v20M351.5 599v19M351.5 623v10M352.5 594v39M353.5 609v5M353.5 618v10M354.5 599v34M355.5 609v19M356.5 594v29M357.5 604v14M358.5 609v5M358.5 618v5M358.5 628v5M363.5 666v5M382.5 599v24M382.5 628v5M383.5 594v39M384.5 599v5M384.5 609v5M384.5 623v5M385.5 594v29M385.5 628v5M386.5 594v39M387.5 594v39M387.5 657v5M387.5 671v2M388.5 594v39M389.5 594v39M394.5 662v11M402.5 657v9M406.5 662v11M407.5 662v9M408.5 657v5M408.5 666v5M413.5 594v10M413.5 609v5M414.5 609v14M415.5 599v24M415.5 628v5M416.5 590v9M416.5 604v10M417.5 594v39M418.5 594v5M418.5 604v29M432.5 666v5M436.5 666v5M442.5 599v10M442.5 614v9M443.5 609v24M444.5 614v4M444.5 628v5M445.5 590v33M446.5 599v5M446.5 614v9M446.5 628v5M447.5 594v34"/>
<path stroke="#140024" d="M92.5 666v7M93.5 618v5M93.5 657v16M94.5 657v5M94.5 666v7M95.5 657v5M99.5 671v2M100.5 657v5M101.5 657v16M103.5 671v2M105.5 614v4M105.5 623v5M105.5 652v10M107.5 652v21M108.5 666v5M110.5 662v11M111.5 652v5M111.5 662v4M111.5 671v2M113.5 652v21M114.5 662v11M115.5 652v21M117.5 657v16M119.5 657v16M120.5 614v4M120.5 657v5M120.5 666v7M121.5 628v5M122.5 614v4M122.5 628v5M122.5 666v5M123.5 599v5M125.5 662v9M127.5 652v5M127.5 662v4M127.5 671v2M129.5 657v5M129.5 666v7M130.5 666v7M131.5 657v9M131.5 671v2M132.5 662v11M133.5 594v5M133.5 609v5M133.5 618v15M133.5 662v9M134.5 662v4M134.5 671v2M135.5 657v5M139.5 657v5M140.5 657v14M141.5 604v5M141.5 618v5M141.5 657v9M141.5 671v2M142.5 594v20M142.5 618v15M142.5 657v5M142.5 666v7M143.5 623v10M144.5 671v2M145.5 599v5M145.5 618v15M145.5 662v4M146.5 657v5M148.5 662v4M149.5 671v2M150.5 666v7M151.5 657v5M151.5 666v5M152.5 662v11M153.5 614v4M153.5 657v14M154.5 609v9M154.5 652v19M156.5 657v5M157.5 609v5M157.5 618v15M157.5 662v11M158.5 657v14M159.5 657v5M159.5 666v5M160.5 594v5M160.5 609v14M160.5 628v5M160.5 657v14M161.5 599v5M161.5 609v24M161.5 652v21M163.5 594v15M163.5 618v5M163.5 628v5M163.5 652v14M164.5 657v16M165.5 604v5M165.5 623v5M165.5 657v5M165.5 666v7M166.5 652v21M168.5 657v5M168.5 666v7M169.5 657v16M171.5 652v21M173.5 662v4M178.5 652v21M179.5 652v21M180.5 662v4M184.5 604v5M184.5 614v4M184.5 628v5M184.5 666v5M186.5 594v5M186.5 604v29M186.5 662v11M187.5 623v5M189.5 609v5M189.5 657v5M190.5 657v5M192.5 657v9M194.5 657v5M194.5 666v5M195.5 628v5M195.5 647v5M195.5 662v9M196.5 657v5M196.5 666v7M198.5 657v14M199.5 657v16M201.5 652v5M201.5 662v11M202.5 662v4M203.5 662v9M205.5 671v2M206.5 671v2M208.5 604v5M208.5 614v9M208.5 652v5M208.5 662v4M208.5 671v2M211.5 657v5M212.5 657v9M214.5 652v21M216.5 662v11M218.5 657v16M220.5 594v5M220.5 652v21M221.5 657v16M222.5 662v11M224.5 628v5M224.5 652v21M226.5 666v5M227.5 652v21M228.5 657v5M228.5 666v7M229.5 594v10M229.5 609v5M229.5 628v5M229.5 662v9M230.5 623v5M231.5 594v15M231.5 614v4M231.5 623v5M231.5 652v5M231.5 666v7M232.5 594v5M232.5 604v14M232.5 662v4M234.5 614v4M234.5 671v2M236.5 604v5M236.5 628v5M239.5 657v5M239.5 666v7M241.5 652v21M242.5 657v5M242.5 666v7M243.5 662v11M244.5 614v4M244.5 657v9M247.5 666v5M248.5 657v5M250.5 657v14M251.5 618v5M251.5 657v16M252.5 657v16M253.5 657v5M253.5 666v5M255.5 609v5M255.5 657v14M256.5 657v14M257.5 657v14M259.5 662v4M259.5 671v2M263.5 618v15M263.5 662v11M264.5 671v2M267.5 652v19M268.5 657v5M268.5 666v7M270.5 662v9M272.5 657v9M272.5 671v2M274.5 657v5M274.5 666v5M275.5 657v16M276.5 662v4M279.5 657v16M280.5 657v9M280.5 671v2M284.5 666v5M286.5 657v5M286.5 666v5M287.5 657v5M287.5 666v5M290.5 657v9M290.5 671v2M291.5 657v9M292.5 618v15M292.5 657v9M293.5 657v16M294.5 594v34M295.5 594v5M295.5 604v10M296.5 657v9M296.5 671v2M297.5 594v24M298.5 594v24M298.5 623v10M301.5 657v9M303.5 657v9M304.5 657v5M304.5 666v5M305.5 657v9M308.5 671v2M309.5 657v5M309.5 666v5M310.5 599v5M310.5 609v5M310.5 657v16M312.5 671v2M314.5 662v11M315.5 657v5M315.5 666v5M316.5 657v5M316.5 666v5M317.5 657v5M317.5 666v5M319.5 623v5M319.5 657v16M325.5 666v5M326.5 662v4M326.5 671v2M327.5 657v16M328.5 662v9M329.5 594v10M329.5 609v9M330.5 594v5M331.5 666v7M332.5 614v14M332.5 657v16M334.5 666v7M337.5 657v5M337.5 666v7M340.5 657v16M341.5 671v2M346.5 657v16M351.5 594v5M351.5 618v5M351.5 671v2M352.5 657v16M353.5 594v15M353.5 614v4M353.5 628v5M353.5 657v5M354.5 594v5M355.5 594v15M355.5 628v5M356.5 657v9M356.5 671v2M357.5 594v10M357.5 618v5M357.5 666v5M358.5 594v15M358.5 614v4M358.5 623v5M359.5 618v5M359.5 657v16M361.5 666v7M362.5 657v16M363.5 657v9M363.5 671v2M364.5 662v11M365.5 657v5M365.5 671v2M367.5 666v5M368.5 657v16M371.5 666v7M372.5 657v9M372.5 671v2M374.5 666v5M376.5 662v4M377.5 618v5M377.5 657v16M378.5 657v16M379.5 657v9M379.5 671v2M382.5 594v5M382.5 623v5M382.5 666v5M383.5 657v16M384.5 604v5M384.5 614v9M384.5 628v5M385.5 623v5M386.5 657v5M386.5 666v5M387.5 662v9M388.5 657v9M388.5 671v2M389.5 657v9M390.5 657v16M392.5 671v2M393.5 666v7M394.5 652v10M395.5 666v5M396.5 623v5M396.5 657v16M397.5 671v2M398.5 657v5M398.5 666v5M399.5 614v4M399.5 652v21M400.5 657v9M401.5 652v14M401.5 671v2M402.5 609v5M402.5 618v10M402.5 652v5M402.5 666v7M404.5 657v16M406.5 618v5M406.5 628v5M406.5 652v10M407.5 657v5M407.5 671v2M408.5 652v5M408.5 662v4M408.5 671v2M412.5 662v4M412.5 671v2M413.5 604v5M413.5 614v19M414.5 594v15M414.5 623v10M415.5 594v5M415.5 623v5M415.5 666v5M416.5 599v5M416.5 614v9M416.5 671v2M417.5 657v14M418.5 599v5M418.5 652v5M418.5 666v7M420.5 662v4M421.5 652v5M421.5 662v4M422.5 662v4M425.5 657v9M426.5 657v16M428.5 671v2M432.5 604v10M432.5 618v5M432.5 652v14M432.5 671v2M433.5 657v16M436.5 594v5M436.5 628v5M436.5 657v9M436.5 671v2M438.5 657v5M439.5 652v21M440.5 657v16M442.5 594v5M442.5 609v5M442.5 623v10M443.5 594v15M443.5 657v5M443.5 666v5M444.5 594v20M444.5 618v10M445.5 623v5M445.5 662v11M446.5 594v5M446.5 604v10M446.5 623v5M447.5 652v19M448.5 662v9M449.5 657v5M450.5 662v4M451.5 657v16M452.5 657v5M452.5 666v5M453.5 652v21M454.5 657v16M458.5 666v5M459.5 671v2M460.5 662v4M460.5 671v2M480.5 633v5M487.5 609v5M498.5 614v4M505.5 609v5M517.5 657v5"/>
<path stroke="#1e0037" d="M92.5 628v5M92.5 657v9M93.5 599v5M93.5 609v9M93.5 623v5M93.5 652v5M94.5 594v5M94.5 614v14M94.5 652v5M95.5 590v4M95.5 662v11M96.5 657v14M99.5 614v4M99.5 628v5M99.5 657v14M100.5 614v9M100.5 662v11M101.5 590v4M101.5 618v10M101.5 652v5M103.5 657v14M104.5 657v9M104.5 671v2M105.5 594v15M105.5 618v5M105.5 628v5M107.5 618v5M107.5 628v5M108.5 599v10M108.5 614v4M108.5 623v5M108.5 652v14M108.5 671v2M110.5 609v5M110.5 628v5M110.5 652v10M111.5 590v4M111.5 657v5M111.5 666v5M112.5 671v2M113.5 594v10M113.5 609v5M114.5 590v4M114.5 657v5M115.5 599v5M115.5 614v4M115.5 623v10M116.5 657v16M117.5 590v4M117.5 599v5M117.5 609v5M117.5 618v10M118.5 657v5M118.5 666v5M119.5 604v5M120.5 594v20M120.5 618v15M120.5 662v4M121.5 594v10M121.5 609v19M122.5 594v5M122.5 604v5M122.5 618v10M122.5 662v4M123.5 594v5M123.5 604v10M123.5 618v10M123.5 657v9M124.5 590v4M124.5 662v4M125.5 628v5M125.5 652v10M125.5 671v2M126.5 657v5M126.5 666v7M127.5 604v5M127.5 628v5M127.5 657v5M127.5 666v5M128.5 590v4M128.5 657v5M128.5 666v7M129.5 599v34M130.5 614v4M130.5 657v9M131.5 623v5M131.5 666v5M132.5 614v4M132.5 623v5M132.5 657v5M133.5 599v5M133.5 614v4M133.5 652v5M134.5 657v5M134.5 666v5M135.5 590v4M135.5 662v11M136.5 657v5M136.5 671v2M137.5 662v9M138.5 666v7M140.5 671v2M141.5 599v5M141.5 609v5M141.5 623v10M141.5 652v5M142.5 652v5M143.5 609v5M143.5 618v5M143.5 657v5M143.5 666v5M144.5 594v5M144.5 604v29M144.5 662v4M145.5 594v5M145.5 604v14M145.5 657v5M145.5 666v7M146.5 652v5M146.5 662v11M147.5 657v16M148.5 657v5M148.5 666v7M149.5 657v14M150.5 599v10M150.5 652v14M151.5 594v5M151.5 614v14M151.5 652v5M151.5 662v4M151.5 671v2M152.5 594v10M152.5 609v5M152.5 657v5M153.5 599v5M153.5 652v5M154.5 604v5M154.5 618v15M155.5 652v5M155.5 671v2M156.5 594v5M156.5 628v5M156.5 652v5M156.5 662v11M157.5 599v10M157.5 614v4M157.5 652v5M158.5 618v10M158.5 671v2M159.5 662v4M159.5 671v2M160.5 599v10M160.5 623v5M160.5 671v2M161.5 594v5M161.5 604v5M162.5 594v5M162.5 604v5M162.5 618v15M162.5 652v5M162.5 662v11M164.5 594v5M164.5 618v15M164.5 652v5M165.5 594v5M165.5 609v5M165.5 628v5M166.5 599v10M166.5 614v9M166.5 647v5M167.5 652v10M167.5 666v5M168.5 652v5M168.5 662v4M169.5 599v5M169.5 618v15M169.5 652v5M170.5 657v9M171.5 614v4M171.5 623v5M172.5 657v9M172.5 671v2M173.5 652v5M173.5 666v7M174.5 657v5M174.5 666v7M175.5 628v5M175.5 652v21M176.5 657v5M178.5 614v4M178.5 623v10M179.5 604v5M179.5 614v4M179.5 628v5M180.5 652v10M181.5 671v2M182.5 657v5M182.5 666v7M183.5 594v20M183.5 618v5M183.5 657v5M184.5 594v10M184.5 609v5M184.5 618v10M184.5 657v9M185.5 604v5M185.5 618v5M185.5 628v5M185.5 657v9M185.5 671v2M186.5 599v5M186.5 647v10M187.5 614v9M187.5 662v4M188.5 594v5M188.5 604v24M188.5 666v5M189.5 599v10M189.5 614v19M189.5 662v11M190.5 594v10M190.5 609v24M190.5 666v7M192.5 628v5M192.5 652v5M192.5 666v7M193.5 666v5M194.5 662v4M195.5 604v5M195.5 618v5M195.5 652v5M196.5 614v4M196.5 623v5M196.5 652v5M196.5 662v4M197.5 657v16M198.5 609v5M198.5 652v5M198.5 671v2M199.5 604v5M200.5 657v9M200.5 671v2M201.5 609v14M201.5 628v5M201.5 657v5M202.5 657v5M202.5 666v7M203.5 652v10M203.5 671v2M204.5 662v9M205.5 657v14M206.5 652v14M207.5 662v9M208.5 623v10M208.5 647v5M209.5 652v5M209.5 662v4M210.5 657v5M210.5 666v5M211.5 652v5M211.5 662v11M212.5 666v7M214.5 594v5M214.5 614v9M214.5 628v5M215.5 657v5M215.5 671v2M216.5 609v5M216.5 623v5M216.5 652v10M218.5 594v10M218.5 652v5M219.5 666v7M220.5 609v24M221.5 618v5M221.5 647v10M222.5 618v5M222.5 628v5M222.5 647v15M223.5 666v7M224.5 599v5M224.5 609v5M224.5 618v5M225.5 657v5M225.5 666v7M226.5 657v9M227.5 599v15M227.5 623v5M228.5 652v5M228.5 662v4M229.5 604v5M229.5 614v14M229.5 657v5M229.5 671v2M230.5 594v5M230.5 618v5M230.5 628v5M230.5 647v5M231.5 647v5M232.5 599v5M232.5 618v15M232.5 652v10M232.5 666v7M233.5 599v5M233.5 609v5M233.5 623v10M233.5 652v5M233.5 662v11M234.5 599v15M234.5 618v5M234.5 628v5M234.5 647v5M234.5 657v5M235.5 594v5M235.5 623v10M235.5 657v5M236.5 599v5M236.5 609v19M236.5 652v19M237.5 604v5M237.5 614v9M237.5 662v4M237.5 671v2M238.5 599v5M238.5 609v5M238.5 623v10M238.5 652v5M238.5 662v4M239.5 604v14M240.5 662v4M240.5 671v2M241.5 604v10M241.5 628v5M242.5 652v5M242.5 662v4M243.5 609v5M243.5 618v5M243.5 657v5M244.5 609v5M244.5 618v10M244.5 652v5M246.5 657v5M246.5 666v7M247.5 657v9M247.5 671v2M248.5 604v5M248.5 652v5M248.5 662v11M249.5 662v9M250.5 609v24M250.5 652v5M251.5 604v14M251.5 623v5M252.5 594v24M252.5 628v5M253.5 594v5M253.5 604v5M253.5 614v4M254.5 657v5M255.5 599v10M255.5 618v15M256.5 671v2M257.5 594v5M257.5 604v10M257.5 618v5M258.5 657v16M259.5 657v5M259.5 666v5M260.5 652v10M260.5 666v7M261.5 652v10M261.5 666v5M262.5 652v5M262.5 666v5M263.5 594v5M263.5 609v9M264.5 623v10M264.5 652v19M266.5 657v5M267.5 671v2M268.5 609v5M268.5 623v5M268.5 652v5M268.5 662v4M269.5 666v5M270.5 671v2M271.5 657v9M272.5 594v5M272.5 604v10M272.5 666v5M273.5 657v5M273.5 666v7M274.5 671v2M275.5 609v5M275.5 628v5M276.5 628v5M276.5 666v7M277.5 657v9M277.5 671v2M278.5 662v11M279.5 604v10M279.5 618v5M280.5 594v5M280.5 604v5M280.5 614v19M280.5 652v5M281.5 657v5M282.5 657v5M282.5 666v7M283.5 657v16M284.5 657v9M284.5 671v2M285.5 671v2M286.5 652v5M286.5 662v4M286.5 671v2M287.5 609v5M287.5 662v4M287.5 671v2M288.5 652v19M289.5 657v14M290.5 614v4M290.5 628v5M290.5 652v5M290.5 666v5M291.5 604v10M291.5 666v7M292.5 599v5M292.5 609v9M293.5 599v34M293.5 652v5M294.5 652v10M294.5 666v5M295.5 614v9M296.5 652v5M296.5 666v5M297.5 623v5M297.5 657v14M298.5 657v14M299.5 618v5M299.5 657v16M300.5 657v5M301.5 666v7M302.5 657v9M303.5 666v7M304.5 662v4M305.5 652v5M306.5 657v16M307.5 652v21M308.5 652v14M309.5 652v5M309.5 662v4M309.5 671v2M310.5 604v5M310.5 614v4M310.5 623v10M311.5 671v2M312.5 657v14M314.5 618v5M314.5 657v5M315.5 609v5M315.5 618v5M315.5 662v4M315.5 671v2M316.5 662v4M316.5 671v2M317.5 618v5M317.5 662v4M317.5 671v2M318.5 657v16M319.5 594v5M319.5 604v5M319.5 618v5M319.5 628v5M320.5 657v16M322.5 618v5M322.5 652v21M323.5 657v9M323.5 671v2M324.5 662v9M325.5 652v14M325.5 671v2M328.5 657v5M328.5 671v2M329.5 657v5M329.5 666v7M330.5 609v5M330.5 657v5M330.5 666v7M331.5 614v4M331.5 657v9M332.5 594v5M332.5 604v5M332.5 628v5M333.5 652v10M334.5 604v5M334.5 618v5M334.5 657v9M335.5 662v4M336.5 657v5M336.5 666v7M337.5 609v5M337.5 618v5M337.5 652v5M337.5 662v4M338.5 666v5M339.5 662v4M339.5 671v2M340.5 618v10M340.5 652v5M341.5 657v14M342.5 657v14M343.5 666v7M344.5 671v2M345.5 657v9M345.5 671v2M346.5 599v19M346.5 623v5M347.5 671v2M348.5 657v5M348.5 671v2M349.5 657v5M350.5 657v16M351.5 657v9M353.5 662v4M354.5 666v7M356.5 623v5M356.5 666v5M357.5 623v5M357.5 657v9M358.5 662v11M359.5 599v5M359.5 609v5M359.5 628v5M359.5 652v5M360.5 666v7M361.5 623v5M361.5 652v14M362.5 599v5M362.5 614v14M363.5 594v5M363.5 614v9M364.5 594v5M364.5 609v9M364.5 652v10M365.5 599v10M365.5 618v5M365.5 662v9M367.5 657v9M367.5 671v2M368.5 599v5M368.5 609v5M368.5 623v5M369.5 657v5M369.5 666v5M370.5 657v5M370.5 666v7M371.5 618v5M371.5 657v9M372.5 614v4M372.5 666v5M373.5 662v4M374.5 614v4M374.5 657v9M374.5 671v2M376.5 652v10M376.5 666v7M377.5 594v15M377.5 614v4M378.5 609v5M378.5 628v5M378.5 652v5M379.5 623v5M379.5 652v5M379.5 666v5M380.5 652v5M381.5 671v2M382.5 652v14M382.5 671v2M384.5 594v5M384.5 671v2M385.5 657v9M385.5 671v2M386.5 662v4M386.5 671v2M388.5 666v5M389.5 666v7M390.5 599v5M390.5 609v5M390.5 623v5M391.5 652v10M392.5 614v14M392.5 657v14M393.5 614v4M393.5 657v9M394.5 604v29M395.5 657v9M396.5 594v5M396.5 609v5M396.5 618v5M396.5 628v5M397.5 662v9M398.5 614v4M398.5 662v4M398.5 671v2M399.5 594v10M399.5 609v5M399.5 618v5M400.5 666v7M401.5 604v5M401.5 614v9M401.5 666v5M402.5 599v5M402.5 614v4M402.5 628v5M403.5 657v9M403.5 671v2M404.5 623v10M404.5 652v5M405.5 662v4M405.5 671v2M406.5 599v19M407.5 594v5M407.5 604v5M408.5 599v10M408.5 614v9M408.5 628v5M409.5 662v9M411.5 666v7M412.5 657v5M412.5 666v5M413.5 657v5M413.5 666v7M414.5 662v9M415.5 657v9M415.5 671v2M416.5 652v19M417.5 652v5M417.5 671v2M418.5 662v4M420.5 652v10M420.5 666v7M421.5 618v5M421.5 657v5M421.5 666v7M422.5 657v5M422.5 666v5M423.5 657v9M423.5 671v2M424.5 657v9M425.5 618v5M425.5 666v7M426.5 599v15M426.5 623v5M427.5 662v11M428.5 652v14M429.5 652v10M429.5 666v5M430.5 666v5M431.5 671v2M432.5 594v5M432.5 623v10M433.5 594v39M433.5 652v5M434.5 657v14M435.5 657v5M435.5 666v5M436.5 614v14M437.5 652v14M437.5 671v2M438.5 652v5M438.5 666v7M439.5 623v10M440.5 594v34M440.5 652v5M441.5 652v21M442.5 666v5M443.5 671v2M445.5 652v10M446.5 657v5M447.5 671v2M448.5 594v5M448.5 652v10M448.5 671v2M449.5 662v11M450.5 666v7M451.5 604v10M451.5 623v10M452.5 618v10M452.5 652v5M452.5 662v4M452.5 671v2M453.5 599v10M453.5 614v4M453.5 623v10M454.5 614v4M454.5 628v5M454.5 652v5M455.5 666v5M458.5 652v5M458.5 662v4M458.5 671v2M459.5 662v4M460.5 657v5M460.5 666v5M463.5 618v5M465.5 671v2M466.5 642v5M471.5 590v4M498.5 633v5M504.5 614v4M506.5 594v5M509.5 633v5"/>
<path stroke="#28004b" d="M92.5 652v5M93.5 594v5M93.5 628v5M94.5 599v15M94.5 628v5M95.5 618v5M95.5 652v5M96.5 652v5M96.5 671v2M99.5 590v4M99.5 599v5M99.5 609v5M99.5 623v5M99.5 652v5M100.5 590v4M100.5 623v5M101.5 604v14M101.5 628v5M102.5 657v9M102.5 671v2M103.5 618v15M103.5 652v5M104.5 590v4M104.5 652v5M104.5 666v5M105.5 590v4M105.5 609v5M106.5 657v16M107.5 590v9M107.5 604v14M107.5 623v5M108.5 590v4M108.5 618v5M108.5 628v5M109.5 590v4M109.5 657v9M109.5 671v2M110.5 599v10M110.5 614v14M111.5 604v5M112.5 652v19M113.5 604v5M113.5 614v9M114.5 594v5M114.5 614v4M115.5 590v4M115.5 604v10M115.5 618v5M116.5 647v10M117.5 594v5M117.5 614v4M117.5 628v5M117.5 652v5M118.5 590v4M118.5 652v5M118.5 662v4M118.5 671v2M119.5 594v5M119.5 609v5M119.5 618v10M121.5 604v5M121.5 657v16M122.5 599v5M122.5 609v5M122.5 652v10M122.5 671v2M123.5 614v4M123.5 628v5M123.5 652v5M123.5 666v7M124.5 657v5M124.5 666v5M125.5 590v14M125.5 614v4M125.5 623v5M126.5 618v5M126.5 662v4M127.5 590v4M127.5 599v5M127.5 618v10M128.5 599v5M128.5 618v5M128.5 662v4M129.5 590v9M129.5 652v5M130.5 594v15M130.5 618v5M130.5 628v5M130.5 652v5M131.5 590v19M131.5 618v5M131.5 628v5M132.5 594v5M132.5 609v5M132.5 618v5M132.5 652v5M133.5 590v4M133.5 604v5M134.5 590v4M134.5 618v5M134.5 628v5M134.5 652v5M135.5 618v10M136.5 652v5M136.5 662v9M137.5 618v5M137.5 671v2M138.5 609v9M138.5 657v9M139.5 590v4M139.5 599v5M139.5 609v9M139.5 662v11M140.5 614v4M140.5 652v5M141.5 594v5M141.5 614v4M143.5 599v10M143.5 614v4M143.5 662v4M143.5 671v2M144.5 599v5M144.5 652v10M144.5 666v5M145.5 652v5M146.5 590v4M146.5 609v5M147.5 590v4M147.5 599v15M147.5 618v5M147.5 628v5M148.5 618v5M148.5 652v5M149.5 609v9M149.5 652v5M150.5 590v4M150.5 609v5M151.5 599v5M151.5 628v5M152.5 590v4M152.5 614v9M152.5 652v5M153.5 604v10M153.5 618v15M154.5 594v10M155.5 590v4M155.5 657v14M156.5 609v5M156.5 623v5M157.5 590v9M158.5 609v5M158.5 628v5M159.5 590v19M159.5 614v19M159.5 652v5M160.5 652v5M162.5 599v5M162.5 614v4M162.5 657v5M163.5 647v5M164.5 599v19M165.5 599v5M165.5 614v9M165.5 652v5M166.5 594v5M166.5 609v5M166.5 623v10M167.5 628v5M167.5 662v4M167.5 671v2M168.5 594v10M168.5 623v10M169.5 594v5M169.5 609v9M170.5 666v7M171.5 594v10M171.5 609v5M171.5 618v5M171.5 628v5M172.5 652v5M172.5 666v5M173.5 657v5M174.5 614v4M174.5 628v5M174.5 662v4M175.5 594v5M175.5 614v9M175.5 647v5M176.5 652v5M176.5 666v5M177.5 647v5M177.5 657v16M178.5 604v10M178.5 618v5M179.5 594v10M179.5 609v5M179.5 618v10M180.5 666v7M181.5 652v5M181.5 662v4M182.5 614v4M182.5 623v5M182.5 652v5M182.5 662v4M183.5 614v4M183.5 623v10M183.5 662v11M184.5 652v5M184.5 671v2M185.5 594v10M185.5 609v9M185.5 623v5M185.5 652v5M185.5 666v5M187.5 599v15M187.5 628v5M187.5 657v5M187.5 666v7M188.5 599v5M188.5 628v5M188.5 671v2M189.5 594v5M189.5 652v5M190.5 604v5M190.5 647v10M190.5 662v4M191.5 652v21M192.5 604v10M192.5 647v5M193.5 652v5M193.5 662v4M194.5 594v5M194.5 614v4M194.5 647v10M194.5 671v2M195.5 594v10M195.5 609v9M195.5 623v5M196.5 594v5M196.5 618v5M196.5 628v5M197.5 594v5M197.5 609v5M197.5 618v5M197.5 652v5M198.5 599v10M198.5 614v9M198.5 628v5M198.5 647v5M199.5 609v9M199.5 628v5M199.5 652v5M200.5 666v5M201.5 594v5M201.5 604v5M201.5 623v5M201.5 647v5M202.5 599v5M202.5 618v10M202.5 647v10M203.5 594v5M203.5 604v10M203.5 623v10M203.5 647v5M204.5 657v5M204.5 671v2M205.5 652v5M206.5 594v10M206.5 618v5M206.5 666v5M207.5 623v10M207.5 657v5M207.5 671v2M208.5 594v10M208.5 609v5M209.5 647v5M209.5 657v5M209.5 671v2M210.5 628v5M210.5 662v4M211.5 599v5M211.5 647v5M212.5 594v5M212.5 609v24M212.5 647v10M213.5 647v5M213.5 662v11M214.5 599v5M214.5 609v5M214.5 623v5M215.5 652v5M215.5 662v9M216.5 614v9M216.5 647v5M217.5 652v19M218.5 604v24M219.5 652v5M219.5 662v4M220.5 599v10M221.5 623v5M221.5 638v9M222.5 594v5M222.5 604v14M223.5 657v5M224.5 594v5M224.5 604v5M224.5 614v4M224.5 623v5M225.5 623v5M225.5 662v4M226.5 614v4M226.5 623v5M226.5 671v2M227.5 614v9M227.5 628v5M228.5 594v5M228.5 609v9M228.5 628v5M228.5 647v5M229.5 647v10M230.5 614v4M230.5 662v9M232.5 647v5M233.5 594v5M233.5 604v5M233.5 614v9M233.5 657v5M234.5 594v5M234.5 623v5M234.5 652v5M234.5 662v9M235.5 599v5M235.5 614v9M235.5 652v5M235.5 666v7M236.5 594v5M236.5 671v2M237.5 594v10M237.5 609v5M237.5 623v5M237.5 657v5M237.5 666v5M238.5 594v5M238.5 604v5M238.5 614v9M238.5 671v2M239.5 599v5M239.5 618v10M239.5 652v5M241.5 599v5M241.5 618v10M242.5 599v5M242.5 609v14M243.5 599v5M243.5 614v4M243.5 623v10M244.5 594v15M244.5 628v5M245.5 657v5M245.5 666v5M246.5 662v4M247.5 599v15M247.5 623v5M247.5 652v5M248.5 594v5M248.5 609v5M248.5 618v10M249.5 657v5M250.5 599v10M251.5 594v10M252.5 618v10M253.5 599v5M253.5 609v5M253.5 618v5M253.5 652v5M254.5 662v11M255.5 594v5M255.5 614v4M256.5 599v5M256.5 623v5M257.5 599v5M257.5 614v4M257.5 623v5M258.5 652v5M259.5 614v4M259.5 652v5M260.5 614v9M260.5 628v5M260.5 662v4M261.5 647v5M261.5 662v4M262.5 657v9M262.5 671v2M263.5 599v10M263.5 652v5M264.5 599v5M264.5 618v5M265.5 657v9M265.5 671v2M266.5 628v5M266.5 662v11M267.5 618v10M267.5 647v5M268.5 599v5M268.5 614v9M269.5 652v5M269.5 662v4M270.5 609v5M270.5 618v10M270.5 652v10M271.5 609v5M271.5 652v5M271.5 666v7M272.5 599v5M272.5 614v9M272.5 652v5M273.5 662v4M274.5 623v5M274.5 662v4M275.5 604v5M275.5 614v14M275.5 652v5M276.5 652v10M277.5 666v5M278.5 614v9M278.5 652v10M279.5 652v5M280.5 599v5M280.5 609v5M281.5 652v5M281.5 662v11M282.5 623v5M282.5 662v4M283.5 628v5M284.5 594v5M284.5 618v5M284.5 628v5M284.5 652v5M285.5 628v5M285.5 652v19M286.5 604v24M287.5 599v10M287.5 614v9M287.5 652v5M288.5 671v2M289.5 618v10M289.5 671v2M290.5 609v5M290.5 618v10M292.5 594v5M292.5 604v5M293.5 594v5M294.5 662v4M294.5 671v2M295.5 623v5M295.5 666v7M297.5 671v2M298.5 671v2M300.5 652v5M300.5 666v7M301.5 599v5M301.5 609v9M301.5 652v5M303.5 604v5M303.5 614v4M303.5 623v5M303.5 652v5M304.5 604v5M304.5 614v4M304.5 671v2M305.5 618v5M305.5 628v5M305.5 666v7M306.5 599v5M306.5 609v5M306.5 628v5M306.5 652v5M307.5 614v4M307.5 623v5M308.5 609v9M308.5 666v5M309.5 609v19M310.5 594v5M310.5 618v5M311.5 657v5M311.5 666v5M312.5 623v5M313.5 662v4M313.5 671v2M314.5 594v10M314.5 614v4M314.5 623v5M314.5 652v5M315.5 594v10M315.5 652v5M316.5 599v5M316.5 618v5M317.5 599v19M318.5 599v19M318.5 623v5M319.5 599v5M319.5 609v9M319.5 652v5M320.5 628v5M321.5 657v16M322.5 609v5M323.5 666v5M324.5 609v5M324.5 652v10M324.5 671v2M326.5 652v5M327.5 652v5M329.5 662v4M330.5 614v9M330.5 652v5M330.5 662v4M331.5 618v10M332.5 599v5M332.5 609v5M332.5 652v5M333.5 628v5M333.5 647v5M333.5 662v11M334.5 623v10M334.5 652v5M335.5 657v5M335.5 666v7M336.5 618v5M336.5 662v4M337.5 604v5M337.5 614v4M337.5 623v5M338.5 628v5M338.5 657v9M338.5 671v2M339.5 618v5M339.5 666v5M340.5 604v5M340.5 614v4M341.5 614v4M341.5 628v5M341.5 652v5M342.5 671v2M343.5 609v5M343.5 657v9M344.5 657v9M345.5 652v5M345.5 666v5M346.5 594v5M346.5 618v5M347.5 657v5M347.5 666v5M348.5 609v9M348.5 652v5M348.5 662v9M349.5 662v11M350.5 614v4M351.5 652v5M351.5 666v5M352.5 652v5M353.5 666v7M354.5 657v9M355.5 657v5M355.5 666v7M357.5 671v2M358.5 657v5M359.5 594v5M359.5 604v5M359.5 614v4M359.5 623v5M360.5 657v9M361.5 594v5M361.5 604v10M362.5 604v10M362.5 652v5M363.5 599v15M364.5 599v5M364.5 618v5M365.5 594v5M365.5 609v9M365.5 623v5M365.5 652v5M366.5 652v5M366.5 662v11M367.5 623v5M367.5 652v5M368.5 604v5M368.5 614v9M369.5 662v4M370.5 604v5M370.5 614v4M370.5 662v4M371.5 599v5M371.5 609v9M372.5 604v5M372.5 618v10M373.5 666v7M374.5 609v5M374.5 652v5M375.5 623v5M375.5 657v16M376.5 623v5M377.5 609v5M377.5 623v5M377.5 652v5M378.5 599v10M378.5 618v10M379.5 599v24M379.5 628v5M380.5 657v5M380.5 666v5M381.5 652v14M383.5 652v5M384.5 657v9M385.5 666v5M390.5 594v5M390.5 604v5M390.5 614v9M390.5 628v5M390.5 652v5M391.5 671v2M392.5 604v10M393.5 618v5M393.5 628v5M393.5 652v5M394.5 594v10M395.5 652v5M395.5 671v2M396.5 599v10M396.5 614v4M396.5 652v5M397.5 609v5M397.5 652v10M398.5 594v10M398.5 618v15M399.5 604v5M400.5 599v15M400.5 623v5M400.5 652v5M401.5 594v5M401.5 609v5M401.5 623v10M402.5 594v5M402.5 604v5M403.5 618v5M403.5 652v5M403.5 666v5M404.5 594v5M404.5 609v14M405.5 604v5M405.5 623v5M405.5 652v10M405.5 666v5M406.5 594v5M406.5 623v5M407.5 599v5M407.5 609v9M407.5 623v5M407.5 652v5M408.5 594v5M408.5 609v5M408.5 623v5M409.5 657v5M410.5 657v16M411.5 657v9M412.5 609v5M412.5 618v5M413.5 652v5M413.5 662v4M414.5 657v5M414.5 671v2M415.5 652v5M418.5 657v5M419.5 662v4M420.5 604v5M420.5 618v10M421.5 599v5M421.5 609v5M422.5 609v9M422.5 652v5M422.5 671v2M423.5 666v5M424.5 604v5M424.5 666v7M425.5 594v5M425.5 623v10M425.5 652v5M426.5 614v9M426.5 628v5M426.5 652v5M427.5 657v5M428.5 599v5M428.5 614v4M428.5 666v5M429.5 609v5M429.5 662v4M429.5 671v2M430.5 652v14M430.5 671v2M431.5 618v5M431.5 628v5M431.5 652v19M432.5 599v5M432.5 614v4M434.5 618v5M434.5 671v2M435.5 623v5M435.5 652v5M435.5 662v4M435.5 671v2M436.5 599v15M436.5 652v5M437.5 609v5M437.5 618v5M437.5 628v5M437.5 666v5M438.5 623v5M438.5 647v5M438.5 662v4M439.5 599v5M439.5 609v14M440.5 628v5M441.5 609v5M441.5 618v5M441.5 628v5M442.5 652v14M442.5 671v2M443.5 652v5M443.5 662v4M444.5 657v5M444.5 666v7M446.5 662v11M448.5 599v10M448.5 614v19M449.5 609v5M449.5 623v5M449.5 652v5M450.5 652v10M451.5 594v5M451.5 614v9M451.5 652v5M452.5 628v5M453.5 594v5M453.5 609v5M453.5 618v5M453.5 647v5M454.5 599v5M454.5 618v5M455.5 652v5M455.5 671v2M456.5 666v7M457.5 657v16M458.5 657v5M459.5 609v9M459.5 657v5M459.5 666v5M460.5 594v10M460.5 609v5M460.5 623v5M460.5 652v5M471.5 642v5M479.5 638v4M483.5 652v5M490.5 657v5M495.5 638v4M497.5 647v5M500.5 642v5M514.5 590v4"/>
<path stroke="#32005f" d="M92.5 590v4M92.5 609v19M93.5 590v4M93.5 604v5M94.5 590v4M95.5 604v14M96.5 590v4M96.5 599v5M96.5 609v9M96.5 623v5M99.5 594v5M99.5 604v5M99.5 618v5M100.5 599v15M100.5 628v5M100.5 652v5M101.5 594v10M102.5 590v4M102.5 623v10M102.5 652v5M102.5 666v5M103.5 590v4M103.5 599v5M103.5 614v4M104.5 609v5M106.5 590v9M106.5 652v5M107.5 599v5M108.5 594v5M108.5 609v5M109.5 609v9M109.5 628v5M109.5 652v5M109.5 666v5M110.5 590v9M111.5 599v5M111.5 618v10M112.5 590v4M112.5 609v5M113.5 590v4M113.5 623v10M114.5 599v5M114.5 609v5M115.5 594v5M116.5 590v4M116.5 609v5M117.5 604v5M118.5 604v5M118.5 618v10M119.5 590v4M119.5 599v5M119.5 614v4M119.5 628v5M119.5 652v5M120.5 652v5M121.5 647v10M124.5 609v5M124.5 618v10M124.5 647v5M124.5 671v2M125.5 604v10M125.5 618v5M126.5 590v4M126.5 604v5M126.5 652v5M127.5 609v9M128.5 594v5M128.5 623v5M128.5 652v5M130.5 590v4M130.5 623v5M131.5 609v9M131.5 652v5M132.5 590v4M134.5 594v5M135.5 599v19M135.5 652v5M136.5 590v4M136.5 609v5M136.5 623v5M137.5 590v4M137.5 604v5M137.5 652v10M138.5 590v4M138.5 599v10M138.5 618v5M138.5 628v5M138.5 652v5M139.5 623v10M139.5 652v5M140.5 590v9M140.5 604v10M140.5 618v15M141.5 590v4M143.5 594v5M143.5 652v5M145.5 647v5M146.5 614v4M146.5 628v5M146.5 647v5M147.5 594v5M147.5 623v5M147.5 652v5M148.5 590v4M148.5 599v5M148.5 614v4M149.5 590v4M149.5 599v5M149.5 618v15M150.5 594v5M150.5 614v9M151.5 590v4M151.5 604v10M152.5 604v5M152.5 623v5M153.5 590v9M154.5 590v4M155.5 628v5M156.5 590v4M156.5 599v10M156.5 614v9M156.5 647v5M158.5 590v19M158.5 614v4M158.5 652v5M159.5 609v5M162.5 609v5M167.5 594v5M167.5 609v5M167.5 618v5M167.5 647v5M168.5 604v19M168.5 647v5M169.5 604v5M170.5 652v5M171.5 604v5M172.5 604v5M172.5 618v15M172.5 647v5M173.5 604v10M173.5 628v5M174.5 594v5M174.5 604v5M174.5 618v10M174.5 652v5M175.5 599v15M175.5 623v5M176.5 609v5M176.5 623v10M176.5 662v4M176.5 671v2M177.5 604v5M178.5 594v10M180.5 647v5M181.5 657v5M181.5 666v5M182.5 609v5M182.5 618v5M182.5 628v5M182.5 647v5M183.5 652v5M185.5 647v5M187.5 594v5M187.5 647v10M188.5 652v14M192.5 599v5M192.5 618v5M193.5 628v5M193.5 657v5M193.5 671v2M194.5 604v10M194.5 618v5M197.5 599v5M197.5 614v4M197.5 623v5M198.5 594v5M198.5 623v5M198.5 642v5M199.5 599v5M199.5 618v10M200.5 618v5M200.5 628v5M200.5 652v5M201.5 599v5M202.5 594v5M202.5 604v5M203.5 614v9M204.5 594v5M204.5 614v4M204.5 623v5M204.5 647v10M205.5 594v5M205.5 614v4M206.5 614v4M206.5 623v5M206.5 647v5M207.5 614v4M207.5 647v10M208.5 633v5M208.5 642v5M209.5 599v5M209.5 609v9M209.5 666v5M210.5 594v5M210.5 652v5M210.5 671v2M211.5 609v5M211.5 618v15M212.5 604v5M213.5 614v4M213.5 657v5M214.5 604v5M215.5 609v5M215.5 623v5M215.5 647v5M216.5 594v15M216.5 628v10M216.5 642v5M217.5 623v5M217.5 671v2M218.5 628v5M218.5 647v5M219.5 614v4M219.5 623v10M219.5 657v5M221.5 604v14M221.5 628v10M222.5 623v5M222.5 642v5M223.5 618v10M223.5 652v5M223.5 662v4M224.5 647v5M225.5 599v5M225.5 628v5M225.5 647v10M226.5 604v5M226.5 628v5M226.5 647v10M227.5 594v5M227.5 647v5M228.5 599v10M228.5 618v10M228.5 633v5M228.5 642v5M230.5 599v15M230.5 652v10M230.5 671v2M235.5 604v10M235.5 662v4M237.5 652v5M238.5 657v5M238.5 666v5M239.5 594v5M240.5 628v5M240.5 657v5M240.5 666v5M241.5 594v5M241.5 614v4M242.5 594v5M242.5 604v5M243.5 594v5M243.5 604v5M245.5 628v5M245.5 662v4M245.5 671v2M246.5 594v5M246.5 614v4M246.5 623v10M246.5 652v5M247.5 594v5M247.5 614v9M247.5 628v5M248.5 599v5M248.5 614v4M248.5 628v5M248.5 647v5M249.5 599v5M249.5 623v5M249.5 652v5M249.5 671v2M250.5 594v5M251.5 628v5M251.5 652v5M254.5 599v5M254.5 618v5M256.5 594v5M256.5 614v4M256.5 652v5M257.5 652v5M258.5 614v4M258.5 623v5M259.5 594v5M259.5 609v5M259.5 623v10M260.5 599v5M260.5 609v5M261.5 604v10M261.5 618v5M261.5 671v2M264.5 594v5M264.5 604v14M264.5 647v5M265.5 614v4M265.5 652v5M265.5 666v5M266.5 623v5M266.5 647v10M267.5 604v5M267.5 614v4M267.5 628v5M268.5 594v5M269.5 618v5M269.5 657v5M269.5 671v2M270.5 594v5M271.5 604v5M273.5 599v5M273.5 614v4M273.5 652v5M274.5 604v5M274.5 628v5M275.5 594v10M276.5 609v19M277.5 652v5M278.5 604v10M278.5 647v5M279.5 599v5M279.5 614v4M279.5 623v10M280.5 647v5M282.5 628v5M282.5 652v5M283.5 599v10M283.5 618v10M283.5 652v5M284.5 599v5M284.5 609v5M284.5 623v5M285.5 609v5M285.5 618v5M287.5 594v5M287.5 623v5M287.5 647v5M289.5 609v5M289.5 628v5M289.5 652v5M290.5 594v15M291.5 594v10M291.5 614v9M291.5 652v5M292.5 652v5M295.5 657v9M297.5 652v5M298.5 652v5M299.5 652v5M300.5 662v4M301.5 594v5M301.5 604v5M301.5 618v5M302.5 666v7M303.5 599v5M303.5 609v5M304.5 594v5M304.5 623v5M304.5 652v5M305.5 609v5M306.5 594v5M306.5 604v5M306.5 614v14M307.5 594v5M307.5 618v5M307.5 628v5M308.5 594v10M308.5 618v15M309.5 594v15M310.5 652v5M311.5 609v5M311.5 628v5M311.5 652v5M311.5 662v4M312.5 594v5M312.5 604v5M312.5 614v9M312.5 628v5M313.5 609v5M313.5 628v5M313.5 657v5M313.5 666v5M314.5 604v10M314.5 628v5M315.5 614v4M315.5 623v5M316.5 604v14M316.5 623v5M317.5 594v5M318.5 618v5M318.5 628v5M318.5 652v5M320.5 623v5M320.5 652v5M321.5 609v9M321.5 652v5M322.5 594v15M322.5 614v4M323.5 599v5M323.5 614v4M323.5 652v5M324.5 614v4M325.5 604v10M325.5 618v5M328.5 652v5M329.5 647v10M331.5 652v5M333.5 614v4M333.5 623v5M334.5 594v5M335.5 614v4M336.5 623v10M336.5 647v10M337.5 599v5M337.5 628v5M337.5 647v5M338.5 594v5M338.5 614v4M338.5 652v5M339.5 652v10M340.5 594v10M340.5 609v5M341.5 618v5M342.5 618v5M342.5 652v5M343.5 599v5M343.5 614v9M343.5 652v5M344.5 614v9M344.5 652v5M344.5 666v5M345.5 609v5M345.5 628v5M346.5 652v5M347.5 652v5M347.5 662v4M348.5 618v10M349.5 614v14M350.5 604v10M350.5 623v5M354.5 652v5M355.5 652v5M355.5 662v4M356.5 652v5M358.5 652v5M360.5 594v5M360.5 609v5M360.5 618v5M360.5 628v5M360.5 652v5M361.5 599v5M361.5 614v9M362.5 594v5M363.5 623v5M363.5 652v5M364.5 604v5M366.5 614v4M366.5 628v5M366.5 657v5M368.5 594v5M369.5 671v2M370.5 652v5M371.5 594v5M371.5 604v5M371.5 623v10M372.5 594v10M372.5 609v5M372.5 652v5M373.5 604v10M373.5 652v10M374.5 594v5M374.5 604v5M374.5 623v10M375.5 594v10M375.5 609v5M375.5 618v5M375.5 652v5M376.5 609v5M376.5 618v5M376.5 628v5M378.5 594v5M378.5 614v4M379.5 594v5M380.5 662v4M380.5 671v2M381.5 618v10M381.5 666v5M384.5 666v5M385.5 652v5M386.5 652v5M387.5 652v5M388.5 652v5M389.5 652v5M391.5 599v5M391.5 609v9M391.5 623v5M391.5 662v9M392.5 628v5M393.5 604v5M393.5 623v5M395.5 604v5M395.5 614v19M397.5 594v5M397.5 623v5M398.5 604v10M400.5 618v5M401.5 599v5M401.5 647v5M403.5 594v5M403.5 604v14M403.5 623v5M403.5 647v5M404.5 599v10M405.5 594v5M405.5 609v14M406.5 647v5M407.5 618v5M409.5 623v5M409.5 652v5M409.5 671v2M410.5 599v5M410.5 609v19M410.5 652v5M411.5 609v9M411.5 623v5M411.5 647v10M412.5 594v10M412.5 614v4M412.5 623v5M419.5 609v5M419.5 652v10M419.5 666v7M420.5 594v10M420.5 609v9M421.5 594v5M421.5 604v5M421.5 614v4M421.5 623v10M422.5 599v5M422.5 618v5M423.5 652v5M424.5 652v5M425.5 609v5M426.5 594v5M427.5 614v4M427.5 623v10M428.5 604v5M428.5 623v5M429.5 604v5M429.5 623v5M431.5 599v5M431.5 614v4M433.5 647v5M434.5 599v5M434.5 623v10M434.5 652v5M435.5 604v19M436.5 647v5M437.5 599v5M437.5 614v4M437.5 647v5M438.5 599v19M439.5 594v5M439.5 604v5M440.5 647v5M441.5 594v15M441.5 614v4M441.5 623v5M441.5 647v5M444.5 652v5M444.5 662v4M445.5 628v5M446.5 652v5M448.5 609v5M448.5 647v5M449.5 604v5M450.5 618v5M451.5 599v5M451.5 647v5M452.5 599v10M452.5 614v4M454.5 594v5M454.5 604v10M454.5 623v5M455.5 609v5M455.5 657v9M456.5 618v5M456.5 652v14M457.5 652v5M458.5 599v10M459.5 604v5M460.5 604v5M460.5 614v9M460.5 628v5M468.5 652v5M484.5 633v5M487.5 638v4M489.5 618v5M498.5 657v5M507.5 633v5M508.5 633v5"/>
<path stroke="#3c0275" d="M92.5 594v15M93.5 647v5M95.5 594v10M95.5 647v5M96.5 604v5M96.5 618v5M96.5 628v5M96.5 647v5M100.5 594v5M103.5 594v5M103.5 604v10M103.5 647v5M104.5 614v9M104.5 628v5M106.5 614v4M106.5 647v5M109.5 618v5M109.5 647v5M111.5 594v5M111.5 609v9M112.5 604v5M112.5 623v10M114.5 604v5M114.5 618v5M114.5 652v5M116.5 594v5M116.5 614v4M116.5 623v5M118.5 647v5M119.5 647v5M124.5 604v5M124.5 652v5M125.5 647v5M126.5 594v5M126.5 623v5M127.5 594v5M128.5 609v9M128.5 628v5M130.5 609v5M132.5 599v10M134.5 599v19M134.5 623v5M135.5 628v5M135.5 647v5M136.5 599v5M136.5 614v4M136.5 647v5M137.5 599v5M137.5 628v5M138.5 594v5M138.5 623v5M139.5 618v5M140.5 599v5M141.5 647v5M146.5 599v5M146.5 618v10M147.5 614v4M148.5 623v5M148.5 647v5M149.5 604v5M150.5 623v5M155.5 604v5M155.5 623v5M157.5 647v5M167.5 604v5M167.5 614v4M169.5 647v5M170.5 647v5M171.5 647v5M172.5 609v9M173.5 614v4M173.5 623v5M173.5 647v5M174.5 599v5M174.5 609v5M174.5 647v5M176.5 647v5M177.5 594v5M177.5 618v10M177.5 652v5M179.5 647v5M180.5 599v5M180.5 614v4M181.5 604v5M181.5 614v14M181.5 647v5M182.5 599v10M183.5 647v5M188.5 647v5M191.5 604v14M192.5 594v5M192.5 614v4M192.5 623v5M193.5 614v4M194.5 623v10M195.5 638v4M196.5 604v10M196.5 647v5M197.5 628v5M197.5 647v5M199.5 647v5M200.5 599v5M200.5 614v4M202.5 614v4M202.5 628v5M203.5 599v5M204.5 599v5M204.5 618v5M205.5 628v5M206.5 609v5M206.5 628v5M207.5 594v10M209.5 618v5M209.5 642v5M210.5 609v9M211.5 594v5M211.5 604v5M211.5 614v4M212.5 599v5M213.5 652v5M215.5 599v10M216.5 638v4M217.5 614v9M217.5 647v5M219.5 647v5M221.5 594v5M222.5 599v5M222.5 633v9M223.5 604v5M223.5 614v4M223.5 633v5M223.5 642v10M225.5 604v5M225.5 614v9M225.5 633v5M225.5 642v5M226.5 594v5M228.5 638v4M240.5 609v5M240.5 623v5M243.5 647v10M245.5 599v10M245.5 614v4M245.5 652v5M246.5 618v5M249.5 604v5M249.5 618v5M249.5 647v5M254.5 594v5M254.5 609v9M254.5 623v10M254.5 652v5M255.5 652v5M256.5 604v10M256.5 618v5M258.5 594v5M258.5 604v5M258.5 618v5M258.5 628v5M259.5 599v10M259.5 618v5M260.5 594v5M260.5 623v5M261.5 623v5M262.5 614v4M262.5 623v10M262.5 647v5M265.5 618v10M267.5 599v5M267.5 609v5M268.5 604v5M269.5 604v5M269.5 623v5M270.5 604v5M270.5 628v5M271.5 618v10M272.5 623v5M274.5 594v10M274.5 609v14M274.5 647v10M276.5 599v5M277.5 599v10M277.5 628v5M278.5 594v5M278.5 623v10M279.5 594v5M281.5 599v5M283.5 614v4M283.5 647v5M284.5 604v5M284.5 614v4M285.5 604v5M285.5 614v4M285.5 623v5M286.5 594v10M286.5 628v5M288.5 609v14M289.5 594v10M291.5 623v5M295.5 652v5M296.5 647v5M297.5 647v5M299.5 623v5M300.5 604v5M300.5 618v5M302.5 599v5M302.5 618v5M303.5 594v5M303.5 618v5M303.5 628v5M304.5 618v5M304.5 628v5M305.5 599v10M305.5 614v4M305.5 623v5M307.5 599v15M308.5 604v5M311.5 614v4M312.5 599v5M312.5 609v5M312.5 652v5M313.5 599v10M313.5 623v5M313.5 652v5M315.5 604v5M316.5 594v5M317.5 623v5M317.5 652v5M318.5 594v5M320.5 614v9M321.5 599v5M321.5 618v5M322.5 623v5M323.5 628v5M325.5 594v10M325.5 614v4M325.5 623v5M325.5 647v5M327.5 647v5M330.5 647v5M331.5 647v5M333.5 599v5M333.5 609v5M333.5 618v5M334.5 599v5M334.5 609v9M335.5 652v5M336.5 604v5M336.5 614v4M337.5 594v5M338.5 599v5M338.5 609v5M338.5 618v5M339.5 604v10M339.5 628v5M341.5 623v5M342.5 594v5M342.5 604v5M342.5 623v5M343.5 623v10M344.5 604v5M344.5 628v5M345.5 618v5M347.5 609v9M348.5 594v10M348.5 628v5M349.5 652v5M350.5 599v5M350.5 618v5M350.5 628v5M353.5 652v5M357.5 652v5M358.5 647v5M360.5 614v4M364.5 623v5M366.5 618v10M367.5 604v5M367.5 618v5M369.5 594v5M369.5 614v4M369.5 628v5M369.5 652v5M370.5 599v5M371.5 652v5M374.5 618v5M375.5 614v4M375.5 628v5M376.5 599v5M376.5 614v4M377.5 628v5M378.5 647v5M380.5 614v4M380.5 647v5M381.5 594v10M381.5 609v5M381.5 647v5M384.5 652v5M391.5 604v5M392.5 594v10M392.5 652v5M393.5 594v10M393.5 609v5M394.5 647v5M395.5 594v5M395.5 609v5M397.5 614v9M397.5 628v5M398.5 647v10M399.5 623v5M400.5 614v4M400.5 628v5M402.5 647v5M404.5 647v5M405.5 647v5M408.5 647v5M409.5 609v5M409.5 647v5M410.5 594v5M410.5 628v5M410.5 647v5M411.5 594v10M411.5 618v5M412.5 604v5M412.5 652v5M413.5 647v5M414.5 652v5M419.5 623v5M419.5 647v5M422.5 604v5M422.5 623v10M423.5 614v14M424.5 599v5M424.5 609v5M424.5 618v10M425.5 599v10M425.5 614v4M427.5 604v5M427.5 618v5M427.5 647v10M428.5 594v5M428.5 609v5M428.5 618v5M428.5 628v5M429.5 628v5M430.5 623v10M431.5 594v5M431.5 609v5M431.5 623v5M432.5 647v5M434.5 609v9M435.5 628v5M438.5 618v5M438.5 628v5M447.5 628v5M447.5 647v5M449.5 599v5M449.5 618v5M450.5 628v5M452.5 594v5M452.5 609v5M452.5 647v5M455.5 614v4M455.5 623v10M456.5 594v5M456.5 614v4M456.5 623v5M457.5 599v5M457.5 609v5M457.5 618v10M457.5 647v5M458.5 623v10M459.5 594v10M459.5 628v5M459.5 652v5"/>
<path stroke="#46048b" d="M92.5 647v5M101.5 647v5M102.5 599v5M102.5 609v14M104.5 599v5M106.5 599v5M106.5 623v5M112.5 594v10M112.5 614v9M114.5 623v10M115.5 647v5M116.5 618v5M116.5 628v5M118.5 628v5M120.5 647v5M122.5 647v5M124.5 614v4M126.5 609v5M126.5 628v5M127.5 647v5M128.5 604v5M131.5 647v5M135.5 594v5M136.5 594v5M136.5 618v5M137.5 594v5M137.5 609v5M139.5 594v5M139.5 604v5M146.5 594v5M146.5 604v5M148.5 594v5M148.5 604v10M149.5 594v5M152.5 628v5M152.5 647v5M155.5 594v5M155.5 609v5M155.5 618v5M158.5 647v5M159.5 647v5M160.5 647v5M161.5 647v5M162.5 647v5M164.5 647v5M167.5 623v5M170.5 590v14M170.5 618v5M170.5 628v5M171.5 590v4M172.5 590v4M173.5 618v5M176.5 599v5M176.5 614v9M176.5 642v5M177.5 590v4M177.5 614v4M178.5 590v4M179.5 590v4M180.5 604v10M180.5 618v15M181.5 590v4M181.5 599v5M182.5 594v5M184.5 647v5M187.5 642v5M189.5 647v5M191.5 618v15M192.5 590v4M193.5 590v4M193.5 609v5M193.5 618v10M193.5 647v5M194.5 599v5M195.5 633v5M195.5 642v5M196.5 599v5M197.5 604v5M198.5 638v4M199.5 590v9M200.5 590v4M200.5 604v5M200.5 647v5M202.5 609v5M203.5 590v4M204.5 590v4M204.5 609v5M204.5 628v5M205.5 590v4M205.5 599v5M205.5 609v5M205.5 618v10M206.5 604v5M206.5 642v5M207.5 590v4M207.5 604v10M207.5 618v5M207.5 633v5M207.5 642v5M208.5 638v4M209.5 594v5M209.5 604v5M209.5 623v10M210.5 599v5M210.5 618v10M211.5 642v5M213.5 590v4M213.5 604v5M213.5 618v5M213.5 628v5M214.5 590v4M214.5 647v5M215.5 594v5M215.5 614v9M215.5 628v5M217.5 599v15M217.5 628v5M217.5 642v5M219.5 590v4M219.5 599v5M219.5 609v5M220.5 590v4M220.5 647v5M221.5 599v5M223.5 599v5M223.5 628v5M223.5 638v4M224.5 590v4M225.5 590v9M225.5 609v5M226.5 599v5M226.5 609v5M226.5 618v5M226.5 633v5M226.5 642v5M231.5 642v5M239.5 590v4M240.5 618v5M242.5 590v4M242.5 623v5M244.5 590v4M244.5 647v5M246.5 590v4M246.5 604v10M248.5 590v4M249.5 609v9M250.5 647v5M252.5 652v5M253.5 623v5M253.5 647v5M254.5 604v5M258.5 599v5M258.5 609v5M259.5 590v4M260.5 590v4M260.5 604v5M260.5 647v5M261.5 599v5M262.5 599v15M262.5 618v5M265.5 590v4M265.5 604v5M265.5 647v5M266.5 599v10M266.5 618v5M267.5 594v5M269.5 599v5M269.5 609v5M270.5 590v4M270.5 599v5M270.5 614v4M270.5 647v5M273.5 590v9M273.5 604v10M273.5 618v10M275.5 590v4M276.5 594v5M276.5 604v5M277.5 618v10M278.5 590v4M280.5 590v4M281.5 618v5M281.5 628v5M281.5 647v5M282.5 604v5M282.5 614v9M283.5 594v5M283.5 609v5M285.5 599v5M288.5 623v5M289.5 604v5M289.5 614v4M289.5 647v5M290.5 590v4M291.5 590v4M297.5 628v5M300.5 614v4M300.5 623v10M301.5 590v4M301.5 623v5M302.5 652v5M303.5 590v4M304.5 590v4M304.5 599v5M304.5 609v5M305.5 594v5M305.5 647v5M307.5 590v4M308.5 590v4M308.5 647v5M310.5 590v4M311.5 590v4M311.5 647v5M313.5 594v5M316.5 652v5M318.5 590v4M320.5 594v20M321.5 590v9M321.5 623v5M323.5 609v5M323.5 618v10M324.5 599v10M324.5 618v5M325.5 590v4M330.5 623v5M333.5 594v5M333.5 604v5M335.5 594v10M335.5 647v5M336.5 594v5M336.5 609v5M338.5 590v4M338.5 604v5M338.5 623v5M339.5 590v9M339.5 614v4M339.5 623v5M340.5 590v4M340.5 628v5M341.5 590v4M341.5 599v15M342.5 609v9M343.5 590v4M343.5 604v5M345.5 604v5M345.5 614v4M345.5 623v5M345.5 647v5M346.5 628v5M347.5 623v5M348.5 604v5M349.5 594v5M349.5 604v10M349.5 628v5M350.5 590v9M360.5 604v5M360.5 623v5M361.5 590v4M362.5 590v4M364.5 590v4M365.5 628v5M366.5 599v5M367.5 614v4M368.5 590v4M368.5 652v5M369.5 609v5M369.5 623v5M369.5 647v5M370.5 609v5M370.5 618v10M372.5 647v5M373.5 618v15M373.5 647v5M374.5 599v5M375.5 604v5M376.5 594v5M376.5 604v5M376.5 647v5M380.5 590v4M380.5 604v5M380.5 628v5M381.5 604v5M381.5 628v5M389.5 647v5M391.5 594v5M391.5 618v5M391.5 628v5M392.5 590v4M393.5 590v4M394.5 590v4M395.5 599v5M397.5 590v4M397.5 599v10M398.5 590v4M400.5 594v5M401.5 590v4M403.5 590v4M403.5 599v5M405.5 599v5M405.5 628v5M407.5 590v4M408.5 590v4M409.5 594v15M409.5 628v5M410.5 590v4M410.5 604v5M411.5 590v4M411.5 604v5M411.5 628v5M415.5 647v5M416.5 623v5M419.5 590v9M419.5 604v5M419.5 614v9M422.5 594v5M423.5 590v9M423.5 647v5M424.5 590v4M424.5 614v4M424.5 628v5M425.5 647v5M427.5 609v5M428.5 647v5M429.5 594v10M429.5 614v9M430.5 590v14M430.5 609v14M431.5 604v5M434.5 594v5M434.5 604v5M435.5 594v10M437.5 590v9M437.5 604v5M437.5 623v5M438.5 590v9M439.5 590v4M440.5 590v4M443.5 647v5M445.5 647v5M449.5 590v4M449.5 614v4M449.5 628v5M450.5 599v5M450.5 609v9M450.5 623v5M454.5 590v4M454.5 647v5M455.5 590v4M455.5 599v5M455.5 618v5M456.5 628v5M457.5 590v4M458.5 594v5M458.5 609v14M459.5 618v10"/>
<path stroke="#4c06a1" d="M95.5 623v5M102.5 594v5M104.5 604v5M104.5 623v5M106.5 609v5M106.5 618v5M106.5 628v5M109.5 594v10M109.5 623v5M110.5 647v5M112.5 647v5M114.5 647v5M116.5 599v10M117.5 647v5M118.5 599v5M118.5 609v9M124.5 594v10M126.5 599v5M126.5 614v4M132.5 628v5M132.5 647v5M136.5 604v5M137.5 614v4M137.5 623v5M147.5 647v5M149.5 647v5M150.5 647v5M155.5 614v4M165.5 590v4M165.5 647v5M167.5 590v4M167.5 599v5M170.5 604v14M170.5 623v5M172.5 594v10M173.5 590v14M174.5 642v5M176.5 594v5M176.5 604v5M176.5 633v9M177.5 609v5M177.5 628v5M178.5 647v5M180.5 594v5M181.5 609v5M181.5 628v5M185.5 633v5M185.5 642v5M188.5 642v5M190.5 642v5M191.5 594v5M191.5 647v5M192.5 633v5M192.5 642v5M193.5 594v5M193.5 604v5M193.5 642v5M194.5 590v4M194.5 633v5M194.5 642v5M197.5 642v5M198.5 590v4M198.5 633v5M200.5 594v5M200.5 609v5M200.5 623v5M200.5 642v5M203.5 642v5M204.5 604v5M204.5 642v5M205.5 604v5M209.5 590v4M209.5 633v5M210.5 590v4M210.5 647v5M211.5 638v4M212.5 638v9M213.5 599v5M213.5 623v5M213.5 642v5M214.5 642v5M215.5 590v4M217.5 594v5M217.5 633v5M219.5 618v5M222.5 590v4M223.5 594v5M223.5 609v5M225.5 638v4M226.5 638v4M227.5 642v5M228.5 590v4M229.5 642v5M230.5 642v5M231.5 633v9M233.5 647v5M235.5 647v5M239.5 628v5M240.5 599v10M240.5 614v4M240.5 652v5M245.5 609v5M245.5 618v5M246.5 599v5M249.5 590v9M249.5 628v5M250.5 590v4M251.5 590v4M254.5 647v5M255.5 590v4M256.5 628v5M257.5 590v4M261.5 594v5M261.5 614v4M261.5 628v5M262.5 590v4M263.5 647v5M265.5 609v5M265.5 628v5M266.5 609v9M267.5 590v4M268.5 590v4M268.5 628v5M269.5 590v4M269.5 614v4M269.5 628v5M271.5 594v10M271.5 614v4M272.5 590v4M274.5 590v4M277.5 590v9M277.5 614v4M278.5 599v5M279.5 590v4M281.5 590v9M281.5 609v9M281.5 623v5M282.5 590v14M282.5 609v5M284.5 590v4M285.5 590v9M285.5 647v5M286.5 590v4M288.5 590v19M288.5 628v5M292.5 590v4M300.5 590v4M300.5 599v5M300.5 609v5M302.5 590v9M302.5 604v14M306.5 590v4M306.5 647v5M311.5 599v5M311.5 618v5M312.5 590v4M313.5 614v9M314.5 590v4M319.5 590v4M320.5 590v4M321.5 604v5M321.5 628v5M322.5 590v4M322.5 647v5M323.5 590v9M323.5 647v5M324.5 594v5M324.5 623v5M331.5 628v5M332.5 590v4M332.5 647v5M335.5 604v10M335.5 618v15M336.5 599v5M339.5 599v5M341.5 594v5M342.5 599v5M343.5 594v5M344.5 590v4M344.5 599v5M344.5 609v5M344.5 623v5M344.5 647v5M345.5 594v10M347.5 594v10M347.5 618v5M347.5 628v5M348.5 590v4M349.5 590v4M349.5 599v5M349.5 647v5M357.5 647v5M360.5 590v4M360.5 647v5M362.5 628v5M362.5 647v5M365.5 590v4M365.5 647v5M366.5 604v5M367.5 594v10M367.5 609v5M367.5 628v5M368.5 628v5M369.5 590v4M369.5 599v10M370.5 594v5M371.5 590v4M372.5 590v4M373.5 590v4M373.5 599v5M373.5 614v4M374.5 590v4M376.5 590v4M377.5 590v4M379.5 590v4M380.5 594v5M380.5 609v5M380.5 618v10M381.5 590v4M381.5 614v4M390.5 590v4M395.5 647v5M396.5 590v4M400.5 647v5M403.5 628v5M406.5 590v4M409.5 590v4M409.5 618v5M419.5 628v5M420.5 628v5M421.5 590v4M422.5 647v5M423.5 604v10M424.5 647v5M426.5 590v4M426.5 647v5M427.5 590v14M428.5 590v4M430.5 604v5M432.5 590v4M434.5 590v4M434.5 647v5M441.5 590v4M444.5 647v5M448.5 590v4M449.5 594v5M450.5 590v9M450.5 604v5M450.5 647v5M451.5 590v4M452.5 590v4M455.5 594v5M456.5 590v4M456.5 599v15M457.5 614v4M458.5 590v4"/>
<path stroke="#4f09b8" d="M95.5 628v5M96.5 594v5M99.5 647v5M102.5 604v5M106.5 604v5M107.5 647v5M109.5 604v5M111.5 628v5M111.5 647v5M113.5 647v5M118.5 594v5M123.5 647v5M124.5 628v5M126.5 647v5M133.5 647v5M134.5 647v5M136.5 628v5M142.5 647v5M148.5 628v5M150.5 628v5M151.5 647v5M155.5 599v5M155.5 647v5M163.5 642v5M164.5 590v4M166.5 590v4M166.5 642v5M168.5 590v4M169.5 590v4M171.5 642v5M174.5 590v4M175.5 590v4M176.5 590v4M177.5 633v9M179.5 642v5M180.5 590v4M181.5 594v5M182.5 590v4M185.5 638v4M186.5 633v5M186.5 642v5M187.5 633v5M189.5 642v5M191.5 590v4M191.5 599v5M192.5 638v4M193.5 599v5M193.5 633v9M195.5 590v4M196.5 590v4M196.5 642v5M197.5 590v4M197.5 638v4M199.5 642v5M201.5 590v4M202.5 590v4M202.5 642v5M204.5 633v9M205.5 647v5M206.5 590v4M206.5 633v9M208.5 590v4M209.5 638v4M210.5 604v5M210.5 633v5M210.5 642v5M211.5 590v4M211.5 633v5M212.5 590v4M212.5 633v5M213.5 609v5M213.5 633v5M214.5 633v5M216.5 590v4M217.5 590v4M217.5 638v4M218.5 590v4M219.5 594v5M219.5 604v5M220.5 638v9M221.5 590v4M223.5 590v4M226.5 590v4M227.5 590v4M227.5 633v5M232.5 642v5M234.5 642v5M236.5 647v5M237.5 628v5M240.5 590v9M241.5 590v4M241.5 647v5M242.5 628v5M243.5 590v4M245.5 590v9M245.5 623v5M247.5 590v4M252.5 590v4M252.5 647v5M253.5 590v4M254.5 590v4M256.5 590v4M256.5 647v5M257.5 628v5M258.5 590v4M258.5 647v5M261.5 590v4M262.5 594v5M263.5 590v4M264.5 590v4M265.5 599v5M266.5 590v9M268.5 647v5M269.5 594v5M271.5 590v4M275.5 647v5M276.5 590v4M276.5 647v5M277.5 609v5M277.5 647v5M281.5 604v5M283.5 590v4M286.5 647v5M287.5 590v4M287.5 628v5M289.5 590v4M293.5 590v4M294.5 647v5M295.5 647v5M302.5 623v5M305.5 590v4M309.5 590v4M311.5 604v5M311.5 623v5M312.5 647v5M313.5 590v4M315.5 590v4M316.5 590v4M317.5 590v4M323.5 604v5M324.5 590v4M324.5 647v5M333.5 590v4M334.5 590v4M335.5 590v4M336.5 590v4M337.5 590v4M338.5 647v5M341.5 647v5M342.5 590v4M342.5 628v5M344.5 594v5M345.5 590v4M346.5 590v4M347.5 590v4M347.5 604v5M350.5 652v5M354.5 647v5M357.5 628v5M359.5 590v4M360.5 599v5M361.5 628v5M363.5 590v4M363.5 628v5M363.5 647v5M366.5 590v4M366.5 609v5M367.5 590v4M369.5 618v5M370.5 590v4M373.5 594v5M375.5 590v4M375.5 647v5M378.5 590v4M380.5 599v5M382.5 647v5M383.5 647v5M390.5 647v5M391.5 590v4M395.5 590v4M399.5 590v4M400.5 590v4M402.5 590v4M404.5 590v4M405.5 590v4M407.5 647v5M409.5 614v4M412.5 590v4M412.5 628v5M416.5 647v5M419.5 599v5M420.5 590v4M420.5 647v5M422.5 590v4M423.5 599v5M423.5 628v5M424.5 594v5M425.5 590v4M429.5 590v4M431.5 590v4M431.5 647v5M433.5 590v4M435.5 590v4M435.5 647v5M436.5 590v4M446.5 647v5M453.5 590v4M455.5 604v5M456.5 647v5M457.5 604v5M457.5 628v5M459.5 590v4M460.5 590v4"/>
<path stroke="#480ace" d="M100.5 647v5M104.5 594v5M105.5 647v5M108.5 647v5M129.5 647v5M153.5 647v5M162.5 633v5M162.5 642v5M163.5 633v5M164.5 633v5M165.5 642v5M171.5 633v9M175.5 633v5M175.5 642v5M177.5 599v5M177.5 642v5M179.5 633v5M184.5 633v5M184.5 642v5M186.5 638v4M187.5 638v4M188.5 633v9M190.5 633v9M194.5 638v4M197.5 633v5M199.5 633v5M201.5 642v5M202.5 633v5M203.5 633v5M207.5 638v4M213.5 594v5M213.5 638v4M214.5 638v4M219.5 633v5M220.5 633v5M227.5 638v4M229.5 638v4M230.5 633v5M232.5 633v9M234.5 638v4M237.5 647v5M239.5 647v5M242.5 647v5M246.5 647v5M251.5 647v5M253.5 628v5M262.5 642v5M265.5 594v5M269.5 647v5M271.5 628v5M272.5 628v5M279.5 647v5M282.5 647v5M284.5 647v5M291.5 628v5M300.5 594v5M303.5 647v5M309.5 647v5M311.5 594v5M314.5 647v5M315.5 647v5M316.5 628v5M317.5 628v5M317.5 647v5M320.5 647v5M325.5 628v5M328.5 647v5M330.5 628v5M334.5 647v5M348.5 647v5M361.5 647v5M366.5 594v5M367.5 647v5M368.5 647v5M371.5 647v5M372.5 628v5M377.5 647v5M379.5 647v5M386.5 647v5M388.5 647v5M399.5 628v5M401.5 642v5M404.5 642v5M407.5 628v5M412.5 647v5M414.5 647v5M416.5 628v5M417.5 647v5M418.5 647v5M439.5 647v5M440.5 642v5M442.5 647v5M449.5 647v5M457.5 594v5M459.5 647v5"/>
<path stroke="#3a0ce3" d="M94.5 647v5M128.5 647v5M143.5 647v5M149.5 642v5M154.5 647v5M161.5 642v5M164.5 642v5M166.5 638v4M167.5 633v5M167.5 642v5M168.5 642v5M169.5 642v5M170.5 642v5M172.5 642v5M173.5 642v5M174.5 638v4M178.5 642v5M179.5 638v4M181.5 633v5M181.5 642v5M182.5 642v5M191.5 642v5M196.5 633v5M199.5 638v4M200.5 633v5M201.5 633v9M202.5 638v4M203.5 638v4M210.5 638v4M215.5 642v5M219.5 642v5M224.5 642v5M229.5 633v5M230.5 638v4M234.5 633v5M238.5 647v5M247.5 647v5M255.5 647v5M259.5 647v5M262.5 633v5M264.5 642v5M265.5 642v5M267.5 642v5M272.5 647v5M288.5 647v5M301.5 628v5M309.5 628v5M313.5 647v5M315.5 628v5M326.5 647v5M339.5 647v5M342.5 647v5M343.5 647v5M356.5 628v5M356.5 647v5M364.5 628v5M370.5 628v5M370.5 647v5M385.5 647v5M397.5 647v5M402.5 633v5M402.5 642v5M408.5 642v5M421.5 647v5M428.5 642v5M429.5 647v5M436.5 642v5M440.5 638v4"/>
<path stroke="#280ef3" d="M109.5 633v5M109.5 642v5M116.5 633v5M139.5 647v5M145.5 642v5M157.5 642v5M163.5 638v4M165.5 638v4M166.5 633v5M167.5 638v4M170.5 633v5M173.5 633v9M174.5 633v5M175.5 638v4M180.5 642v5M182.5 633v5M183.5 642v5M184.5 638v4M189.5 633v9M200.5 638v4M215.5 633v5M218.5 633v14M219.5 638v4M224.5 638v4M233.5 633v14M245.5 647v5M257.5 647v5M261.5 642v5M266.5 642v5M267.5 633v5M271.5 647v5M273.5 628v5M273.5 647v5M291.5 647v5M295.5 628v5M299.5 628v5M302.5 628v5M318.5 647v5M322.5 628v5M324.5 628v5M346.5 647v5M355.5 647v5M366.5 647v5M374.5 647v5M380.5 633v5M391.5 647v5M392.5 647v5M393.5 647v5M399.5 647v5M401.5 633v9M403.5 642v5M404.5 633v9M405.5 642v5M406.5 638v9M428.5 633v5M438.5 633v14M455.5 647v5M458.5 647v5"/>
<path stroke="#1411fd" d="M108.5 642v5M109.5 638v4M112.5 633v5M115.5 642v5M116.5 642v5M130.5 647v5M137.5 647v5M138.5 647v5M140.5 647v5M141.5 642v5M142.5 642v5M146.5 642v5M156.5 642v5M161.5 633v5M162.5 638v4M164.5 638v4M165.5 633v5M168.5 633v5M169.5 633v5M172.5 633v9M178.5 633v5M181.5 638v4M182.5 638v4M183.5 633v5M191.5 633v5M196.5 638v4M224.5 633v5M262.5 638v4M265.5 633v9M270.5 642v5M280.5 633v5M280.5 642v5M293.5 647v5M299.5 647v5M301.5 647v5M332.5 642v5M335.5 642v5M336.5 633v5M336.5 642v5M394.5 642v5M400.5 642v5M402.5 638v4M406.5 633v5M408.5 633v9M428.5 638v4M437.5 642v5M440.5 633v5M441.5 642v5M452.5 642v5M460.5 647v5"/>
<path stroke="#0a1cff" d="M112.5 638v9M113.5 633v5M113.5 642v5M118.5 642v5M144.5 647v5M149.5 633v5M154.5 642v5M157.5 638v4M160.5 642v5M168.5 638v4M169.5 638v4M170.5 638v4M178.5 638v4M180.5 633v5M183.5 638v4M191.5 638v4M215.5 638v4M235.5 642v5M249.5 642v5M250.5 642v5M260.5 642v5M263.5 642v5M264.5 633v5M266.5 633v9M267.5 638v4M270.5 633v9M282.5 642v5M283.5 642v5M292.5 647v5M294.5 642v5M304.5 647v5M307.5 647v5M319.5 647v5M334.5 642v5M338.5 642v5M340.5 647v5M347.5 647v5M375.5 642v5M380.5 642v5M384.5 647v5M400.5 638v4M405.5 633v9M419.5 642v5M423.5 642v5M424.5 642v5M425.5 642v5M426.5 642v5M430.5 647v5M431.5 642v5M432.5 633v5M432.5 642v5M434.5 642v5M436.5 633v9M437.5 633v5M441.5 633v9M447.5 642v5M448.5 642v5M449.5 642v5M452.5 633v5M453.5 642v5M457.5 642v5"/>
<path stroke="#0329ff" d="M102.5 647v5M104.5 647v5M106.5 642v5M107.5 642v5M108.5 638v4M110.5 642v5M111.5 642v5M113.5 638v4M115.5 633v9M116.5 638v4M122.5 642v5M123.5 642v5M127.5 642v5M142.5 633v9M145.5 633v9M147.5 642v5M149.5 638v4M150.5 642v5M151.5 642v5M157.5 633v5M160.5 633v5M161.5 638v4M180.5 638v4M235.5 633v5M240.5 647v5M242.5 642v5M259.5 642v5M260.5 633v5M261.5 633v5M264.5 638v4M268.5 642v5M278.5 642v5M282.5 633v9M283.5 633v5M286.5 633v5M286.5 642v5M290.5 647v5M298.5 647v5M310.5 647v5M331.5 642v5M333.5 642v5M334.5 633v5M344.5 642v5M350.5 647v5M365.5 642v5M380.5 638v4M382.5 642v5M396.5 647v5M400.5 633v5M403.5 633v9M409.5 642v5M418.5 642v5M420.5 642v5M421.5 642v5M433.5 642v5M437.5 638v4M439.5 642v5M450.5 638v9M451.5 633v5M451.5 642v5M452.5 638v4M453.5 633v5M456.5 642v5"/>
<path stroke="#0036ff" d="M92.5 642v5M95.5 642v5M108.5 633v5M114.5 633v5M114.5 642v5M118.5 633v5M119.5 642v5M122.5 638v4M126.5 642v5M131.5 642v5M135.5 642v5M143.5 633v5M146.5 633v5M147.5 633v5M152.5 642v5M155.5 642v5M156.5 638v4M159.5 642v5M160.5 638v4M235.5 638v4M242.5 633v5M244.5 642v5M250.5 633v5M253.5 642v5M261.5 638v4M263.5 633v9M269.5 633v5M269.5 642v5M277.5 642v5M278.5 633v9M280.5 638v4M281.5 642v5M284.5 642v5M285.5 642v5M286.5 638v4M294.5 633v5M296.5 642v5M297.5 642v5M300.5 647v5M302.5 647v5M316.5 647v5M321.5 647v5M328.5 642v5M332.5 633v5M333.5 633v5M335.5 633v5M336.5 638v4M337.5 642v5M338.5 633v5M343.5 642v5M359.5 647v5M364.5 647v5M387.5 647v5M395.5 642v5M397.5 642v5M399.5 642v5M409.5 633v5M415.5 642v5M416.5 642v5M417.5 642v5M418.5 633v5M419.5 633v5M420.5 633v5M424.5 638v4M425.5 633v9M433.5 633v5M435.5 642v5M444.5 642v5M445.5 642v5M446.5 642v5M447.5 633v5M448.5 633v5M449.5 633v5M450.5 633v5M453.5 638v4M457.5 633v5"/>
<path stroke="#0041ff" d="M94.5 633v5M94.5 642v5M96.5 642v5M111.5 633v9M120.5 642v5M121.5 642v5M123.5 638v4M125.5 642v5M129.5 642v5M133.5 642v5M136.5 642v5M140.5 642v5M141.5 633v9M143.5 642v5M146.5 638v4M148.5 642v5M150.5 633v5M154.5 633v5M156.5 633v5M158.5 642v5M205.5 633v5M205.5 642v5M236.5 642v5M244.5 633v5M246.5 642v5M248.5 642v5M249.5 633v5M250.5 638v4M255.5 642v5M256.5 642v5M259.5 633v9M260.5 638v4M268.5 633v5M269.5 638v4M279.5 642v5M294.5 638v4M297.5 638v4M317.5 642v5M331.5 633v9M332.5 638v4M334.5 638v4M335.5 638v4M338.5 638v4M339.5 642v5M344.5 638v4M345.5 642v5M351.5 647v5M363.5 642v5M371.5 642v5M372.5 642v5M379.5 642v5M381.5 638v9M382.5 633v9M393.5 642v5M394.5 633v9M397.5 633v5M407.5 642v5M410.5 642v5M411.5 642v5M414.5 633v5M414.5 642v5M419.5 638v4M421.5 633v5M424.5 633v5M426.5 633v9M427.5 642v5M429.5 642v5M431.5 633v5M432.5 638v4M435.5 633v9M439.5 633v5M442.5 638v9M443.5 638v9M447.5 638v4M448.5 638v4M449.5 638v4M451.5 638v4M454.5 642v5"/>
<path stroke="#004eff" d="M99.5 642v5M101.5 642v5M103.5 642v5M105.5 642v5M106.5 633v9M107.5 633v9M110.5 633v5M118.5 638v4M119.5 638v4M122.5 633v5M123.5 633v5M124.5 633v5M126.5 633v5M128.5 642v5M129.5 638v4M130.5 633v5M130.5 642v5M135.5 633v9M136.5 633v5M140.5 633v5M143.5 638v4M144.5 642v5M150.5 638v4M151.5 633v5M153.5 642v5M154.5 638v4M155.5 633v9M158.5 633v5M159.5 633v5M205.5 638v4M237.5 642v5M241.5 642v5M242.5 638v4M243.5 642v5M248.5 633v5M251.5 638v9M252.5 642v5M272.5 642v5M274.5 642v5M279.5 633v5M281.5 633v5M283.5 638v4M285.5 633v5M287.5 642v5M293.5 642v5M296.5 633v9M298.5 642v5M311.5 642v5M329.5 642v5M333.5 638v4M337.5 633v9M340.5 642v5M343.5 633v5M344.5 633v5M347.5 642v5M352.5 647v5M367.5 642v5M369.5 642v5M370.5 642v5M374.5 642v5M375.5 633v9M376.5 642v5M377.5 642v5M381.5 633v5M383.5 642v5M389.5 642v5M390.5 642v5M391.5 642v5M392.5 642v5M395.5 633v9M409.5 638v4M411.5 638v4M412.5 642v5M413.5 633v5M413.5 642v5M416.5 633v5M417.5 633v5M418.5 638v4M420.5 638v4M422.5 642v5M423.5 633v9M431.5 638v4M433.5 638v4M434.5 633v5M439.5 638v4M442.5 633v5M443.5 633v5M444.5 633v9M445.5 633v5M446.5 638v4M454.5 633v5M455.5 638v9M457.5 638v4"/>
<path stroke="#005eff" d="M92.5 633v5M94.5 638v4M95.5 633v5M101.5 633v5M103.5 633v5M105.5 633v5M114.5 638v4M117.5 642v5M119.5 633v5M120.5 633v5M121.5 633v5M124.5 642v5M125.5 633v9M126.5 638v4M127.5 633v5M129.5 633v5M132.5 642v5M133.5 633v5M134.5 642v5M136.5 638v4M137.5 642v5M139.5 642v5M140.5 638v4M147.5 638v4M151.5 638v4M152.5 633v5M153.5 633v5M236.5 633v5M237.5 633v5M238.5 642v5M239.5 633v5M239.5 642v5M241.5 633v5M244.5 638v4M247.5 642v5M248.5 638v4M249.5 638v4M253.5 633v5M255.5 633v5M256.5 633v5M257.5 638v9M258.5 642v5M268.5 638v4M272.5 633v5M273.5 642v5M275.5 642v5M276.5 633v5M276.5 642v5M277.5 633v5M281.5 638v4M284.5 633v9M287.5 633v5M289.5 642v5M291.5 642v5M292.5 642v5M297.5 633v5M310.5 642v5M322.5 642v5M329.5 633v5M330.5 642v5M339.5 633v9M341.5 642v5M345.5 633v5M348.5 642v5M353.5 647v5M365.5 633v5M366.5 642v5M367.5 633v5M368.5 642v5M371.5 633v9M377.5 633v9M378.5 642v5M384.5 642v5M388.5 642v5M392.5 638v4M393.5 633v9M396.5 642v5M397.5 638v4M398.5 642v5M399.5 633v5M407.5 633v9M410.5 633v5M412.5 638v4M413.5 638v4M414.5 638v4M415.5 633v9M421.5 638v4M422.5 633v9M427.5 633v5M429.5 633v5M430.5 642v5M434.5 638v4M445.5 638v4M446.5 633v5M454.5 638v4M455.5 633v5M456.5 633v5M458.5 633v5M458.5 642v5M459.5 642v5M460.5 642v5"/>
<path stroke="#006eff" d="M92.5 638v4M93.5 633v5M93.5 642v5M96.5 633v5M103.5 638v4M105.5 638v4M110.5 638v4M117.5 633v9M124.5 638v4M127.5 638v4M128.5 633v5M130.5 638v4M131.5 633v5M133.5 638v4M138.5 642v5M139.5 633v5M144.5 633v5M148.5 633v5M152.5 638v4M158.5 638v4M159.5 638v4M236.5 638v4M240.5 642v5M241.5 638v4M243.5 633v5M245.5 642v5M251.5 633v5M256.5 638v4M257.5 633v5M258.5 633v5M272.5 638v4M274.5 633v5M275.5 633v5M277.5 638v4M285.5 638v4M287.5 638v4M293.5 633v5M295.5 642v5M300.5 642v5M305.5 642v5M307.5 642v5M308.5 642v5M311.5 633v5M314.5 642v5M317.5 633v5M319.5 642v5M321.5 642v5M322.5 633v5M329.5 638v4M340.5 633v5M341.5 633v5M343.5 638v4M345.5 638v4M358.5 642v5M359.5 642v5M362.5 642v5M363.5 633v9M365.5 638v4M369.5 633v5M372.5 633v5M379.5 633v5M384.5 633v5M386.5 642v5M389.5 633v5M390.5 633v5M399.5 638v4M411.5 633v5M416.5 638v4M417.5 638v4M427.5 638v4M456.5 638v4M459.5 633v5M460.5 633v5"/>
<path stroke="#0082ff" d="M101.5 638v4M120.5 638v4M121.5 638v4M128.5 638v4M131.5 638v4M237.5 638v4M246.5 633v9M253.5 638v4M258.5 638v4M271.5 633v5M271.5 642v5M275.5 638v4M276.5 638v4M288.5 642v5M289.5 633v5M290.5 642v5M292.5 633v5M295.5 633v5M300.5 633v5M306.5 642v5M309.5 642v5M311.5 638v4M312.5 642v5M313.5 642v5M314.5 633v5M316.5 642v5M317.5 638v4M323.5 642v5M325.5 642v5M327.5 642v5M341.5 638v4M346.5 642v5M347.5 633v5M355.5 642v5M358.5 633v5M364.5 642v5M366.5 633v5M367.5 638v4M368.5 633v5M369.5 638v4M372.5 638v4M374.5 633v5M376.5 638v4M378.5 633v5M383.5 633v5M384.5 638v4M385.5 642v5M386.5 633v5M388.5 633v5M390.5 638v4M391.5 633v5M392.5 633v5M398.5 633v5M410.5 638v4M412.5 633v5M429.5 638v4M430.5 633v5M460.5 638v4"/>
<path stroke="#0096ff" d="M93.5 638v4M95.5 638v4M96.5 638v4M99.5 633v5M100.5 642v5M102.5 642v5M134.5 633v5M137.5 633v9M138.5 633v5M144.5 638v4M153.5 638v4M238.5 633v9M239.5 638v4M240.5 633v5M243.5 638v4M245.5 633v5M247.5 633v9M252.5 633v5M254.5 642v5M255.5 638v4M271.5 638v4M273.5 633v5M274.5 638v4M279.5 638v4M291.5 633v5M292.5 638v4M300.5 638v4M305.5 633v5M307.5 633v5M308.5 633v5M310.5 633v5M313.5 633v5M318.5 642v5M322.5 638v4M324.5 642v5M328.5 633v9M330.5 633v9M354.5 642v5M357.5 642v5M358.5 638v4M360.5 642v5M364.5 633v5M370.5 633v5M373.5 633v5M373.5 642v5M374.5 638v4M376.5 633v5M378.5 638v4M379.5 638v4M383.5 638v4M386.5 638v4M387.5 642v5M396.5 633v9M398.5 638v4M458.5 638v4M459.5 638v4"/>
<path stroke="#00aaff" d="M99.5 638v4M104.5 642v5M132.5 638v4M134.5 638v4M138.5 638v4M139.5 638v4M148.5 638v4M240.5 638v4M252.5 638v4M288.5 633v5M289.5 638v4M290.5 633v5M291.5 638v4M293.5 638v4M295.5 638v4M298.5 633v5M299.5 642v5M302.5 642v5M303.5 642v5M306.5 633v5M307.5 638v4M309.5 633v5M310.5 638v4M314.5 638v4M315.5 642v5M316.5 633v5M321.5 633v5M340.5 638v4M342.5 642v5M346.5 638v4M347.5 638v4M348.5 633v5M351.5 642v5M353.5 642v5M354.5 633v5M355.5 633v5M359.5 633v9M362.5 638v4M366.5 638v4M368.5 638v4M370.5 638v4M385.5 633v5M389.5 638v4M391.5 638v4M430.5 638v4"/>
<path stroke="#00beff" d="M132.5 633v5M245.5 638v4M254.5 633v5M273.5 638v4M288.5 638v4M301.5 642v5M304.5 642v5M305.5 638v4M308.5 638v4M312.5 633v5M313.5 638v4M315.5 633v5M319.5 633v9M320.5 642v5M321.5 638v4M323.5 633v5M324.5 633v5M325.5 633v9M326.5 642v5M327.5 633v5M346.5 633v5M360.5 633v5M361.5 642v5M362.5 633v5M364.5 638v4M373.5 638v4M385.5 638v4M388.5 638v4"/>
<path stroke="#00d2ff" d="M100.5 633v9M102.5 633v5M290.5 638v4M298.5 638v4M299.5 633v5M306.5 638v4M309.5 638v4M315.5 638v4M316.5 638v4M318.5 633v5M323.5 638v4M327.5 638v4M342.5 633v5M349.5 642v5M350.5 642v5M352.5 642v5M353.5 633v5M355.5 638v4M356.5 642v5M357.5 638v4M361.5 633v5M387.5 633v5"/>
<path stroke="#00e8f8" d="M102.5 638v4M104.5 633v5M254.5 638v4M302.5 633v5M304.5 633v9M318.5 638v4M324.5 638v4M342.5 638v4M348.5 638v4M357.5 633v5M360.5 638v4M387.5 638v4"/>
<path stroke="#00fff0" d="M104.5 638v4M299.5 638v4M301.5 633v5M302.5 638v4M303.5 633v5M312.5 638v4M320.5 633v5M326.5 633v5M350.5 633v5M351.5 633v5M354.5 638v4M356.5 633v5M361.5 638v4"/>
<path stroke="#00ffd6" d="M301.5 638v4M326.5 638v4M351.5 638v4M353.5 638v4"/>
<path stroke="#00ffbc" d="M303.5 638v4M349.5 633v9M352.5 633v5"/>
<path stroke="#00ffa4" d="M320.5 638v4M352.5 638v4M356.5 638v4"/>
<path stroke="#00ff8e" d="M350.5 638v4"/></g>
<path d="M98 590h1v83h-1zM461 590h1v83h-1z" fill="#fff"/>
<path d="M92 288.5H520" stroke="#000" stroke-dasharray="3 2" stroke-width="1"/>
<path d="M92 283.3l.3 5.9l.4-5.5l.3 5.3l.4-13.9l.3 10.9l.3-15l.4 9.5l.3-5.7l.4 8.4l.3-8.3l.3 12.2l.4-9.4l.3 4.1l.4-7.7l.3 18.5l.3-17.8l.4 12.2l.3-8.9l.4 8.8l.3-4.9l.3 6.7l.4-4.2l.3 7.3l.4-7.5l.3 11.1l.3-7.4l.4 9.1l.3-6.6l.4 6.2l.3-6.7l.3 5.5l.4-13l.3 13.5l.4-14.8l.3 8.1l.3-3.6l.4 8.3l.3-6.9l.4 6.6l.3-8.5l.3 10.4l.4-9.5l.3 8.6l.4-5.9l.3 7.4l.3-6l.4 10.3l.3-7.5l.4 9.1l.3-6l.3 6l.4-5.8l.3 7.2l.4-11.7l.3 8.8l.3-7.8l.4 7.3l.3-8.7l.4 7.2l.3-8l.3 9.6l.4-3.7l.3 5.2l.4-7.7l.3 6.8l.3-1.7l.4 7.4l.3-5.2l.4 5.1l.3-6.9l.3 7.9l.4-7.2l.3 11l.4-9.3l.3 5.5l.3-5.5l.4 6.5l.3-12.1l.4 11.7l.3-4.5l.3 1.5l.4-3.5l.3 4.5l.4-8.4l.3 6.8l.3-4.2l.4 2.7l.3-7.2l.4 9l.3-10.3l.3 10.6l.4-9.4l.3 7.3l.4-9.5l.3 7.8l.3-5.9l.4 9l.3-8.5l.4 8.9l.3-7.4l.3 6.5l.4-11.2l.3 8l.4-2.7l.3 6.8l.3-10.1l.4 8.8l.3-3.5l.4 6.9l.3-8.8l.3 11.2l.4-9l.3 8.5l.4-10.6l.3 11.7l.3-9.8l.4 8l.3-4.8l.4 4.5l.3-6.5l.3 6.5l.4-14.3l.3 9l.4-6.4l.3 6.1l.3-8l.4 5.1l.3-8l.4 7.1l.3-10.1l.3 8.6l.4-7.4l.3 11.7l.4-10.2l.3 10.7l.3-10.6l.4 8.6l.3-1.4l.4 4.2l.3-3.9l.3 5.1l.4-5.6l.3 6.6l.4-7.3l.3 8.5l.3-3.4l.4 6.9l.3-10.5l.4 13.1l.3-10.7l.3 6.1l.4-9.1l.3 11.7l.4-10.5l.3 10.1l.3-10l.4 8.2l.3-7.9l.4 7.6l.3-7.9l.3 3.7l.4-5.7l.3 4.6l.4-7.3l.3 8.7l.3-13.1l.4 13.1l.3-7l.4 1.9l.3-4.8l.3 8.8l.4-9.4l.3 17.2l.4-12.5l.3 4.8l.3-10.5l.4 10.7l.3-8.7l.4 9.4l.3-8.7l.3 8.4l.4-11.2l.3 15.5l.4-11.6l.3 12.4l.3-11.8l.4 8.1l.3-3.7l.4 4.2l.3-4.4l.3 6.8l.4-9.2l.3 8.9l.4-6.4l.3 6.8l.3-6.3l.4 6.2l.3-6.9l.4 5.5l.3-5.9l.3 5l.4-5.1l.3 6.3l.4-8.9l.3 4.8l.3-6.5l.4 6.4l.3-7.2l.4 7.1l.3-6.2l.3 7.1l.4-10.2l.3 6.2l.4-5.4l.3 4.8l.3-4.5l.4 6.9l.3-10.1l.4 11.4l.3-10.9l.3 7.9l.4-4.2l.3 4.8l.4-4.7l.3 6.5l.3-5.2l.4 7l.3-7.7l.4 6.2l.3-1.6l.3 7.7l.4-6.5l.3 4.4l.4-5l.3 6.1l.3-5.6l.4 8.4l.3-9.9l.4 10.6l.3-10.2l.3 9.9l.4-8.1l.3 9l.4-9.2l.3 12.8l.3-14.3l.4 3.3l.3-6.4l.4 3.8l.3-4.6l.3 3.8l.4-4.7l.3 4.8l.4-6.3l.3 5.5l.3-5.2l.4 8.1l.3-9.6l.4 9.2l.3-7.3l.3 6l.4-6.1l.3 3.9l.4-5.8l.3 7.7l.3-3.4l.4 4.2l.3-6.2l.4 8.4l.3-9l.3 7.3l.4-5.5l.3 8.3l.4-6.7l.3 5.9l.3-5.5l.4 7.2l.3-6.5l.4 3.5l.3-3.3l.3 3.4l.4-5.4l.3 4.8l.4-4.7l.3 5l.3-7.3l.4 6.4l.3-6.9l.4 6.4l.3-4.4l.3 2l.4-8.2l.3 9.7l.4-6.5l.3 3.6l.3-6.6l.4 12.9l.3-9.7l.4 4.7l.3-7.3l.3 9.3l.4-7.2l.3 6.7l.4-8.8l.3 9.9l.3-7.4l.4 6.3l.3-6l.4 7.8l.3-8.9l.3 10.9l.4-7.1l.3 6.9l.4-10.3l.3 7l.3-8l.4 8.9l.3-4.7l.4 4.5l.3-2.6l.3 3.5l.4-6.1l.3 5.1l.4-7.7l.3 8.7l.3-7.5l.4 10.5l.3-8.4l.4 8.4l.3-8.8l.3 3.7l.4-5.3l.3 7.3l.4-5.1l.3 6.6l.3-8.7l.4 5.9l.3-9.5l.4 11l.3-6.8l.3 7.5l.4-6.5l.3 3.3l.4-4l.3 8.4l.3-10.6l.4 9.8l.3-11.1l.4 7.7l.3-6.4l.3 9l.4-8.6l.3 9l.4-4.3l.3 4.3l.3-6l.4 5.8l.3-6.1l.4 6.2l.3-4.2l.3 7.6l.4-9.9l.3 9.4l.4-6.3l.3 4.2l.3-3.8l.4 3.6l.3-5.4l.4 7l.3-9.8l.3 8.5l.4-10.2l.3 7.5l.4-7.9l.3 7.3l.3-9.3l.4 7l.3-6.7l.4 7.6l.3-10.4l.3 11.7l.4-5.7l.3 4.2l.4-5.9l.3 7.1l.3-10.5l.4 6.9l.3-6.7l.4 8l.3-4.9l.3 6l.4-4.8l.3 3.4l.4-6.3l.3 11.7l.3-12.2l.4 8.7l.3-4l.4 7.1l.3-9.1l.3 10.1l.4-12.7l.3 8.4l.4-7.2l.3 7.6l.3-7.8l.4 7.7l.3-8l.4 3l.3-5.2l.3 8.4l.4-8.7l.3 6.7l.4-5.9l.3 8.3l.3-9.2l.4 7.7l.3-14.5l.4 16.1l.3-9.9l.3 11.1l.4-12.2l.3 13.4l.4-9.8l.3 8.4l.3-9.9l.4 3.2l.3-8.4l.4-1.7l.3-4.7l.3 4.9l.4-4.1l.3 7.6l.4-11l.3 6.2l.3-5.9l.4 3.4l.3-3.7l.4 2.3l.3-3.2l.3 5.7l.4-7.3l.3 4.4l.4-5.6l.3 4.8l.3-5.9l.4 9.6l.3-7.4l.4 8.9l.3-6.7l.3 7.9l.4-16.6l.3 15.1l.4-8.8l.3 7.3l.3-3l.4 2.9l.3-5.1l.4 8.5l.3-7.7l.3 6.3l.4-9.5l.3 8.4l.4-6.6l.3 6.1l.3-6.5l.4 3.5l.3-3.9l.4 3.3l.3-4.8l.3 3.1l.4-5.7l.3 6.9l.4-4.8l.3 7.8l.3-8.8l.4 9.4l.3-8.4l.4 4.5l.3-4.9l.3 8.7l.4-7.5l.3 8.8l.4-9.8l.3 6.6l.3-2.9l.4 8.2l.3-8l.4 7.3l.3-6.7l.3 5.2l.4-4.7l.3 3.4l.4-5.3l.3 5.8l.3-4.7l.4 3.5l.3-6.1l.4 6.8l.3-9.7l.3 6.7l.4-5.3l.3 7.9l.4-8.9l.3 4.9l.3-4.6l.4 5l.3-14.6l.4 17.1l.3-6.2l.3 8.3l.4-9.7l.3 7.3l.4-3.4l.3 8.2l.3-6.3l.4 6.1l.3-6.8l.4 8.4l.3-5.4l.3 4.3l.4-6.3l.3 7.8l.4-7.4l.3 6.7l.3-7.2l.4 3.5l.3-7.3l.4 6.9l.3-7.5l.3 5.9l.4-6.3l.3 8.7l.4-7l.3 7.7l.3-6.9l.4 5.4l.3-4.4l.4 6.9l.3-4.7l.3 9.7l.4-7.3l.3 8.2l.4-8.2l.3 7.1l.3-2.9l.4 5.5l.3-6.5l.4 5l.3-5.9l.3 7.5l.4-9.2l.3 9.3l.4-10.6l.3 6.4l.3-5.3l.4 9.1l.3-11.3l.4 9.2l.3-8.3l.3 5.4l.4-3.9l.3 5.7l.4-10.2l.3 7.7l.3-6.4l.4 7.7l.3-5.9l.4 6.7l.3-5.1l.3 6.7l.4-5.6l.3 6.8l.4-8.5l.3 6.7l.3-4.9l.4 8.4l.3-8.3l.4 7.2l.3-6.6l.3 10.2l.4-9l.3 7l.4-2.7l.3 4.5l.3-8.2l.4 12.9l.3-12.7l.4 13.3l.3-10.3l.3 9.5l.4-9.1l.3 3.9l.4-6.1l.3 9.7l.3-7.2l.4 6.5l.3-6.7l.4 5.2l.3-6.8l.3 6.1l.4-10l.3 7.1l.4-6.3l.3 6.2l.3-11.3l.4 11.6l.3-10.5l.4 7.2l.3-6l.3 11.9l.4-10.9l.3 13.6l.4-11.7l.3 7.8l.3-11.7l.4 11.3l.3-6.8l.4 7.3l.3-6.6l.3 11.3l.4-10.4l.3 6.2l.4-5.9l.3 12.9l.3-19.7l.4 19.8l.3-10.6l.4 8.4l.3-9.7l.3 4.5l.4-9l.3 10.3l.4-5.5l.3 5.2l.3-9.1l.4 15.7l.3-15.6l.4 6.4l.3-7.4l.3 11.5l.4-9.3l.3 12.2l.4-5.9l.3 4.4l.3-6.1l.4 6.6l.3-5.5l.4 8l.3-4.9l.3 3.1l.4-7.3l.3 11l.4-7.1l.3 5.7l.3-8l.4 6.6l.3-11.5l.4 10.8l.3-11l.3 10.6l.4-8.6l.3 6.8l.4-10.8l.3 9.9l.3-11.3l.4 17.4l.3-16.5l.4 6.7l.3-7.9l.3 10l.4-7.7l.3 11.2l.4-9.5l.3 13.2l.3-10.9l.4 8.4l.3-5.2l.4 4.9l.3-9.8l.3 15l.4-13l.3 13.6l.4-10l.3 7.1l.3-10.9l.4 8.8l.3-8.6l.4 8.6l.3-16.5l.3 9.1l.4-9.8l.3 10.9l.4-10.8l.3 15.7l.3-12.1l.4 9.1l.3-8.4l.4 9.8l.3-6.7l.3 7.9l.4-12.1l.3 23l.4-19.4l.3 11.1l.3-11.3l.4 5.5l.3-2.7l.4 8.7l.3-12.4l.3 6.6l.4-7.6l.3 13.1l.4-9.4l.3 6.3l.3-6.9l.4 3.9l.3-9.3l.4 11.4l.3-9l.3 4.7l.4-9.8l.3 12l.4-7.4l.3 10.8l.3-16.2l.4 9.4l.3-4.9l.4 6.6l.3-7l.3 8.1l.4-13.3l.3 14.5l.4-9.4l.3 9.2l.3-8.8l.4 8.1l.3-8.1l.4 5l.3-6.6l.3 7.9l.4-10.8l.3 10.1l.4-6l.3 9.7l.3-10.2l.4 14.2l.3-14.8l.4 14.1l.3-15.8l.3 7.7l.4-9.8l.3 13.9l.4-11l.3 4.5l.3-8l.4 11l.3-13.6l.4 12.1l.3-13.3l.3 16l.4-13l.3 6.6l.4-8.4l.3 9.9l.3-6.2l.4 11.6l.3-9.1l.4 6.2l.3-6.8l.3 8l.4-10.2l.3 8.6l.4-4.5l.3 7.8l.3-7.2l.4 8.2l.3-11.1l.4 16.5l.3-12.8l.3 9.8l.4-5.7l.3 6.6l.4-9.3l.3 12.6l.3-7.2l.4 6.4l.3-9.5l.4 8.9l.3-10.9l.3 15.3l.4-12.1l.3 13.4l.4-16.4l.3 13.6l.3-10.5l.4 8l.3-8.4l.4 7.6l.3-11.3l.3 10.3l.4-5.1l.3 5.8l.4-8.2l.3 5.2l.3-8.6l.4 10.6l.3-8.9l.4 6.2l.3-8.2l.3 14.8l.4-13.5l.3 7.7l.4-5.9l.3 8.1l.3-13.1l.4 11.9l.3-9.8l.4 7.6l.3-4.1l.3 9.1l.4-11.7l.3 11.2l.4-16.5l.3 12.5l.3-12.7l.4 13.6l.3-5.9l.4 8.8l.3-11.5l.3 10.2l.4-10.6l.3 7.1l.4-7.1l.3 7.7l.3-8.6l.4 11.8l.3-12.9l.4 14.7l.3-11.9l.3 9.9l.4-9.2l.3 6.3l.4-10.6l.3 13.4l.3-8.8l.4 9.6l.3-13.1l.4 12.2l.3-9.8l.3 8.7l.4-8.9l.3 11l.4-7.5l.3 9.6l.3-9l.4 9.1l.3-8.1l.4 8.2l.3-9.8l.3 10.2l.4-8.9l.3 6.4l.4-5.1l.3 3.9l.3-4.2l.4 5l.3-3.2l.4 6.8l.3-9.1l.3 11.2l.4-15l.3 12.8l.4-8.2l.3 10.2l.3-9.2l.4 5.4l.3-4.8l.4 14.7l.3-14.5l.3 6.8l.4-10.7l.3 11.1l.4-10l.3 3.4l.3-6.2l.4 8l.3-8.6l.4 3.7l.3-4.2l.3 8.7l.4-12.4l.3 13.8l.4-9.8l.3 8.8l.3-11l.4 7.6l.3-9.3l.4 13.6l.3-12.3l.3 11.9l.4-10.8l.3 9.9l.4-7.3l.3 10.9l.3-21.1l.4 18l.3-10.5l.4 11.4l.3-9.2l.3 9.1l.4-11.7l.3 13.3l.4-15.6l.3 10.9l.3-10.7l.4 8.5l.3-14.3l.4 17.4l.3-8.7l.3 9.8l.4-15.1l.3 13.7l.4-11.3l.3 9.4l.3-3.4l.4 10.6l.3-9.3l.4 10.4l.3-11l.3 15l.4-12.6l.3 4l.4-5.6l.3 11.2l.3-12.8l.4 7.4l.3-4.5l.4 2.5l.3-7.6l.3 17.1l.4-13l.3 2.1l.4-5.1l.3 9.6l.3-8.7l.4 3.4l.3-3.7l.4 6.8l.3-7.9l.3 6.8l.4-9.3l.3 12.6l.4-9.7l.3 10.1l.3-10.3l.4 11l.3-7.9l.4 10.3l.3-11.6l.3 11.4l.4-9.7l.3 13.6l.4-8.4l.3 4.2l.3-9.4l.4 10.3l.3-13.2l.4 10.2l.3-12.1l.3 13.5l.4-9l.3 8.8l.4-15.6l.3 12.7l.3-9l.4 7.6l.3-9.3l.4 15.2l.3-11.8l.3 7l.4-3.4l.3 5.3l.4-8.5l.3 7.2l.3-9.7l.4 8l.3-7.8l.4 7.5l.3-8.6l.3 15.2l.4-9.1l.3 10.2l.4-9.8l.3 10.1l.3-13.9l.4 13.5l.3-12.1l.4 11.9l.3-12.9l.3 7.2l.4-9.1l.3 8.9l.4-8.1l.3 11.2l.3-16.4l.4 8.5l.3-3.2l.4 5.4l.3-13.3l.3 13.8l.4-13.4l.3 14.2l.4-13l.3 13.1l.3-8.3l.4 9.2l.3-11.9l.4 11.7l.3-6.9l.3 5.4l.4-4.7l.3 11l.4-8.8l.3 8l.3-8.6l.4 11l.3-10l.4 11.8l.3-8.1l.3 7.9l.4-7.5l.3 11.5l.4-10l.3 6.5l.3-10.6l.4 9.1l.3-9.5l.4 12.9l.3-9.6l.3 5.6l.4-14.3l.3 16.7l.4-10.1l.3 12.4l.3-15.9l.4 7.8l.3-6.8l.4 9.5l.3-6.5l.3 2.3l.4-10.9l.3 16.5l.4-11.8l.3 7l.3-7.2l.4 10.1l.3-5.9l.4 2.9l.3-6.8l.3 7.5l.4-10l.3 10.5l.4-5.1l.3 7.6l.3-9.3l.4 6.7l.3-7.1l.4 11l.3-9.8l.3 5.8l.4-8.6l.3 8.4l.4-8.2l.3 9.3l.3-8.8l.4 9.4l.3-8.6l.4 7.6l.3-3.9l.8-3.8l.8-4.7l.8 .1l.8 2.6l.8 6.3l.8 1.4l.8 3.8l.8-1.6l.8-.4l.8-5.8l.8-4.2l.8 7l.8 5.3l.8-.3l.8-2.1l.8-7.7l.8-2.9l.8 4l.8 10.1l.8-1.2l.8-2.8l.8 1l.8-3.9l.8-.3l.8-6.3l.8 .2l.8 1.4l.8-3.6l.8-.6l.8 .8l.8 7.8l.8 7.8l.8-1.3l.8-8.1l.8-7.4l.8-1.4l.8 .2l.8 10.9l.8 1.3l.8 6.8l.8-1.8l.8-1.6l.8-13.1l.8-1.4l.8 13.4l.8 2.3l.8-7.1l.8-5l.8-.9l.8-.5l.8 10.8l.8 2.6l.8-2.6l.8-6.2l.8-.2l.8-8.3l.8 4.2l.8 8l.8 6.9l.8-6.3l.8-7.7l.8-.9l.8-2.3l.8 3.9l.8 16.3l.8-6.7l.8-12l.8 1.8l.8-3.5l.8 3.4l.8 10.7l.8 2.6l.8-1.1l.8-5.6l.8-2.1" stroke="#ff0000" stroke-width="1.1" fill="none" stroke-linejoin="round"/>
<path d="M92 287l.3 6.8l.4-6.9l.3 7.7l.4-5.1l.3 6.7l.3-12.8l.4 16.4l.3-15.5l.4 12.8l.3-13.8l.3 11.1l.4-9.9l.3 4.7l.4-9.2l.3 13l.3-9.3l.4 8.9l.3-11l.4 15.6l.3-10.5l.3 9.2l.4-7.9l.3 10.5l.4-13.3l.3 14.5l.3-11.2l.4 12.7l.3-14.5l.4 15.7l.3-15.3l.3 8.6l.4-9.9l.3 15.2l.4-15.8l.3 9.2l.3-3l.4 3.1l.3-10.6l.4 14.3l.3-8.6l.3 8.1l.4-11.9l.3 11.3l.4-8.7l.3 7l.3-6.5l.4 8.9l.3-8.1l.4 5l.3-7.3l.3 7.5l.4-9.6l.3 7.9l.4-3.5l.3 14.3l.3-15.7l.4 8.9l.3-13.1l.4 18.5l.3-16.9l.3 7.4l.4-2.7l.3 4.6l.4-4l.3 5.6l.3-5.2l.4 6.8l.3-9l.4 8l.3-6.5l.3 10.1l.4-13.5l.3 9.3l.4-9.9l.3 4.2l.3-8.6l.4 5.9l.3-5.1l.4 6.8l.3-9.5l.3 3.7l.4-6.1l.3 12.8l.4-6.5l.3 7.6l.3-5.7l.4 11.3l.3-9.2l.4 11.9l.3-11.2l.3 6.1l.4-5.7l.3 12.6l.4-10.5l.3 7.3l.3-6l.4 6.6l.3-9.2l.4 9.6l.3-13.8l.3 10.8l.4-7.3l.3 7.5l.4-5.9l.3 1.9l.3-4l.4 5.5l.3-7.5l.4 8.1l.3-10.3l.3 10l.4-6.1l.3 5.5l.4-6.7l.3 4.7l.3-6.1l.4 9.7l.3-12.7l.4 9.5l.3-5.4l.3 8.5l.4-9.6l.3 8.2l.4-8.1l.3 8.8l.3-8.5l.4 7.6l.3-6l.4 6.1l.3-3.8l.3 5.4l.4-6.8l.3 7.6l.4-8.7l.3 11.2l.3-5.8l.4 7.8l.3-11.7l.4 12.9l.3-8.6l.3 6.9l.4-7.7l.3 7.5l.4-8.5l.3 8.4l.3-7.9l.4 5.5l.3-4.8l.4 3.8l.3-13.5l.3 13.7l.4-9.7l.3 5.4l.4-8.6l.3 8.2l.3-11.8l.4 8.7l.3-9.1l.4 5.4l.3-4.8l.3 6.9l.4-8l.3 10.1l.4-8l.3 7.6l.3-7.1l.4 9.5l.3-7.3l.4 8.6l.3-3.3l.3 6.2l.4-6.4l.3 5.2l.4-4.8l.3 9.9l.3-8.2l.4 7.2l.3-9.1l.4 6.1l.3-6.3l.3 3.6l.4-6.9l.3 8.9l.4-8.2l.3 2.2l.3-6.3l.4 6.5l.3-10.1l.4 6.5l.3-8l.3 8.3l.4-8.8l.3 5.3l.4-7l.3 9.2l.3-5.7l.4 6.8l.3-5.8l.4 4.7l.3-1.5l.3 4.8l.4-4.3l.3 8.3l.4-6.7l.3 7.3l.3-4.7l.4 2.2l.3-4.9l.4 12.3l.3-6.2l.3 6.2l.4-8.8l.3 6.2l.4-5.8l.3 5.5l.3-6.7l.4 7.8l.3-9.4l.4 6.4l.3-4.2l.3 5.6l.4-7l.3 5.1l.4-5.7l.3 7.7l.3-9.9l.4 9.2l.3-6.3l.4 8.7l.3-9.4l.3 7.6l.4-7.2l.3 4.8l.4-4.2l.3 6.5l.3-4.9l.4 5l.3-5.4l.4 7.3l.3-5.6l.3 5.4l.4-7.1l.3 9.9l.4-10.3l.3 8.4l.3-6.8l.4 4.4l.3-3.7l.4 3.5l.3-7l.3 6.5l.4-9l.3 8.4l.4-7.7l.3 3.5l.3-7.3l.4 7.6l.3-6.3l.4 10.1l.3-6.1l.3 8l.4-7.3l.3 6.4l.4-8.9l.3 7.5l.3-7.7l.4 8.5l.3-3.3l.4 5l.3-3.7l.3 2.8l.4-4.6l.3 6.2l.4-9.4l.3 6.4l.3-6.1l.4 3.5l.3-6.2l.4 7.4l.3-9.7l.3 9l.4-6.6l.3 5.8l.4-6.1l.3 5.5l.3-5.7l.4 3.8l.3-6.7l.4 10.6l.3-5.7l.3 4.5l.4-6.3l.3 5.3l.4-1.7l.3 6.4l.3-7.9l.4 13.2l.3-9.7l.4 7.3l.3-5.5l.3 5.5l.4-6.4l.3 6.2l.4-9.1l.3 5.1l.3-5.7l.4 4.1l.3-4.1l.4 2.7l.3-5.3l.3 5.5l.4-5.1l.3 6.4l.4-9.3l.3 8l.3-6.9l.4 2.6l.3-3.8l.4 7.5l.3-5.6l.3 2.7l.4-1.3l.3 6.1l.4-9.2l.3 10l.3-7.5l.4 8.2l.3-6.8l.4 7.3l.3-3.3l.3 5.9l.4-7.6l.3 7.3l.4-6.5l.3 5.7l.3-8.7l.4 9.2l.3-8l.4 7.4l.3-5.3l.3 4.2l.4-8.2l.3 4.6l.4-4.7l.3 4.6l.3-7.1l.4 8.4l.3-9.5l.4 7.9l.3-3.8l.3 4.4l.4-7.7l.3 8.8l.4-10.1l.3 9.6l.3-7.7l.4 5.5l.3-8.8l.4 7l.3-6.2l.3 10.2l.4-7.5l.3 5l.4-3.5l.3 6l.3-10.1l.4 9.2l.3-5.2l.4 5.1l.3-7.3l.3 7.5l.4-4.8l.3 1.5l.4-3.4l.3 6.2l.3-7.4l.4 6.3l.3-5.2l.4 3.9l.3-5.6l.3 3.4l.4-6.7l.3 10.5l.4-6.3l.3 5.8l.3-5.7l.4 2.3l.3-6.9l.4 10.2l.3-9l.3 3.9l.4-4.8l.3 8.3l.4-9.7l.3 10.5l.3-6.7l.4 5.9l.3-4.9l.4 9l.3-9.1l.3 9.5l.4-4.9l.3 4.8l.4-3.2l.3 3.8l.3-4.6l.4 3.4l.3-5.4l.4 9.4l.3-11.4l.3 11l.4-9l.3 4.6l.4-6.2l.3 10.5l.3-7.3l.4 5l.3-6.7l.4 8l.3-7.7l.3 5.5l.4-4l.3 6.2l.4-8.4l.3 7.1l.3-8.7l.4 10.5l.3-10.8l.4 5.2l.3-5.2l.3 4.7l.4-3l.3 3.7l.4-5.2l.3 6l.3-9.5l.4 8.7l.3-9l.4 6.8l.3-6.6l.3 8.8l.4-13.6l.3 12.3l.4-6.2l.3 2.8l.3-6.8l.4 6.4l.3-5.4l.4 5l.3-8.6l.3 7.3l.4-3.3l.3 3l.4-11.4l.3 9.9l.3-6.1l.4 5.7l.3-7.1l.4 6.7l.3-7.4l.3 8.1l.4-4.5l.3 5.2l.4-4l.3 7.8l.3-9.5l.4 7l.3-6.3l.4 13.3l.3-12.7l.3 14.2l.4-8.2l.3 6.4l.4-7.7l.3 8l.3-3.6l.4 6l.3-7.7l.4 3.9l.3-7.3l.3 7.1l.4-11l.3 7.5l.4-3.8l.3 3.7l.3-4.1l.4 6.9l.3-10l.4 7.4l.3-2.1l.3 7.3l.4-8.7l.3 7.6l.4-10.6l.3 9.5l.3-8.4l.4 13.7l.3-7l.4 3.2l.3-3.9l.3 5.3l.4-5.8l.3 7.1l.4-8.6l.3 5.8l.3-3.6l.4 4.8l.3-7.9l.4 8.2l.3-6.7l.3 5.5l.4-9.8l.3 5.1l.4-4.7l.3 7.2l.3-11.9l.4 8.1l.3-6.9l.4 5.4l.3-6.7l.3 15l.4-12.4l.3 6.2l.4-7.1l.3 7.9l.3-5.5l.4 5.6l.3-5.9l.4 9.1l.3-9.6l.3 8.2l.4-7.7l.3 11l.4-7.6l.3 3.4l.3-4.9l.4 9l.3-9.6l.4 2.8l.3-7.2l.3 10.8l.4-11.1l.3 11.8l.4-11.5l.3 8.4l.3-7.1l.4 6.3l.3-2.8l.4 11.4l.3-14l.3 8.6l.4-6.3l.3 7.1l.4-10.2l.3 12.7l.3-10.9l.4 6.8l.3-5.5l.4 10.2l.3-11.4l.3 14.4l.4-10l.3 8l.4-5.4l.3 13.9l.3-18.4l.4 10.3l.3-7.2l.4 4.5l.3-2.1l.3 3l.4-5.7l.3 7.6l.4-11.3l.3 8.2l.3-9.2l.4 7.2l.3-9.8l.4 15.6l.3-12.9l.3 11.9l.4-8.3l.3 9.7l.4-5.5l.3 7.1l.3-9.8l.4 9.5l.3-7.8l.4 10.1l.3-11.3l.3 9.7l.4-11.1l.3 9.4l.4-9.7l.3 11.8l.3-13l.4 10.5l.3-9.6l.4 7.5l.3-10.2l.3 10.9l.4-8.9l.3 8.9l.4-10.4l.3 14.1l.3-8.5l.4 8.8l.3-9.3l.4 12.9l.3-12.2l.3 10.1l.4-13.7l.3 12.1l.4-5.4l.3 7.4l.3-9.6l.4 11l.3-14.1l.4 12.8l.3-13.6l.3 14.9l.4-15.4l.3 10.8l.4-11.1l.3 12.7l.3-11.1l.4 5.5l.3-4.9l.4 7.3l.3-6.6l.3 6.7l.4-14.1l.3 11.6l.4-11.6l.3 10.4l.3-17.9l.4 21.6l.3-14l.4 7.7l.3-9.5l.3 11l.4-10l.3 8.6l.4-7.1l.3 9.5l.3-5.7l.4 7l.3-13.1l.4 15.5l.3-10.3l.3 8.5l.4-8.4l.3 11l.4-12.4l.3 21.7l.3-17.2l.4 9.6l.3-11.2l.4 9l.3-8.9l.3 10.1l.4-5.3l.3 5.6l.4-16.5l.3 9.4l.3-9.5l.4 10.6l.3-8.8l.4 13.2l.3-14.4l.3 22l.4-20.5l.3 11.6l.4-14.2l.3 13.7l.3-11l.4 15.2l.3-15.1l.4 11.3l.3-5l.3 8.4l.4-10.1l.3 13.4l.4-13.4l.3 11l.3-9.7l.4 4.8l.3-10.8l.4 12l.3-8.1l.3 17.9l.4-25.8l.3 14.3l.4-10.9l.3 12.3l.3-14.8l.4 14.3l.3-14l.4 10.7l.3-11.4l.3 11.5l.4-14.2l.3 17.6l.4-17.3l.3 18.7l.3-16.3l.4 12.1l.3-14.2l.4 11.7l.3-9.1l.3 17.6l.4-12.4l.3 7l.4-7.4l.3 10.4l.3-15.1l.4 13.7l.3-8l.4 12.1l.3-11.3l.3 7.8l.4-15.1l.3 16.8l.4-11.5l.3 11.5l.3-12.7l.4 4.7l.3-18.5l.4 20l.3-6.4l.3 4.4l.4-8.6l.3 14.3l.4-11.7l.3 8.5l.3-7.5l.4 9.5l.3-8.7l.4 11.7l.3-13.3l.3 10.9l.4-14.9l.3 15.5l.4-14.8l.3 10.2l.3-15.3l.4 15.8l.3-10.4l.4 14.1l.3-11.4l.3 6l.4-10.5l.3 10.5l.4-6.7l.3 8.7l.3-7.8l.4 13.4l.3-13.5l.4 15.3l.3-11l.3 8.9l.4-15.9l.3 11.1l.4-5.1l.3 9l.3-9.4l.4 6.2l.3-5l.4 4l.3-13.4l.3 18.1l.4-17.3l.3 12.8l.4-15.4l.3 15.9l.3-15.1l.4 14.6l.3-9.6l.4 9.9l.3-7.4l.3 15.6l.4-11.1l.3 3.9l.4-6.9l.3 13l.3-14.4l.4 8.3l.3-7.3l.4 14.7l.3-12.9l.3 7.7l.4-8.2l.3 8.5l.4-10.6l.3 9l.3-5.4l.4 10l.3-15.4l.4 9.4l.3-6.1l.3 11.5l.4-11.9l.3 17.1l.4-16.2l.3 14.4l.3-16.9l.4 14.8l.3-11.1l.4 8.6l.3-8.1l.3 5.1l.4-8.9l.3 7.6l.4-5.9l.3 6.9l.3-5.3l.4 8.8l.3-11.1l.4 10l.3-12.5l.3 9.8l.4-11.5l.3 11.1l.4-9.9l.3 13.7l.3-27.1l.4 26.3l.3-10.6l.4 6.7l.3-4.3l.3 4.8l.4-18.3l.3 18.6l.4-11.6l.3 15.7l.3-9.8l.4 8.1l.3-12l.4 12.9l.3-13.6l.3 13l.4-7.3l.3 10.1l.4-11.4l.3 9.7l.3-6.5l.4 9l.3-12.6l.4 10.2l.3-13.7l.3 12.7l.4-8l.3 5.9l.4-7.5l.3 13.4l.3-10.7l.4 3.8l.3-6.9l.4 7.2l.3-4l.3 4.4l.4-6.8l.3 8l.4-10.7l.3 7.7l.3-10.7l.4 15.8l.3-12.1l.4 6.8l.3-5.8l.3 12.7l.4-12.2l.3 6.8l.4-3.3l.3 5l.3-17.5l.4 15.7l.3-8.5l.4 14.9l.3-10.2l.3 1.3l.4-5.5l.3 5.4l.4-6.8l.3 13.5l.3-11l.4 6.3l.3-12.1l.4 10.1l.3-9.4l.3 16.7l.4-10.8l.3 8.1l.4-9.5l.3 9.1l.3-6.7l.4 9.4l.3-15.2l.4 13.6l.3-7.3l.3 7.4l.4-6.4l.3 8.5l.4-11l.3 9l.3-15.3l.4 15l.3-6l.4 5.8l.3-3.1l.3 5.5l.4-12l.3 13.7l.4-9.6l.3 7.7l.3-8.8l.4 7.9l.3-20l.4 16.3l.3-6.9l.3 11.8l.4-11l.3 5.4l.4-5.3l.3 9.4l.3-10.8l.4 9.8l.3-8l.4 10.5l.3-11.7l.3 8.2l.4-9.7l.3 15.3l.4-16.9l.3 9.7l.3-9.6l.4 16.7l.3-14.7l.4 17.8l.3-13.5l.3 10.3l.4-12l.3 12.3l.4-12.5l.3 13.5l.3-15.9l.4 12.7l.3-9.9l.4 13.7l.3-12.3l.3 9.1l.4-10l.3 7.3l.4-15.2l.3 17.2l.3-13.5l.4 11.3l.3-10.1l.4 12.3l.3-17l.3 10.5l.4-7.1l.3 5.1l.4-9l.3 9.5l.3-5.7l.4 4.4l.3-8.9l.4 16l.3-13.6l.3 15l.4-15.7l.3 10.6l.4-4.7l.3 11.2l.3-9.9l.4 6.4l.3-8.6l.4 9.7l.3-5.6l.3 4.3l.4-13.9l.3 14.3l.4-14.6l.3 17l.3-16.4l.4 9.9l.3-10.7l.4 14.2l.3-12.4l.3 10l.4-13.1l.3 12.2l.4-15.8l.3 15.2l.3-9.4l.4 9.5l.3-12.7l.4 14.3l.3-8.5l.3 6.3l.4-14l.3 12.7l.4-5.5l.3 9.7l.3-11.5l.4 12.3l.3-10.5l.4 6.8l.3-4.5l.3 6.3l.4-5.1l.3 8.6l.4-16.7l.3 17.3l.3-15.4l.4 10.3l.3-7.5l.4 13.5l.3-16.4l.3 20.7l.4-19.5l.3 6.9l.4-7.2l.3 7.5l.3-11.2l.4 10.5l.3-3.9l.4 5.7l.3-8.6l.3 8.9l.4-8.6l.3 13l.4-14l.3 14.7l.3-17l.4 18.7l.3-12.7l.4 15.3l.3-14l.3 9.2l.4-3.6l.3 9.1l.4-11.1l.3 10l.3-8.2l.4 5.6l.3-11.1l.4 13.1l.3-5.3l.3 12.6l.4-13.8l.3 5.6l.4-8.6l.3 14.7l.3-14.2l.4 10.8l.3-13.4l.4 17.5l.3-18.3l.3 15.1l.4-10.7l.3 15.5l.4-17.8l.3 11.6l.3-8.5l.4 4.8l.3-9.8l.4 16.4l.3-6.7l.3 8.1l.4-15.5l.3 16.7l.4-13.6l.3 11.1l.3-11.6l.4 15.7l.3-14.4l.4 16.7l.3-16.8l.8-12.1l.8-.3l.8 5.8l.8 15.8l.8-10.1l.8-2.1l.8-1.5l.8-5.1l.8 1.5l.8 1.1l.8 10.1l.8 .5l.8-7.4l.8-2.8l.8-.1l.8 3.2l.8 6.7l.8-.5l.8 .4l.8-4.5l.8-4.3l.8-.2l.8-1.5l.8 2l.8 .7l.8 6.5l.8 2.2l.8 .8l.8-8.2l.8-1.4l.8-5.3l.8 .3l.8 .6l.8 3l.8 3.4l.8 2l.8 5.3l.8-3.9l.8-8.6l.8-2.5l.8 8.9l.8 2.6l.8 4.5l.8 .9l.8-6.3l.8-7l.8 .6l.8 4.5l.8 3l.8-1.8l.8-7.4l.8 3.1l.8 7l.8 2.3l.8 2l.8-5.2l.8-.8l.8-11.3l.8 4.6l.8 6.5l.8 2.3l.8 1.6l.8 2l.8-1.6l.8 1.9l.8 .6l.8-3.9l.8-3l.8-.7l.8-4.4l.8-5.1l.8 2.9l.8 9.7l.8 .8l.8-4.3" stroke="#80ff00" stroke-width="1.1" fill="none" stroke-linejoin="round"/>
<rect x="91" y="79" width="430" height="1" fill="#000"/>
<rect x="91" y="246" width="430" height="1" fill="#000"/>
<rect x="91" y="79" width="1" height="168" fill="#000"/>
<rect x="520" y="79" width="1" height="168" fill="#000"/>
<path d="M92 234.1h9M520 234.1h-9M92 222.6h4.5M520 222.6h-4.5M92 211.2h4.5M520 211.2h-4.5M92 199.8h4.5M520 199.8h-4.5M92 188.3h9M520 188.3h-9M92 176.9h4.5M520 176.9h-4.5M92 165.4h4.5M520 165.4h-4.5M92 154.0h4.5M520 154.0h-4.5M92 142.5h9M520 142.5h-9M92 131.1h4.5M520 131.1h-4.5M92 119.6h4.5M520 119.6h-4.5M92 108.2h4.5M520 108.2h-4.5M92 96.7h9M520 96.7h-9M92 85.3h4.5M520 85.3h-4.5" stroke="#000" stroke-width="1" fill="none"/>
<path d="M127.25 246v-1.5M127.25 80v1.5M163.0 246v-1.5M163.0 80v1.5M198.75 246v-2M198.75 80v2M234.5 246v-1.5M234.5 80v1.5M270.25 246v-1.5M270.25 80v1.5M306.0 246v-2M306.0 80v2M341.75 246v-1.5M341.75 80v1.5M377.5 246v-1.5M377.5 80v1.5M413.25 246v-2M413.25 80v2M449.0 246v-1.5M449.0 80v1.5M484.75 246v-1.5M484.75 80v1.5" stroke="#000" stroke-width="1" fill="none"/>
<rect x="91" y="246" width="430" height="1" fill="#000"/>
<rect x="91" y="330" width="430" height="1" fill="#000"/>
<rect x="91" y="246" width="1" height="85" fill="#000"/>
<rect x="520" y="246" width="1" height="85" fill="#000"/>
<path d="M127.25 330v-1.5M127.25 247v1.5M163.0 330v-1.5M163.0 247v1.5M198.75 330v-2M198.75 247v2M234.5 330v-1.5M234.5 247v1.5M270.25 330v-1.5M270.25 247v1.5M306.0 330v-2M306.0 247v2M341.75 330v-1.5M341.75 247v1.5M377.5 330v-1.5M377.5 247v1.5M413.25 330v-2M413.25 247v2M449.0 330v-1.5M449.0 247v1.5M484.75 330v-1.5M484.75 247v1.5" stroke="#000" stroke-width="1" fill="none"/>
<path d="M92 325.33h9M520 325.33h-9M92 320.67h4.5M520 320.67h-4.5M92 316.0h4.5M520 316.0h-4.5M92 311.33h4.5M520 311.33h-4.5M92 306.67h9M520 306.67h-9M92 302.0h4.5M520 302.0h-4.5M92 297.33h4.5M520 297.33h-4.5M92 292.67h4.5M520 292.67h-4.5M92 288.0h9M520 288.0h-9M92 283.33h4.5M520 283.33h-4.5M92 278.67h4.5M520 278.67h-4.5M92 274.0h4.5M520 274.0h-4.5M92 269.33h9M520 269.33h-9M92 264.67h4.5M520 264.67h-4.5M92 260.0h4.5M520 260.0h-4.5M92 255.33h4.5M520 255.33h-4.5M92 250.67h9M520 250.67h-9" stroke="#000" stroke-width="1" fill="none"/>
<rect x="91" y="337" width="430" height="1" fill="#000"/>
<rect x="91" y="421" width="430" height="1" fill="#000"/>
<rect x="91" y="337" width="1" height="85" fill="#000"/>
<rect x="520" y="337" width="1" height="85" fill="#000"/>
<path d="M92 415.0h9M520 415.0h-9M92 409.3h4.5M520 409.3h-4.5M92 403.5h4.5M520 403.5h-4.5M92 397.7h4.5M520 397.7h-4.5M92 392.0h9M520 392.0h-9M92 386.2h4.5M520 386.2h-4.5M92 380.5h4.5M520 380.5h-4.5M92 374.7h4.5M520 374.7h-4.5M92 369.0h9M520 369.0h-9M92 363.2h4.5M520 363.2h-4.5M92 357.4h4.5M520 357.4h-4.5M92 351.7h4.5M520 351.7h-4.5M92 345.9h9M520 345.9h-9M92 340.2h4.5M520 340.2h-4.5" stroke="#000" stroke-width="1" fill="none"/>
<path d="M127.25 421v-1.5M127.25 338v1.5M163.0 421v-1.5M163.0 338v1.5M198.75 421v-2M198.75 338v2M234.5 421v-1.5M234.5 338v1.5M270.25 421v-1.5M270.25 338v1.5M306.0 421v-2M306.0 338v2M341.75 421v-1.5M341.75 338v1.5M377.5 421v-1.5M377.5 338v1.5M413.25 421v-2M413.25 338v2M449.0 421v-1.5M449.0 338v1.5M484.75 421v-1.5M484.75 338v1.5" stroke="#000" stroke-width="1" fill="none"/>
<rect x="91" y="421" width="430" height="1" fill="#000"/>
<rect x="91" y="505" width="430" height="1" fill="#000"/>
<rect x="91" y="421" width="1" height="85" fill="#000"/>
<rect x="520" y="421" width="1" height="85" fill="#000"/>
<path d="M92 499.0h9M520 499.0h-9M92 493.3h4.5M520 493.3h-4.5M92 487.5h4.5M520 487.5h-4.5M92 481.7h4.5M520 481.7h-4.5M92 476.0h9M520 476.0h-9M92 470.2h4.5M520 470.2h-4.5M92 464.5h4.5M520 464.5h-4.5M92 458.7h4.5M520 458.7h-4.5M92 453.0h9M520 453.0h-9M92 447.2h4.5M520 447.2h-4.5M92 441.4h4.5M520 441.4h-4.5M92 435.7h4.5M520 435.7h-4.5M92 429.9h9M520 429.9h-9M92 424.2h4.5M520 424.2h-4.5" stroke="#000" stroke-width="1" fill="none"/>
<path d="M127.25 505v-1.5M127.25 422v1.5M163.0 505v-1.5M163.0 422v1.5M198.75 505v-2M198.75 422v2M234.5 505v-1.5M234.5 422v1.5M270.25 505v-1.5M270.25 422v1.5M306.0 505v-2M306.0 422v2M341.75 505v-1.5M341.75 422v1.5M377.5 505v-1.5M377.5 422v1.5M413.25 505v-2M413.25 422v2M449.0 505v-1.5M449.0 422v1.5M484.75 505v-1.5M484.75 422v1.5" stroke="#000" stroke-width="1" fill="none"/>
<rect x="91" y="505" width="430" height="1" fill="#000"/>
<rect x="91" y="589" width="430" height="1" fill="#000"/>
<rect x="91" y="505" width="1" height="85" fill="#000"/>
<rect x="520" y="505" width="1" height="85" fill="#000"/>
<path d="M92 583.0h9M520 583.0h-9M92 577.3h4.5M520 577.3h-4.5M92 571.5h4.5M520 571.5h-4.5M92 565.7h4.5M520 565.7h-4.5M92 560.0h9M520 560.0h-9M92 554.2h4.5M520 554.2h-4.5M92 548.5h4.5M520 548.5h-4.5M92 542.7h4.5M520 542.7h-4.5M92 537.0h9M520 537.0h-9M92 531.2h4.5M520 531.2h-4.5M92 525.4h4.5M520 525.4h-4.5M92 519.7h4.5M520 519.7h-4.5M92 513.9h9M520 513.9h-9M92 508.2h4.5M520 508.2h-4.5" stroke="#000" stroke-width="1" fill="none"/>
<path d="M127.25 589v-1.5M127.25 506v1.5M163.0 589v-1.5M163.0 506v1.5M198.75 589v-2M198.75 506v2M234.5 589v-1.5M234.5 506v1.5M270.25 589v-1.5M270.25 506v1.5M306.0 589v-2M306.0 506v2M341.75 589v-1.5M341.75 506v1.5M377.5 589v-1.5M377.5 506v1.5M413.25 589v-2M413.25 506v2M449.0 589v-1.5M449.0 506v1.5M484.75 589v-1.5M484.75 506v1.5" stroke="#000" stroke-width="1" fill="none"/>
<rect x="91" y="589" width="430" height="1" fill="#000"/>
<rect x="91" y="673" width="430" height="1" fill="#000"/>
<rect x="91" y="589" width="1" height="85" fill="#000"/>
<rect x="520" y="589" width="1" height="85" fill="#000"/>
<path d="M92 667.0h9M520 667.0h-9M92 661.3h4.5M520 661.3h-4.5M92 655.5h4.5M520 655.5h-4.5M92 649.7h4.5M520 649.7h-4.5M92 644.0h9M520 644.0h-9M92 638.2h4.5M520 638.2h-4.5M92 632.5h4.5M520 632.5h-4.5M92 626.7h4.5M520 626.7h-4.5M92 621.0h9M520 621.0h-9M92 615.2h4.5M520 615.2h-4.5M92 609.4h4.5M520 609.4h-4.5M92 603.7h4.5M520 603.7h-4.5M92 597.9h9M520 597.9h-9M92 592.2h4.5M520 592.2h-4.5" stroke="#000" stroke-width="1" fill="none"/>
<path d="M127.25 673v-1.5M127.25 590v1.5M163.0 673v-1.5M163.0 590v1.5M198.75 673v-2M198.75 590v2M234.5 673v-1.5M234.5 590v1.5M270.25 673v-1.5M270.25 590v1.5M306.0 673v-2M306.0 590v2M341.75 673v-1.5M341.75 590v1.5M377.5 673v-1.5M377.5 590v1.5M413.25 673v-2M413.25 590v2M449.0 673v-1.5M449.0 590v1.5M484.75 673v-1.5M484.75 590v1.5" stroke="#000" stroke-width="1" fill="none"/>
<g font-family='"Liberation Sans", Arial, Helvetica, sans-serif' style="will-change:transform">
<text x="192.4" y="73.3" font-size="13" letter-spacing="0.5" word-spacing="2.4">SPC ion mode quick look, mode 1</text>
<text x="88.5" y="101.0" font-size="11.7" text-anchor="end" stroke="#000" stroke-width="0.25">800</text>
<text x="88.5" y="146.8" font-size="11.7" text-anchor="end" stroke="#000" stroke-width="0.25">600</text>
<text x="88.5" y="192.6" font-size="11.7" text-anchor="end" stroke="#000" stroke-width="0.25">400</text>
<text x="88.5" y="238.4" font-size="11.7" text-anchor="end" stroke="#000" stroke-width="0.25">200</text>
<text transform="translate(60.2 190.9) rotate(-90)" font-size="11.6"><tspan font-weight="bold">v</tspan><tspan font-weight="bold" font-size="7.8" dy="3.2">eq</tspan><tspan dy="-3.2" x="17.8" font-size="12" textLength="37" stroke="#000" stroke-width="0.3">[km/s]</tspan></text>
<text x="88.5" y="351.4" font-size="11.7" text-anchor="end" stroke="#000" stroke-width="0.25">800</text>
<text x="88.5" y="374.5" font-size="11.7" text-anchor="end" stroke="#000" stroke-width="0.25">600</text>
<text x="88.5" y="397.5" font-size="11.7" text-anchor="end" stroke="#000" stroke-width="0.25">400</text>
<text x="88.5" y="420.5" font-size="11.7" text-anchor="end" stroke="#000" stroke-width="0.25">200</text>
<text transform="translate(60.2 407.3) rotate(-90)" font-size="11.6"><tspan font-weight="bold">v</tspan><tspan font-weight="bold" font-size="7.8" dy="3.2">eq</tspan><tspan dy="-3.2" x="17.8" font-size="12" textLength="37" stroke="#000" stroke-width="0.3">[km/s]</tspan></text>
<text x="88.5" y="435.4" font-size="11.7" text-anchor="end" stroke="#000" stroke-width="0.25">800</text>
<text x="88.5" y="458.5" font-size="11.7" text-anchor="end" stroke="#000" stroke-width="0.25">600</text>
<text x="88.5" y="481.5" font-size="11.7" text-anchor="end" stroke="#000" stroke-width="0.25">400</text>
<text x="88.5" y="504.5" font-size="11.7" text-anchor="end" stroke="#000" stroke-width="0.25">200</text>
<text transform="translate(60.2 491.3) rotate(-90)" font-size="11.6"><tspan font-weight="bold">v</tspan><tspan font-weight="bold" font-size="7.8" dy="3.2">eq</tspan><tspan dy="-3.2" x="17.8" font-size="12" textLength="37" stroke="#000" stroke-width="0.3">[km/s]</tspan></text>
<text x="88.5" y="519.4" font-size="11.7" text-anchor="end" stroke="#000" stroke-width="0.25">800</text>
<text x="88.5" y="542.5" font-size="11.7" text-anchor="end" stroke="#000" stroke-width="0.25">600</text>
<text x="88.5" y="565.5" font-size="11.7" text-anchor="end" stroke="#000" stroke-width="0.25">400</text>
<text x="88.5" y="588.5" font-size="11.7" text-anchor="end" stroke="#000" stroke-width="0.25">200</text>
<text transform="translate(60.2 575.3) rotate(-90)" font-size="11.6"><tspan font-weight="bold">v</tspan><tspan font-weight="bold" font-size="7.8" dy="3.2">eq</tspan><tspan dy="-3.2" x="17.8" font-size="12" textLength="37" stroke="#000" stroke-width="0.3">[km/s]</tspan></text>
<text x="88.5" y="603.4" font-size="11.7" text-anchor="end" stroke="#000" stroke-width="0.25">800</text>
<text x="88.5" y="626.5" font-size="11.7" text-anchor="end" stroke="#000" stroke-width="0.25">600</text>
<text x="88.5" y="649.5" font-size="11.7" text-anchor="end" stroke="#000" stroke-width="0.25">400</text>
<text x="88.5" y="672.5" font-size="11.7" text-anchor="end" stroke="#000" stroke-width="0.25">200</text>
<text transform="translate(60.2 659.3) rotate(-90)" font-size="11.6"><tspan font-weight="bold">v</tspan><tspan font-weight="bold" font-size="7.8" dy="3.2">eq</tspan><tspan dy="-3.2" x="17.8" font-size="12" textLength="37" stroke="#000" stroke-width="0.3">[km/s]</tspan></text>
<text x="88.5" y="255.0" font-size="11.7" text-anchor="end" stroke="#000" stroke-width="0.25">40</text>
<text x="88.5" y="273.6" font-size="11.7" text-anchor="end" stroke="#000" stroke-width="0.25">20</text>
<text x="88.5" y="292.3" font-size="11.7" text-anchor="end" stroke="#000" stroke-width="0.25">0</text>
<text y="311.0" font-size="11.7" stroke="#000" stroke-width="0.25"><tspan x="66.8" textLength="8" lengthAdjust="spacingAndGlyphs">-</tspan><tspan x="75.2">20</tspan></text>
<text y="329.6" font-size="11.7" stroke="#000" stroke-width="0.25"><tspan x="66.8" textLength="8" lengthAdjust="spacingAndGlyphs">-</tspan><tspan x="75.2">40</tspan></text>
<text transform="translate(58.2 311.1) rotate(-90)" font-size="11.2" stroke="#000" stroke-width="0.2">angle<tspan x="33.2">[°]</tspan></text>
<text y="256.4" font-size="10.3" fill="#ff0000" stroke="#ff0000" stroke-width="0.12"><tspan x="433.8" textLength="28.8">inflow</tspan><tspan x="468.9" textLength="39.5">azimuth</tspan></text>
<text y="266.6" font-size="10.3" fill="#80ff00" stroke="#80ff00" stroke-width="0.12"><tspan x="435.6" textLength="28.6">inflow</tspan><tspan x="470.2" textLength="38.2">attitude</tspan></text>
<text transform="translate(102.6 89) scale(0.83 1)" font-size="10.6" font-weight="bold">TOTAL</text>
<text transform="translate(102.6 347.5) scale(0.83 1)" font-size="10.6" font-weight="bold">A sensor</text>
<text transform="translate(102.6 431.5) scale(0.83 1)" font-size="10.6" font-weight="bold">B sensor</text>
<text transform="translate(102.6 515.5) scale(0.83 1)" font-size="10.6" font-weight="bold">C sensor</text>
<text transform="translate(102.6 599.5) scale(0.83 1)" font-size="10.6" font-weight="bold">D sensor</text>
<text x="91.5" y="688.6" font-size="11.7" text-anchor="middle" stroke="#000" stroke-width="0.25">00:00</text>
<text x="198.8" y="688.6" font-size="11.7" text-anchor="middle" stroke="#000" stroke-width="0.25">06:00</text>
<text x="306.0" y="688.6" font-size="11.7" text-anchor="middle" stroke="#000" stroke-width="0.25">12:00</text>
<text x="413.2" y="688.6" font-size="11.7" text-anchor="middle" stroke="#000" stroke-width="0.25">18:00</text>
<text x="520.5" y="688.6" font-size="11.7" text-anchor="middle" stroke="#000" stroke-width="0.25">00:00</text>
<text y="701.8" font-size="11.7" stroke="#000" stroke-width="0.25"><tspan x="271.0">2023</tspan><tspan x="294.6" textLength="11" lengthAdjust="spacingAndGlyphs">-</tspan><tspan x="304.7">03</tspan><tspan x="317.5" textLength="11.5" lengthAdjust="spacingAndGlyphs">-</tspan><tspan x="327.9">11</tspan></text>
<rect x="526" y="86.7" width="7" height="152.2" fill="#000"/>
<rect x="527" y="89.10000000000001" width="5" height="147.2" fill="url(#cb)"/>
<text x="535.5" y="94.7" font-size="11.7" stroke="#000" stroke-width="0.15">200</text>
<text x="535.5" y="129.7" font-size="11.7" stroke="#000" stroke-width="0.15">150</text>
<text x="535.5" y="167.6" font-size="11.7" stroke="#000" stroke-width="0.15">100</text>
<text x="535.5" y="205.1" font-size="11.7" stroke="#000" stroke-width="0.15">50</text>
<text x="535.5" y="239.5" font-size="11.7" stroke="#000" stroke-width="0.15">0</text>
<text transform="translate(566.8 194.3) rotate(-90)" font-size="11.2" textLength="62">current [pA]</text>
<rect x="526" y="345.7" width="7" height="68.59999999999997" fill="#000"/>
<rect x="527" y="348.09999999999997" width="5" height="63.599999999999966" fill="url(#cb)"/>
<text x="535.5" y="354.4" font-size="11.7" stroke="#000" stroke-width="0.15">200</text>
<text x="535.5" y="367.9" font-size="11.7" stroke="#000" stroke-width="0.15">150</text>
<text x="535.5" y="384.8" font-size="11.7" stroke="#000" stroke-width="0.15">100</text>
<text x="535.5" y="401.9" font-size="11.7" stroke="#000" stroke-width="0.15">50</text>
<text x="535.5" y="414.5" font-size="11.7" stroke="#000" stroke-width="0.15">0</text>
<text transform="translate(566.8 411.0) rotate(-90)" font-size="11.2" textLength="62">current [pA]</text>
<rect x="526" y="429.5" width="7" height="68.60000000000002" fill="#000"/>
<rect x="527" y="431.9" width="5" height="63.60000000000002" fill="url(#cb)"/>
<text x="535.5" y="438.2" font-size="11.7" stroke="#000" stroke-width="0.15">200</text>
<text x="535.5" y="451.7" font-size="11.7" stroke="#000" stroke-width="0.15">150</text>
<text x="535.5" y="468.6" font-size="11.7" stroke="#000" stroke-width="0.15">100</text>
<text x="535.5" y="485.7" font-size="11.7" stroke="#000" stroke-width="0.15">50</text>
<text x="535.5" y="498.3" font-size="11.7" stroke="#000" stroke-width="0.15">0</text>
<text transform="translate(566.8 494.8) rotate(-90)" font-size="11.2" textLength="62">current [pA]</text>
<rect x="526" y="513.3" width="7" height="68.60000000000002" fill="#000"/>
<rect x="527" y="515.6999999999999" width="5" height="63.60000000000002" fill="url(#cb)"/>
<text x="535.5" y="522.0" font-size="11.7" stroke="#000" stroke-width="0.15">200</text>
<text x="535.5" y="535.5" font-size="11.7" stroke="#000" stroke-width="0.15">150</text>
<text x="535.5" y="552.3" font-size="11.7" stroke="#000" stroke-width="0.15">100</text>
<text x="535.5" y="569.5" font-size="11.7" stroke="#000" stroke-width="0.15">50</text>
<text x="535.5" y="582.1" font-size="11.7" stroke="#000" stroke-width="0.15">0</text>
<text transform="translate(566.8 578.5999999999999) rotate(-90)" font-size="11.2" textLength="62">current [pA]</text>
<rect x="526" y="597.0999999999999" width="7" height="68.60000000000002" fill="#000"/>
<rect x="527" y="599.4999999999999" width="5" height="63.60000000000002" fill="url(#cb)"/>
<text x="535.5" y="605.8" font-size="11.7" stroke="#000" stroke-width="0.15">200</text>
<text x="535.5" y="619.3" font-size="11.7" stroke="#000" stroke-width="0.15">150</text>
<text x="535.5" y="636.1" font-size="11.7" stroke="#000" stroke-width="0.15">100</text>
<text x="535.5" y="653.3" font-size="11.7" stroke="#000" stroke-width="0.15">50</text>
<text x="535.5" y="665.9" font-size="11.7" stroke="#000" stroke-width="0.15">0</text>
<text transform="translate(566.8 662.3999999999999) rotate(-90)" font-size="11.2" textLength="62">current [pA]</text>
<text x="64.9" y="760.3" font-size="7.5" textLength="280.9" xml:space="preserve" stroke="#000" stroke-width="0.3">Generated on Fri Jun  2 13:55:59 2023 by mstevens@cfa.harvard.edu</text>
<text x="64.9" y="767.6" font-size="7.5" textLength="103.9" stroke="#000" stroke-width="0.3">For browse purposes only.</text>
</g></svg></body></html>
